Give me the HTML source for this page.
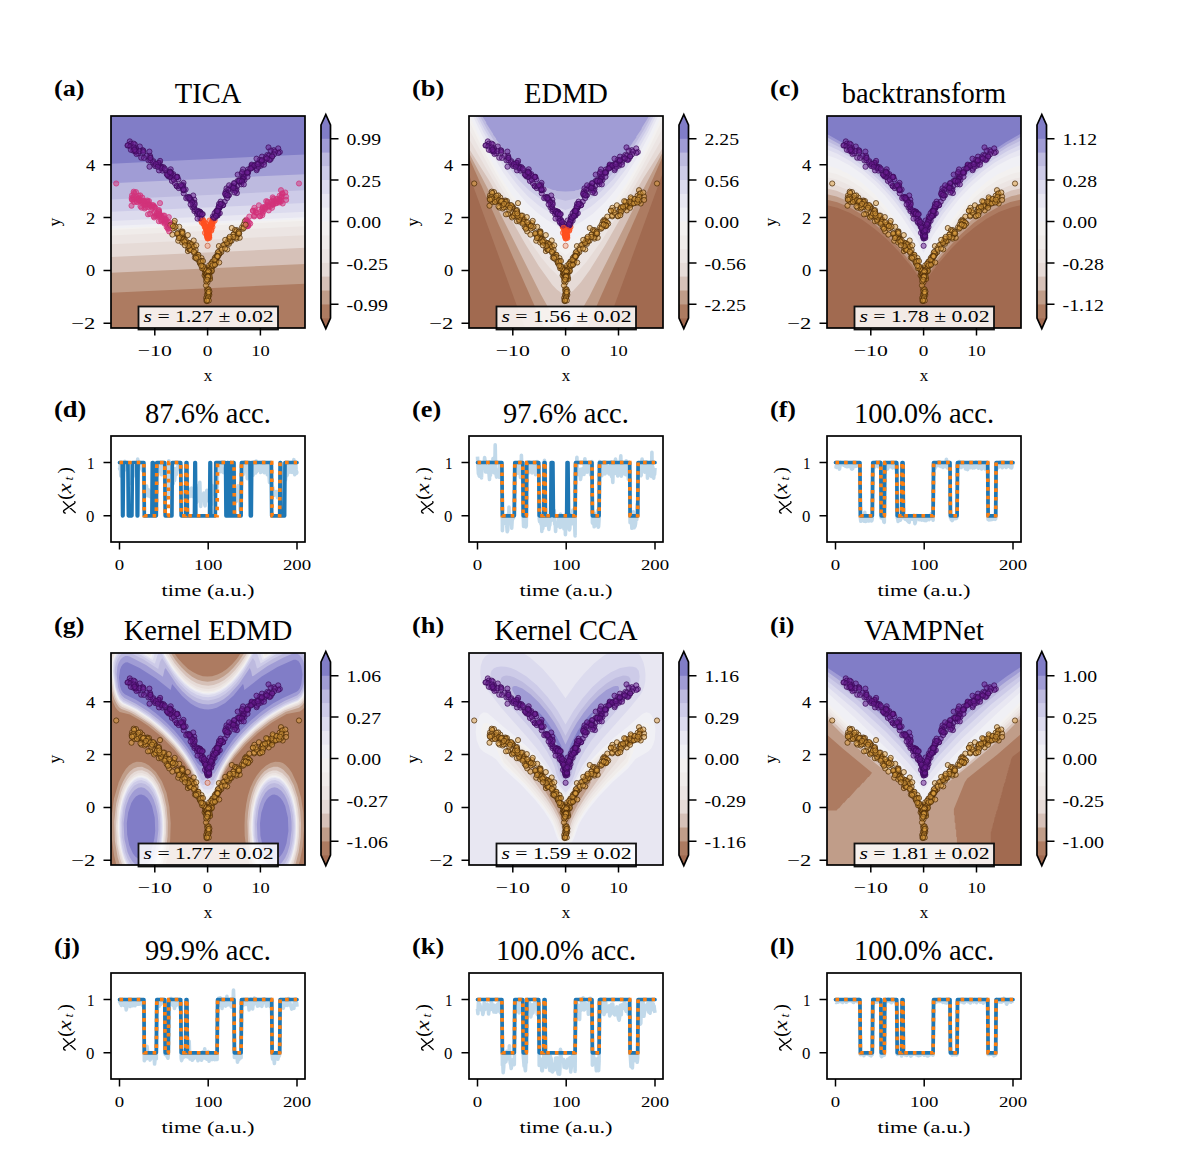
<!DOCTYPE html>
<html><head><meta charset="utf-8"><style>
html,body{margin:0;padding:0;background:#fff;width:1200px;height:1171px;overflow:hidden}
svg{display:block}
text{font-family:"Liberation Serif",serif;fill:#000}
</style></head><body>
<svg width="1200" height="1171" viewBox="0 0 1200 1171">
<defs><clipPath id="c00"><rect x="111.0" y="116.0" width="194.0" height="212.0"/></clipPath><clipPath id="c10"><rect x="469.0" y="116.0" width="194.0" height="212.0"/></clipPath><clipPath id="c20"><rect x="827.0" y="116.0" width="194.0" height="212.0"/></clipPath><clipPath id="c01"><rect x="111.0" y="653.0" width="194.0" height="212.0"/></clipPath><clipPath id="c11"><rect x="469.0" y="653.0" width="194.0" height="212.0"/></clipPath><clipPath id="c21"><rect x="827.0" y="653.0" width="194.0" height="212.0"/></clipPath><clipPath id="t00"><rect x="111.0" y="436.0" width="194.0" height="106.0"/></clipPath><clipPath id="t10"><rect x="469.0" y="436.0" width="194.0" height="106.0"/></clipPath><clipPath id="t20"><rect x="827.0" y="436.0" width="194.0" height="106.0"/></clipPath><clipPath id="t01"><rect x="111.0" y="973.0" width="194.0" height="106.0"/></clipPath><clipPath id="t11"><rect x="469.0" y="973.0" width="194.0" height="106.0"/></clipPath><clipPath id="t21"><rect x="827.0" y="973.0" width="194.0" height="106.0"/></clipPath></defs>
<rect width="1200" height="1171" fill="#fff"/>
<g clip-path="url(#c00)">
<rect x="111.0" y="116.0" width="194.0" height="212.0" fill="#a16a50"/>
<path fill="#ad7b61" d="M108.2 335.9L307.5 335.9 307.5 108 108.2 108 108.2 335.9Z"/>
<path fill="#c09d89" d="M108.2 293L307.5 283.6 307.5 108 108.2 108 108.2 293Z"/>
<path fill="#d6c1b8" d="M108.2 273L307.5 263.8 307.5 108 108.2 108 108.2 273Z"/>
<path fill="#e6dbd7" d="M108.2 256.8L108.2 257.1 307.5 247.7 307.5 108 108.2 108 108.2 256.8Z"/>
<path fill="#ece5e3" d="M108.2 244.4L307.5 235.1 307.5 108 108.2 108 108.2 244.4Z"/>
<path fill="#f0ecea" d="M108.2 234.8L108.2 235.6 307.5 226.1 307.5 108 108.2 108 108.2 234.8Z"/>
<path fill="#f3f1f0" d="M108.2 230.1L307.5 220.7 307.5 108 108.2 108 108.2 230.1Z"/>
<path fill="#f0f0f5" d="M108.2 228.2L110.5 228.4 307.5 219 307.5 108 108.2 108 108.2 228.2Z"/>
<path fill="#e8e7f2" d="M108.2 226.2L307.5 217.1 307.5 108 108.2 108 108.2 226.2Z"/>
<path fill="#dcdbee" d="M108.2 220.5L108.2 221.2 307.5 211.7 307.5 108 108.2 108 108.2 220.5Z"/>
<path fill="#cdcbe8" d="M108.2 211.9L307.5 202.8 307.5 108 108.2 108 108.2 211.9Z"/>
<path fill="#bdbadf" d="M108.2 199.6L307.5 190.2 307.5 108 108.2 108 108.2 199.6Z"/>
<path fill="#a09cd5" d="M108.2 183.3L307.5 174.1 307.5 108 108.2 108 108.2 183.3Z"/>
<path fill="#817dc7" d="M108.2 163.3L108.2 163.8 307.5 154.3 307.5 108 108.2 108 108.2 163.3Z"/>
<g fill="#d2327a" fill-opacity="0.5" stroke="#d2327a" stroke-opacity="0.8" stroke-width="0.9"><circle cx="137" cy="197.5" r="2.6"/><circle cx="278.6" cy="201.4" r="2.6"/></g>
<g fill="#dea040" fill-opacity="0.5" stroke="#4a2a05" stroke-opacity="0.8" stroke-width="0.9"><circle cx="229.7" cy="238.9" r="2.6"/><circle cx="172.4" cy="224.8" r="2.6"/><circle cx="233.9" cy="237.1" r="2.6"/><circle cx="187.8" cy="235.1" r="2.6"/><circle cx="206.6" cy="273.8" r="2.6"/></g>
<g fill="#d2327a" fill-opacity="0.5" stroke="#d2327a" stroke-opacity="0.8" stroke-width="0.9"><circle cx="253" cy="210.8" r="2.6"/></g>
<g fill="#dea040" fill-opacity="0.5" stroke="#4a2a05" stroke-opacity="0.8" stroke-width="0.9"><circle cx="205.7" cy="269.5" r="2.6"/><circle cx="184.1" cy="241.1" r="2.6"/><circle cx="187.3" cy="243.8" r="2.6"/></g>
<g fill="#d2327a" fill-opacity="0.5" stroke="#d2327a" stroke-opacity="0.8" stroke-width="0.9"><circle cx="147.8" cy="204.6" r="2.6"/></g>
<g fill="#dea040" fill-opacity="0.5" stroke="#4a2a05" stroke-opacity="0.8" stroke-width="0.9"><circle cx="174.4" cy="227.9" r="2.6"/><circle cx="182.8" cy="237" r="2.6"/></g>
<g fill="#d2327a" fill-opacity="0.5" stroke="#d2327a" stroke-opacity="0.8" stroke-width="0.9"><circle cx="165.5" cy="220.8" r="2.6"/><circle cx="141.5" cy="207.6" r="2.6"/></g>
<g fill="#dea040" fill-opacity="0.5" stroke="#4a2a05" stroke-opacity="0.8" stroke-width="0.9"><circle cx="205.8" cy="273.3" r="2.6"/></g>
<g fill="#d2327a" fill-opacity="0.5" stroke="#d2327a" stroke-opacity="0.8" stroke-width="0.9"><circle cx="169.2" cy="231.4" r="2.6"/></g>
<g fill="#dea040" fill-opacity="0.5" stroke="#4a2a05" stroke-opacity="0.8" stroke-width="0.9"><circle cx="233.6" cy="234.3" r="2.6"/></g>
<g fill="#d2327a" fill-opacity="0.5" stroke="#d2327a" stroke-opacity="0.8" stroke-width="0.9"><circle cx="269.9" cy="206.7" r="2.6"/></g>
<g fill="#dea040" fill-opacity="0.5" stroke="#4a2a05" stroke-opacity="0.8" stroke-width="0.9"><circle cx="181.6" cy="238.6" r="2.6"/><circle cx="212.5" cy="266.2" r="2.6"/><circle cx="207.5" cy="278.1" r="2.6"/></g>
<g fill="#d2327a" fill-opacity="0.5" stroke="#d2327a" stroke-opacity="0.8" stroke-width="0.9"><circle cx="144.6" cy="208.5" r="2.6"/><circle cx="153.9" cy="216.4" r="2.6"/><circle cx="262.7" cy="212.9" r="2.6"/></g>
<g fill="#dea040" fill-opacity="0.5" stroke="#4a2a05" stroke-opacity="0.8" stroke-width="0.9"><circle cx="204.6" cy="275.4" r="2.6"/></g>
<g fill="#d2327a" fill-opacity="0.5" stroke="#d2327a" stroke-opacity="0.8" stroke-width="0.9"><circle cx="247.4" cy="225.4" r="2.6"/><circle cx="147.3" cy="200.5" r="2.6"/></g>
<g fill="#dea040" fill-opacity="0.5" stroke="#4a2a05" stroke-opacity="0.8" stroke-width="0.9"><circle cx="215.9" cy="262.5" r="2.6"/></g>
<g fill="#d2327a" fill-opacity="0.5" stroke="#d2327a" stroke-opacity="0.8" stroke-width="0.9"><circle cx="256" cy="212.3" r="2.6"/><circle cx="259.8" cy="216.3" r="2.6"/><circle cx="132.1" cy="195.3" r="2.6"/></g>
<g fill="#dea040" fill-opacity="0.5" stroke="#4a2a05" stroke-opacity="0.8" stroke-width="0.9"><circle cx="208.7" cy="275.7" r="2.6"/><circle cx="196.4" cy="255.1" r="2.6"/><circle cx="236.8" cy="230.1" r="2.6"/></g>
<g fill="#d2327a" fill-opacity="0.5" stroke="#d2327a" stroke-opacity="0.8" stroke-width="0.9"><circle cx="149" cy="201.1" r="2.6"/></g>
<g fill="#dea040" fill-opacity="0.5" stroke="#4a2a05" stroke-opacity="0.8" stroke-width="0.9"><circle cx="182.1" cy="235.6" r="2.6"/></g>
<g fill="#d2327a" fill-opacity="0.5" stroke="#d2327a" stroke-opacity="0.8" stroke-width="0.9"><circle cx="246.9" cy="221.9" r="2.6"/></g>
<g fill="#dea040" fill-opacity="0.5" stroke="#4a2a05" stroke-opacity="0.8" stroke-width="0.9"><circle cx="205.3" cy="274.3" r="2.6"/><circle cx="205.7" cy="270.7" r="2.6"/></g>
<g fill="#d2327a" fill-opacity="0.5" stroke="#d2327a" stroke-opacity="0.8" stroke-width="0.9"><circle cx="279.1" cy="199.3" r="2.6"/></g>
<g fill="#dea040" fill-opacity="0.5" stroke="#4a2a05" stroke-opacity="0.8" stroke-width="0.9"><circle cx="191.4" cy="244.8" r="2.6"/></g>
<g fill="#d2327a" fill-opacity="0.5" stroke="#d2327a" stroke-opacity="0.8" stroke-width="0.9"><circle cx="139.6" cy="200.7" r="2.6"/></g>
<g fill="#dea040" fill-opacity="0.5" stroke="#4a2a05" stroke-opacity="0.8" stroke-width="0.9"><circle cx="201.5" cy="258.1" r="2.6"/></g>
<g fill="#d2327a" fill-opacity="0.5" stroke="#d2327a" stroke-opacity="0.8" stroke-width="0.9"><circle cx="158.9" cy="221.2" r="2.6"/><circle cx="147.7" cy="206.9" r="2.6"/></g>
<g fill="#dea040" fill-opacity="0.5" stroke="#4a2a05" stroke-opacity="0.8" stroke-width="0.9"><circle cx="210.9" cy="266.4" r="2.6"/></g>
<g fill="#d2327a" fill-opacity="0.5" stroke="#d2327a" stroke-opacity="0.8" stroke-width="0.9"><circle cx="275.9" cy="201.5" r="2.6"/></g>
<g fill="#dea040" fill-opacity="0.5" stroke="#4a2a05" stroke-opacity="0.8" stroke-width="0.9"><circle cx="213.9" cy="265.2" r="2.6"/><circle cx="221.3" cy="252.1" r="2.6"/><circle cx="188.2" cy="248.3" r="2.6"/><circle cx="212.1" cy="266.2" r="2.6"/><circle cx="231.8" cy="228" r="2.6"/><circle cx="212.6" cy="262" r="2.6"/></g>
<g fill="#d2327a" fill-opacity="0.5" stroke="#d2327a" stroke-opacity="0.8" stroke-width="0.9"><circle cx="247.4" cy="226" r="2.6"/></g>
<g fill="#dea040" fill-opacity="0.5" stroke="#4a2a05" stroke-opacity="0.8" stroke-width="0.9"><circle cx="211.3" cy="270.6" r="2.6"/><circle cx="169.8" cy="225.2" r="2.6"/><circle cx="212.2" cy="263.4" r="2.6"/><circle cx="206.6" cy="277.9" r="2.6"/></g>
<g fill="#d2327a" fill-opacity="0.5" stroke="#d2327a" stroke-opacity="0.8" stroke-width="0.9"><circle cx="163.4" cy="220.5" r="2.6"/></g>
<g fill="#dea040" fill-opacity="0.5" stroke="#4a2a05" stroke-opacity="0.8" stroke-width="0.9"><circle cx="216.2" cy="256.3" r="2.6"/></g>
<g fill="#d2327a" fill-opacity="0.5" stroke="#d2327a" stroke-opacity="0.8" stroke-width="0.9"><circle cx="246.3" cy="219.7" r="2.6"/><circle cx="158.2" cy="215" r="2.6"/></g>
<g fill="#dea040" fill-opacity="0.5" stroke="#4a2a05" stroke-opacity="0.8" stroke-width="0.9"><circle cx="211.1" cy="271.7" r="2.6"/><circle cx="236.6" cy="238.6" r="2.6"/><circle cx="199.6" cy="261.9" r="2.6"/><circle cx="178.2" cy="240.7" r="2.6"/><circle cx="197.9" cy="255" r="2.6"/><circle cx="210.3" cy="272.1" r="2.6"/><circle cx="225.5" cy="243.8" r="2.6"/><circle cx="209.1" cy="267.6" r="2.6"/></g>
<g fill="#d2327a" fill-opacity="0.5" stroke="#d2327a" stroke-opacity="0.8" stroke-width="0.9"><circle cx="155.2" cy="207.4" r="2.6"/><circle cx="250.2" cy="223.6" r="2.6"/><circle cx="267.7" cy="202.9" r="2.6"/><circle cx="154" cy="206.6" r="2.6"/></g>
<g fill="#dea040" fill-opacity="0.5" stroke="#4a2a05" stroke-opacity="0.8" stroke-width="0.9"><circle cx="177.8" cy="234.6" r="2.6"/></g>
<g fill="#d2327a" fill-opacity="0.5" stroke="#d2327a" stroke-opacity="0.8" stroke-width="0.9"><circle cx="164.4" cy="222.3" r="2.6"/><circle cx="254.2" cy="216.4" r="2.6"/><circle cx="268.7" cy="210.4" r="2.6"/><circle cx="142.3" cy="197.6" r="2.6"/></g>
<g fill="#dea040" fill-opacity="0.5" stroke="#4a2a05" stroke-opacity="0.8" stroke-width="0.9"><circle cx="187.9" cy="251.1" r="2.6"/></g>
<g fill="#d2327a" fill-opacity="0.5" stroke="#d2327a" stroke-opacity="0.8" stroke-width="0.9"><circle cx="167.5" cy="225.7" r="2.6"/></g>
<g fill="#dea040" fill-opacity="0.5" stroke="#4a2a05" stroke-opacity="0.8" stroke-width="0.9"><circle cx="206" cy="274" r="2.6"/></g>
<g fill="#d2327a" fill-opacity="0.5" stroke="#d2327a" stroke-opacity="0.8" stroke-width="0.9"><circle cx="268.9" cy="205.7" r="2.6"/><circle cx="146" cy="204.2" r="2.6"/><circle cx="166.1" cy="219.4" r="2.6"/></g>
<g fill="#dea040" fill-opacity="0.5" stroke="#4a2a05" stroke-opacity="0.8" stroke-width="0.9"><circle cx="207" cy="277.1" r="2.6"/><circle cx="207.4" cy="274.8" r="2.6"/><circle cx="239.7" cy="237.7" r="2.6"/><circle cx="203.9" cy="268" r="2.6"/></g>
<g fill="#d2327a" fill-opacity="0.5" stroke="#d2327a" stroke-opacity="0.8" stroke-width="0.9"><circle cx="158.8" cy="216.7" r="2.6"/></g>
<g fill="#dea040" fill-opacity="0.5" stroke="#4a2a05" stroke-opacity="0.8" stroke-width="0.9"><circle cx="194.8" cy="252" r="2.6"/></g>
<g fill="#d2327a" fill-opacity="0.5" stroke="#d2327a" stroke-opacity="0.8" stroke-width="0.9"><circle cx="281.5" cy="196.4" r="2.6"/></g>
<g fill="#dea040" fill-opacity="0.5" stroke="#4a2a05" stroke-opacity="0.8" stroke-width="0.9"><circle cx="238.1" cy="234.5" r="2.6"/></g>
<g fill="#d2327a" fill-opacity="0.5" stroke="#d2327a" stroke-opacity="0.8" stroke-width="0.9"><circle cx="154.1" cy="212.7" r="2.6"/></g>
<g fill="#dea040" fill-opacity="0.5" stroke="#4a2a05" stroke-opacity="0.8" stroke-width="0.9"><circle cx="244.9" cy="221.3" r="2.6"/><circle cx="189.3" cy="243.8" r="2.6"/><circle cx="242.8" cy="228.8" r="2.6"/></g>
<g fill="#d2327a" fill-opacity="0.5" stroke="#d2327a" stroke-opacity="0.8" stroke-width="0.9"><circle cx="136" cy="192.1" r="2.6"/><circle cx="254.4" cy="207.8" r="2.6"/><circle cx="161.4" cy="221.5" r="2.6"/></g>
<g fill="#dea040" fill-opacity="0.5" stroke="#4a2a05" stroke-opacity="0.8" stroke-width="0.9"><circle cx="205.6" cy="271.3" r="2.6"/><circle cx="218.9" cy="246.1" r="2.6"/><circle cx="207" cy="277.9" r="2.6"/></g>
<g fill="#d2327a" fill-opacity="0.5" stroke="#d2327a" stroke-opacity="0.8" stroke-width="0.9"><circle cx="165" cy="218.6" r="2.6"/><circle cx="159.2" cy="215.3" r="2.6"/></g>
<g fill="#dea040" fill-opacity="0.5" stroke="#4a2a05" stroke-opacity="0.8" stroke-width="0.9"><circle cx="183.8" cy="240.3" r="2.6"/></g>
<g fill="#d2327a" fill-opacity="0.5" stroke="#d2327a" stroke-opacity="0.8" stroke-width="0.9"><circle cx="141.6" cy="202.6" r="2.6"/></g>
<g fill="#dea040" fill-opacity="0.5" stroke="#4a2a05" stroke-opacity="0.8" stroke-width="0.9"><circle cx="172.7" cy="228.6" r="2.6"/></g>
<g fill="#d2327a" fill-opacity="0.5" stroke="#d2327a" stroke-opacity="0.8" stroke-width="0.9"><circle cx="159.1" cy="211.9" r="2.6"/></g>
<g fill="#dea040" fill-opacity="0.5" stroke="#4a2a05" stroke-opacity="0.8" stroke-width="0.9"><circle cx="205.6" cy="273.2" r="2.6"/><circle cx="194.3" cy="253.1" r="2.6"/><circle cx="215.2" cy="264" r="2.6"/><circle cx="184.2" cy="238.9" r="2.6"/></g>
<g fill="#d2327a" fill-opacity="0.5" stroke="#d2327a" stroke-opacity="0.8" stroke-width="0.9"><circle cx="136.7" cy="201.7" r="2.6"/></g>
<g fill="#dea040" fill-opacity="0.5" stroke="#4a2a05" stroke-opacity="0.8" stroke-width="0.9"><circle cx="191.3" cy="248.2" r="2.6"/><circle cx="235" cy="230.1" r="2.6"/><circle cx="181" cy="233.7" r="2.6"/><circle cx="201.2" cy="261.4" r="2.6"/><circle cx="236.3" cy="231.4" r="2.6"/><circle cx="200.9" cy="262.1" r="2.6"/></g>
<g fill="#d2327a" fill-opacity="0.5" stroke="#d2327a" stroke-opacity="0.8" stroke-width="0.9"><circle cx="261.7" cy="210.5" r="2.6"/><circle cx="268.3" cy="206.4" r="2.6"/></g>
<g fill="#dea040" fill-opacity="0.5" stroke="#4a2a05" stroke-opacity="0.8" stroke-width="0.9"><circle cx="190" cy="243.1" r="2.6"/><circle cx="236.1" cy="237.4" r="2.6"/><circle cx="182.5" cy="231.4" r="2.6"/></g>
<g fill="#d2327a" fill-opacity="0.5" stroke="#d2327a" stroke-opacity="0.8" stroke-width="0.9"><circle cx="159.7" cy="214.8" r="2.6"/></g>
<g fill="#dea040" fill-opacity="0.5" stroke="#4a2a05" stroke-opacity="0.8" stroke-width="0.9"><circle cx="203.1" cy="268.4" r="2.6"/><circle cx="216.1" cy="260.6" r="2.6"/></g>
<g fill="#d2327a" fill-opacity="0.5" stroke="#d2327a" stroke-opacity="0.8" stroke-width="0.9"><circle cx="272.6" cy="204.7" r="2.6"/><circle cx="161.2" cy="215.6" r="2.6"/></g>
<g fill="#dea040" fill-opacity="0.5" stroke="#4a2a05" stroke-opacity="0.8" stroke-width="0.9"><circle cx="231.5" cy="240.8" r="2.6"/><circle cx="207.7" cy="274.7" r="2.6"/></g>
<g fill="#d2327a" fill-opacity="0.5" stroke="#d2327a" stroke-opacity="0.8" stroke-width="0.9"><circle cx="156.8" cy="215.3" r="2.6"/><circle cx="282.7" cy="203.5" r="2.6"/></g>
<g fill="#dea040" fill-opacity="0.5" stroke="#4a2a05" stroke-opacity="0.8" stroke-width="0.9"><circle cx="229" cy="243.8" r="2.6"/></g>
<g fill="#d2327a" fill-opacity="0.5" stroke="#d2327a" stroke-opacity="0.8" stroke-width="0.9"><circle cx="154.2" cy="217.5" r="2.6"/><circle cx="265.3" cy="207.6" r="2.6"/><circle cx="154.2" cy="207" r="2.6"/><circle cx="151.4" cy="206.4" r="2.6"/></g>
<g fill="#dea040" fill-opacity="0.5" stroke="#4a2a05" stroke-opacity="0.8" stroke-width="0.9"><circle cx="189.5" cy="249.6" r="2.6"/></g>
<g fill="#d2327a" fill-opacity="0.5" stroke="#d2327a" stroke-opacity="0.8" stroke-width="0.9"><circle cx="273.2" cy="204.6" r="2.6"/><circle cx="140.2" cy="195.4" r="2.6"/><circle cx="267.4" cy="205" r="2.6"/></g>
<g fill="#dea040" fill-opacity="0.5" stroke="#4a2a05" stroke-opacity="0.8" stroke-width="0.9"><circle cx="216.5" cy="258.5" r="2.6"/></g>
<g fill="#d2327a" fill-opacity="0.5" stroke="#d2327a" stroke-opacity="0.8" stroke-width="0.9"><circle cx="146.6" cy="201.7" r="2.6"/></g>
<g fill="#dea040" fill-opacity="0.5" stroke="#4a2a05" stroke-opacity="0.8" stroke-width="0.9"><circle cx="209.2" cy="265.4" r="2.6"/><circle cx="206.9" cy="271.5" r="2.6"/><circle cx="211.4" cy="267.6" r="2.6"/><circle cx="233.4" cy="234.6" r="2.6"/><circle cx="224.2" cy="245.1" r="2.6"/></g>
<g fill="#d2327a" fill-opacity="0.5" stroke="#d2327a" stroke-opacity="0.8" stroke-width="0.9"><circle cx="286" cy="196.5" r="2.6"/><circle cx="161.1" cy="219.8" r="2.6"/><circle cx="247.1" cy="222" r="2.6"/></g>
<g fill="#dea040" fill-opacity="0.5" stroke="#4a2a05" stroke-opacity="0.8" stroke-width="0.9"><circle cx="200.2" cy="263.6" r="2.6"/><circle cx="242" cy="227.3" r="2.6"/></g>
<g fill="#d2327a" fill-opacity="0.5" stroke="#d2327a" stroke-opacity="0.8" stroke-width="0.9"><circle cx="262.3" cy="209.4" r="2.6"/><circle cx="281" cy="190.2" r="2.6"/></g>
<g fill="#dea040" fill-opacity="0.5" stroke="#4a2a05" stroke-opacity="0.8" stroke-width="0.9"><circle cx="180.2" cy="237.7" r="2.6"/><circle cx="205" cy="270.9" r="2.6"/></g>
<g fill="#d2327a" fill-opacity="0.5" stroke="#d2327a" stroke-opacity="0.8" stroke-width="0.9"><circle cx="273.3" cy="202.6" r="2.6"/><circle cx="273.1" cy="200.8" r="2.6"/></g>
<g fill="#dea040" fill-opacity="0.5" stroke="#4a2a05" stroke-opacity="0.8" stroke-width="0.9"><circle cx="198.4" cy="254.8" r="2.6"/></g>
<g fill="#d2327a" fill-opacity="0.5" stroke="#d2327a" stroke-opacity="0.8" stroke-width="0.9"><circle cx="273.3" cy="203.7" r="2.6"/></g>
<g fill="#dea040" fill-opacity="0.5" stroke="#4a2a05" stroke-opacity="0.8" stroke-width="0.9"><circle cx="199.7" cy="262.5" r="2.6"/><circle cx="194.9" cy="257.6" r="2.6"/><circle cx="239.1" cy="233.5" r="2.6"/><circle cx="206.9" cy="274.1" r="2.6"/><circle cx="204.8" cy="270" r="2.6"/><circle cx="197.2" cy="259.1" r="2.6"/><circle cx="203" cy="267.3" r="2.6"/></g>
<g fill="#d2327a" fill-opacity="0.5" stroke="#d2327a" stroke-opacity="0.8" stroke-width="0.9"><circle cx="159.8" cy="214.9" r="2.6"/><circle cx="144.5" cy="202.1" r="2.6"/></g>
<g fill="#dea040" fill-opacity="0.5" stroke="#4a2a05" stroke-opacity="0.8" stroke-width="0.9"><circle cx="238" cy="233.3" r="2.6"/><circle cx="211.8" cy="267.7" r="2.6"/><circle cx="227.2" cy="249.4" r="2.6"/></g>
<g fill="#d2327a" fill-opacity="0.5" stroke="#d2327a" stroke-opacity="0.8" stroke-width="0.9"><circle cx="247.4" cy="226.2" r="2.6"/></g>
<g fill="#dea040" fill-opacity="0.5" stroke="#4a2a05" stroke-opacity="0.8" stroke-width="0.9"><circle cx="179.2" cy="226.8" r="2.6"/><circle cx="172.4" cy="234.6" r="2.6"/><circle cx="183.1" cy="238.8" r="2.6"/><circle cx="188.1" cy="242.7" r="2.6"/><circle cx="238.7" cy="231.8" r="2.6"/><circle cx="196" cy="256.7" r="2.6"/><circle cx="190.4" cy="246.6" r="2.6"/><circle cx="219.5" cy="253.8" r="2.6"/></g>
<g fill="#d2327a" fill-opacity="0.5" stroke="#d2327a" stroke-opacity="0.8" stroke-width="0.9"><circle cx="168.3" cy="222.7" r="2.6"/><circle cx="150.1" cy="213.9" r="2.6"/></g>
<g fill="#dea040" fill-opacity="0.5" stroke="#4a2a05" stroke-opacity="0.8" stroke-width="0.9"><circle cx="228.2" cy="242.7" r="2.6"/><circle cx="239" cy="233.4" r="2.6"/><circle cx="185.6" cy="242.4" r="2.6"/><circle cx="219.1" cy="253.7" r="2.6"/></g>
<g fill="#d2327a" fill-opacity="0.5" stroke="#d2327a" stroke-opacity="0.8" stroke-width="0.9"><circle cx="138.9" cy="198.1" r="2.6"/></g>
<g fill="#dea040" fill-opacity="0.5" stroke="#4a2a05" stroke-opacity="0.8" stroke-width="0.9"><circle cx="201.7" cy="261.1" r="2.6"/><circle cx="213.4" cy="265.3" r="2.6"/><circle cx="181.7" cy="232.2" r="2.6"/><circle cx="195.6" cy="249.9" r="2.6"/><circle cx="214.8" cy="258" r="2.6"/><circle cx="212.4" cy="261.7" r="2.6"/></g>
<g fill="#d2327a" fill-opacity="0.5" stroke="#d2327a" stroke-opacity="0.8" stroke-width="0.9"><circle cx="162.2" cy="217.5" r="2.6"/></g>
<g fill="#dea040" fill-opacity="0.5" stroke="#4a2a05" stroke-opacity="0.8" stroke-width="0.9"><circle cx="229.6" cy="241" r="2.6"/></g>
<g fill="#d2327a" fill-opacity="0.5" stroke="#d2327a" stroke-opacity="0.8" stroke-width="0.9"><circle cx="149" cy="204.1" r="2.6"/><circle cx="280.9" cy="201.7" r="2.6"/></g>
<g fill="#dea040" fill-opacity="0.5" stroke="#4a2a05" stroke-opacity="0.8" stroke-width="0.9"><circle cx="171.7" cy="224.7" r="2.6"/><circle cx="178.9" cy="234.9" r="2.6"/><circle cx="170.2" cy="225.5" r="2.6"/></g>
<g fill="#d2327a" fill-opacity="0.5" stroke="#d2327a" stroke-opacity="0.8" stroke-width="0.9"><circle cx="286.1" cy="199.9" r="2.6"/></g>
<g fill="#dea040" fill-opacity="0.5" stroke="#4a2a05" stroke-opacity="0.8" stroke-width="0.9"><circle cx="183.5" cy="241.2" r="2.6"/><circle cx="215.8" cy="259.7" r="2.6"/></g>
<g fill="#d2327a" fill-opacity="0.5" stroke="#d2327a" stroke-opacity="0.8" stroke-width="0.9"><circle cx="282.5" cy="193.8" r="2.6"/><circle cx="273.3" cy="198.9" r="2.6"/><circle cx="139.7" cy="200.9" r="2.6"/></g>
<g fill="#dea040" fill-opacity="0.5" stroke="#4a2a05" stroke-opacity="0.8" stroke-width="0.9"><circle cx="208.5" cy="275.7" r="2.6"/><circle cx="216.4" cy="261.1" r="2.6"/><circle cx="228" cy="240.9" r="2.6"/><circle cx="191.8" cy="249.1" r="2.6"/><circle cx="192.1" cy="246.6" r="2.6"/></g>
<g fill="#d2327a" fill-opacity="0.5" stroke="#d2327a" stroke-opacity="0.8" stroke-width="0.9"><circle cx="133.7" cy="191.7" r="2.6"/><circle cx="138.2" cy="199.8" r="2.6"/></g>
<g fill="#dea040" fill-opacity="0.5" stroke="#4a2a05" stroke-opacity="0.8" stroke-width="0.9"><circle cx="211.9" cy="270.9" r="2.6"/></g>
<g fill="#d2327a" fill-opacity="0.5" stroke="#d2327a" stroke-opacity="0.8" stroke-width="0.9"><circle cx="145.6" cy="207.3" r="2.6"/><circle cx="168.6" cy="228" r="2.6"/></g>
<g fill="#dea040" fill-opacity="0.5" stroke="#4a2a05" stroke-opacity="0.8" stroke-width="0.9"><circle cx="189.9" cy="249.8" r="2.6"/></g>
<g fill="#d2327a" fill-opacity="0.5" stroke="#d2327a" stroke-opacity="0.8" stroke-width="0.9"><circle cx="147.7" cy="201.7" r="2.6"/><circle cx="137.6" cy="198.7" r="2.6"/><circle cx="272" cy="207.8" r="2.6"/></g>
<g fill="#dea040" fill-opacity="0.5" stroke="#4a2a05" stroke-opacity="0.8" stroke-width="0.9"><circle cx="204.3" cy="267.2" r="2.6"/><circle cx="174.1" cy="223.1" r="2.6"/><circle cx="230.3" cy="241" r="2.6"/></g>
<g fill="#d2327a" fill-opacity="0.5" stroke="#d2327a" stroke-opacity="0.8" stroke-width="0.9"><circle cx="131.7" cy="198" r="2.6"/></g>
<g fill="#dea040" fill-opacity="0.5" stroke="#4a2a05" stroke-opacity="0.8" stroke-width="0.9"><circle cx="177.9" cy="233.1" r="2.6"/></g>
<g fill="#d2327a" fill-opacity="0.5" stroke="#d2327a" stroke-opacity="0.8" stroke-width="0.9"><circle cx="276.6" cy="199.1" r="2.6"/><circle cx="262.6" cy="207.3" r="2.6"/></g>
<g fill="#dea040" fill-opacity="0.5" stroke="#4a2a05" stroke-opacity="0.8" stroke-width="0.9"><circle cx="217.7" cy="252.8" r="2.6"/></g>
<g fill="#d2327a" fill-opacity="0.5" stroke="#d2327a" stroke-opacity="0.8" stroke-width="0.9"><circle cx="152.4" cy="205.2" r="2.6"/></g>
<g fill="#dea040" fill-opacity="0.5" stroke="#4a2a05" stroke-opacity="0.8" stroke-width="0.9"><circle cx="191.7" cy="244" r="2.6"/></g>
<g fill="#d2327a" fill-opacity="0.5" stroke="#d2327a" stroke-opacity="0.8" stroke-width="0.9"><circle cx="138.5" cy="195.7" r="2.6"/></g>
<g fill="#dea040" fill-opacity="0.5" stroke="#4a2a05" stroke-opacity="0.8" stroke-width="0.9"><circle cx="175.5" cy="226.7" r="2.6"/></g>
<g fill="#d2327a" fill-opacity="0.5" stroke="#d2327a" stroke-opacity="0.8" stroke-width="0.9"><circle cx="134" cy="202" r="2.6"/><circle cx="156.9" cy="213.1" r="2.6"/></g>
<g fill="#dea040" fill-opacity="0.5" stroke="#4a2a05" stroke-opacity="0.8" stroke-width="0.9"><circle cx="218.7" cy="254.1" r="2.6"/></g>
<g fill="#d2327a" fill-opacity="0.5" stroke="#d2327a" stroke-opacity="0.8" stroke-width="0.9"><circle cx="151.3" cy="209.8" r="2.6"/><circle cx="164.4" cy="215.6" r="2.6"/><circle cx="265.2" cy="208.7" r="2.6"/></g>
<g fill="#dea040" fill-opacity="0.5" stroke="#4a2a05" stroke-opacity="0.8" stroke-width="0.9"><circle cx="190.7" cy="249.8" r="2.6"/><circle cx="194.1" cy="246.6" r="2.6"/></g>
<g fill="#d2327a" fill-opacity="0.5" stroke="#d2327a" stroke-opacity="0.8" stroke-width="0.9"><circle cx="150.1" cy="205.4" r="2.6"/></g>
<g fill="#dea040" fill-opacity="0.5" stroke="#4a2a05" stroke-opacity="0.8" stroke-width="0.9"><circle cx="243.7" cy="224.5" r="2.6"/><circle cx="223.3" cy="245.1" r="2.6"/><circle cx="209" cy="270.4" r="2.6"/><circle cx="216.8" cy="257" r="2.6"/></g>
<g fill="#d2327a" fill-opacity="0.5" stroke="#d2327a" stroke-opacity="0.8" stroke-width="0.9"><circle cx="148" cy="214.3" r="2.6"/></g>
<g fill="#dea040" fill-opacity="0.5" stroke="#4a2a05" stroke-opacity="0.8" stroke-width="0.9"><circle cx="179.7" cy="236.4" r="2.6"/><circle cx="214" cy="264.2" r="2.6"/></g>
<g fill="#d2327a" fill-opacity="0.5" stroke="#d2327a" stroke-opacity="0.8" stroke-width="0.9"><circle cx="276.6" cy="203.1" r="2.6"/><circle cx="247.6" cy="221" r="2.6"/></g>
<g fill="#dea040" fill-opacity="0.5" stroke="#4a2a05" stroke-opacity="0.8" stroke-width="0.9"><circle cx="218.3" cy="251.8" r="2.6"/><circle cx="208.7" cy="276.2" r="2.6"/></g>
<g fill="#d2327a" fill-opacity="0.5" stroke="#d2327a" stroke-opacity="0.8" stroke-width="0.9"><circle cx="132.3" cy="199.8" r="2.6"/><circle cx="258.9" cy="205.3" r="2.6"/><circle cx="144.3" cy="205.1" r="2.6"/><circle cx="155.6" cy="215.9" r="2.6"/></g>
<g fill="#dea040" fill-opacity="0.5" stroke="#4a2a05" stroke-opacity="0.8" stroke-width="0.9"><circle cx="226.9" cy="242.9" r="2.6"/></g>
<g fill="#d2327a" fill-opacity="0.5" stroke="#d2327a" stroke-opacity="0.8" stroke-width="0.9"><circle cx="246.3" cy="221.4" r="2.6"/></g>
<g fill="#dea040" fill-opacity="0.5" stroke="#4a2a05" stroke-opacity="0.8" stroke-width="0.9"><circle cx="243.8" cy="227.9" r="2.6"/><circle cx="205.9" cy="270.4" r="2.6"/></g>
<g fill="#d2327a" fill-opacity="0.5" stroke="#d2327a" stroke-opacity="0.8" stroke-width="0.9"><circle cx="165.8" cy="221.9" r="2.6"/><circle cx="137" cy="201.9" r="2.6"/><circle cx="254.1" cy="215.5" r="2.6"/><circle cx="279.7" cy="195.7" r="2.6"/></g>
<g fill="#dea040" fill-opacity="0.5" stroke="#4a2a05" stroke-opacity="0.8" stroke-width="0.9"><circle cx="177.1" cy="233.5" r="2.6"/></g>
<g fill="#d2327a" fill-opacity="0.5" stroke="#d2327a" stroke-opacity="0.8" stroke-width="0.9"><circle cx="256.7" cy="212.8" r="2.6"/></g>
<g fill="#dea040" fill-opacity="0.5" stroke="#4a2a05" stroke-opacity="0.8" stroke-width="0.9"><circle cx="200.3" cy="261.4" r="2.6"/><circle cx="193.7" cy="240.5" r="2.6"/><circle cx="208.4" cy="278.6" r="2.6"/></g>
<g fill="#d2327a" fill-opacity="0.5" stroke="#d2327a" stroke-opacity="0.8" stroke-width="0.9"><circle cx="134.1" cy="193" r="2.6"/></g>
<g fill="#dea040" fill-opacity="0.5" stroke="#4a2a05" stroke-opacity="0.8" stroke-width="0.9"><circle cx="204.2" cy="269" r="2.6"/><circle cx="170.5" cy="224.9" r="2.6"/><circle cx="228.9" cy="238.5" r="2.6"/><circle cx="206.8" cy="278.7" r="2.6"/></g>
<g fill="#d2327a" fill-opacity="0.5" stroke="#d2327a" stroke-opacity="0.8" stroke-width="0.9"><circle cx="255.7" cy="210.4" r="2.6"/><circle cx="262.9" cy="208.1" r="2.6"/></g>
<g fill="#dea040" fill-opacity="0.5" stroke="#4a2a05" stroke-opacity="0.8" stroke-width="0.9"><circle cx="188.5" cy="246.1" r="2.6"/><circle cx="183.1" cy="239.6" r="2.6"/></g>
<g fill="#d2327a" fill-opacity="0.5" stroke="#d2327a" stroke-opacity="0.8" stroke-width="0.9"><circle cx="271.6" cy="201.5" r="2.6"/></g>
<g fill="#dea040" fill-opacity="0.5" stroke="#4a2a05" stroke-opacity="0.8" stroke-width="0.9"><circle cx="207.1" cy="278.6" r="2.6"/></g>
<g fill="#d2327a" fill-opacity="0.5" stroke="#d2327a" stroke-opacity="0.8" stroke-width="0.9"><circle cx="153.4" cy="205.3" r="2.6"/><circle cx="141.2" cy="200.2" r="2.6"/><circle cx="282.3" cy="193.4" r="2.6"/></g>
<g fill="#dea040" fill-opacity="0.5" stroke="#4a2a05" stroke-opacity="0.8" stroke-width="0.9"><circle cx="211.2" cy="263.8" r="2.6"/></g>
<g fill="#d2327a" fill-opacity="0.5" stroke="#d2327a" stroke-opacity="0.8" stroke-width="0.9"><circle cx="142.6" cy="202" r="2.6"/></g>
<g fill="#dea040" fill-opacity="0.5" stroke="#4a2a05" stroke-opacity="0.8" stroke-width="0.9"><circle cx="209.3" cy="277.7" r="2.6"/><circle cx="208.8" cy="278.8" r="2.6"/><circle cx="202.1" cy="268.3" r="2.6"/></g>
<g fill="#d2327a" fill-opacity="0.5" stroke="#d2327a" stroke-opacity="0.8" stroke-width="0.9"><circle cx="272.7" cy="197.4" r="2.6"/><circle cx="275.6" cy="203.3" r="2.6"/><circle cx="158.9" cy="210" r="2.6"/><circle cx="163" cy="215.6" r="2.6"/></g>
<g fill="#dea040" fill-opacity="0.5" stroke="#4a2a05" stroke-opacity="0.8" stroke-width="0.9"><circle cx="203" cy="261.1" r="2.6"/></g>
<g fill="#d2327a" fill-opacity="0.5" stroke="#d2327a" stroke-opacity="0.8" stroke-width="0.9"><circle cx="249.3" cy="216.6" r="2.6"/></g>
<g fill="#dea040" fill-opacity="0.5" stroke="#4a2a05" stroke-opacity="0.8" stroke-width="0.9"><circle cx="218.1" cy="256.3" r="2.6"/><circle cx="233.3" cy="236.9" r="2.6"/><circle cx="212.6" cy="265.3" r="2.6"/><circle cx="172.9" cy="226.1" r="2.6"/></g>
<g fill="#d2327a" fill-opacity="0.5" stroke="#d2327a" stroke-opacity="0.8" stroke-width="0.9"><circle cx="249" cy="222.4" r="2.6"/><circle cx="133.5" cy="197.1" r="2.6"/></g>
<g fill="#dea040" fill-opacity="0.5" stroke="#4a2a05" stroke-opacity="0.8" stroke-width="0.9"><circle cx="225.2" cy="239.9" r="2.6"/></g>
<g fill="#d2327a" fill-opacity="0.5" stroke="#d2327a" stroke-opacity="0.8" stroke-width="0.9"><circle cx="166.7" cy="227.1" r="2.6"/></g>
<g fill="#dea040" fill-opacity="0.5" stroke="#4a2a05" stroke-opacity="0.8" stroke-width="0.9"><circle cx="206.6" cy="274.2" r="2.6"/></g>
<g fill="#d2327a" fill-opacity="0.5" stroke="#d2327a" stroke-opacity="0.8" stroke-width="0.9"><circle cx="281.4" cy="200" r="2.6"/></g>
<g fill="#dea040" fill-opacity="0.5" stroke="#4a2a05" stroke-opacity="0.8" stroke-width="0.9"><circle cx="209.3" cy="272.3" r="2.6"/></g>
<g fill="#d2327a" fill-opacity="0.5" stroke="#d2327a" stroke-opacity="0.8" stroke-width="0.9"><circle cx="144.2" cy="200.8" r="2.6"/></g>
<g fill="#dea040" fill-opacity="0.5" stroke="#4a2a05" stroke-opacity="0.8" stroke-width="0.9"><circle cx="203" cy="266.4" r="2.6"/><circle cx="221.4" cy="248.4" r="2.6"/></g>
<g fill="#d2327a" fill-opacity="0.5" stroke="#d2327a" stroke-opacity="0.8" stroke-width="0.9"><circle cx="140.5" cy="206.3" r="2.6"/></g>
<g fill="#dea040" fill-opacity="0.5" stroke="#4a2a05" stroke-opacity="0.8" stroke-width="0.9"><circle cx="182" cy="231.8" r="2.6"/></g>
<g fill="#d2327a" fill-opacity="0.5" stroke="#d2327a" stroke-opacity="0.8" stroke-width="0.9"><circle cx="133.7" cy="199" r="2.6"/></g>
<g fill="#dea040" fill-opacity="0.5" stroke="#4a2a05" stroke-opacity="0.8" stroke-width="0.9"><circle cx="208.9" cy="271.9" r="2.6"/><circle cx="198.3" cy="257.2" r="2.6"/><circle cx="210.1" cy="279" r="2.6"/><circle cx="185.1" cy="242.6" r="2.6"/><circle cx="221.8" cy="249.7" r="2.6"/></g>
<g fill="#d2327a" fill-opacity="0.5" stroke="#d2327a" stroke-opacity="0.8" stroke-width="0.9"><circle cx="168.8" cy="217.1" r="2.6"/><circle cx="265" cy="206.7" r="2.6"/><circle cx="276.5" cy="199.2" r="2.6"/></g>
<g fill="#dea040" fill-opacity="0.5" stroke="#4a2a05" stroke-opacity="0.8" stroke-width="0.9"><circle cx="206.1" cy="278.3" r="2.6"/><circle cx="207.4" cy="272.7" r="2.6"/></g>
<g fill="#d2327a" fill-opacity="0.5" stroke="#d2327a" stroke-opacity="0.8" stroke-width="0.9"><circle cx="252.9" cy="210.7" r="2.6"/></g>
<g fill="#dea040" fill-opacity="0.5" stroke="#4a2a05" stroke-opacity="0.8" stroke-width="0.9"><circle cx="185.7" cy="240.4" r="2.6"/></g>
<g fill="#d2327a" fill-opacity="0.5" stroke="#d2327a" stroke-opacity="0.8" stroke-width="0.9"><circle cx="245.8" cy="224.2" r="2.6"/></g>
<g fill="#dea040" fill-opacity="0.5" stroke="#4a2a05" stroke-opacity="0.8" stroke-width="0.9"><circle cx="182.2" cy="242.5" r="2.6"/><circle cx="229.7" cy="236.9" r="2.6"/><circle cx="196.3" cy="245.3" r="2.6"/><circle cx="214.5" cy="259.7" r="2.6"/></g>
<g fill="#d2327a" fill-opacity="0.5" stroke="#d2327a" stroke-opacity="0.8" stroke-width="0.9"><circle cx="267.6" cy="201.7" r="2.6"/><circle cx="143.2" cy="201.1" r="2.6"/><circle cx="247.9" cy="225" r="2.6"/></g>
<g fill="#dea040" fill-opacity="0.5" stroke="#4a2a05" stroke-opacity="0.8" stroke-width="0.9"><circle cx="208.3" cy="271.3" r="2.6"/><circle cx="196" cy="258" r="2.6"/><circle cx="193.8" cy="251.7" r="2.6"/></g>
<g fill="#d2327a" fill-opacity="0.5" stroke="#d2327a" stroke-opacity="0.8" stroke-width="0.9"><circle cx="146" cy="203.8" r="2.6"/></g>
<g fill="#dea040" fill-opacity="0.5" stroke="#4a2a05" stroke-opacity="0.8" stroke-width="0.9"><circle cx="182.5" cy="233.2" r="2.6"/><circle cx="217.3" cy="256" r="2.6"/></g>
<g fill="#d2327a" fill-opacity="0.5" stroke="#d2327a" stroke-opacity="0.8" stroke-width="0.9"><circle cx="152" cy="207.7" r="2.6"/></g>
<g fill="#dea040" fill-opacity="0.5" stroke="#4a2a05" stroke-opacity="0.8" stroke-width="0.9"><circle cx="225.1" cy="248.5" r="2.6"/></g>
<g fill="#d2327a" fill-opacity="0.5" stroke="#d2327a" stroke-opacity="0.8" stroke-width="0.9"><circle cx="279.1" cy="202.5" r="2.6"/><circle cx="281.4" cy="197" r="2.6"/><circle cx="263" cy="211.5" r="2.6"/><circle cx="248.4" cy="225.8" r="2.6"/><circle cx="164.6" cy="223.6" r="2.6"/><circle cx="279.8" cy="199.6" r="2.6"/><circle cx="167.9" cy="228.8" r="2.6"/><circle cx="260.1" cy="215.9" r="2.6"/><circle cx="262.3" cy="215.2" r="2.6"/></g>
<g fill="#dea040" fill-opacity="0.5" stroke="#4a2a05" stroke-opacity="0.8" stroke-width="0.9"><circle cx="217.5" cy="256.4" r="2.6"/><circle cx="208" cy="275.5" r="2.6"/><circle cx="174.7" cy="220.9" r="2.6"/><circle cx="209.7" cy="276.4" r="2.6"/><circle cx="184.5" cy="241.6" r="2.6"/></g>
<g fill="#d2327a" fill-opacity="0.5" stroke="#d2327a" stroke-opacity="0.8" stroke-width="0.9"><circle cx="158.5" cy="210.9" r="2.6"/><circle cx="157.1" cy="213.6" r="2.6"/></g>
<g fill="#dea040" fill-opacity="0.5" stroke="#4a2a05" stroke-opacity="0.8" stroke-width="0.9"><circle cx="245.6" cy="224.7" r="2.6"/></g>
<g fill="#d2327a" fill-opacity="0.5" stroke="#d2327a" stroke-opacity="0.8" stroke-width="0.9"><circle cx="266.2" cy="201.2" r="2.6"/><circle cx="159.5" cy="216" r="2.6"/><circle cx="131.9" cy="199.6" r="2.6"/></g>
<g fill="#dea040" fill-opacity="0.5" stroke="#4a2a05" stroke-opacity="0.8" stroke-width="0.9"><circle cx="178.9" cy="238.1" r="2.6"/></g>
<g fill="#d2327a" fill-opacity="0.5" stroke="#d2327a" stroke-opacity="0.8" stroke-width="0.9"><circle cx="159.3" cy="213.4" r="2.6"/><circle cx="169.4" cy="222.2" r="2.6"/></g>
<g fill="#dea040" fill-opacity="0.5" stroke="#4a2a05" stroke-opacity="0.8" stroke-width="0.9"><circle cx="215" cy="264.8" r="2.6"/><circle cx="201.3" cy="265.7" r="2.6"/><circle cx="207.9" cy="297.4" r="2.6"/><circle cx="208" cy="289.3" r="2.6"/><circle cx="207.2" cy="300.8" r="2.6"/><circle cx="208" cy="292.5" r="2.6"/><circle cx="208" cy="277.1" r="2.6"/><circle cx="206.5" cy="301" r="2.6"/><circle cx="207.4" cy="282.4" r="2.6"/><circle cx="207.9" cy="279.4" r="2.6"/><circle cx="207.2" cy="289.3" r="2.6"/><circle cx="206.2" cy="281.3" r="2.6"/><circle cx="207.4" cy="291.2" r="2.6"/><circle cx="208.1" cy="293.6" r="2.6"/><circle cx="208.6" cy="289.4" r="2.6"/><circle cx="206.2" cy="298" r="2.6"/><circle cx="209.3" cy="294.9" r="2.6"/><circle cx="206.9" cy="294.9" r="2.6"/><circle cx="208.2" cy="276" r="2.6"/><circle cx="208.4" cy="294.1" r="2.6"/><circle cx="208.2" cy="297.1" r="2.6"/><circle cx="207.7" cy="277.3" r="2.6"/><circle cx="206.9" cy="299.6" r="2.6"/><circle cx="208" cy="276.6" r="2.6"/><circle cx="207.1" cy="279.7" r="2.6"/><circle cx="206" cy="285.5" r="2.6"/><circle cx="209.4" cy="291.5" r="2.6"/><circle cx="208" cy="297.9" r="2.6"/><circle cx="208.8" cy="300.5" r="2.6"/><circle cx="207" cy="300.5" r="2.6"/><circle cx="208.5" cy="293.7" r="2.6"/><circle cx="208.6" cy="292.1" r="2.6"/></g>
<g fill="#d2327a" fill-opacity="0.5" stroke="#d2327a" stroke-opacity="0.8" stroke-width="0.9"><circle cx="116.2" cy="183.5" r="2.6"/><circle cx="299" cy="183.5" r="2.6"/><circle cx="131.5" cy="205.7" r="2.6"/><circle cx="285.3" cy="192.5" r="2.6"/><circle cx="160" cy="203.1" r="2.6"/></g>
<g fill="#dea040" fill-opacity="0.5" stroke="#4a2a05" stroke-opacity="0.8" stroke-width="0.9"><circle cx="219.2" cy="262.5" r="2.6"/><circle cx="184.9" cy="245.3" r="2.6"/></g>
<g fill="#6c1d92" fill-opacity="0.5" stroke="#3c0a5a" stroke-opacity="0.8" stroke-width="0.9"><circle cx="217.6" cy="215.5" r="2.6"/><circle cx="257.7" cy="164" r="2.6"/><circle cx="237.1" cy="186.2" r="2.6"/><circle cx="178.3" cy="179.4" r="2.6"/><circle cx="187.5" cy="197.4" r="2.6"/><circle cx="251.7" cy="166.2" r="2.6"/><circle cx="129.8" cy="141.4" r="2.6"/><circle cx="243.6" cy="177" r="2.6"/><circle cx="240.1" cy="181.9" r="2.6"/></g>
<g fill="#ff4f1f" fill-opacity="0.5" stroke="#ff4f1f" stroke-opacity="0.8" stroke-width="0.9"><circle cx="206.8" cy="232.8" r="2.6"/></g>
<g fill="#6c1d92" fill-opacity="0.5" stroke="#3c0a5a" stroke-opacity="0.8" stroke-width="0.9"><circle cx="189.3" cy="197" r="2.6"/><circle cx="183.7" cy="193.3" r="2.6"/><circle cx="182.7" cy="186.2" r="2.6"/></g>
<g fill="#ff4f1f" fill-opacity="0.5" stroke="#ff4f1f" stroke-opacity="0.8" stroke-width="0.9"><circle cx="207.4" cy="227.3" r="2.6"/><circle cx="207.9" cy="238.3" r="2.6"/><circle cx="209.8" cy="229.1" r="2.6"/></g>
<g fill="#6c1d92" fill-opacity="0.5" stroke="#3c0a5a" stroke-opacity="0.8" stroke-width="0.9"><circle cx="279.8" cy="152" r="2.6"/><circle cx="237.5" cy="181" r="2.6"/><circle cx="216.8" cy="215.8" r="2.6"/><circle cx="278.4" cy="152.9" r="2.6"/><circle cx="177.3" cy="176.7" r="2.6"/><circle cx="162.4" cy="170.6" r="2.6"/><circle cx="212.9" cy="216.4" r="2.6"/><circle cx="139.8" cy="146.5" r="2.6"/><circle cx="136.1" cy="148.3" r="2.6"/></g>
<g fill="#ff4f1f" fill-opacity="0.5" stroke="#ff4f1f" stroke-opacity="0.8" stroke-width="0.9"><circle cx="207.3" cy="236.4" r="2.6"/><circle cx="208.5" cy="232" r="2.6"/></g>
<g fill="#6c1d92" fill-opacity="0.5" stroke="#3c0a5a" stroke-opacity="0.8" stroke-width="0.9"><circle cx="261.7" cy="160.9" r="2.6"/><circle cx="216.7" cy="214" r="2.6"/></g>
<g fill="#ff4f1f" fill-opacity="0.5" stroke="#ff4f1f" stroke-opacity="0.8" stroke-width="0.9"><circle cx="209.1" cy="236.8" r="2.6"/><circle cx="207.6" cy="238.5" r="2.6"/></g>
<g fill="#6c1d92" fill-opacity="0.5" stroke="#3c0a5a" stroke-opacity="0.8" stroke-width="0.9"><circle cx="183.5" cy="182.9" r="2.6"/><circle cx="130.9" cy="143.6" r="2.6"/><circle cx="168.7" cy="176.5" r="2.6"/><circle cx="224.7" cy="201.8" r="2.6"/><circle cx="171.1" cy="177.2" r="2.6"/><circle cx="198.6" cy="211.2" r="2.6"/><circle cx="127.5" cy="145.5" r="2.6"/><circle cx="244.2" cy="174.4" r="2.6"/><circle cx="163.4" cy="167.1" r="2.6"/><circle cx="183.2" cy="190.1" r="2.6"/><circle cx="254.1" cy="166.4" r="2.6"/></g>
<g fill="#ff4f1f" fill-opacity="0.5" stroke="#ff4f1f" stroke-opacity="0.8" stroke-width="0.9"><circle cx="207.5" cy="237.4" r="2.6"/></g>
<g fill="#6c1d92" fill-opacity="0.5" stroke="#3c0a5a" stroke-opacity="0.8" stroke-width="0.9"><circle cx="247.9" cy="172" r="2.6"/><circle cx="216.3" cy="211.1" r="2.6"/><circle cx="226.5" cy="188.4" r="2.6"/><circle cx="150" cy="155.8" r="2.6"/></g>
<g fill="#ff4f1f" fill-opacity="0.5" stroke="#ff4f1f" stroke-opacity="0.8" stroke-width="0.9"><circle cx="208.9" cy="231.4" r="2.6"/><circle cx="209.3" cy="237.9" r="2.6"/></g>
<g fill="#6c1d92" fill-opacity="0.5" stroke="#3c0a5a" stroke-opacity="0.8" stroke-width="0.9"><circle cx="251.6" cy="167" r="2.6"/><circle cx="194.4" cy="211.1" r="2.6"/></g>
<g fill="#ff4f1f" fill-opacity="0.5" stroke="#ff4f1f" stroke-opacity="0.8" stroke-width="0.9"><circle cx="214.6" cy="220.7" r="2.6"/></g>
<g fill="#6c1d92" fill-opacity="0.5" stroke="#3c0a5a" stroke-opacity="0.8" stroke-width="0.9"><circle cx="142.7" cy="150.2" r="2.6"/><circle cx="201.1" cy="214.9" r="2.6"/><circle cx="192" cy="201.5" r="2.6"/><circle cx="159" cy="170.4" r="2.6"/><circle cx="242.9" cy="178" r="2.6"/><circle cx="198.4" cy="214" r="2.6"/><circle cx="273.8" cy="150.2" r="2.6"/></g>
<g fill="#ff4f1f" fill-opacity="0.5" stroke="#ff4f1f" stroke-opacity="0.8" stroke-width="0.9"><circle cx="209.6" cy="220.5" r="2.6"/></g>
<g fill="#6c1d92" fill-opacity="0.5" stroke="#3c0a5a" stroke-opacity="0.8" stroke-width="0.9"><circle cx="213.3" cy="218.4" r="2.6"/><circle cx="217.9" cy="212.4" r="2.6"/><circle cx="223.1" cy="205.2" r="2.6"/><circle cx="162" cy="167.2" r="2.6"/></g>
<g fill="#ff4f1f" fill-opacity="0.5" stroke="#ff4f1f" stroke-opacity="0.8" stroke-width="0.9"><circle cx="204.8" cy="227" r="2.6"/></g>
<g fill="#6c1d92" fill-opacity="0.5" stroke="#3c0a5a" stroke-opacity="0.8" stroke-width="0.9"><circle cx="176.8" cy="186" r="2.6"/><circle cx="201.8" cy="218.6" r="2.6"/><circle cx="148.5" cy="160.5" r="2.6"/><circle cx="270.6" cy="150.5" r="2.6"/><circle cx="176.8" cy="177.1" r="2.6"/><circle cx="219" cy="204" r="2.6"/><circle cx="188.1" cy="197.1" r="2.6"/><circle cx="251.9" cy="166.2" r="2.6"/><circle cx="219.7" cy="207" r="2.6"/><circle cx="157.4" cy="164.5" r="2.6"/><circle cx="248" cy="172.9" r="2.6"/><circle cx="269.2" cy="159.2" r="2.6"/><circle cx="261.1" cy="165.6" r="2.6"/></g>
<g fill="#ff4f1f" fill-opacity="0.5" stroke="#ff4f1f" stroke-opacity="0.8" stroke-width="0.9"><circle cx="209.8" cy="225.4" r="2.6"/></g>
<g fill="#6c1d92" fill-opacity="0.5" stroke="#3c0a5a" stroke-opacity="0.8" stroke-width="0.9"><circle cx="160.7" cy="166.5" r="2.6"/><circle cx="170.9" cy="174.3" r="2.6"/><circle cx="262" cy="156.6" r="2.6"/></g>
<g fill="#ff4f1f" fill-opacity="0.5" stroke="#ff4f1f" stroke-opacity="0.8" stroke-width="0.9"><circle cx="211.3" cy="229.8" r="2.6"/></g>
<g fill="#6c1d92" fill-opacity="0.5" stroke="#3c0a5a" stroke-opacity="0.8" stroke-width="0.9"><circle cx="166.7" cy="174" r="2.6"/><circle cx="254.4" cy="165.3" r="2.6"/><circle cx="216.7" cy="210.8" r="2.6"/></g>
<g fill="#ff4f1f" fill-opacity="0.5" stroke="#ff4f1f" stroke-opacity="0.8" stroke-width="0.9"><circle cx="211.1" cy="225.9" r="2.6"/></g>
<g fill="#6c1d92" fill-opacity="0.5" stroke="#3c0a5a" stroke-opacity="0.8" stroke-width="0.9"><circle cx="200.3" cy="212.2" r="2.6"/></g>
<g fill="#ff4f1f" fill-opacity="0.5" stroke="#ff4f1f" stroke-opacity="0.8" stroke-width="0.9"><circle cx="202.8" cy="220.4" r="2.6"/></g>
<g fill="#6c1d92" fill-opacity="0.5" stroke="#3c0a5a" stroke-opacity="0.8" stroke-width="0.9"><circle cx="176.6" cy="186" r="2.6"/><circle cx="135.2" cy="151.5" r="2.6"/><circle cx="251.8" cy="165.3" r="2.6"/></g>
<g fill="#ff4f1f" fill-opacity="0.5" stroke="#ff4f1f" stroke-opacity="0.8" stroke-width="0.9"><circle cx="207.1" cy="232.7" r="2.6"/><circle cx="211.2" cy="230.7" r="2.6"/></g>
<g fill="#6c1d92" fill-opacity="0.5" stroke="#3c0a5a" stroke-opacity="0.8" stroke-width="0.9"><circle cx="194.3" cy="199.7" r="2.6"/><circle cx="230.4" cy="188.4" r="2.6"/><circle cx="134.8" cy="144.4" r="2.6"/><circle cx="197.9" cy="212.3" r="2.6"/><circle cx="134.1" cy="149" r="2.6"/><circle cx="154.3" cy="164.6" r="2.6"/><circle cx="268.5" cy="147.4" r="2.6"/><circle cx="219.3" cy="207.9" r="2.6"/></g>
<g fill="#ff4f1f" fill-opacity="0.5" stroke="#ff4f1f" stroke-opacity="0.8" stroke-width="0.9"><circle cx="205.8" cy="223.6" r="2.6"/><circle cx="208.8" cy="234.9" r="2.6"/></g>
<g fill="#6c1d92" fill-opacity="0.5" stroke="#3c0a5a" stroke-opacity="0.8" stroke-width="0.9"><circle cx="252.2" cy="167.2" r="2.6"/><circle cx="192.5" cy="207.4" r="2.6"/></g>
<g fill="#ff4f1f" fill-opacity="0.5" stroke="#ff4f1f" stroke-opacity="0.8" stroke-width="0.9"><circle cx="212.7" cy="221.7" r="2.6"/></g>
<g fill="#6c1d92" fill-opacity="0.5" stroke="#3c0a5a" stroke-opacity="0.8" stroke-width="0.9"><circle cx="220.6" cy="201.6" r="2.6"/><circle cx="194.6" cy="209.4" r="2.6"/></g>
<g fill="#ff4f1f" fill-opacity="0.5" stroke="#ff4f1f" stroke-opacity="0.8" stroke-width="0.9"><circle cx="207" cy="235.5" r="2.6"/></g>
<g fill="#6c1d92" fill-opacity="0.5" stroke="#3c0a5a" stroke-opacity="0.8" stroke-width="0.9"><circle cx="233" cy="186.1" r="2.6"/><circle cx="261.4" cy="163.9" r="2.6"/><circle cx="161.3" cy="168.1" r="2.6"/><circle cx="265.5" cy="159" r="2.6"/><circle cx="128" cy="145.3" r="2.6"/><circle cx="232.9" cy="189.9" r="2.6"/><circle cx="242.8" cy="179.9" r="2.6"/><circle cx="158.6" cy="165.2" r="2.6"/></g>
<g fill="#ff4f1f" fill-opacity="0.5" stroke="#ff4f1f" stroke-opacity="0.8" stroke-width="0.9"><circle cx="202" cy="222.7" r="2.6"/></g>
<g fill="#6c1d92" fill-opacity="0.5" stroke="#3c0a5a" stroke-opacity="0.8" stroke-width="0.9"><circle cx="244.5" cy="179.9" r="2.6"/><circle cx="130.4" cy="146.3" r="2.6"/><circle cx="214.6" cy="213.2" r="2.6"/><circle cx="241.3" cy="184.3" r="2.6"/></g>
<g fill="#ff4f1f" fill-opacity="0.5" stroke="#ff4f1f" stroke-opacity="0.8" stroke-width="0.9"><circle cx="207.8" cy="236.8" r="2.6"/></g>
<g fill="#6c1d92" fill-opacity="0.5" stroke="#3c0a5a" stroke-opacity="0.8" stroke-width="0.9"><circle cx="229" cy="195.1" r="2.6"/><circle cx="174.8" cy="183.1" r="2.6"/><circle cx="173.3" cy="174.2" r="2.6"/><circle cx="196.7" cy="210.4" r="2.6"/><circle cx="170.7" cy="169.3" r="2.6"/><circle cx="194.1" cy="207" r="2.6"/><circle cx="267.3" cy="155" r="2.6"/></g>
<g fill="#ff4f1f" fill-opacity="0.5" stroke="#ff4f1f" stroke-opacity="0.8" stroke-width="0.9"><circle cx="211.2" cy="225.1" r="2.6"/></g>
<g fill="#6c1d92" fill-opacity="0.5" stroke="#3c0a5a" stroke-opacity="0.8" stroke-width="0.9"><circle cx="193.3" cy="205.7" r="2.6"/><circle cx="185.6" cy="189.5" r="2.6"/><circle cx="269" cy="155.6" r="2.6"/></g>
<g fill="#ff4f1f" fill-opacity="0.5" stroke="#ff4f1f" stroke-opacity="0.8" stroke-width="0.9"><circle cx="205.9" cy="227.6" r="2.6"/></g>
<g fill="#6c1d92" fill-opacity="0.5" stroke="#3c0a5a" stroke-opacity="0.8" stroke-width="0.9"><circle cx="275.1" cy="151.5" r="2.6"/></g>
<g fill="#ff4f1f" fill-opacity="0.5" stroke="#ff4f1f" stroke-opacity="0.8" stroke-width="0.9"><circle cx="208.9" cy="236.5" r="2.6"/><circle cx="208.2" cy="235.3" r="2.6"/></g>
<g fill="#6c1d92" fill-opacity="0.5" stroke="#3c0a5a" stroke-opacity="0.8" stroke-width="0.9"><circle cx="257.1" cy="163.5" r="2.6"/><circle cx="228.4" cy="189.5" r="2.6"/></g>
<g fill="#ff4f1f" fill-opacity="0.5" stroke="#ff4f1f" stroke-opacity="0.8" stroke-width="0.9"><circle cx="212.5" cy="223.9" r="2.6"/><circle cx="203.8" cy="224" r="2.6"/></g>
<g fill="#6c1d92" fill-opacity="0.5" stroke="#3c0a5a" stroke-opacity="0.8" stroke-width="0.9"><circle cx="256.6" cy="170.2" r="2.6"/></g>
<g fill="#ff4f1f" fill-opacity="0.5" stroke="#ff4f1f" stroke-opacity="0.8" stroke-width="0.9"><circle cx="203.3" cy="220.3" r="2.6"/></g>
<g fill="#6c1d92" fill-opacity="0.5" stroke="#3c0a5a" stroke-opacity="0.8" stroke-width="0.9"><circle cx="264.2" cy="161.9" r="2.6"/><circle cx="141.2" cy="157.7" r="2.6"/></g>
<g fill="#ff4f1f" fill-opacity="0.5" stroke="#ff4f1f" stroke-opacity="0.8" stroke-width="0.9"><circle cx="204.1" cy="224.7" r="2.6"/><circle cx="206.9" cy="235.4" r="2.6"/></g>
<g fill="#6c1d92" fill-opacity="0.5" stroke="#3c0a5a" stroke-opacity="0.8" stroke-width="0.9"><circle cx="270.8" cy="158.9" r="2.6"/><circle cx="178.8" cy="188.1" r="2.6"/><circle cx="241.9" cy="180.5" r="2.6"/><circle cx="223" cy="205.1" r="2.6"/><circle cx="225.9" cy="195.5" r="2.6"/><circle cx="217" cy="214.1" r="2.6"/><circle cx="274" cy="154.3" r="2.6"/><circle cx="194.5" cy="202.8" r="2.6"/><circle cx="200.3" cy="218.1" r="2.6"/><circle cx="173.3" cy="175.9" r="2.6"/><circle cx="138.2" cy="153.3" r="2.6"/><circle cx="171.9" cy="180.9" r="2.6"/><circle cx="264" cy="164.7" r="2.6"/><circle cx="243" cy="169.4" r="2.6"/><circle cx="153.3" cy="161.1" r="2.6"/><circle cx="213.1" cy="218.7" r="2.6"/></g>
<g fill="#ff4f1f" fill-opacity="0.5" stroke="#ff4f1f" stroke-opacity="0.8" stroke-width="0.9"><circle cx="207.1" cy="235.2" r="2.6"/><circle cx="212.4" cy="220.6" r="2.6"/></g>
<g fill="#6c1d92" fill-opacity="0.5" stroke="#3c0a5a" stroke-opacity="0.8" stroke-width="0.9"><circle cx="219.1" cy="207.4" r="2.6"/><circle cx="193.2" cy="195.5" r="2.6"/><circle cx="272.3" cy="156.4" r="2.6"/></g>
<g fill="#ff4f1f" fill-opacity="0.5" stroke="#ff4f1f" stroke-opacity="0.8" stroke-width="0.9"><circle cx="205" cy="232.8" r="2.6"/></g>
<g fill="#6c1d92" fill-opacity="0.5" stroke="#3c0a5a" stroke-opacity="0.8" stroke-width="0.9"><circle cx="217.1" cy="214.5" r="2.6"/><circle cx="218.4" cy="213.3" r="2.6"/><circle cx="170.2" cy="171.6" r="2.6"/><circle cx="143.3" cy="150.7" r="2.6"/></g>
<g fill="#ff4f1f" fill-opacity="0.5" stroke="#ff4f1f" stroke-opacity="0.8" stroke-width="0.9"><circle cx="201.4" cy="221.1" r="2.6"/></g>
<g fill="#6c1d92" fill-opacity="0.5" stroke="#3c0a5a" stroke-opacity="0.8" stroke-width="0.9"><circle cx="236.4" cy="189.3" r="2.6"/><circle cx="242.7" cy="178.1" r="2.6"/><circle cx="225.8" cy="191.5" r="2.6"/><circle cx="149.5" cy="166.7" r="2.6"/><circle cx="259.7" cy="159.9" r="2.6"/><circle cx="241.9" cy="181.8" r="2.6"/><circle cx="251.7" cy="164.6" r="2.6"/></g>
<g fill="#ff4f1f" fill-opacity="0.5" stroke="#ff4f1f" stroke-opacity="0.8" stroke-width="0.9"><circle cx="209.2" cy="235.1" r="2.6"/></g>
<g fill="#6c1d92" fill-opacity="0.5" stroke="#3c0a5a" stroke-opacity="0.8" stroke-width="0.9"><circle cx="261.5" cy="161.3" r="2.6"/><circle cx="136.5" cy="154" r="2.6"/><circle cx="133.2" cy="150.6" r="2.6"/><circle cx="133.6" cy="143.6" r="2.6"/><circle cx="183.1" cy="185.2" r="2.6"/><circle cx="179.8" cy="186.4" r="2.6"/><circle cx="167.9" cy="175.5" r="2.6"/></g>
<g fill="#ff4f1f" fill-opacity="0.5" stroke="#ff4f1f" stroke-opacity="0.8" stroke-width="0.9"><circle cx="212.5" cy="227" r="2.6"/></g>
<g fill="#6c1d92" fill-opacity="0.5" stroke="#3c0a5a" stroke-opacity="0.8" stroke-width="0.9"><circle cx="136.1" cy="150.3" r="2.6"/></g>
<g fill="#ff4f1f" fill-opacity="0.5" stroke="#ff4f1f" stroke-opacity="0.8" stroke-width="0.9"><circle cx="212.3" cy="221.5" r="2.6"/></g>
<g fill="#6c1d92" fill-opacity="0.5" stroke="#3c0a5a" stroke-opacity="0.8" stroke-width="0.9"><circle cx="165.1" cy="170" r="2.6"/><circle cx="221.6" cy="203.8" r="2.6"/><circle cx="130.8" cy="149.8" r="2.6"/><circle cx="190.3" cy="198.7" r="2.6"/><circle cx="265.9" cy="157.3" r="2.6"/></g>
<g fill="#ff4f1f" fill-opacity="0.5" stroke="#ff4f1f" stroke-opacity="0.8" stroke-width="0.9"><circle cx="207.5" cy="231.7" r="2.6"/></g>
<g fill="#6c1d92" fill-opacity="0.5" stroke="#3c0a5a" stroke-opacity="0.8" stroke-width="0.9"><circle cx="237.7" cy="174.6" r="2.6"/><circle cx="219.3" cy="207.9" r="2.6"/><circle cx="215" cy="217.8" r="2.6"/><circle cx="170.1" cy="174.6" r="2.6"/></g>
<g fill="#ff4f1f" fill-opacity="0.5" stroke="#ff4f1f" stroke-opacity="0.8" stroke-width="0.9"><circle cx="211.7" cy="225" r="2.6"/></g>
<g fill="#6c1d92" fill-opacity="0.5" stroke="#3c0a5a" stroke-opacity="0.8" stroke-width="0.9"><circle cx="135.8" cy="151.3" r="2.6"/><circle cx="239.8" cy="180" r="2.6"/><circle cx="272" cy="156.5" r="2.6"/><circle cx="247.9" cy="169.5" r="2.6"/><circle cx="139.4" cy="151.3" r="2.6"/><circle cx="194.7" cy="204.4" r="2.6"/><circle cx="191.2" cy="200.4" r="2.6"/><circle cx="152.8" cy="162.1" r="2.6"/><circle cx="216.9" cy="214.8" r="2.6"/><circle cx="239.4" cy="181.1" r="2.6"/><circle cx="190" cy="199.9" r="2.6"/><circle cx="250.2" cy="168.7" r="2.6"/><circle cx="238.9" cy="180.8" r="2.6"/><circle cx="155.2" cy="166.1" r="2.6"/><circle cx="233.9" cy="186.3" r="2.6"/><circle cx="256.8" cy="168.7" r="2.6"/><circle cx="170.2" cy="176.8" r="2.6"/></g>
<g fill="#ff4f1f" fill-opacity="0.5" stroke="#ff4f1f" stroke-opacity="0.8" stroke-width="0.9"><circle cx="211.3" cy="225" r="2.6"/></g>
<g fill="#6c1d92" fill-opacity="0.5" stroke="#3c0a5a" stroke-opacity="0.8" stroke-width="0.9"><circle cx="219.8" cy="213.2" r="2.6"/><circle cx="213.8" cy="217.6" r="2.6"/><circle cx="150.5" cy="157.5" r="2.6"/><circle cx="219.7" cy="207.2" r="2.6"/><circle cx="216.8" cy="213.3" r="2.6"/><circle cx="244.2" cy="176.6" r="2.6"/><circle cx="241.9" cy="181.4" r="2.6"/><circle cx="192.3" cy="202.5" r="2.6"/><circle cx="228.3" cy="195.7" r="2.6"/><circle cx="251.3" cy="168.2" r="2.6"/><circle cx="258.5" cy="166.8" r="2.6"/><circle cx="164.7" cy="168.5" r="2.6"/><circle cx="133.7" cy="147.4" r="2.6"/><circle cx="218.4" cy="209.3" r="2.6"/><circle cx="173.8" cy="179.8" r="2.6"/></g>
<g fill="#ff4f1f" fill-opacity="0.5" stroke="#ff4f1f" stroke-opacity="0.8" stroke-width="0.9"><circle cx="209.7" cy="226.7" r="2.6"/></g>
<g fill="#6c1d92" fill-opacity="0.5" stroke="#3c0a5a" stroke-opacity="0.8" stroke-width="0.9"><circle cx="269.7" cy="160.1" r="2.6"/><circle cx="199.9" cy="213.2" r="2.6"/><circle cx="181.9" cy="186.2" r="2.6"/></g>
<g fill="#ff4f1f" fill-opacity="0.5" stroke="#ff4f1f" stroke-opacity="0.8" stroke-width="0.9"><circle cx="206.3" cy="230.4" r="2.6"/></g>
<g fill="#6c1d92" fill-opacity="0.5" stroke="#3c0a5a" stroke-opacity="0.8" stroke-width="0.9"><circle cx="218.4" cy="207.6" r="2.6"/><circle cx="150.3" cy="160.1" r="2.6"/><circle cx="199.1" cy="214" r="2.6"/><circle cx="159.6" cy="162.7" r="2.6"/><circle cx="218.9" cy="206.5" r="2.6"/><circle cx="244.3" cy="174.3" r="2.6"/><circle cx="197" cy="214.1" r="2.6"/><circle cx="199.2" cy="211.5" r="2.6"/></g>
<g fill="#ff4f1f" fill-opacity="0.5" stroke="#ff4f1f" stroke-opacity="0.8" stroke-width="0.9"><circle cx="207.7" cy="231.5" r="2.6"/></g>
<g fill="#6c1d92" fill-opacity="0.5" stroke="#3c0a5a" stroke-opacity="0.8" stroke-width="0.9"><circle cx="176.7" cy="177.2" r="2.6"/><circle cx="180.9" cy="185.1" r="2.6"/><circle cx="190.6" cy="204.4" r="2.6"/></g>
<g fill="#ff4f1f" fill-opacity="0.5" stroke="#ff4f1f" stroke-opacity="0.8" stroke-width="0.9"><circle cx="207" cy="230.4" r="2.6"/></g>
<g fill="#6c1d92" fill-opacity="0.5" stroke="#3c0a5a" stroke-opacity="0.8" stroke-width="0.9"><circle cx="146.6" cy="155.9" r="2.6"/><circle cx="236.9" cy="193.1" r="2.6"/></g>
<g fill="#ff4f1f" fill-opacity="0.5" stroke="#ff4f1f" stroke-opacity="0.8" stroke-width="0.9"><circle cx="210.9" cy="223.7" r="2.6"/></g>
<g fill="#6c1d92" fill-opacity="0.5" stroke="#3c0a5a" stroke-opacity="0.8" stroke-width="0.9"><circle cx="186.2" cy="198.2" r="2.6"/><circle cx="144" cy="157.9" r="2.6"/><circle cx="234.7" cy="188.2" r="2.6"/><circle cx="160.1" cy="160.9" r="2.6"/><circle cx="157.8" cy="164.7" r="2.6"/><circle cx="158.3" cy="163" r="2.6"/><circle cx="149.4" cy="151.6" r="2.6"/><circle cx="256.5" cy="158.7" r="2.6"/><circle cx="183.9" cy="190.1" r="2.6"/><circle cx="189.4" cy="198" r="2.6"/><circle cx="247.5" cy="176.8" r="2.6"/><circle cx="215.9" cy="215.9" r="2.6"/><circle cx="170.2" cy="172.9" r="2.6"/></g>
<g fill="#ff4f1f" fill-opacity="0.5" stroke="#ff4f1f" stroke-opacity="0.8" stroke-width="0.9"><circle cx="205" cy="225.6" r="2.6"/></g>
<g fill="#6c1d92" fill-opacity="0.5" stroke="#3c0a5a" stroke-opacity="0.8" stroke-width="0.9"><circle cx="254.5" cy="165.5" r="2.6"/><circle cx="200.2" cy="212" r="2.6"/><circle cx="227.1" cy="198.1" r="2.6"/><circle cx="150.3" cy="158" r="2.6"/><circle cx="226.7" cy="193" r="2.6"/><circle cx="234.3" cy="183.6" r="2.6"/><circle cx="241.8" cy="173.5" r="2.6"/><circle cx="220.4" cy="204.1" r="2.6"/><circle cx="197.9" cy="211.9" r="2.6"/><circle cx="143.3" cy="152.1" r="2.6"/></g>
<g fill="#ff4f1f" fill-opacity="0.5" stroke="#ff4f1f" stroke-opacity="0.8" stroke-width="0.9"><circle cx="208.9" cy="235.9" r="2.6"/></g>
<g fill="#6c1d92" fill-opacity="0.5" stroke="#3c0a5a" stroke-opacity="0.8" stroke-width="0.9"><circle cx="235.8" cy="190.8" r="2.6"/><circle cx="171.2" cy="173.3" r="2.6"/><circle cx="183.5" cy="189.4" r="2.6"/></g>
<g fill="#ff4f1f" fill-opacity="0.5" stroke="#ff4f1f" stroke-opacity="0.8" stroke-width="0.9"><circle cx="208.4" cy="232.4" r="2.6"/></g>
<g fill="#6c1d92" fill-opacity="0.5" stroke="#3c0a5a" stroke-opacity="0.8" stroke-width="0.9"><circle cx="234.5" cy="192.5" r="2.6"/><circle cx="257.8" cy="164.4" r="2.6"/><circle cx="155.8" cy="164" r="2.6"/><circle cx="167.3" cy="174.8" r="2.6"/><circle cx="243.8" cy="184.4" r="2.6"/><circle cx="218" cy="210.7" r="2.6"/><circle cx="225.5" cy="194" r="2.6"/><circle cx="278.2" cy="148.4" r="2.6"/><circle cx="266.9" cy="158.5" r="2.6"/><circle cx="247" cy="172.6" r="2.6"/><circle cx="234.1" cy="183.1" r="2.6"/><circle cx="197.5" cy="218.6" r="2.6"/><circle cx="217.3" cy="211.2" r="2.6"/><circle cx="169.9" cy="172.1" r="2.6"/><circle cx="231.5" cy="186.6" r="2.6"/><circle cx="229.1" cy="185.3" r="2.6"/><circle cx="225.1" cy="193.7" r="2.6"/></g>
<g fill="#ff4f1f" fill-opacity="0.5" stroke="#ff4f1f" stroke-opacity="0.8" stroke-width="0.9"><circle cx="205.6" cy="227.8" r="2.6"/></g>
<g fill="#6c1d92" fill-opacity="0.5" stroke="#3c0a5a" stroke-opacity="0.8" stroke-width="0.9"><circle cx="199.6" cy="213.1" r="2.6"/></g>
<g fill="#ff4f1f" fill-opacity="0.5" stroke="#ff4f1f" stroke-opacity="0.8" stroke-width="0.9"><circle cx="204.2" cy="222.1" r="2.6"/></g>
<g fill="#6c1d92" fill-opacity="0.5" stroke="#3c0a5a" stroke-opacity="0.8" stroke-width="0.9"><circle cx="134.5" cy="149.9" r="2.6"/><circle cx="247.3" cy="172.4" r="2.6"/></g>
<g fill="#ff4f1f" fill-opacity="0.5" stroke="#ff4f1f" stroke-opacity="0.8" stroke-width="0.9"><circle cx="208.1" cy="231" r="2.6"/></g>
<g fill="#6c1d92" fill-opacity="0.5" stroke="#3c0a5a" stroke-opacity="0.8" stroke-width="0.9"><circle cx="202.7" cy="214.1" r="2.6"/></g>
<g fill="#ff4f1f" fill-opacity="0.5" stroke="#ff4f1f" stroke-opacity="0.8" stroke-width="0.9"><circle cx="209.4" cy="230.1" r="2.6"/></g>
<g fill="#6c1d92" fill-opacity="0.5" stroke="#3c0a5a" stroke-opacity="0.8" stroke-width="0.9"><circle cx="227.3" cy="195.1" r="2.6"/><circle cx="199.8" cy="213.9" r="2.6"/><circle cx="242.2" cy="172.1" r="2.6"/><circle cx="261.9" cy="160.1" r="2.6"/><circle cx="202.1" cy="214.4" r="2.6"/><circle cx="157.7" cy="166.8" r="2.6"/><circle cx="233.4" cy="187.9" r="2.6"/></g>
<g fill="#f5a080" fill-opacity="0.5" stroke="#c06040" stroke-opacity="0.8" stroke-width="0.9"><circle cx="207.6" cy="245.8" r="2.6"/></g>
</g>
<rect x="138.5" y="306.5" width="139.5" height="23" fill="#ffffff" fill-opacity="0.86" stroke="#111" stroke-width="1.8"/>
<text x="208.6" y="322.2" font-size="16" text-anchor="middle" textLength="130" lengthAdjust="spacingAndGlyphs"><tspan font-style="italic">s</tspan> = 1.27 ± 0.02</text>
<rect x="111.0" y="116.0" width="194.0" height="212.0" fill="none" stroke="#000" stroke-width="1.7"/>
<text x="95.2" y="329.2" font-size="16" text-anchor="end" textLength="24" lengthAdjust="spacingAndGlyphs">−2</text>
<text x="95.2" y="276.4" font-size="16" text-anchor="end" textLength="9.2" lengthAdjust="spacingAndGlyphs">0</text>
<text x="95.2" y="223.6" font-size="16" text-anchor="end" textLength="9.2" lengthAdjust="spacingAndGlyphs">2</text>
<text x="95.2" y="170.8" font-size="16" text-anchor="end" textLength="9.2" lengthAdjust="spacingAndGlyphs">4</text>
<text x="154.8" y="355.7" font-size="15.5" text-anchor="middle" textLength="34" lengthAdjust="spacingAndGlyphs">−10</text>
<text x="207.6" y="355.7" font-size="15.5" text-anchor="middle" textLength="9.6" lengthAdjust="spacingAndGlyphs">0</text>
<text x="260.4" y="355.7" font-size="15.5" text-anchor="middle" textLength="18.4" lengthAdjust="spacingAndGlyphs">10</text>
<path d="M103.5 323.2H111M103.5 270.4H111M103.5 217.6H111M103.5 164.8H111M154.8 328V335.5M207.6 328V335.5M260.4 328V335.5" stroke="#000" stroke-width="1.5" fill="none"/>
<text x="208" y="380.7" font-size="17" text-anchor="middle">x</text>
<text transform="translate(59.5 222) rotate(-90)" font-size="17.5" text-anchor="middle">y</text>
<text x="208" y="102.6" font-size="28.5" text-anchor="middle">TICA</text>
<text x="54" y="95.5" font-size="24" font-weight="bold" textLength="30.5" lengthAdjust="spacingAndGlyphs">(a)</text>
<path fill="#817dc7" d="M321 125.5L325.8 114.5L330.5 125.5Z"/>
<path fill="#a16a50" d="M321 317.5L325.8 328.7L330.5 317.5Z"/>
<rect x="321" y="125" width="9.5" height="14.2" fill="#817dc7"/>
<rect x="321" y="138.8" width="9.5" height="14.2" fill="#a09cd5"/>
<rect x="321" y="152.6" width="9.5" height="14.2" fill="#bdbadf"/>
<rect x="321" y="166.4" width="9.5" height="14.2" fill="#cdcbe8"/>
<rect x="321" y="180.1" width="9.5" height="14.2" fill="#dcdbee"/>
<rect x="321" y="193.9" width="9.5" height="14.2" fill="#e8e7f2"/>
<rect x="321" y="207.7" width="9.5" height="14.2" fill="#f0f0f5"/>
<rect x="321" y="221.5" width="9.5" height="14.2" fill="#f3f1f0"/>
<rect x="321" y="235.3" width="9.5" height="14.2" fill="#f0ecea"/>
<rect x="321" y="249.1" width="9.5" height="14.2" fill="#ece5e3"/>
<rect x="321" y="262.9" width="9.5" height="14.2" fill="#e6dbd7"/>
<rect x="321" y="276.6" width="9.5" height="14.2" fill="#d6c1b8"/>
<rect x="321" y="290.4" width="9.5" height="14.2" fill="#c09d89"/>
<rect x="321" y="304.2" width="9.5" height="14.2" fill="#ad7b61"/>
<path fill="none" stroke="#000" stroke-width="1.7" stroke-linejoin="miter" d="M321 125L325.8 114.5L330.5 125L330.5 318L325.8 328.7L321 318Z"/>
<text x="346.5" y="145.4" font-size="17" textLength="34.5" lengthAdjust="spacingAndGlyphs">0.99</text>
<text x="346.5" y="186.7" font-size="17" textLength="34.5" lengthAdjust="spacingAndGlyphs">0.25</text>
<text x="346.5" y="228.1" font-size="17" textLength="34.5" lengthAdjust="spacingAndGlyphs">0.00</text>
<text x="346.5" y="269.5" font-size="17" textLength="41.5" lengthAdjust="spacingAndGlyphs">-0.25</text>
<text x="346.5" y="310.8" font-size="17" textLength="41.5" lengthAdjust="spacingAndGlyphs">-0.99</text>
<path d="M330.5 138.8H338.5M330.5 180.1H338.5M330.5 221.5H338.5M330.5 262.9H338.5M330.5 304.2H338.5" stroke="#000" stroke-width="1.5" fill="none"/>
<g clip-path="url(#c10)">
<rect x="469.0" y="116.0" width="194.0" height="212.0" fill="#a16a50"/>
<path fill="#ad7b61" d="M527.5 334.9L527.9 335.9 603.3 335.9 665.5 165.4 665.5 108 466.2 108 466.2 166.9 527.5 334.9Z"/>
<path fill="#c09d89" d="M547.4 334.9L547.9 335.9 583.4 335.9 665.1 150.9 665.5 149.8 665.5 108 466.2 108 466.5 151.9 547.4 334.9Z"/>
<path fill="#d6c1b8" d="M565.2 334.9L565.5 335.2 567 333.6 573.9 323.4 589.3 296.4 644.3 187.2 665.5 146.7 665.5 108 466.2 108 466.2 147.7 487.4 188.1 540.9 294.5 554.7 319.3 565.2 334.9Z"/>
<path fill="#e6dbd7" d="M562.8 293.9L564.7 294.7 567 294.6 573.2 290.7 580.9 282.3 589.8 270.1 605.1 245.3 643.2 178.6 665.5 143.6 665.5 108 466.2 108 466.2 144.4 488.5 179.5 525 243.4 538.9 266.3 552.4 284.9 557 289.8 562.8 293.9Z"/>
<path fill="#ece5e3" d="M563.9 279.6L565.5 280.5 572.4 276.3 578.6 270.8 586.3 262.1 601.6 240.8 622 208.1 665.5 132.9 665.5 108 466.2 108 466.2 133.8 509.8 209.1 530.9 242.8 540.9 256.9 549.3 267.2 557.8 275.5 563.9 279.6Z"/>
<path fill="#f0ecea" d="M565.5 267.2L578.6 257.5 591.6 244 606.3 225.1 621.3 202.4 642 167.1 665.5 122.7 665.5 108 466.2 108 466.2 123.7 489.7 168.1 509.9 202.4 525.5 225.8 539.3 243.7 552.4 257.2 565.5 267.2Z"/>
<path fill="#f3f1f0" d="M565.1 254.8L565.5 255.4 579.3 244.9 590.1 235.4 603.2 221.1 616.6 203.4 631.2 180.5 647.5 150.9 665.5 113.4 665.5 108 466.2 108 466.2 114.6 480.3 144.3 496.7 174.8 512 199.6 524.7 217 536.2 230.5 548.6 242.2 565.1 254.8Z"/>
<path fill="#f0f0f5" d="M565.1 245.3L565.5 246 568.6 242.9 583.2 232.9 592.5 225.3 603.9 213.8 616.3 198.6 627.8 181.5 640.1 160.2 652.4 135.8 664.7 108 466.5 108 477 132 487.8 153.9 499.3 174.8 510.9 192.9 523.9 210 534.7 221.6 545.5 231 562.4 242.7 565.1 245.3Z"/>
<path fill="#e8e7f2" d="M565.3 231L582.4 221.2 593.2 213.4 605.5 201.8 615.5 190.1 626.6 174.8 638.3 155.7 650.4 132.8 662 108 469.2 108 481.2 133.8 491.3 152.8 502.8 171.9 514.9 189.1 527 203.2 537 212.6 547 220.1 563 229.1 565.3 231Z"/>
<path fill="#dcdbee" d="M564.9 219.6L565.5 220.1 578.6 214 590.9 206.7 602.4 197.1 613.2 185.7 625.3 170 635.8 153.8 648.1 131.9 659.8 108 471.4 108 483.6 132.8 494.2 151.9 505.9 170 517 184.5 527.8 196.2 539.3 206 549.3 212.3 564.9 219.6Z"/>
<path fill="#cdcbe8" d="M565.4 210L578.6 205.6 589.3 200 600.9 191.4 612.4 180 623.9 165.9 635.5 148.8 646.5 130 657.7 108 473.5 108 484.2 129 495.8 149 507 165.5 518.6 179.8 529.3 190.5 540.9 199.3 550.9 204.8 565.4 210Z"/>
<path fill="#bdbadf" d="M564.5 200.5L565.5 200.8 576.2 198.4 587.8 193.5 598.6 186.5 610.1 176.3 621.6 163.2 632.4 148.4 644.4 129 655.6 108 475.6 108 487 129.3 497.8 146.9 508.6 161.9 520.1 175.3 531.6 185.8 541.6 192.6 552.4 197.5 564.5 200.5Z"/>
<path fill="#a09cd5" d="M556.9 191L565.5 191.5 574.7 191 575.5 190.2 578.6 190 579.3 189.2 581.6 189.1 582.4 188.2 586.3 187.2 587 186.3 590.1 185.3 593.2 183.3 597.8 180.5 604 175.7 605.5 174 606.3 173.8 619.3 160.5 632.4 143.3 632.6 142.4 636.3 137.6 636.4 136.6 641.6 129 641.7 128.1 649.3 115.7 649.4 114.7 650.9 112.8 650.9 111.9 653.2 108 477.8 108 482.4 115.7 482.4 116.6 486.2 122.3 486.2 123.3 493 133.8 493.2 134.7 496.1 138.5 496.2 139.5 499.9 144.3 500.1 145.2 517 166.2 517.8 166.4 523.9 172.9 536.2 182.4 543.1 186.2 546.2 187.2 547 188.1 548.6 188.2 553 190 555.5 190.2 556.9 191Z"/>
<g fill="#dea040" fill-opacity="0.5" stroke="#4a2a05" stroke-opacity="0.8" stroke-width="0.9"><circle cx="495" cy="197.5" r="2.6"/><circle cx="636.6" cy="201.4" r="2.6"/><circle cx="587.7" cy="238.9" r="2.6"/><circle cx="530.4" cy="224.8" r="2.6"/><circle cx="591.9" cy="237.1" r="2.6"/><circle cx="545.8" cy="235.1" r="2.6"/><circle cx="564.6" cy="273.8" r="2.6"/><circle cx="611" cy="210.8" r="2.6"/><circle cx="563.7" cy="269.5" r="2.6"/><circle cx="542.1" cy="241.1" r="2.6"/><circle cx="545.3" cy="243.8" r="2.6"/><circle cx="505.8" cy="204.6" r="2.6"/><circle cx="532.4" cy="227.9" r="2.6"/><circle cx="540.8" cy="237" r="2.6"/><circle cx="523.5" cy="220.8" r="2.6"/><circle cx="499.5" cy="207.6" r="2.6"/><circle cx="563.8" cy="273.3" r="2.6"/><circle cx="527.2" cy="231.4" r="2.6"/><circle cx="591.6" cy="234.3" r="2.6"/><circle cx="627.9" cy="206.7" r="2.6"/><circle cx="539.6" cy="238.6" r="2.6"/><circle cx="570.5" cy="266.2" r="2.6"/><circle cx="565.5" cy="278.1" r="2.6"/><circle cx="502.6" cy="208.5" r="2.6"/><circle cx="511.9" cy="216.4" r="2.6"/><circle cx="620.7" cy="212.9" r="2.6"/><circle cx="562.6" cy="275.4" r="2.6"/><circle cx="605.4" cy="225.4" r="2.6"/><circle cx="505.3" cy="200.5" r="2.6"/><circle cx="573.9" cy="262.5" r="2.6"/><circle cx="614" cy="212.3" r="2.6"/><circle cx="617.8" cy="216.3" r="2.6"/><circle cx="490.1" cy="195.3" r="2.6"/><circle cx="566.7" cy="275.7" r="2.6"/><circle cx="554.4" cy="255.1" r="2.6"/><circle cx="594.8" cy="230.1" r="2.6"/><circle cx="507" cy="201.1" r="2.6"/><circle cx="540.1" cy="235.6" r="2.6"/><circle cx="604.9" cy="221.9" r="2.6"/><circle cx="563.3" cy="274.3" r="2.6"/><circle cx="563.7" cy="270.7" r="2.6"/><circle cx="637.1" cy="199.3" r="2.6"/><circle cx="549.4" cy="244.8" r="2.6"/><circle cx="497.6" cy="200.7" r="2.6"/><circle cx="559.5" cy="258.1" r="2.6"/><circle cx="516.9" cy="221.2" r="2.6"/><circle cx="505.7" cy="206.9" r="2.6"/><circle cx="568.9" cy="266.4" r="2.6"/><circle cx="633.9" cy="201.5" r="2.6"/><circle cx="571.9" cy="265.2" r="2.6"/><circle cx="579.3" cy="252.1" r="2.6"/><circle cx="546.2" cy="248.3" r="2.6"/><circle cx="570.1" cy="266.2" r="2.6"/><circle cx="589.8" cy="228" r="2.6"/><circle cx="570.6" cy="262" r="2.6"/><circle cx="605.4" cy="226" r="2.6"/><circle cx="569.3" cy="270.6" r="2.6"/><circle cx="527.8" cy="225.2" r="2.6"/><circle cx="570.2" cy="263.4" r="2.6"/><circle cx="564.6" cy="277.9" r="2.6"/><circle cx="521.4" cy="220.5" r="2.6"/><circle cx="574.2" cy="256.3" r="2.6"/><circle cx="604.3" cy="219.7" r="2.6"/><circle cx="516.2" cy="215" r="2.6"/><circle cx="569.1" cy="271.7" r="2.6"/><circle cx="594.6" cy="238.6" r="2.6"/><circle cx="557.6" cy="261.9" r="2.6"/><circle cx="536.2" cy="240.7" r="2.6"/><circle cx="555.9" cy="255" r="2.6"/><circle cx="568.3" cy="272.1" r="2.6"/><circle cx="583.5" cy="243.8" r="2.6"/><circle cx="567.1" cy="267.6" r="2.6"/><circle cx="513.2" cy="207.4" r="2.6"/><circle cx="608.2" cy="223.6" r="2.6"/><circle cx="625.7" cy="202.9" r="2.6"/><circle cx="512" cy="206.6" r="2.6"/><circle cx="535.8" cy="234.6" r="2.6"/><circle cx="522.4" cy="222.3" r="2.6"/><circle cx="612.2" cy="216.4" r="2.6"/><circle cx="626.7" cy="210.4" r="2.6"/><circle cx="500.3" cy="197.6" r="2.6"/><circle cx="545.9" cy="251.1" r="2.6"/><circle cx="525.5" cy="225.7" r="2.6"/><circle cx="564" cy="274" r="2.6"/><circle cx="626.9" cy="205.7" r="2.6"/><circle cx="504" cy="204.2" r="2.6"/><circle cx="524.1" cy="219.4" r="2.6"/><circle cx="565" cy="277.1" r="2.6"/><circle cx="565.4" cy="274.8" r="2.6"/><circle cx="597.7" cy="237.7" r="2.6"/><circle cx="561.9" cy="268" r="2.6"/><circle cx="516.8" cy="216.7" r="2.6"/><circle cx="552.8" cy="252" r="2.6"/><circle cx="639.5" cy="196.4" r="2.6"/><circle cx="596.1" cy="234.5" r="2.6"/><circle cx="512.1" cy="212.7" r="2.6"/><circle cx="602.9" cy="221.3" r="2.6"/><circle cx="547.3" cy="243.8" r="2.6"/><circle cx="600.8" cy="228.8" r="2.6"/><circle cx="494" cy="192.1" r="2.6"/><circle cx="612.4" cy="207.8" r="2.6"/><circle cx="519.4" cy="221.5" r="2.6"/><circle cx="563.6" cy="271.3" r="2.6"/><circle cx="576.9" cy="246.1" r="2.6"/><circle cx="565" cy="277.9" r="2.6"/><circle cx="523" cy="218.6" r="2.6"/><circle cx="517.2" cy="215.3" r="2.6"/><circle cx="541.8" cy="240.3" r="2.6"/><circle cx="499.6" cy="202.6" r="2.6"/><circle cx="530.7" cy="228.6" r="2.6"/><circle cx="517.1" cy="211.9" r="2.6"/><circle cx="563.6" cy="273.2" r="2.6"/><circle cx="552.3" cy="253.1" r="2.6"/><circle cx="573.2" cy="264" r="2.6"/><circle cx="542.2" cy="238.9" r="2.6"/><circle cx="494.7" cy="201.7" r="2.6"/><circle cx="549.3" cy="248.2" r="2.6"/><circle cx="593" cy="230.1" r="2.6"/><circle cx="539" cy="233.7" r="2.6"/><circle cx="559.2" cy="261.4" r="2.6"/><circle cx="594.3" cy="231.4" r="2.6"/><circle cx="558.9" cy="262.1" r="2.6"/><circle cx="619.7" cy="210.5" r="2.6"/><circle cx="626.3" cy="206.4" r="2.6"/><circle cx="548" cy="243.1" r="2.6"/><circle cx="594.1" cy="237.4" r="2.6"/><circle cx="540.5" cy="231.4" r="2.6"/><circle cx="517.7" cy="214.8" r="2.6"/><circle cx="561.1" cy="268.4" r="2.6"/><circle cx="574.1" cy="260.6" r="2.6"/><circle cx="630.6" cy="204.7" r="2.6"/><circle cx="519.2" cy="215.6" r="2.6"/><circle cx="589.5" cy="240.8" r="2.6"/><circle cx="565.7" cy="274.7" r="2.6"/><circle cx="514.8" cy="215.3" r="2.6"/><circle cx="640.7" cy="203.5" r="2.6"/><circle cx="587" cy="243.8" r="2.6"/><circle cx="512.2" cy="217.5" r="2.6"/><circle cx="623.3" cy="207.6" r="2.6"/><circle cx="512.2" cy="207" r="2.6"/><circle cx="509.4" cy="206.4" r="2.6"/><circle cx="547.5" cy="249.6" r="2.6"/><circle cx="631.2" cy="204.6" r="2.6"/><circle cx="498.2" cy="195.4" r="2.6"/><circle cx="625.4" cy="205" r="2.6"/><circle cx="574.5" cy="258.5" r="2.6"/><circle cx="504.6" cy="201.7" r="2.6"/><circle cx="567.2" cy="265.4" r="2.6"/><circle cx="564.9" cy="271.5" r="2.6"/><circle cx="569.4" cy="267.6" r="2.6"/><circle cx="591.4" cy="234.6" r="2.6"/><circle cx="582.2" cy="245.1" r="2.6"/><circle cx="644" cy="196.5" r="2.6"/><circle cx="519.1" cy="219.8" r="2.6"/><circle cx="605.1" cy="222" r="2.6"/><circle cx="558.2" cy="263.6" r="2.6"/><circle cx="600" cy="227.3" r="2.6"/><circle cx="620.3" cy="209.4" r="2.6"/><circle cx="639" cy="190.2" r="2.6"/><circle cx="538.2" cy="237.7" r="2.6"/><circle cx="563" cy="270.9" r="2.6"/><circle cx="631.3" cy="202.6" r="2.6"/><circle cx="631.1" cy="200.8" r="2.6"/><circle cx="556.4" cy="254.8" r="2.6"/><circle cx="631.3" cy="203.7" r="2.6"/><circle cx="557.7" cy="262.5" r="2.6"/><circle cx="552.9" cy="257.6" r="2.6"/><circle cx="597.1" cy="233.5" r="2.6"/><circle cx="564.9" cy="274.1" r="2.6"/><circle cx="562.8" cy="270" r="2.6"/><circle cx="555.2" cy="259.1" r="2.6"/><circle cx="561" cy="267.3" r="2.6"/><circle cx="517.8" cy="214.9" r="2.6"/><circle cx="502.5" cy="202.1" r="2.6"/><circle cx="596" cy="233.3" r="2.6"/><circle cx="569.8" cy="267.7" r="2.6"/><circle cx="585.2" cy="249.4" r="2.6"/><circle cx="605.4" cy="226.2" r="2.6"/><circle cx="537.2" cy="226.8" r="2.6"/><circle cx="530.4" cy="234.6" r="2.6"/><circle cx="541.1" cy="238.8" r="2.6"/><circle cx="546.1" cy="242.7" r="2.6"/><circle cx="596.7" cy="231.8" r="2.6"/><circle cx="554" cy="256.7" r="2.6"/><circle cx="548.4" cy="246.6" r="2.6"/><circle cx="577.5" cy="253.8" r="2.6"/><circle cx="526.3" cy="222.7" r="2.6"/><circle cx="508.1" cy="213.9" r="2.6"/><circle cx="586.2" cy="242.7" r="2.6"/><circle cx="597" cy="233.4" r="2.6"/><circle cx="543.6" cy="242.4" r="2.6"/><circle cx="577.1" cy="253.7" r="2.6"/><circle cx="496.9" cy="198.1" r="2.6"/><circle cx="559.7" cy="261.1" r="2.6"/><circle cx="571.4" cy="265.3" r="2.6"/><circle cx="539.7" cy="232.2" r="2.6"/><circle cx="553.6" cy="249.9" r="2.6"/><circle cx="572.8" cy="258" r="2.6"/><circle cx="570.4" cy="261.7" r="2.6"/><circle cx="520.2" cy="217.5" r="2.6"/><circle cx="587.6" cy="241" r="2.6"/><circle cx="507" cy="204.1" r="2.6"/><circle cx="638.9" cy="201.7" r="2.6"/><circle cx="529.7" cy="224.7" r="2.6"/><circle cx="536.9" cy="234.9" r="2.6"/><circle cx="528.2" cy="225.5" r="2.6"/><circle cx="644.1" cy="199.9" r="2.6"/><circle cx="541.5" cy="241.2" r="2.6"/><circle cx="573.8" cy="259.7" r="2.6"/><circle cx="640.5" cy="193.8" r="2.6"/><circle cx="631.3" cy="198.9" r="2.6"/><circle cx="497.7" cy="200.9" r="2.6"/><circle cx="566.5" cy="275.7" r="2.6"/><circle cx="574.4" cy="261.1" r="2.6"/><circle cx="586" cy="240.9" r="2.6"/><circle cx="549.8" cy="249.1" r="2.6"/><circle cx="550.1" cy="246.6" r="2.6"/><circle cx="491.7" cy="191.7" r="2.6"/><circle cx="496.2" cy="199.8" r="2.6"/><circle cx="569.9" cy="270.9" r="2.6"/><circle cx="503.6" cy="207.3" r="2.6"/><circle cx="526.6" cy="228" r="2.6"/><circle cx="547.9" cy="249.8" r="2.6"/><circle cx="505.7" cy="201.7" r="2.6"/><circle cx="495.6" cy="198.7" r="2.6"/><circle cx="630" cy="207.8" r="2.6"/><circle cx="562.3" cy="267.2" r="2.6"/><circle cx="532.1" cy="223.1" r="2.6"/><circle cx="588.3" cy="241" r="2.6"/><circle cx="489.7" cy="198" r="2.6"/><circle cx="535.9" cy="233.1" r="2.6"/><circle cx="634.6" cy="199.1" r="2.6"/><circle cx="620.6" cy="207.3" r="2.6"/><circle cx="575.7" cy="252.8" r="2.6"/><circle cx="510.4" cy="205.2" r="2.6"/><circle cx="549.7" cy="244" r="2.6"/><circle cx="496.5" cy="195.7" r="2.6"/><circle cx="533.5" cy="226.7" r="2.6"/><circle cx="492" cy="202" r="2.6"/><circle cx="514.9" cy="213.1" r="2.6"/><circle cx="576.7" cy="254.1" r="2.6"/><circle cx="509.3" cy="209.8" r="2.6"/><circle cx="522.4" cy="215.6" r="2.6"/><circle cx="623.2" cy="208.7" r="2.6"/><circle cx="548.7" cy="249.8" r="2.6"/><circle cx="552.1" cy="246.6" r="2.6"/><circle cx="508.1" cy="205.4" r="2.6"/><circle cx="601.7" cy="224.5" r="2.6"/><circle cx="581.3" cy="245.1" r="2.6"/><circle cx="567" cy="270.4" r="2.6"/><circle cx="574.8" cy="257" r="2.6"/><circle cx="506" cy="214.3" r="2.6"/><circle cx="537.7" cy="236.4" r="2.6"/><circle cx="572" cy="264.2" r="2.6"/><circle cx="634.6" cy="203.1" r="2.6"/><circle cx="605.6" cy="221" r="2.6"/><circle cx="576.3" cy="251.8" r="2.6"/><circle cx="566.7" cy="276.2" r="2.6"/><circle cx="490.3" cy="199.8" r="2.6"/><circle cx="616.9" cy="205.3" r="2.6"/><circle cx="502.3" cy="205.1" r="2.6"/><circle cx="513.6" cy="215.9" r="2.6"/><circle cx="584.9" cy="242.9" r="2.6"/><circle cx="604.3" cy="221.4" r="2.6"/><circle cx="601.8" cy="227.9" r="2.6"/><circle cx="563.9" cy="270.4" r="2.6"/><circle cx="523.8" cy="221.9" r="2.6"/><circle cx="495" cy="201.9" r="2.6"/><circle cx="612.1" cy="215.5" r="2.6"/><circle cx="637.7" cy="195.7" r="2.6"/><circle cx="535.1" cy="233.5" r="2.6"/><circle cx="614.7" cy="212.8" r="2.6"/><circle cx="558.3" cy="261.4" r="2.6"/><circle cx="551.7" cy="240.5" r="2.6"/><circle cx="566.4" cy="278.6" r="2.6"/><circle cx="492.1" cy="193" r="2.6"/><circle cx="562.2" cy="269" r="2.6"/><circle cx="528.5" cy="224.9" r="2.6"/><circle cx="586.9" cy="238.5" r="2.6"/><circle cx="564.8" cy="278.7" r="2.6"/><circle cx="613.7" cy="210.4" r="2.6"/><circle cx="620.9" cy="208.1" r="2.6"/><circle cx="546.5" cy="246.1" r="2.6"/><circle cx="541.1" cy="239.6" r="2.6"/><circle cx="629.6" cy="201.5" r="2.6"/><circle cx="565.1" cy="278.6" r="2.6"/><circle cx="511.4" cy="205.3" r="2.6"/><circle cx="499.2" cy="200.2" r="2.6"/><circle cx="640.3" cy="193.4" r="2.6"/><circle cx="569.2" cy="263.8" r="2.6"/><circle cx="500.6" cy="202" r="2.6"/><circle cx="567.3" cy="277.7" r="2.6"/><circle cx="566.8" cy="278.8" r="2.6"/><circle cx="560.1" cy="268.3" r="2.6"/><circle cx="630.7" cy="197.4" r="2.6"/><circle cx="633.6" cy="203.3" r="2.6"/><circle cx="516.9" cy="210" r="2.6"/><circle cx="521" cy="215.6" r="2.6"/><circle cx="561" cy="261.1" r="2.6"/><circle cx="607.3" cy="216.6" r="2.6"/><circle cx="576.1" cy="256.3" r="2.6"/><circle cx="591.3" cy="236.9" r="2.6"/><circle cx="570.6" cy="265.3" r="2.6"/><circle cx="530.9" cy="226.1" r="2.6"/><circle cx="607" cy="222.4" r="2.6"/><circle cx="491.5" cy="197.1" r="2.6"/><circle cx="583.2" cy="239.9" r="2.6"/><circle cx="524.7" cy="227.1" r="2.6"/><circle cx="564.6" cy="274.2" r="2.6"/><circle cx="639.4" cy="200" r="2.6"/><circle cx="567.3" cy="272.3" r="2.6"/><circle cx="502.2" cy="200.8" r="2.6"/><circle cx="561" cy="266.4" r="2.6"/><circle cx="579.4" cy="248.4" r="2.6"/><circle cx="498.5" cy="206.3" r="2.6"/><circle cx="540" cy="231.8" r="2.6"/><circle cx="491.7" cy="199" r="2.6"/><circle cx="566.9" cy="271.9" r="2.6"/><circle cx="556.3" cy="257.2" r="2.6"/><circle cx="568.1" cy="279" r="2.6"/><circle cx="543.1" cy="242.6" r="2.6"/><circle cx="579.8" cy="249.7" r="2.6"/><circle cx="526.8" cy="217.1" r="2.6"/><circle cx="623" cy="206.7" r="2.6"/><circle cx="634.5" cy="199.2" r="2.6"/><circle cx="564.1" cy="278.3" r="2.6"/><circle cx="565.4" cy="272.7" r="2.6"/><circle cx="610.9" cy="210.7" r="2.6"/><circle cx="543.7" cy="240.4" r="2.6"/><circle cx="603.8" cy="224.2" r="2.6"/><circle cx="540.2" cy="242.5" r="2.6"/><circle cx="587.7" cy="236.9" r="2.6"/><circle cx="554.3" cy="245.3" r="2.6"/><circle cx="572.5" cy="259.7" r="2.6"/><circle cx="625.6" cy="201.7" r="2.6"/><circle cx="501.2" cy="201.1" r="2.6"/><circle cx="605.9" cy="225" r="2.6"/><circle cx="566.3" cy="271.3" r="2.6"/><circle cx="554" cy="258" r="2.6"/><circle cx="551.8" cy="251.7" r="2.6"/><circle cx="504" cy="203.8" r="2.6"/><circle cx="540.5" cy="233.2" r="2.6"/><circle cx="575.3" cy="256" r="2.6"/><circle cx="510" cy="207.7" r="2.6"/><circle cx="583.1" cy="248.5" r="2.6"/><circle cx="637.1" cy="202.5" r="2.6"/><circle cx="639.4" cy="197" r="2.6"/><circle cx="621" cy="211.5" r="2.6"/><circle cx="606.4" cy="225.8" r="2.6"/><circle cx="522.6" cy="223.6" r="2.6"/><circle cx="637.8" cy="199.6" r="2.6"/><circle cx="525.9" cy="228.8" r="2.6"/><circle cx="618.1" cy="215.9" r="2.6"/><circle cx="620.3" cy="215.2" r="2.6"/><circle cx="575.5" cy="256.4" r="2.6"/><circle cx="566" cy="275.5" r="2.6"/><circle cx="532.7" cy="220.9" r="2.6"/><circle cx="567.7" cy="276.4" r="2.6"/><circle cx="542.5" cy="241.6" r="2.6"/><circle cx="516.5" cy="210.9" r="2.6"/><circle cx="515.1" cy="213.6" r="2.6"/><circle cx="603.6" cy="224.7" r="2.6"/><circle cx="624.2" cy="201.2" r="2.6"/><circle cx="517.5" cy="216" r="2.6"/><circle cx="489.9" cy="199.6" r="2.6"/><circle cx="536.9" cy="238.1" r="2.6"/><circle cx="517.3" cy="213.4" r="2.6"/><circle cx="527.4" cy="222.2" r="2.6"/><circle cx="573" cy="264.8" r="2.6"/><circle cx="559.3" cy="265.7" r="2.6"/><circle cx="565.9" cy="297.4" r="2.6"/><circle cx="566" cy="289.3" r="2.6"/><circle cx="565.2" cy="300.8" r="2.6"/><circle cx="566" cy="292.5" r="2.6"/><circle cx="566" cy="277.1" r="2.6"/><circle cx="564.5" cy="301" r="2.6"/><circle cx="565.4" cy="282.4" r="2.6"/><circle cx="565.9" cy="279.4" r="2.6"/><circle cx="565.2" cy="289.3" r="2.6"/><circle cx="564.2" cy="281.3" r="2.6"/><circle cx="565.4" cy="291.2" r="2.6"/><circle cx="566.1" cy="293.6" r="2.6"/><circle cx="566.6" cy="289.4" r="2.6"/><circle cx="564.2" cy="298" r="2.6"/><circle cx="567.3" cy="294.9" r="2.6"/><circle cx="564.9" cy="294.9" r="2.6"/><circle cx="566.2" cy="276" r="2.6"/><circle cx="566.4" cy="294.1" r="2.6"/><circle cx="566.2" cy="297.1" r="2.6"/><circle cx="565.7" cy="277.3" r="2.6"/><circle cx="564.9" cy="299.6" r="2.6"/><circle cx="566" cy="276.6" r="2.6"/><circle cx="565.1" cy="279.7" r="2.6"/><circle cx="564" cy="285.5" r="2.6"/><circle cx="567.4" cy="291.5" r="2.6"/><circle cx="566" cy="297.9" r="2.6"/><circle cx="566.8" cy="300.5" r="2.6"/><circle cx="565" cy="300.5" r="2.6"/><circle cx="566.5" cy="293.7" r="2.6"/><circle cx="566.6" cy="292.1" r="2.6"/><circle cx="474.2" cy="183.5" r="2.6"/><circle cx="657" cy="183.5" r="2.6"/><circle cx="489.5" cy="205.7" r="2.6"/><circle cx="643.3" cy="192.5" r="2.6"/><circle cx="518" cy="203.1" r="2.6"/><circle cx="577.2" cy="262.5" r="2.6"/><circle cx="542.9" cy="245.3" r="2.6"/></g>
<g fill="#6c1d92" fill-opacity="0.5" stroke="#3c0a5a" stroke-opacity="0.8" stroke-width="0.9"><circle cx="575.6" cy="215.5" r="2.6"/><circle cx="615.7" cy="164" r="2.6"/><circle cx="595.1" cy="186.2" r="2.6"/><circle cx="536.3" cy="179.4" r="2.6"/><circle cx="545.5" cy="197.4" r="2.6"/><circle cx="609.7" cy="166.2" r="2.6"/><circle cx="487.8" cy="141.4" r="2.6"/><circle cx="601.6" cy="177" r="2.6"/><circle cx="598.1" cy="181.9" r="2.6"/></g>
<g fill="#ff4f1f" fill-opacity="0.5" stroke="#ff4f1f" stroke-opacity="0.8" stroke-width="0.9"><circle cx="564.8" cy="232.8" r="2.6"/></g>
<g fill="#6c1d92" fill-opacity="0.5" stroke="#3c0a5a" stroke-opacity="0.8" stroke-width="0.9"><circle cx="547.3" cy="197" r="2.6"/><circle cx="541.7" cy="193.3" r="2.6"/><circle cx="540.7" cy="186.2" r="2.6"/></g>
<g fill="#ff4f1f" fill-opacity="0.5" stroke="#ff4f1f" stroke-opacity="0.8" stroke-width="0.9"><circle cx="565.4" cy="227.3" r="2.6"/><circle cx="565.9" cy="238.3" r="2.6"/><circle cx="567.8" cy="229.1" r="2.6"/></g>
<g fill="#6c1d92" fill-opacity="0.5" stroke="#3c0a5a" stroke-opacity="0.8" stroke-width="0.9"><circle cx="637.8" cy="152" r="2.6"/><circle cx="595.5" cy="181" r="2.6"/><circle cx="574.8" cy="215.8" r="2.6"/><circle cx="636.4" cy="152.9" r="2.6"/><circle cx="535.3" cy="176.7" r="2.6"/><circle cx="520.4" cy="170.6" r="2.6"/><circle cx="570.9" cy="216.4" r="2.6"/><circle cx="497.8" cy="146.5" r="2.6"/><circle cx="494.1" cy="148.3" r="2.6"/></g>
<g fill="#ff4f1f" fill-opacity="0.5" stroke="#ff4f1f" stroke-opacity="0.8" stroke-width="0.9"><circle cx="565.3" cy="236.4" r="2.6"/><circle cx="566.5" cy="232" r="2.6"/></g>
<g fill="#6c1d92" fill-opacity="0.5" stroke="#3c0a5a" stroke-opacity="0.8" stroke-width="0.9"><circle cx="619.7" cy="160.9" r="2.6"/><circle cx="574.7" cy="214" r="2.6"/></g>
<g fill="#ff4f1f" fill-opacity="0.5" stroke="#ff4f1f" stroke-opacity="0.8" stroke-width="0.9"><circle cx="567.1" cy="236.8" r="2.6"/><circle cx="565.6" cy="238.5" r="2.6"/></g>
<g fill="#6c1d92" fill-opacity="0.5" stroke="#3c0a5a" stroke-opacity="0.8" stroke-width="0.9"><circle cx="541.5" cy="182.9" r="2.6"/><circle cx="488.9" cy="143.6" r="2.6"/><circle cx="526.7" cy="176.5" r="2.6"/><circle cx="582.7" cy="201.8" r="2.6"/><circle cx="529.1" cy="177.2" r="2.6"/><circle cx="556.6" cy="211.2" r="2.6"/><circle cx="485.5" cy="145.5" r="2.6"/><circle cx="602.2" cy="174.4" r="2.6"/><circle cx="521.4" cy="167.1" r="2.6"/><circle cx="541.2" cy="190.1" r="2.6"/><circle cx="612.1" cy="166.4" r="2.6"/></g>
<g fill="#ff4f1f" fill-opacity="0.5" stroke="#ff4f1f" stroke-opacity="0.8" stroke-width="0.9"><circle cx="565.5" cy="237.4" r="2.6"/></g>
<g fill="#6c1d92" fill-opacity="0.5" stroke="#3c0a5a" stroke-opacity="0.8" stroke-width="0.9"><circle cx="605.9" cy="172" r="2.6"/><circle cx="574.3" cy="211.1" r="2.6"/><circle cx="584.5" cy="188.4" r="2.6"/><circle cx="508" cy="155.8" r="2.6"/></g>
<g fill="#ff4f1f" fill-opacity="0.5" stroke="#ff4f1f" stroke-opacity="0.8" stroke-width="0.9"><circle cx="566.9" cy="231.4" r="2.6"/><circle cx="567.3" cy="237.9" r="2.6"/></g>
<g fill="#6c1d92" fill-opacity="0.5" stroke="#3c0a5a" stroke-opacity="0.8" stroke-width="0.9"><circle cx="609.6" cy="167" r="2.6"/><circle cx="552.4" cy="211.1" r="2.6"/><circle cx="572.6" cy="220.7" r="2.6"/><circle cx="500.7" cy="150.2" r="2.6"/><circle cx="559.1" cy="214.9" r="2.6"/><circle cx="550" cy="201.5" r="2.6"/><circle cx="517" cy="170.4" r="2.6"/><circle cx="600.9" cy="178" r="2.6"/><circle cx="556.4" cy="214" r="2.6"/><circle cx="631.8" cy="150.2" r="2.6"/><circle cx="567.6" cy="220.5" r="2.6"/><circle cx="571.3" cy="218.4" r="2.6"/><circle cx="575.9" cy="212.4" r="2.6"/><circle cx="581.1" cy="205.2" r="2.6"/><circle cx="520" cy="167.2" r="2.6"/></g>
<g fill="#ff4f1f" fill-opacity="0.5" stroke="#ff4f1f" stroke-opacity="0.8" stroke-width="0.9"><circle cx="562.8" cy="227" r="2.6"/></g>
<g fill="#6c1d92" fill-opacity="0.5" stroke="#3c0a5a" stroke-opacity="0.8" stroke-width="0.9"><circle cx="534.8" cy="186" r="2.6"/><circle cx="559.8" cy="218.6" r="2.6"/><circle cx="506.5" cy="160.5" r="2.6"/><circle cx="628.6" cy="150.5" r="2.6"/><circle cx="534.8" cy="177.1" r="2.6"/><circle cx="577" cy="204" r="2.6"/><circle cx="546.1" cy="197.1" r="2.6"/><circle cx="609.9" cy="166.2" r="2.6"/><circle cx="577.7" cy="207" r="2.6"/><circle cx="515.4" cy="164.5" r="2.6"/><circle cx="606" cy="172.9" r="2.6"/><circle cx="627.2" cy="159.2" r="2.6"/><circle cx="619.1" cy="165.6" r="2.6"/><circle cx="567.8" cy="225.4" r="2.6"/><circle cx="518.7" cy="166.5" r="2.6"/><circle cx="528.9" cy="174.3" r="2.6"/><circle cx="620" cy="156.6" r="2.6"/></g>
<g fill="#ff4f1f" fill-opacity="0.5" stroke="#ff4f1f" stroke-opacity="0.8" stroke-width="0.9"><circle cx="569.3" cy="229.8" r="2.6"/></g>
<g fill="#6c1d92" fill-opacity="0.5" stroke="#3c0a5a" stroke-opacity="0.8" stroke-width="0.9"><circle cx="524.7" cy="174" r="2.6"/><circle cx="612.4" cy="165.3" r="2.6"/><circle cx="574.7" cy="210.8" r="2.6"/><circle cx="569.1" cy="225.9" r="2.6"/><circle cx="558.3" cy="212.2" r="2.6"/><circle cx="560.8" cy="220.4" r="2.6"/><circle cx="534.6" cy="186" r="2.6"/><circle cx="493.2" cy="151.5" r="2.6"/><circle cx="609.8" cy="165.3" r="2.6"/></g>
<g fill="#ff4f1f" fill-opacity="0.5" stroke="#ff4f1f" stroke-opacity="0.8" stroke-width="0.9"><circle cx="565.1" cy="232.7" r="2.6"/><circle cx="569.2" cy="230.7" r="2.6"/></g>
<g fill="#6c1d92" fill-opacity="0.5" stroke="#3c0a5a" stroke-opacity="0.8" stroke-width="0.9"><circle cx="552.3" cy="199.7" r="2.6"/><circle cx="588.4" cy="188.4" r="2.6"/><circle cx="492.8" cy="144.4" r="2.6"/><circle cx="555.9" cy="212.3" r="2.6"/><circle cx="492.1" cy="149" r="2.6"/><circle cx="512.3" cy="164.6" r="2.6"/><circle cx="626.5" cy="147.4" r="2.6"/><circle cx="577.3" cy="207.9" r="2.6"/><circle cx="563.8" cy="223.6" r="2.6"/></g>
<g fill="#ff4f1f" fill-opacity="0.5" stroke="#ff4f1f" stroke-opacity="0.8" stroke-width="0.9"><circle cx="566.8" cy="234.9" r="2.6"/></g>
<g fill="#6c1d92" fill-opacity="0.5" stroke="#3c0a5a" stroke-opacity="0.8" stroke-width="0.9"><circle cx="610.2" cy="167.2" r="2.6"/><circle cx="550.5" cy="207.4" r="2.6"/><circle cx="570.7" cy="221.7" r="2.6"/><circle cx="578.6" cy="201.6" r="2.6"/><circle cx="552.6" cy="209.4" r="2.6"/></g>
<g fill="#ff4f1f" fill-opacity="0.5" stroke="#ff4f1f" stroke-opacity="0.8" stroke-width="0.9"><circle cx="565" cy="235.5" r="2.6"/></g>
<g fill="#6c1d92" fill-opacity="0.5" stroke="#3c0a5a" stroke-opacity="0.8" stroke-width="0.9"><circle cx="591" cy="186.1" r="2.6"/><circle cx="619.4" cy="163.9" r="2.6"/><circle cx="519.3" cy="168.1" r="2.6"/><circle cx="623.5" cy="159" r="2.6"/><circle cx="486" cy="145.3" r="2.6"/><circle cx="590.9" cy="189.9" r="2.6"/><circle cx="600.8" cy="179.9" r="2.6"/><circle cx="516.6" cy="165.2" r="2.6"/><circle cx="560" cy="222.7" r="2.6"/><circle cx="602.5" cy="179.9" r="2.6"/><circle cx="488.4" cy="146.3" r="2.6"/><circle cx="572.6" cy="213.2" r="2.6"/><circle cx="599.3" cy="184.3" r="2.6"/></g>
<g fill="#ff4f1f" fill-opacity="0.5" stroke="#ff4f1f" stroke-opacity="0.8" stroke-width="0.9"><circle cx="565.8" cy="236.8" r="2.6"/></g>
<g fill="#6c1d92" fill-opacity="0.5" stroke="#3c0a5a" stroke-opacity="0.8" stroke-width="0.9"><circle cx="587" cy="195.1" r="2.6"/><circle cx="532.8" cy="183.1" r="2.6"/><circle cx="531.3" cy="174.2" r="2.6"/><circle cx="554.7" cy="210.4" r="2.6"/><circle cx="528.7" cy="169.3" r="2.6"/><circle cx="552.1" cy="207" r="2.6"/><circle cx="625.3" cy="155" r="2.6"/><circle cx="569.2" cy="225.1" r="2.6"/><circle cx="551.3" cy="205.7" r="2.6"/><circle cx="543.6" cy="189.5" r="2.6"/><circle cx="627" cy="155.6" r="2.6"/></g>
<g fill="#ff4f1f" fill-opacity="0.5" stroke="#ff4f1f" stroke-opacity="0.8" stroke-width="0.9"><circle cx="563.9" cy="227.6" r="2.6"/></g>
<g fill="#6c1d92" fill-opacity="0.5" stroke="#3c0a5a" stroke-opacity="0.8" stroke-width="0.9"><circle cx="633.1" cy="151.5" r="2.6"/></g>
<g fill="#ff4f1f" fill-opacity="0.5" stroke="#ff4f1f" stroke-opacity="0.8" stroke-width="0.9"><circle cx="566.9" cy="236.5" r="2.6"/><circle cx="566.2" cy="235.3" r="2.6"/></g>
<g fill="#6c1d92" fill-opacity="0.5" stroke="#3c0a5a" stroke-opacity="0.8" stroke-width="0.9"><circle cx="615.1" cy="163.5" r="2.6"/><circle cx="586.4" cy="189.5" r="2.6"/><circle cx="570.5" cy="223.9" r="2.6"/><circle cx="561.8" cy="224" r="2.6"/><circle cx="614.6" cy="170.2" r="2.6"/><circle cx="561.3" cy="220.3" r="2.6"/><circle cx="622.2" cy="161.9" r="2.6"/><circle cx="499.2" cy="157.7" r="2.6"/><circle cx="562.1" cy="224.7" r="2.6"/></g>
<g fill="#ff4f1f" fill-opacity="0.5" stroke="#ff4f1f" stroke-opacity="0.8" stroke-width="0.9"><circle cx="564.9" cy="235.4" r="2.6"/></g>
<g fill="#6c1d92" fill-opacity="0.5" stroke="#3c0a5a" stroke-opacity="0.8" stroke-width="0.9"><circle cx="628.8" cy="158.9" r="2.6"/><circle cx="536.8" cy="188.1" r="2.6"/><circle cx="599.9" cy="180.5" r="2.6"/><circle cx="581" cy="205.1" r="2.6"/><circle cx="583.9" cy="195.5" r="2.6"/><circle cx="575" cy="214.1" r="2.6"/><circle cx="632" cy="154.3" r="2.6"/><circle cx="552.5" cy="202.8" r="2.6"/><circle cx="558.3" cy="218.1" r="2.6"/><circle cx="531.3" cy="175.9" r="2.6"/><circle cx="496.2" cy="153.3" r="2.6"/><circle cx="529.9" cy="180.9" r="2.6"/><circle cx="622" cy="164.7" r="2.6"/><circle cx="601" cy="169.4" r="2.6"/><circle cx="511.3" cy="161.1" r="2.6"/><circle cx="571.1" cy="218.7" r="2.6"/></g>
<g fill="#ff4f1f" fill-opacity="0.5" stroke="#ff4f1f" stroke-opacity="0.8" stroke-width="0.9"><circle cx="565.1" cy="235.2" r="2.6"/></g>
<g fill="#6c1d92" fill-opacity="0.5" stroke="#3c0a5a" stroke-opacity="0.8" stroke-width="0.9"><circle cx="570.4" cy="220.6" r="2.6"/><circle cx="577.1" cy="207.4" r="2.6"/><circle cx="551.2" cy="195.5" r="2.6"/><circle cx="630.3" cy="156.4" r="2.6"/></g>
<g fill="#ff4f1f" fill-opacity="0.5" stroke="#ff4f1f" stroke-opacity="0.8" stroke-width="0.9"><circle cx="563" cy="232.8" r="2.6"/></g>
<g fill="#6c1d92" fill-opacity="0.5" stroke="#3c0a5a" stroke-opacity="0.8" stroke-width="0.9"><circle cx="575.1" cy="214.5" r="2.6"/><circle cx="576.4" cy="213.3" r="2.6"/><circle cx="528.2" cy="171.6" r="2.6"/><circle cx="501.3" cy="150.7" r="2.6"/><circle cx="559.4" cy="221.1" r="2.6"/><circle cx="594.4" cy="189.3" r="2.6"/><circle cx="600.7" cy="178.1" r="2.6"/><circle cx="583.8" cy="191.5" r="2.6"/><circle cx="507.5" cy="166.7" r="2.6"/><circle cx="617.7" cy="159.9" r="2.6"/><circle cx="599.9" cy="181.8" r="2.6"/><circle cx="609.7" cy="164.6" r="2.6"/></g>
<g fill="#ff4f1f" fill-opacity="0.5" stroke="#ff4f1f" stroke-opacity="0.8" stroke-width="0.9"><circle cx="567.2" cy="235.1" r="2.6"/></g>
<g fill="#6c1d92" fill-opacity="0.5" stroke="#3c0a5a" stroke-opacity="0.8" stroke-width="0.9"><circle cx="619.5" cy="161.3" r="2.6"/><circle cx="494.5" cy="154" r="2.6"/><circle cx="491.2" cy="150.6" r="2.6"/><circle cx="491.6" cy="143.6" r="2.6"/><circle cx="541.1" cy="185.2" r="2.6"/><circle cx="537.8" cy="186.4" r="2.6"/><circle cx="525.9" cy="175.5" r="2.6"/></g>
<g fill="#ff4f1f" fill-opacity="0.5" stroke="#ff4f1f" stroke-opacity="0.8" stroke-width="0.9"><circle cx="570.5" cy="227" r="2.6"/></g>
<g fill="#6c1d92" fill-opacity="0.5" stroke="#3c0a5a" stroke-opacity="0.8" stroke-width="0.9"><circle cx="494.1" cy="150.3" r="2.6"/><circle cx="570.3" cy="221.5" r="2.6"/><circle cx="523.1" cy="170" r="2.6"/><circle cx="579.6" cy="203.8" r="2.6"/><circle cx="488.8" cy="149.8" r="2.6"/><circle cx="548.3" cy="198.7" r="2.6"/><circle cx="623.9" cy="157.3" r="2.6"/></g>
<g fill="#ff4f1f" fill-opacity="0.5" stroke="#ff4f1f" stroke-opacity="0.8" stroke-width="0.9"><circle cx="565.5" cy="231.7" r="2.6"/></g>
<g fill="#6c1d92" fill-opacity="0.5" stroke="#3c0a5a" stroke-opacity="0.8" stroke-width="0.9"><circle cx="595.7" cy="174.6" r="2.6"/><circle cx="577.3" cy="207.9" r="2.6"/><circle cx="573" cy="217.8" r="2.6"/><circle cx="528.1" cy="174.6" r="2.6"/><circle cx="569.7" cy="225" r="2.6"/><circle cx="493.8" cy="151.3" r="2.6"/><circle cx="597.8" cy="180" r="2.6"/><circle cx="630" cy="156.5" r="2.6"/><circle cx="605.9" cy="169.5" r="2.6"/><circle cx="497.4" cy="151.3" r="2.6"/><circle cx="552.7" cy="204.4" r="2.6"/><circle cx="549.2" cy="200.4" r="2.6"/><circle cx="510.8" cy="162.1" r="2.6"/><circle cx="574.9" cy="214.8" r="2.6"/><circle cx="597.4" cy="181.1" r="2.6"/><circle cx="548" cy="199.9" r="2.6"/><circle cx="608.2" cy="168.7" r="2.6"/><circle cx="596.9" cy="180.8" r="2.6"/><circle cx="513.2" cy="166.1" r="2.6"/><circle cx="591.9" cy="186.3" r="2.6"/><circle cx="614.8" cy="168.7" r="2.6"/><circle cx="528.2" cy="176.8" r="2.6"/><circle cx="569.3" cy="225" r="2.6"/><circle cx="577.8" cy="213.2" r="2.6"/><circle cx="571.8" cy="217.6" r="2.6"/><circle cx="508.5" cy="157.5" r="2.6"/><circle cx="577.7" cy="207.2" r="2.6"/><circle cx="574.8" cy="213.3" r="2.6"/><circle cx="602.2" cy="176.6" r="2.6"/><circle cx="599.9" cy="181.4" r="2.6"/><circle cx="550.3" cy="202.5" r="2.6"/><circle cx="586.3" cy="195.7" r="2.6"/><circle cx="609.3" cy="168.2" r="2.6"/><circle cx="616.5" cy="166.8" r="2.6"/><circle cx="522.7" cy="168.5" r="2.6"/><circle cx="491.7" cy="147.4" r="2.6"/><circle cx="576.4" cy="209.3" r="2.6"/><circle cx="531.8" cy="179.8" r="2.6"/><circle cx="567.7" cy="226.7" r="2.6"/><circle cx="627.7" cy="160.1" r="2.6"/><circle cx="557.9" cy="213.2" r="2.6"/><circle cx="539.9" cy="186.2" r="2.6"/></g>
<g fill="#ff4f1f" fill-opacity="0.5" stroke="#ff4f1f" stroke-opacity="0.8" stroke-width="0.9"><circle cx="564.3" cy="230.4" r="2.6"/></g>
<g fill="#6c1d92" fill-opacity="0.5" stroke="#3c0a5a" stroke-opacity="0.8" stroke-width="0.9"><circle cx="576.4" cy="207.6" r="2.6"/><circle cx="508.3" cy="160.1" r="2.6"/><circle cx="557.1" cy="214" r="2.6"/><circle cx="517.6" cy="162.7" r="2.6"/><circle cx="576.9" cy="206.5" r="2.6"/><circle cx="602.3" cy="174.3" r="2.6"/><circle cx="555" cy="214.1" r="2.6"/><circle cx="557.2" cy="211.5" r="2.6"/></g>
<g fill="#ff4f1f" fill-opacity="0.5" stroke="#ff4f1f" stroke-opacity="0.8" stroke-width="0.9"><circle cx="565.7" cy="231.5" r="2.6"/></g>
<g fill="#6c1d92" fill-opacity="0.5" stroke="#3c0a5a" stroke-opacity="0.8" stroke-width="0.9"><circle cx="534.7" cy="177.2" r="2.6"/><circle cx="538.9" cy="185.1" r="2.6"/><circle cx="548.6" cy="204.4" r="2.6"/></g>
<g fill="#ff4f1f" fill-opacity="0.5" stroke="#ff4f1f" stroke-opacity="0.8" stroke-width="0.9"><circle cx="565" cy="230.4" r="2.6"/></g>
<g fill="#6c1d92" fill-opacity="0.5" stroke="#3c0a5a" stroke-opacity="0.8" stroke-width="0.9"><circle cx="504.6" cy="155.9" r="2.6"/><circle cx="594.9" cy="193.1" r="2.6"/><circle cx="568.9" cy="223.7" r="2.6"/><circle cx="544.2" cy="198.2" r="2.6"/><circle cx="502" cy="157.9" r="2.6"/><circle cx="592.7" cy="188.2" r="2.6"/><circle cx="518.1" cy="160.9" r="2.6"/><circle cx="515.8" cy="164.7" r="2.6"/><circle cx="516.3" cy="163" r="2.6"/><circle cx="507.4" cy="151.6" r="2.6"/><circle cx="614.5" cy="158.7" r="2.6"/><circle cx="541.9" cy="190.1" r="2.6"/><circle cx="547.4" cy="198" r="2.6"/><circle cx="605.5" cy="176.8" r="2.6"/><circle cx="573.9" cy="215.9" r="2.6"/><circle cx="528.2" cy="172.9" r="2.6"/><circle cx="563" cy="225.6" r="2.6"/><circle cx="612.5" cy="165.5" r="2.6"/><circle cx="558.2" cy="212" r="2.6"/><circle cx="585.1" cy="198.1" r="2.6"/><circle cx="508.3" cy="158" r="2.6"/><circle cx="584.7" cy="193" r="2.6"/><circle cx="592.3" cy="183.6" r="2.6"/><circle cx="599.8" cy="173.5" r="2.6"/><circle cx="578.4" cy="204.1" r="2.6"/><circle cx="555.9" cy="211.9" r="2.6"/><circle cx="501.3" cy="152.1" r="2.6"/></g>
<g fill="#ff4f1f" fill-opacity="0.5" stroke="#ff4f1f" stroke-opacity="0.8" stroke-width="0.9"><circle cx="566.9" cy="235.9" r="2.6"/></g>
<g fill="#6c1d92" fill-opacity="0.5" stroke="#3c0a5a" stroke-opacity="0.8" stroke-width="0.9"><circle cx="593.8" cy="190.8" r="2.6"/><circle cx="529.2" cy="173.3" r="2.6"/><circle cx="541.5" cy="189.4" r="2.6"/></g>
<g fill="#ff4f1f" fill-opacity="0.5" stroke="#ff4f1f" stroke-opacity="0.8" stroke-width="0.9"><circle cx="566.4" cy="232.4" r="2.6"/></g>
<g fill="#6c1d92" fill-opacity="0.5" stroke="#3c0a5a" stroke-opacity="0.8" stroke-width="0.9"><circle cx="592.5" cy="192.5" r="2.6"/><circle cx="615.8" cy="164.4" r="2.6"/><circle cx="513.8" cy="164" r="2.6"/><circle cx="525.3" cy="174.8" r="2.6"/><circle cx="601.8" cy="184.4" r="2.6"/><circle cx="576" cy="210.7" r="2.6"/><circle cx="583.5" cy="194" r="2.6"/><circle cx="636.2" cy="148.4" r="2.6"/><circle cx="624.9" cy="158.5" r="2.6"/><circle cx="605" cy="172.6" r="2.6"/><circle cx="592.1" cy="183.1" r="2.6"/><circle cx="555.5" cy="218.6" r="2.6"/><circle cx="575.3" cy="211.2" r="2.6"/><circle cx="527.9" cy="172.1" r="2.6"/><circle cx="589.5" cy="186.6" r="2.6"/><circle cx="587.1" cy="185.3" r="2.6"/><circle cx="583.1" cy="193.7" r="2.6"/></g>
<g fill="#ff4f1f" fill-opacity="0.5" stroke="#ff4f1f" stroke-opacity="0.8" stroke-width="0.9"><circle cx="563.6" cy="227.8" r="2.6"/></g>
<g fill="#6c1d92" fill-opacity="0.5" stroke="#3c0a5a" stroke-opacity="0.8" stroke-width="0.9"><circle cx="557.6" cy="213.1" r="2.6"/><circle cx="562.2" cy="222.1" r="2.6"/><circle cx="492.5" cy="149.9" r="2.6"/><circle cx="605.3" cy="172.4" r="2.6"/></g>
<g fill="#ff4f1f" fill-opacity="0.5" stroke="#ff4f1f" stroke-opacity="0.8" stroke-width="0.9"><circle cx="566.1" cy="231" r="2.6"/></g>
<g fill="#6c1d92" fill-opacity="0.5" stroke="#3c0a5a" stroke-opacity="0.8" stroke-width="0.9"><circle cx="560.7" cy="214.1" r="2.6"/></g>
<g fill="#ff4f1f" fill-opacity="0.5" stroke="#ff4f1f" stroke-opacity="0.8" stroke-width="0.9"><circle cx="567.4" cy="230.1" r="2.6"/></g>
<g fill="#6c1d92" fill-opacity="0.5" stroke="#3c0a5a" stroke-opacity="0.8" stroke-width="0.9"><circle cx="585.3" cy="195.1" r="2.6"/><circle cx="557.8" cy="213.9" r="2.6"/><circle cx="600.2" cy="172.1" r="2.6"/><circle cx="619.9" cy="160.1" r="2.6"/><circle cx="560.1" cy="214.4" r="2.6"/><circle cx="515.7" cy="166.8" r="2.6"/><circle cx="591.4" cy="187.9" r="2.6"/></g>
<g fill="#f5a080" fill-opacity="0.5" stroke="#c06040" stroke-opacity="0.8" stroke-width="0.9"><circle cx="565.6" cy="245.8" r="2.6"/></g>
</g>
<rect x="496.5" y="306.5" width="139.5" height="23" fill="#ffffff" fill-opacity="0.86" stroke="#111" stroke-width="1.8"/>
<text x="566.5" y="322.2" font-size="16" text-anchor="middle" textLength="130" lengthAdjust="spacingAndGlyphs"><tspan font-style="italic">s</tspan> = 1.56 ± 0.02</text>
<rect x="469.0" y="116.0" width="194.0" height="212.0" fill="none" stroke="#000" stroke-width="1.7"/>
<text x="453.2" y="329.2" font-size="16" text-anchor="end" textLength="24" lengthAdjust="spacingAndGlyphs">−2</text>
<text x="453.2" y="276.4" font-size="16" text-anchor="end" textLength="9.2" lengthAdjust="spacingAndGlyphs">0</text>
<text x="453.2" y="223.6" font-size="16" text-anchor="end" textLength="9.2" lengthAdjust="spacingAndGlyphs">2</text>
<text x="453.2" y="170.8" font-size="16" text-anchor="end" textLength="9.2" lengthAdjust="spacingAndGlyphs">4</text>
<text x="512.8" y="355.7" font-size="15.5" text-anchor="middle" textLength="34" lengthAdjust="spacingAndGlyphs">−10</text>
<text x="565.6" y="355.7" font-size="15.5" text-anchor="middle" textLength="9.6" lengthAdjust="spacingAndGlyphs">0</text>
<text x="618.5" y="355.7" font-size="15.5" text-anchor="middle" textLength="18.4" lengthAdjust="spacingAndGlyphs">10</text>
<path d="M461.5 323.2H469M461.5 270.4H469M461.5 217.6H469M461.5 164.8H469M512.8 328V335.5M565.6 328V335.5M618.5 328V335.5" stroke="#000" stroke-width="1.5" fill="none"/>
<text x="566" y="380.7" font-size="17" text-anchor="middle">x</text>
<text transform="translate(417.5 222) rotate(-90)" font-size="17.5" text-anchor="middle">y</text>
<text x="566" y="102.6" font-size="28.5" text-anchor="middle">EDMD</text>
<text x="412" y="95.5" font-size="24" font-weight="bold" textLength="32.2" lengthAdjust="spacingAndGlyphs">(b)</text>
<path fill="#817dc7" d="M679 125.5L683.8 114.5L688.5 125.5Z"/>
<path fill="#a16a50" d="M679 317.5L683.8 328.7L688.5 317.5Z"/>
<rect x="679" y="125" width="9.5" height="14.2" fill="#817dc7"/>
<rect x="679" y="138.8" width="9.5" height="14.2" fill="#a09cd5"/>
<rect x="679" y="152.6" width="9.5" height="14.2" fill="#bdbadf"/>
<rect x="679" y="166.4" width="9.5" height="14.2" fill="#cdcbe8"/>
<rect x="679" y="180.1" width="9.5" height="14.2" fill="#dcdbee"/>
<rect x="679" y="193.9" width="9.5" height="14.2" fill="#e8e7f2"/>
<rect x="679" y="207.7" width="9.5" height="14.2" fill="#f0f0f5"/>
<rect x="679" y="221.5" width="9.5" height="14.2" fill="#f3f1f0"/>
<rect x="679" y="235.3" width="9.5" height="14.2" fill="#f0ecea"/>
<rect x="679" y="249.1" width="9.5" height="14.2" fill="#ece5e3"/>
<rect x="679" y="262.9" width="9.5" height="14.2" fill="#e6dbd7"/>
<rect x="679" y="276.6" width="9.5" height="14.2" fill="#d6c1b8"/>
<rect x="679" y="290.4" width="9.5" height="14.2" fill="#c09d89"/>
<rect x="679" y="304.2" width="9.5" height="14.2" fill="#ad7b61"/>
<path fill="none" stroke="#000" stroke-width="1.7" stroke-linejoin="miter" d="M679 125L683.8 114.5L688.5 125L688.5 318L683.8 328.7L679 318Z"/>
<text x="704.5" y="145.4" font-size="17" textLength="34.5" lengthAdjust="spacingAndGlyphs">2.25</text>
<text x="704.5" y="186.7" font-size="17" textLength="34.5" lengthAdjust="spacingAndGlyphs">0.56</text>
<text x="704.5" y="228.1" font-size="17" textLength="34.5" lengthAdjust="spacingAndGlyphs">0.00</text>
<text x="704.5" y="269.5" font-size="17" textLength="41.5" lengthAdjust="spacingAndGlyphs">-0.56</text>
<text x="704.5" y="310.8" font-size="17" textLength="41.5" lengthAdjust="spacingAndGlyphs">-2.25</text>
<path d="M688.5 138.8H696.5M688.5 180.1H696.5M688.5 221.5H696.5M688.5 262.9H696.5M688.5 304.2H696.5" stroke="#000" stroke-width="1.5" fill="none"/>
<g clip-path="url(#c20)">
<rect x="827.0" y="116.0" width="194.0" height="212.0" fill="#a16a50"/>
<path fill="#ad7b61" d="M922.9 282.5L923.5 283.4 924.2 282.6 937.3 264.9 951.2 248.7 962.7 237.2 974.3 227.4 986.6 218.8 998.9 212.1 1011.2 207.4 1023.5 204.6 1023.5 108 824.2 108 824.2 204.7 837.3 207.8 849.6 212.7 861.9 219.6 874.2 228.4 886.6 239.1 898.9 251.8 911.2 266.5 922.9 282.5Z"/>
<path fill="#c09d89" d="M923.4 280.6L924.2 280 938.1 260.5 948.9 247.3 961.2 234.1 973.5 223.1 985.8 214 998.1 207 1010.4 202.1 1023.5 199 1023.5 108 824.2 108 824.2 199.1 837.3 202.2 849.6 207.3 861.9 214.4 874.2 223.5 886.6 234.7 898.9 247.9 911.2 263.2 923.4 280.6Z"/>
<path fill="#d6c1b8" d="M923.2 277.7L923.5 278.1 924.2 277.3 937.3 258.2 950.4 241.5 961.9 228.9 974.3 217.5 986.6 208.3 998.9 201.2 1011.2 196.2 1023.5 193.4 1023.5 108 824.2 108 824.2 193.5 836.6 196.4 848.9 201.4 861.2 208.6 873.5 217.9 885.8 229.4 898.1 243.1 910.4 258.9 923.2 277.7Z"/>
<path fill="#e6dbd7" d="M923.1 274.9L923.5 275.5 924.2 274.6 937.3 254.8 951.2 236.6 962.7 223.6 974.3 212.6 986.6 203 998.9 195.7 1011.2 190.6 1023.5 187.8 1023.5 108 824.2 108 824.2 187.9 836.6 190.8 848.9 196 861.2 203.4 873.5 213 885.8 224.9 898.1 239.1 910.4 255.6 923.1 274.9Z"/>
<path fill="#ece5e3" d="M923 272L923.5 272.8 924.2 272 938.1 250.3 951.9 231.6 963.5 218.2 975 206.9 987.3 197.2 999.6 189.8 1011.9 184.8 1023.5 182.3 1023.5 108 824.2 108 824.2 182.3 836.6 185.2 848.9 190.5 861.2 198.1 873.5 208.1 885.8 220.5 898.1 235.2 910.4 252.2 923 272Z"/>
<path fill="#f0ecea" d="M923.4 270.1L938.1 246.9 949.6 230.5 961.9 215.4 974.3 202.7 986.6 192.5 998.9 184.7 1011.2 179.5 1023.5 176.7 1023.5 108 824.2 108 824.2 176.7 836.6 179.6 848.9 185 861.2 192.9 873.5 203.2 885.8 216 898.1 231.2 910.4 248.9 923.4 270.1Z"/>
<path fill="#f3f1f0" d="M923.3 267.2L923.5 267.6 924.2 266.6 939.6 241.1 950.4 225.5 962.7 210 974.3 197.8 986.6 187.2 998.9 179.2 1011.2 173.9 1023.5 171.1 1023.5 108 824.2 108 824.2 171.1 836.6 174 848.9 179.5 861.2 187.6 873.5 198.3 885.8 211.5 898.1 227.3 910.4 245.6 923.3 267.2Z"/>
<path fill="#f0f0f5" d="M923.4 264.4L925 262.5 937.6 240.5 947.5 225.3 960.4 208.2 972.7 194.2 986.6 181.8 998.1 174.1 1010.4 168.4 1016.6 166.6 1023.5 165.4 1023.5 108 824.2 108 824.2 165.4 830.4 166.5 837.3 168.6 849.6 174.4 861.9 182.8 873.5 193.2 885.8 206.9 897 221.5 910.2 241.5 923.4 264.4Z"/>
<path fill="#e8e7f2" d="M923 252L923.5 252.9 924.1 252 932.7 235.8 948.1 212.9 959.6 198.6 971.3 186.2 986.6 172.9 997.8 165.2 1010.6 158.6 1023.5 154.2 1023.5 108 824.2 108 824.2 154.4 836.6 158.6 849.4 165.2 861.8 173.8 875 185.3 885.1 195.7 901.2 215.8 915 236.7 920.4 246.2 923 252Z"/>
<path fill="#dcdbee" d="M923.3 246.3L923.5 246.8 927.3 238.4 931.9 230.2 943.5 212.9 956.4 196.7 968.1 184.2 981.8 171.9 994.8 162.4 1009.6 153.9 1023.5 148.2 1023.5 108 824.2 108 824.2 148.4 837.4 153.8 851 161.4 864.2 171 878.2 183.3 892.4 198.6 905.8 215.7 917.3 233.7 923.3 246.3Z"/>
<path fill="#cdcbe8" d="M923.4 241.5L930.4 227.2 939.7 212.9 952.4 196.7 965.8 182.3 979.4 170 993.5 159.4 1007.4 150.9 1023.5 143.5 1023.5 108 824.2 108 824.2 143.7 838.1 150 852.4 158.6 866.6 169 880.5 181.4 895.6 197.6 908.1 213.7 917.3 228.2 921.2 235.6 923.4 241.5Z"/>
<path fill="#bdbadf" d="M923.3 236.7L923.5 237.4 926.6 229.7 930.4 222.3 939.6 208.3 951.2 193.8 964.8 179.5 978.8 167.1 992.7 156.6 1007.9 147.1 1023.5 139.3 1023.5 108 824.2 108 824.2 139.5 841 148.1 855.8 157.5 869.6 168.1 884.2 181.4 897.6 195.7 908.9 210.1 918.1 224.7 921.2 230.8 923.3 236.7Z"/>
<path fill="#a09cd5" d="M923.3 232.9L923.5 233.4 925.8 227.1 928.9 220.7 937.3 207.2 948.7 192.9 961.3 179.5 975 167.1 991.1 154.8 1007.3 144.2 1023.5 135.5 1023.5 108 824.2 108 824.2 135.8 841.5 145.2 857.3 155.6 872.2 167.1 885.9 179.5 899.3 193.8 911.2 209.1 918.9 221.7 921.9 228.4 923.3 232.9Z"/>
<path fill="#817dc7" d="M923.3 229.1L923.5 229.8 925.8 223.1 928.9 216.6 936.6 204.4 947.2 191 959.6 178 973.8 165.2 989.6 153 1005.8 142.2 1023.5 132.1 1023.5 108 824.2 108 824.2 132.4 841.9 142.6 858.1 153.4 873.5 165.3 888.2 178.6 900.8 191.9 911.3 205.3 918.9 217.6 921.9 224.5 923.3 229.1Z"/>
<g fill="#dea040" fill-opacity="0.5" stroke="#4a2a05" stroke-opacity="0.8" stroke-width="0.9"><circle cx="853" cy="197.5" r="2.6"/><circle cx="994.6" cy="201.4" r="2.6"/><circle cx="945.7" cy="238.9" r="2.6"/><circle cx="888.4" cy="224.8" r="2.6"/><circle cx="949.9" cy="237.1" r="2.6"/><circle cx="903.8" cy="235.1" r="2.6"/><circle cx="922.6" cy="273.8" r="2.6"/><circle cx="969" cy="210.8" r="2.6"/><circle cx="921.7" cy="269.5" r="2.6"/><circle cx="900.1" cy="241.1" r="2.6"/><circle cx="903.3" cy="243.8" r="2.6"/><circle cx="863.8" cy="204.6" r="2.6"/><circle cx="890.4" cy="227.9" r="2.6"/><circle cx="898.8" cy="237" r="2.6"/><circle cx="881.5" cy="220.8" r="2.6"/><circle cx="857.5" cy="207.6" r="2.6"/><circle cx="921.8" cy="273.3" r="2.6"/><circle cx="885.2" cy="231.4" r="2.6"/><circle cx="949.6" cy="234.3" r="2.6"/><circle cx="985.9" cy="206.7" r="2.6"/><circle cx="897.6" cy="238.6" r="2.6"/><circle cx="928.5" cy="266.2" r="2.6"/><circle cx="923.5" cy="278.1" r="2.6"/><circle cx="860.6" cy="208.5" r="2.6"/><circle cx="869.9" cy="216.4" r="2.6"/><circle cx="978.7" cy="212.9" r="2.6"/><circle cx="920.6" cy="275.4" r="2.6"/><circle cx="963.4" cy="225.4" r="2.6"/><circle cx="863.3" cy="200.5" r="2.6"/><circle cx="931.9" cy="262.5" r="2.6"/><circle cx="972" cy="212.3" r="2.6"/><circle cx="975.8" cy="216.3" r="2.6"/><circle cx="848.1" cy="195.3" r="2.6"/><circle cx="924.7" cy="275.7" r="2.6"/><circle cx="912.4" cy="255.1" r="2.6"/><circle cx="952.8" cy="230.1" r="2.6"/><circle cx="865" cy="201.1" r="2.6"/><circle cx="898.1" cy="235.6" r="2.6"/><circle cx="962.9" cy="221.9" r="2.6"/><circle cx="921.3" cy="274.3" r="2.6"/><circle cx="921.7" cy="270.7" r="2.6"/><circle cx="995.1" cy="199.3" r="2.6"/><circle cx="907.4" cy="244.8" r="2.6"/><circle cx="855.6" cy="200.7" r="2.6"/><circle cx="917.5" cy="258.1" r="2.6"/><circle cx="874.9" cy="221.2" r="2.6"/><circle cx="863.7" cy="206.9" r="2.6"/><circle cx="926.9" cy="266.4" r="2.6"/><circle cx="991.9" cy="201.5" r="2.6"/><circle cx="929.9" cy="265.2" r="2.6"/><circle cx="937.3" cy="252.1" r="2.6"/><circle cx="904.2" cy="248.3" r="2.6"/><circle cx="928.1" cy="266.2" r="2.6"/><circle cx="947.8" cy="228" r="2.6"/><circle cx="928.6" cy="262" r="2.6"/><circle cx="963.4" cy="226" r="2.6"/><circle cx="927.3" cy="270.6" r="2.6"/><circle cx="885.8" cy="225.2" r="2.6"/><circle cx="928.2" cy="263.4" r="2.6"/><circle cx="922.6" cy="277.9" r="2.6"/><circle cx="879.4" cy="220.5" r="2.6"/><circle cx="932.2" cy="256.3" r="2.6"/><circle cx="962.3" cy="219.7" r="2.6"/><circle cx="874.2" cy="215" r="2.6"/><circle cx="927.1" cy="271.7" r="2.6"/><circle cx="952.6" cy="238.6" r="2.6"/><circle cx="915.6" cy="261.9" r="2.6"/><circle cx="894.2" cy="240.7" r="2.6"/><circle cx="913.9" cy="255" r="2.6"/><circle cx="926.3" cy="272.1" r="2.6"/><circle cx="941.5" cy="243.8" r="2.6"/><circle cx="925.1" cy="267.6" r="2.6"/><circle cx="871.2" cy="207.4" r="2.6"/><circle cx="966.2" cy="223.6" r="2.6"/><circle cx="983.7" cy="202.9" r="2.6"/><circle cx="870" cy="206.6" r="2.6"/><circle cx="893.8" cy="234.6" r="2.6"/><circle cx="880.4" cy="222.3" r="2.6"/><circle cx="970.2" cy="216.4" r="2.6"/><circle cx="984.7" cy="210.4" r="2.6"/><circle cx="858.3" cy="197.6" r="2.6"/><circle cx="903.9" cy="251.1" r="2.6"/><circle cx="883.5" cy="225.7" r="2.6"/><circle cx="922" cy="274" r="2.6"/><circle cx="984.9" cy="205.7" r="2.6"/><circle cx="862" cy="204.2" r="2.6"/><circle cx="882.1" cy="219.4" r="2.6"/><circle cx="923" cy="277.1" r="2.6"/><circle cx="923.4" cy="274.8" r="2.6"/><circle cx="955.7" cy="237.7" r="2.6"/><circle cx="919.9" cy="268" r="2.6"/><circle cx="874.8" cy="216.7" r="2.6"/><circle cx="910.8" cy="252" r="2.6"/><circle cx="997.5" cy="196.4" r="2.6"/><circle cx="954.1" cy="234.5" r="2.6"/><circle cx="870.1" cy="212.7" r="2.6"/><circle cx="960.9" cy="221.3" r="2.6"/><circle cx="905.3" cy="243.8" r="2.6"/><circle cx="958.8" cy="228.8" r="2.6"/><circle cx="852" cy="192.1" r="2.6"/><circle cx="970.4" cy="207.8" r="2.6"/><circle cx="877.4" cy="221.5" r="2.6"/><circle cx="921.6" cy="271.3" r="2.6"/><circle cx="934.9" cy="246.1" r="2.6"/><circle cx="923" cy="277.9" r="2.6"/><circle cx="881" cy="218.6" r="2.6"/><circle cx="875.2" cy="215.3" r="2.6"/><circle cx="899.8" cy="240.3" r="2.6"/><circle cx="857.6" cy="202.6" r="2.6"/><circle cx="888.7" cy="228.6" r="2.6"/><circle cx="875.1" cy="211.9" r="2.6"/><circle cx="921.6" cy="273.2" r="2.6"/><circle cx="910.3" cy="253.1" r="2.6"/><circle cx="931.2" cy="264" r="2.6"/><circle cx="900.2" cy="238.9" r="2.6"/><circle cx="852.7" cy="201.7" r="2.6"/><circle cx="907.3" cy="248.2" r="2.6"/><circle cx="951" cy="230.1" r="2.6"/><circle cx="897" cy="233.7" r="2.6"/><circle cx="917.2" cy="261.4" r="2.6"/><circle cx="952.3" cy="231.4" r="2.6"/><circle cx="916.9" cy="262.1" r="2.6"/><circle cx="977.7" cy="210.5" r="2.6"/><circle cx="984.3" cy="206.4" r="2.6"/><circle cx="906" cy="243.1" r="2.6"/><circle cx="952.1" cy="237.4" r="2.6"/><circle cx="898.5" cy="231.4" r="2.6"/><circle cx="875.7" cy="214.8" r="2.6"/><circle cx="919.1" cy="268.4" r="2.6"/><circle cx="932.1" cy="260.6" r="2.6"/><circle cx="988.6" cy="204.7" r="2.6"/><circle cx="877.2" cy="215.6" r="2.6"/><circle cx="947.5" cy="240.8" r="2.6"/><circle cx="923.7" cy="274.7" r="2.6"/><circle cx="872.8" cy="215.3" r="2.6"/><circle cx="998.7" cy="203.5" r="2.6"/><circle cx="945" cy="243.8" r="2.6"/><circle cx="870.2" cy="217.5" r="2.6"/><circle cx="981.3" cy="207.6" r="2.6"/><circle cx="870.2" cy="207" r="2.6"/><circle cx="867.4" cy="206.4" r="2.6"/><circle cx="905.5" cy="249.6" r="2.6"/><circle cx="989.2" cy="204.6" r="2.6"/><circle cx="856.2" cy="195.4" r="2.6"/><circle cx="983.4" cy="205" r="2.6"/><circle cx="932.5" cy="258.5" r="2.6"/><circle cx="862.6" cy="201.7" r="2.6"/><circle cx="925.2" cy="265.4" r="2.6"/><circle cx="922.9" cy="271.5" r="2.6"/><circle cx="927.4" cy="267.6" r="2.6"/><circle cx="949.4" cy="234.6" r="2.6"/><circle cx="940.2" cy="245.1" r="2.6"/><circle cx="1002" cy="196.5" r="2.6"/><circle cx="877.1" cy="219.8" r="2.6"/><circle cx="963.1" cy="222" r="2.6"/><circle cx="916.2" cy="263.6" r="2.6"/><circle cx="958" cy="227.3" r="2.6"/><circle cx="978.3" cy="209.4" r="2.6"/><circle cx="997" cy="190.2" r="2.6"/><circle cx="896.2" cy="237.7" r="2.6"/><circle cx="921" cy="270.9" r="2.6"/><circle cx="989.3" cy="202.6" r="2.6"/><circle cx="989.1" cy="200.8" r="2.6"/><circle cx="914.4" cy="254.8" r="2.6"/><circle cx="989.3" cy="203.7" r="2.6"/><circle cx="915.7" cy="262.5" r="2.6"/><circle cx="910.9" cy="257.6" r="2.6"/><circle cx="955.1" cy="233.5" r="2.6"/><circle cx="922.9" cy="274.1" r="2.6"/><circle cx="920.8" cy="270" r="2.6"/><circle cx="913.2" cy="259.1" r="2.6"/><circle cx="919" cy="267.3" r="2.6"/><circle cx="875.8" cy="214.9" r="2.6"/><circle cx="860.5" cy="202.1" r="2.6"/><circle cx="954" cy="233.3" r="2.6"/><circle cx="927.8" cy="267.7" r="2.6"/><circle cx="943.2" cy="249.4" r="2.6"/><circle cx="963.4" cy="226.2" r="2.6"/><circle cx="895.2" cy="226.8" r="2.6"/><circle cx="888.4" cy="234.6" r="2.6"/><circle cx="899.1" cy="238.8" r="2.6"/><circle cx="904.1" cy="242.7" r="2.6"/><circle cx="954.7" cy="231.8" r="2.6"/><circle cx="912" cy="256.7" r="2.6"/><circle cx="906.4" cy="246.6" r="2.6"/><circle cx="935.5" cy="253.8" r="2.6"/><circle cx="884.3" cy="222.7" r="2.6"/><circle cx="866.1" cy="213.9" r="2.6"/><circle cx="944.2" cy="242.7" r="2.6"/><circle cx="955" cy="233.4" r="2.6"/><circle cx="901.6" cy="242.4" r="2.6"/><circle cx="935.1" cy="253.7" r="2.6"/><circle cx="854.9" cy="198.1" r="2.6"/><circle cx="917.7" cy="261.1" r="2.6"/><circle cx="929.4" cy="265.3" r="2.6"/><circle cx="897.7" cy="232.2" r="2.6"/><circle cx="911.6" cy="249.9" r="2.6"/><circle cx="930.8" cy="258" r="2.6"/><circle cx="928.4" cy="261.7" r="2.6"/><circle cx="878.2" cy="217.5" r="2.6"/><circle cx="945.6" cy="241" r="2.6"/><circle cx="865" cy="204.1" r="2.6"/><circle cx="996.9" cy="201.7" r="2.6"/><circle cx="887.7" cy="224.7" r="2.6"/><circle cx="894.9" cy="234.9" r="2.6"/><circle cx="886.2" cy="225.5" r="2.6"/><circle cx="1002.1" cy="199.9" r="2.6"/><circle cx="899.5" cy="241.2" r="2.6"/><circle cx="931.8" cy="259.7" r="2.6"/><circle cx="998.5" cy="193.8" r="2.6"/><circle cx="989.3" cy="198.9" r="2.6"/><circle cx="855.7" cy="200.9" r="2.6"/><circle cx="924.5" cy="275.7" r="2.6"/><circle cx="932.4" cy="261.1" r="2.6"/><circle cx="944" cy="240.9" r="2.6"/><circle cx="907.8" cy="249.1" r="2.6"/><circle cx="908.1" cy="246.6" r="2.6"/><circle cx="849.7" cy="191.7" r="2.6"/><circle cx="854.2" cy="199.8" r="2.6"/><circle cx="927.9" cy="270.9" r="2.6"/><circle cx="861.6" cy="207.3" r="2.6"/><circle cx="884.6" cy="228" r="2.6"/><circle cx="905.9" cy="249.8" r="2.6"/><circle cx="863.7" cy="201.7" r="2.6"/><circle cx="853.6" cy="198.7" r="2.6"/><circle cx="988" cy="207.8" r="2.6"/><circle cx="920.3" cy="267.2" r="2.6"/><circle cx="890.1" cy="223.1" r="2.6"/><circle cx="946.3" cy="241" r="2.6"/><circle cx="847.7" cy="198" r="2.6"/><circle cx="893.9" cy="233.1" r="2.6"/><circle cx="992.6" cy="199.1" r="2.6"/><circle cx="978.6" cy="207.3" r="2.6"/><circle cx="933.7" cy="252.8" r="2.6"/><circle cx="868.4" cy="205.2" r="2.6"/><circle cx="907.7" cy="244" r="2.6"/><circle cx="854.5" cy="195.7" r="2.6"/><circle cx="891.5" cy="226.7" r="2.6"/><circle cx="850" cy="202" r="2.6"/><circle cx="872.9" cy="213.1" r="2.6"/><circle cx="934.7" cy="254.1" r="2.6"/><circle cx="867.3" cy="209.8" r="2.6"/><circle cx="880.4" cy="215.6" r="2.6"/><circle cx="981.2" cy="208.7" r="2.6"/><circle cx="906.7" cy="249.8" r="2.6"/><circle cx="910.1" cy="246.6" r="2.6"/><circle cx="866.1" cy="205.4" r="2.6"/><circle cx="959.7" cy="224.5" r="2.6"/><circle cx="939.3" cy="245.1" r="2.6"/><circle cx="925" cy="270.4" r="2.6"/><circle cx="932.8" cy="257" r="2.6"/><circle cx="864" cy="214.3" r="2.6"/><circle cx="895.7" cy="236.4" r="2.6"/><circle cx="930" cy="264.2" r="2.6"/><circle cx="992.6" cy="203.1" r="2.6"/><circle cx="963.6" cy="221" r="2.6"/><circle cx="934.3" cy="251.8" r="2.6"/><circle cx="924.7" cy="276.2" r="2.6"/><circle cx="848.3" cy="199.8" r="2.6"/><circle cx="974.9" cy="205.3" r="2.6"/><circle cx="860.3" cy="205.1" r="2.6"/><circle cx="871.6" cy="215.9" r="2.6"/><circle cx="942.9" cy="242.9" r="2.6"/><circle cx="962.3" cy="221.4" r="2.6"/><circle cx="959.8" cy="227.9" r="2.6"/><circle cx="921.9" cy="270.4" r="2.6"/><circle cx="881.8" cy="221.9" r="2.6"/><circle cx="853" cy="201.9" r="2.6"/><circle cx="970.1" cy="215.5" r="2.6"/><circle cx="995.7" cy="195.7" r="2.6"/><circle cx="893.1" cy="233.5" r="2.6"/><circle cx="972.7" cy="212.8" r="2.6"/><circle cx="916.3" cy="261.4" r="2.6"/><circle cx="909.7" cy="240.5" r="2.6"/><circle cx="924.4" cy="278.6" r="2.6"/><circle cx="850.1" cy="193" r="2.6"/><circle cx="920.2" cy="269" r="2.6"/><circle cx="886.5" cy="224.9" r="2.6"/><circle cx="944.9" cy="238.5" r="2.6"/><circle cx="922.8" cy="278.7" r="2.6"/><circle cx="971.7" cy="210.4" r="2.6"/><circle cx="978.9" cy="208.1" r="2.6"/><circle cx="904.5" cy="246.1" r="2.6"/><circle cx="899.1" cy="239.6" r="2.6"/><circle cx="987.6" cy="201.5" r="2.6"/><circle cx="923.1" cy="278.6" r="2.6"/><circle cx="869.4" cy="205.3" r="2.6"/><circle cx="857.2" cy="200.2" r="2.6"/><circle cx="998.3" cy="193.4" r="2.6"/><circle cx="927.2" cy="263.8" r="2.6"/><circle cx="858.6" cy="202" r="2.6"/><circle cx="925.3" cy="277.7" r="2.6"/><circle cx="924.8" cy="278.8" r="2.6"/><circle cx="918.1" cy="268.3" r="2.6"/><circle cx="988.7" cy="197.4" r="2.6"/><circle cx="991.6" cy="203.3" r="2.6"/><circle cx="874.9" cy="210" r="2.6"/><circle cx="879" cy="215.6" r="2.6"/><circle cx="919" cy="261.1" r="2.6"/><circle cx="965.3" cy="216.6" r="2.6"/><circle cx="934.1" cy="256.3" r="2.6"/><circle cx="949.3" cy="236.9" r="2.6"/><circle cx="928.6" cy="265.3" r="2.6"/><circle cx="888.9" cy="226.1" r="2.6"/><circle cx="965" cy="222.4" r="2.6"/><circle cx="849.5" cy="197.1" r="2.6"/><circle cx="941.2" cy="239.9" r="2.6"/><circle cx="882.7" cy="227.1" r="2.6"/><circle cx="922.6" cy="274.2" r="2.6"/><circle cx="997.4" cy="200" r="2.6"/><circle cx="925.3" cy="272.3" r="2.6"/><circle cx="860.2" cy="200.8" r="2.6"/><circle cx="919" cy="266.4" r="2.6"/><circle cx="937.4" cy="248.4" r="2.6"/><circle cx="856.5" cy="206.3" r="2.6"/><circle cx="898" cy="231.8" r="2.6"/><circle cx="849.7" cy="199" r="2.6"/><circle cx="924.9" cy="271.9" r="2.6"/><circle cx="914.3" cy="257.2" r="2.6"/><circle cx="926.1" cy="279" r="2.6"/><circle cx="901.1" cy="242.6" r="2.6"/><circle cx="937.8" cy="249.7" r="2.6"/><circle cx="884.8" cy="217.1" r="2.6"/><circle cx="981" cy="206.7" r="2.6"/><circle cx="992.5" cy="199.2" r="2.6"/><circle cx="922.1" cy="278.3" r="2.6"/><circle cx="923.4" cy="272.7" r="2.6"/><circle cx="968.9" cy="210.7" r="2.6"/><circle cx="901.7" cy="240.4" r="2.6"/><circle cx="961.8" cy="224.2" r="2.6"/><circle cx="898.2" cy="242.5" r="2.6"/><circle cx="945.7" cy="236.9" r="2.6"/><circle cx="912.3" cy="245.3" r="2.6"/><circle cx="930.5" cy="259.7" r="2.6"/><circle cx="983.6" cy="201.7" r="2.6"/><circle cx="859.2" cy="201.1" r="2.6"/><circle cx="963.9" cy="225" r="2.6"/><circle cx="924.3" cy="271.3" r="2.6"/><circle cx="912" cy="258" r="2.6"/><circle cx="909.8" cy="251.7" r="2.6"/><circle cx="862" cy="203.8" r="2.6"/><circle cx="898.5" cy="233.2" r="2.6"/><circle cx="933.3" cy="256" r="2.6"/><circle cx="868" cy="207.7" r="2.6"/><circle cx="941.1" cy="248.5" r="2.6"/><circle cx="995.1" cy="202.5" r="2.6"/><circle cx="997.4" cy="197" r="2.6"/><circle cx="979" cy="211.5" r="2.6"/><circle cx="964.4" cy="225.8" r="2.6"/><circle cx="880.6" cy="223.6" r="2.6"/><circle cx="995.8" cy="199.6" r="2.6"/><circle cx="883.9" cy="228.8" r="2.6"/><circle cx="976.1" cy="215.9" r="2.6"/><circle cx="978.3" cy="215.2" r="2.6"/><circle cx="933.5" cy="256.4" r="2.6"/><circle cx="924" cy="275.5" r="2.6"/><circle cx="890.7" cy="220.9" r="2.6"/><circle cx="925.7" cy="276.4" r="2.6"/><circle cx="900.5" cy="241.6" r="2.6"/><circle cx="874.5" cy="210.9" r="2.6"/><circle cx="873.1" cy="213.6" r="2.6"/><circle cx="961.6" cy="224.7" r="2.6"/><circle cx="982.2" cy="201.2" r="2.6"/><circle cx="875.5" cy="216" r="2.6"/><circle cx="847.9" cy="199.6" r="2.6"/><circle cx="894.9" cy="238.1" r="2.6"/><circle cx="875.3" cy="213.4" r="2.6"/><circle cx="885.4" cy="222.2" r="2.6"/><circle cx="931" cy="264.8" r="2.6"/><circle cx="917.3" cy="265.7" r="2.6"/><circle cx="923.9" cy="297.4" r="2.6"/><circle cx="924" cy="289.3" r="2.6"/><circle cx="923.2" cy="300.8" r="2.6"/><circle cx="924" cy="292.5" r="2.6"/><circle cx="924" cy="277.1" r="2.6"/><circle cx="922.5" cy="301" r="2.6"/><circle cx="923.4" cy="282.4" r="2.6"/><circle cx="923.9" cy="279.4" r="2.6"/><circle cx="923.2" cy="289.3" r="2.6"/><circle cx="922.2" cy="281.3" r="2.6"/><circle cx="923.4" cy="291.2" r="2.6"/><circle cx="924.1" cy="293.6" r="2.6"/><circle cx="924.6" cy="289.4" r="2.6"/><circle cx="922.2" cy="298" r="2.6"/><circle cx="925.3" cy="294.9" r="2.6"/><circle cx="922.9" cy="294.9" r="2.6"/><circle cx="924.2" cy="276" r="2.6"/><circle cx="924.4" cy="294.1" r="2.6"/><circle cx="924.2" cy="297.1" r="2.6"/><circle cx="923.7" cy="277.3" r="2.6"/><circle cx="922.9" cy="299.6" r="2.6"/><circle cx="924" cy="276.6" r="2.6"/><circle cx="923.1" cy="279.7" r="2.6"/><circle cx="922" cy="285.5" r="2.6"/><circle cx="925.4" cy="291.5" r="2.6"/><circle cx="924" cy="297.9" r="2.6"/><circle cx="924.8" cy="300.5" r="2.6"/><circle cx="923" cy="300.5" r="2.6"/><circle cx="924.5" cy="293.7" r="2.6"/><circle cx="924.6" cy="292.1" r="2.6"/><circle cx="832.2" cy="183.5" r="2.6"/><circle cx="1015" cy="183.5" r="2.6"/><circle cx="847.5" cy="205.7" r="2.6"/><circle cx="1001.3" cy="192.5" r="2.6"/><circle cx="876" cy="203.1" r="2.6"/><circle cx="935.2" cy="262.5" r="2.6"/><circle cx="900.9" cy="245.3" r="2.6"/></g>
<g fill="#6c1d92" fill-opacity="0.5" stroke="#3c0a5a" stroke-opacity="0.8" stroke-width="0.9"><circle cx="933.6" cy="215.5" r="2.6"/><circle cx="973.7" cy="164" r="2.6"/><circle cx="953.1" cy="186.2" r="2.6"/><circle cx="894.3" cy="179.4" r="2.6"/><circle cx="903.5" cy="197.4" r="2.6"/><circle cx="967.7" cy="166.2" r="2.6"/><circle cx="845.8" cy="141.4" r="2.6"/><circle cx="959.6" cy="177" r="2.6"/><circle cx="956.1" cy="181.9" r="2.6"/><circle cx="922.8" cy="232.8" r="2.6"/><circle cx="905.3" cy="197" r="2.6"/><circle cx="899.7" cy="193.3" r="2.6"/><circle cx="898.7" cy="186.2" r="2.6"/><circle cx="923.4" cy="227.3" r="2.6"/><circle cx="923.9" cy="238.3" r="2.6"/><circle cx="925.8" cy="229.1" r="2.6"/><circle cx="995.8" cy="152" r="2.6"/><circle cx="953.5" cy="181" r="2.6"/><circle cx="932.8" cy="215.8" r="2.6"/><circle cx="994.4" cy="152.9" r="2.6"/><circle cx="893.3" cy="176.7" r="2.6"/><circle cx="878.4" cy="170.6" r="2.6"/><circle cx="928.9" cy="216.4" r="2.6"/><circle cx="855.8" cy="146.5" r="2.6"/><circle cx="852.1" cy="148.3" r="2.6"/><circle cx="923.3" cy="236.4" r="2.6"/><circle cx="924.5" cy="232" r="2.6"/><circle cx="977.7" cy="160.9" r="2.6"/><circle cx="932.7" cy="214" r="2.6"/><circle cx="925.1" cy="236.8" r="2.6"/><circle cx="923.6" cy="238.5" r="2.6"/><circle cx="899.5" cy="182.9" r="2.6"/><circle cx="846.9" cy="143.6" r="2.6"/><circle cx="884.7" cy="176.5" r="2.6"/><circle cx="940.7" cy="201.8" r="2.6"/><circle cx="887.1" cy="177.2" r="2.6"/><circle cx="914.6" cy="211.2" r="2.6"/><circle cx="843.5" cy="145.5" r="2.6"/><circle cx="960.2" cy="174.4" r="2.6"/><circle cx="879.4" cy="167.1" r="2.6"/><circle cx="899.2" cy="190.1" r="2.6"/><circle cx="970.1" cy="166.4" r="2.6"/><circle cx="923.5" cy="237.4" r="2.6"/><circle cx="963.9" cy="172" r="2.6"/><circle cx="932.3" cy="211.1" r="2.6"/><circle cx="942.5" cy="188.4" r="2.6"/><circle cx="866" cy="155.8" r="2.6"/><circle cx="924.9" cy="231.4" r="2.6"/><circle cx="925.3" cy="237.9" r="2.6"/><circle cx="967.6" cy="167" r="2.6"/><circle cx="910.4" cy="211.1" r="2.6"/><circle cx="930.6" cy="220.7" r="2.6"/><circle cx="858.7" cy="150.2" r="2.6"/><circle cx="917.1" cy="214.9" r="2.6"/><circle cx="908" cy="201.5" r="2.6"/><circle cx="875" cy="170.4" r="2.6"/><circle cx="958.9" cy="178" r="2.6"/><circle cx="914.4" cy="214" r="2.6"/><circle cx="989.8" cy="150.2" r="2.6"/><circle cx="925.6" cy="220.5" r="2.6"/><circle cx="929.3" cy="218.4" r="2.6"/><circle cx="933.9" cy="212.4" r="2.6"/><circle cx="939.1" cy="205.2" r="2.6"/><circle cx="878" cy="167.2" r="2.6"/><circle cx="920.8" cy="227" r="2.6"/><circle cx="892.8" cy="186" r="2.6"/><circle cx="917.8" cy="218.6" r="2.6"/><circle cx="864.5" cy="160.5" r="2.6"/><circle cx="986.6" cy="150.5" r="2.6"/><circle cx="892.8" cy="177.1" r="2.6"/><circle cx="935" cy="204" r="2.6"/><circle cx="904.1" cy="197.1" r="2.6"/><circle cx="967.9" cy="166.2" r="2.6"/><circle cx="935.7" cy="207" r="2.6"/><circle cx="873.4" cy="164.5" r="2.6"/><circle cx="964" cy="172.9" r="2.6"/><circle cx="985.2" cy="159.2" r="2.6"/><circle cx="977.1" cy="165.6" r="2.6"/><circle cx="925.8" cy="225.4" r="2.6"/><circle cx="876.7" cy="166.5" r="2.6"/><circle cx="886.9" cy="174.3" r="2.6"/><circle cx="978" cy="156.6" r="2.6"/><circle cx="927.3" cy="229.8" r="2.6"/><circle cx="882.7" cy="174" r="2.6"/><circle cx="970.4" cy="165.3" r="2.6"/><circle cx="932.7" cy="210.8" r="2.6"/><circle cx="927.1" cy="225.9" r="2.6"/><circle cx="916.3" cy="212.2" r="2.6"/><circle cx="918.8" cy="220.4" r="2.6"/><circle cx="892.6" cy="186" r="2.6"/><circle cx="851.2" cy="151.5" r="2.6"/><circle cx="967.8" cy="165.3" r="2.6"/><circle cx="923.1" cy="232.7" r="2.6"/><circle cx="927.2" cy="230.7" r="2.6"/><circle cx="910.3" cy="199.7" r="2.6"/><circle cx="946.4" cy="188.4" r="2.6"/><circle cx="850.8" cy="144.4" r="2.6"/><circle cx="913.9" cy="212.3" r="2.6"/><circle cx="850.1" cy="149" r="2.6"/><circle cx="870.3" cy="164.6" r="2.6"/><circle cx="984.5" cy="147.4" r="2.6"/><circle cx="935.3" cy="207.9" r="2.6"/><circle cx="921.8" cy="223.6" r="2.6"/><circle cx="924.8" cy="234.9" r="2.6"/><circle cx="968.2" cy="167.2" r="2.6"/><circle cx="908.5" cy="207.4" r="2.6"/><circle cx="928.7" cy="221.7" r="2.6"/><circle cx="936.6" cy="201.6" r="2.6"/><circle cx="910.6" cy="209.4" r="2.6"/><circle cx="923" cy="235.5" r="2.6"/><circle cx="949" cy="186.1" r="2.6"/><circle cx="977.4" cy="163.9" r="2.6"/><circle cx="877.3" cy="168.1" r="2.6"/><circle cx="981.5" cy="159" r="2.6"/><circle cx="844" cy="145.3" r="2.6"/><circle cx="948.9" cy="189.9" r="2.6"/><circle cx="958.8" cy="179.9" r="2.6"/><circle cx="874.6" cy="165.2" r="2.6"/><circle cx="918" cy="222.7" r="2.6"/><circle cx="960.5" cy="179.9" r="2.6"/><circle cx="846.4" cy="146.3" r="2.6"/><circle cx="930.6" cy="213.2" r="2.6"/><circle cx="957.3" cy="184.3" r="2.6"/><circle cx="923.8" cy="236.8" r="2.6"/><circle cx="945" cy="195.1" r="2.6"/><circle cx="890.8" cy="183.1" r="2.6"/><circle cx="889.3" cy="174.2" r="2.6"/><circle cx="912.7" cy="210.4" r="2.6"/><circle cx="886.7" cy="169.3" r="2.6"/><circle cx="910.1" cy="207" r="2.6"/><circle cx="983.3" cy="155" r="2.6"/><circle cx="927.2" cy="225.1" r="2.6"/><circle cx="909.3" cy="205.7" r="2.6"/><circle cx="901.6" cy="189.5" r="2.6"/><circle cx="985" cy="155.6" r="2.6"/><circle cx="921.9" cy="227.6" r="2.6"/><circle cx="991.1" cy="151.5" r="2.6"/><circle cx="924.9" cy="236.5" r="2.6"/><circle cx="924.2" cy="235.3" r="2.6"/><circle cx="973.1" cy="163.5" r="2.6"/><circle cx="944.4" cy="189.5" r="2.6"/><circle cx="928.5" cy="223.9" r="2.6"/><circle cx="919.8" cy="224" r="2.6"/><circle cx="972.6" cy="170.2" r="2.6"/><circle cx="919.3" cy="220.3" r="2.6"/><circle cx="980.2" cy="161.9" r="2.6"/><circle cx="857.2" cy="157.7" r="2.6"/><circle cx="920.1" cy="224.7" r="2.6"/><circle cx="922.9" cy="235.4" r="2.6"/><circle cx="986.8" cy="158.9" r="2.6"/><circle cx="894.8" cy="188.1" r="2.6"/><circle cx="957.9" cy="180.5" r="2.6"/><circle cx="939" cy="205.1" r="2.6"/><circle cx="941.9" cy="195.5" r="2.6"/><circle cx="933" cy="214.1" r="2.6"/><circle cx="990" cy="154.3" r="2.6"/><circle cx="910.5" cy="202.8" r="2.6"/><circle cx="916.3" cy="218.1" r="2.6"/><circle cx="889.3" cy="175.9" r="2.6"/><circle cx="854.2" cy="153.3" r="2.6"/><circle cx="887.9" cy="180.9" r="2.6"/><circle cx="980" cy="164.7" r="2.6"/><circle cx="959" cy="169.4" r="2.6"/><circle cx="869.3" cy="161.1" r="2.6"/><circle cx="929.1" cy="218.7" r="2.6"/><circle cx="923.1" cy="235.2" r="2.6"/><circle cx="928.4" cy="220.6" r="2.6"/><circle cx="935.1" cy="207.4" r="2.6"/><circle cx="909.2" cy="195.5" r="2.6"/><circle cx="988.3" cy="156.4" r="2.6"/><circle cx="921" cy="232.8" r="2.6"/><circle cx="933.1" cy="214.5" r="2.6"/><circle cx="934.4" cy="213.3" r="2.6"/><circle cx="886.2" cy="171.6" r="2.6"/><circle cx="859.3" cy="150.7" r="2.6"/><circle cx="917.4" cy="221.1" r="2.6"/><circle cx="952.4" cy="189.3" r="2.6"/><circle cx="958.7" cy="178.1" r="2.6"/><circle cx="941.8" cy="191.5" r="2.6"/><circle cx="865.5" cy="166.7" r="2.6"/><circle cx="975.7" cy="159.9" r="2.6"/><circle cx="957.9" cy="181.8" r="2.6"/><circle cx="967.7" cy="164.6" r="2.6"/><circle cx="925.2" cy="235.1" r="2.6"/><circle cx="977.5" cy="161.3" r="2.6"/><circle cx="852.5" cy="154" r="2.6"/><circle cx="849.2" cy="150.6" r="2.6"/><circle cx="849.6" cy="143.6" r="2.6"/><circle cx="899.1" cy="185.2" r="2.6"/><circle cx="895.8" cy="186.4" r="2.6"/><circle cx="883.9" cy="175.5" r="2.6"/><circle cx="928.5" cy="227" r="2.6"/><circle cx="852.1" cy="150.3" r="2.6"/><circle cx="928.3" cy="221.5" r="2.6"/><circle cx="881.1" cy="170" r="2.6"/><circle cx="937.6" cy="203.8" r="2.6"/><circle cx="846.8" cy="149.8" r="2.6"/><circle cx="906.3" cy="198.7" r="2.6"/><circle cx="981.9" cy="157.3" r="2.6"/><circle cx="923.5" cy="231.7" r="2.6"/><circle cx="953.7" cy="174.6" r="2.6"/><circle cx="935.3" cy="207.9" r="2.6"/><circle cx="931" cy="217.8" r="2.6"/><circle cx="886.1" cy="174.6" r="2.6"/><circle cx="927.7" cy="225" r="2.6"/><circle cx="851.8" cy="151.3" r="2.6"/><circle cx="955.8" cy="180" r="2.6"/><circle cx="988" cy="156.5" r="2.6"/><circle cx="963.9" cy="169.5" r="2.6"/><circle cx="855.4" cy="151.3" r="2.6"/><circle cx="910.7" cy="204.4" r="2.6"/><circle cx="907.2" cy="200.4" r="2.6"/><circle cx="868.8" cy="162.1" r="2.6"/><circle cx="932.9" cy="214.8" r="2.6"/><circle cx="955.4" cy="181.1" r="2.6"/><circle cx="906" cy="199.9" r="2.6"/><circle cx="966.2" cy="168.7" r="2.6"/><circle cx="954.9" cy="180.8" r="2.6"/><circle cx="871.2" cy="166.1" r="2.6"/><circle cx="949.9" cy="186.3" r="2.6"/><circle cx="972.8" cy="168.7" r="2.6"/><circle cx="886.2" cy="176.8" r="2.6"/><circle cx="927.3" cy="225" r="2.6"/><circle cx="935.8" cy="213.2" r="2.6"/><circle cx="929.8" cy="217.6" r="2.6"/><circle cx="866.5" cy="157.5" r="2.6"/><circle cx="935.7" cy="207.2" r="2.6"/><circle cx="932.8" cy="213.3" r="2.6"/><circle cx="960.2" cy="176.6" r="2.6"/><circle cx="957.9" cy="181.4" r="2.6"/><circle cx="908.3" cy="202.5" r="2.6"/><circle cx="944.3" cy="195.7" r="2.6"/><circle cx="967.3" cy="168.2" r="2.6"/><circle cx="974.5" cy="166.8" r="2.6"/><circle cx="880.7" cy="168.5" r="2.6"/><circle cx="849.7" cy="147.4" r="2.6"/><circle cx="934.4" cy="209.3" r="2.6"/><circle cx="889.8" cy="179.8" r="2.6"/><circle cx="925.7" cy="226.7" r="2.6"/><circle cx="985.7" cy="160.1" r="2.6"/><circle cx="915.9" cy="213.2" r="2.6"/><circle cx="897.9" cy="186.2" r="2.6"/><circle cx="922.3" cy="230.4" r="2.6"/><circle cx="934.4" cy="207.6" r="2.6"/><circle cx="866.3" cy="160.1" r="2.6"/><circle cx="915.1" cy="214" r="2.6"/><circle cx="875.6" cy="162.7" r="2.6"/><circle cx="934.9" cy="206.5" r="2.6"/><circle cx="960.3" cy="174.3" r="2.6"/><circle cx="913" cy="214.1" r="2.6"/><circle cx="915.2" cy="211.5" r="2.6"/><circle cx="923.7" cy="231.5" r="2.6"/><circle cx="892.7" cy="177.2" r="2.6"/><circle cx="896.9" cy="185.1" r="2.6"/><circle cx="906.6" cy="204.4" r="2.6"/><circle cx="923" cy="230.4" r="2.6"/><circle cx="862.6" cy="155.9" r="2.6"/><circle cx="952.9" cy="193.1" r="2.6"/><circle cx="926.9" cy="223.7" r="2.6"/><circle cx="902.2" cy="198.2" r="2.6"/><circle cx="860" cy="157.9" r="2.6"/><circle cx="950.7" cy="188.2" r="2.6"/><circle cx="876.1" cy="160.9" r="2.6"/><circle cx="873.8" cy="164.7" r="2.6"/><circle cx="874.3" cy="163" r="2.6"/><circle cx="865.4" cy="151.6" r="2.6"/><circle cx="972.5" cy="158.7" r="2.6"/><circle cx="899.9" cy="190.1" r="2.6"/><circle cx="905.4" cy="198" r="2.6"/><circle cx="963.5" cy="176.8" r="2.6"/><circle cx="931.9" cy="215.9" r="2.6"/><circle cx="886.2" cy="172.9" r="2.6"/><circle cx="921" cy="225.6" r="2.6"/><circle cx="970.5" cy="165.5" r="2.6"/><circle cx="916.2" cy="212" r="2.6"/><circle cx="943.1" cy="198.1" r="2.6"/><circle cx="866.3" cy="158" r="2.6"/><circle cx="942.7" cy="193" r="2.6"/><circle cx="950.3" cy="183.6" r="2.6"/><circle cx="957.8" cy="173.5" r="2.6"/><circle cx="936.4" cy="204.1" r="2.6"/><circle cx="913.9" cy="211.9" r="2.6"/><circle cx="859.3" cy="152.1" r="2.6"/><circle cx="924.9" cy="235.9" r="2.6"/><circle cx="951.8" cy="190.8" r="2.6"/><circle cx="887.2" cy="173.3" r="2.6"/><circle cx="899.5" cy="189.4" r="2.6"/><circle cx="924.4" cy="232.4" r="2.6"/><circle cx="950.5" cy="192.5" r="2.6"/><circle cx="973.8" cy="164.4" r="2.6"/><circle cx="871.8" cy="164" r="2.6"/><circle cx="883.3" cy="174.8" r="2.6"/><circle cx="959.8" cy="184.4" r="2.6"/><circle cx="934" cy="210.7" r="2.6"/><circle cx="941.5" cy="194" r="2.6"/><circle cx="994.2" cy="148.4" r="2.6"/><circle cx="982.9" cy="158.5" r="2.6"/><circle cx="963" cy="172.6" r="2.6"/><circle cx="950.1" cy="183.1" r="2.6"/><circle cx="913.5" cy="218.6" r="2.6"/><circle cx="933.3" cy="211.2" r="2.6"/><circle cx="885.9" cy="172.1" r="2.6"/><circle cx="947.5" cy="186.6" r="2.6"/><circle cx="945.1" cy="185.3" r="2.6"/><circle cx="941.1" cy="193.7" r="2.6"/><circle cx="921.6" cy="227.8" r="2.6"/><circle cx="915.6" cy="213.1" r="2.6"/><circle cx="920.2" cy="222.1" r="2.6"/><circle cx="850.5" cy="149.9" r="2.6"/><circle cx="963.3" cy="172.4" r="2.6"/><circle cx="924.1" cy="231" r="2.6"/><circle cx="918.7" cy="214.1" r="2.6"/><circle cx="925.4" cy="230.1" r="2.6"/><circle cx="943.3" cy="195.1" r="2.6"/><circle cx="915.8" cy="213.9" r="2.6"/><circle cx="958.2" cy="172.1" r="2.6"/><circle cx="977.9" cy="160.1" r="2.6"/><circle cx="918.1" cy="214.4" r="2.6"/><circle cx="873.7" cy="166.8" r="2.6"/><circle cx="949.4" cy="187.9" r="2.6"/></g>
<g fill="#6c1d92" fill-opacity="0.5" stroke="#3c0a5a" stroke-opacity="0.8" stroke-width="0.9"><circle cx="923.6" cy="245.8" r="2.6"/></g>
</g>
<rect x="854.5" y="306.5" width="139.5" height="23" fill="#ffffff" fill-opacity="0.86" stroke="#111" stroke-width="1.8"/>
<text x="924.5" y="322.2" font-size="16" text-anchor="middle" textLength="130" lengthAdjust="spacingAndGlyphs"><tspan font-style="italic">s</tspan> = 1.78 ± 0.02</text>
<rect x="827.0" y="116.0" width="194.0" height="212.0" fill="none" stroke="#000" stroke-width="1.7"/>
<text x="811.2" y="329.2" font-size="16" text-anchor="end" textLength="24" lengthAdjust="spacingAndGlyphs">−2</text>
<text x="811.2" y="276.4" font-size="16" text-anchor="end" textLength="9.2" lengthAdjust="spacingAndGlyphs">0</text>
<text x="811.2" y="223.6" font-size="16" text-anchor="end" textLength="9.2" lengthAdjust="spacingAndGlyphs">2</text>
<text x="811.2" y="170.8" font-size="16" text-anchor="end" textLength="9.2" lengthAdjust="spacingAndGlyphs">4</text>
<text x="870.8" y="355.7" font-size="15.5" text-anchor="middle" textLength="34" lengthAdjust="spacingAndGlyphs">−10</text>
<text x="923.6" y="355.7" font-size="15.5" text-anchor="middle" textLength="9.6" lengthAdjust="spacingAndGlyphs">0</text>
<text x="976.5" y="355.7" font-size="15.5" text-anchor="middle" textLength="18.4" lengthAdjust="spacingAndGlyphs">10</text>
<path d="M819.5 323.2H827M819.5 270.4H827M819.5 217.6H827M819.5 164.8H827M870.8 328V335.5M923.6 328V335.5M976.5 328V335.5" stroke="#000" stroke-width="1.5" fill="none"/>
<text x="924" y="380.7" font-size="17" text-anchor="middle">x</text>
<text transform="translate(775.5 222) rotate(-90)" font-size="17.5" text-anchor="middle">y</text>
<text x="924" y="102.6" font-size="28.5" text-anchor="middle">backtransform</text>
<text x="770" y="95.5" font-size="24" font-weight="bold" textLength="29.2" lengthAdjust="spacingAndGlyphs">(c)</text>
<path fill="#817dc7" d="M1037 125.5L1041.8 114.5L1046.5 125.5Z"/>
<path fill="#a16a50" d="M1037 317.5L1041.8 328.7L1046.5 317.5Z"/>
<rect x="1037" y="125" width="9.5" height="14.2" fill="#817dc7"/>
<rect x="1037" y="138.8" width="9.5" height="14.2" fill="#a09cd5"/>
<rect x="1037" y="152.6" width="9.5" height="14.2" fill="#bdbadf"/>
<rect x="1037" y="166.4" width="9.5" height="14.2" fill="#cdcbe8"/>
<rect x="1037" y="180.1" width="9.5" height="14.2" fill="#dcdbee"/>
<rect x="1037" y="193.9" width="9.5" height="14.2" fill="#e8e7f2"/>
<rect x="1037" y="207.7" width="9.5" height="14.2" fill="#f0f0f5"/>
<rect x="1037" y="221.5" width="9.5" height="14.2" fill="#f3f1f0"/>
<rect x="1037" y="235.3" width="9.5" height="14.2" fill="#f0ecea"/>
<rect x="1037" y="249.1" width="9.5" height="14.2" fill="#ece5e3"/>
<rect x="1037" y="262.9" width="9.5" height="14.2" fill="#e6dbd7"/>
<rect x="1037" y="276.6" width="9.5" height="14.2" fill="#d6c1b8"/>
<rect x="1037" y="290.4" width="9.5" height="14.2" fill="#c09d89"/>
<rect x="1037" y="304.2" width="9.5" height="14.2" fill="#ad7b61"/>
<path fill="none" stroke="#000" stroke-width="1.7" stroke-linejoin="miter" d="M1037 125L1041.8 114.5L1046.5 125L1046.5 318L1041.8 328.7L1037 318Z"/>
<text x="1062.5" y="145.4" font-size="17" textLength="34.5" lengthAdjust="spacingAndGlyphs">1.12</text>
<text x="1062.5" y="186.7" font-size="17" textLength="34.5" lengthAdjust="spacingAndGlyphs">0.28</text>
<text x="1062.5" y="228.1" font-size="17" textLength="34.5" lengthAdjust="spacingAndGlyphs">0.00</text>
<text x="1062.5" y="269.5" font-size="17" textLength="41.5" lengthAdjust="spacingAndGlyphs">-0.28</text>
<text x="1062.5" y="310.8" font-size="17" textLength="41.5" lengthAdjust="spacingAndGlyphs">-1.12</text>
<path d="M1046.5 138.8H1054.5M1046.5 180.1H1054.5M1046.5 221.5H1054.5M1046.5 262.9H1054.5M1046.5 304.2H1054.5" stroke="#000" stroke-width="1.5" fill="none"/>
<g clip-path="url(#c01)">
<rect x="111.0" y="653.0" width="194.0" height="212.0" fill="#a16a50"/>
<path fill="#ad7b61" d="M108.2 872.9L307.5 872.9 307.5 645 108.2 645 108.2 872.9Z"/>
<path fill="#c09d89" d="M118.8 871.9L119.2 872.9 162.8 872.9 165.5 865.2 167.9 855.7 170.2 839.5 170.7 823.3 169.4 807.1 166.5 792.8 162 781.4 155.9 772 149 765.5 145.2 763.3 141.3 762 136.7 761.8 132.9 762.9 129 765.5 125.8 769 122.2 774.7 118.7 782.3 114 798.5 111.6 816.6 111.6 836.6 114.1 855.7 116.2 864.3 118.8 871.9ZM252 871.9L252.4 872.9 296 872.9 300 860.5 302.7 846.2 303.9 829 303.3 812.8 301 797.6 297.2 784.2 291.9 772.8 289 768.5 285.9 765.2 282.9 763.1 279.8 762 275.2 761.8 270.6 763.1 265.9 765.7 261.1 769.9 256.7 775.4 253.2 781.4 250.3 788 247.9 795.7 246.2 804.2 244.9 814.7 244.5 825.2 244.7 835.7 247.1 854.8 249.4 864.3 252 871.9ZM205.5 810L207.5 810.7 209 810.3 211.3 808.6 212.9 806.5 216.5 798.5 221.1 780.4 224.4 772.8 233.6 758.5 245.9 744.2 258.2 732.7 272.3 722.3 286.7 714.1 299.8 711.6 302.9 709.3 305.9 705.2 307.5 702.4 307.5 645 246.6 645 236.7 659 232.1 664.2 226.9 668.9 222.1 672.3 217.5 674.6 212.1 676.2 207.5 676.6 202.9 676.2 197.7 674.6 192.9 672.1 188.2 668.9 183 664.1 178.2 658.7 168.6 645 108.2 645 108.2 683.8 111.5 698.4 115.2 707 117.5 710.1 119.8 712 129.8 714.6 139.9 720.3 148.4 726.1 161.4 736.6 174.4 749.7 184.4 762.4 191.3 773.8 194.1 780.4 196.4 790.9 199.4 800.4 202.7 807.1 205.5 810Z"/>
<path fill="#d6c1b8" d="M122.8 871.9L123.3 872.9 158.7 872.9 162.6 863.3 165.7 850.9 167.6 836.6 167.8 822.3 166.5 807.1 163.8 794.7 160 784.2 154.8 775.6 151.3 771.8 148.2 769.4 142.1 766.8 137.5 766.9 133.6 768.4 129.8 771.5 126.7 775.2 123.1 781.4 120.3 788 116.2 803.3 114.2 821.4 114.8 840.5 117.7 857.6 120.1 865.2 122.8 871.9ZM256.5 872.9L291.9 872.9 295.8 863.3 298.7 851.9 300.7 837.6 301.1 824.3 300.2 810.9 297.8 797.6 293.8 785.2 289 776 283.6 769.9 280.6 767.9 277.5 766.8 273.6 766.7 269 768.2 264.4 771.3 260.6 775.4 257.2 780.4 254 787.1 251.7 793.8 249.6 802.3 248.1 811.9 247.4 821.4 248 840.5 250.9 857.6 253.2 865.2 256.5 872.9ZM207 807.1L208.2 807.1 210.6 805.4 213.6 800.6 217 791.8 220.6 778.2 225.9 767.3 234.4 754.9 244.3 743.2 256.2 731.8 269.8 721.3 285.9 711.8 299 707.8 302.1 705.3 304.4 702.2 307.5 695.8 307.5 645 249.6 645 239 661.1 233.6 667.6 228.4 672.7 223.4 676.5 218.1 679.4 212.9 681.1 207.5 681.7 202.1 681 197.1 679.4 192.1 676.7 186.7 672.6 181.3 667.3 175.9 660.8 165.6 645 112.7 645 110.3 649.8 108.2 656.1 108.2 672 112.6 693.7 114.4 699.4 116.7 704.1 119 707.2 121.3 709.1 129 711.7 132.9 713.7 142.5 719.4 150.7 725.1 163.2 735.6 174.4 747.1 183.6 758.7 191.3 770.9 195.1 779.5 197.6 789.9 200.6 798.5 203.6 804.2 207 807.1Z"/>
<path fill="#e6dbd7" d="M125.6 871.9L126.1 872.9 155.9 872.9 161 861.4 164.7 846.2 166 832.8 165.9 819.5 164.6 807.1 161.7 794.7 158 785.2 153.2 777.5 147.5 772.4 142.1 770.3 138.2 770.5 134.4 772 130.6 775.1 127.1 779.5 123.9 785.2 120.9 792.8 117.3 808 115.9 826.2 116.9 843.3 120.1 858.6 122.4 865.2 125.6 871.9ZM258.8 871.9L259.3 872.9 289.1 872.9 293.9 862.4 297.3 849 298.9 836.6 299.3 823.3 298 809 295.7 797.6 291.7 786.1 287.5 778.6 282.1 772.9 276.7 770.4 272.9 770.4 269 771.7 265.2 774.3 261.3 778.5 258.2 783.3 255.5 789 253.2 795.7 251 805.2 249.1 823.3 249.2 832.8 250 842.4 253.3 858.6 255.6 865.2 258.8 871.9ZM207.4 804.2L209 803.6 210.6 802.1 213.6 796.8 217 788 219.8 777.4 225.2 766.4 233.6 753.8 243.3 742.3 255 730.8 268.3 720.3 284.4 710.6 299 705.1 301.3 703.2 303.6 700.2 307.5 691.2 307.2 645 274.4 645 271.3 646.5 270.7 645 251.9 645 245.9 655.2 240.6 663.2 235.2 670 229.8 675.5 224.4 679.9 219 683.1 213.6 685 208.2 685.8 202.1 685.1 196.7 683.3 191.3 680.3 185.9 676 179.9 669.8 174.4 662.9 163.3 645 144.5 645 143.6 646.5 140.8 645 116.3 645 114.3 647.9 111.8 652.7 110.2 657.4 109.4 662.2 109.4 667.9 113.3 690.8 115.3 697.5 117.6 702.2 119.8 705.2 122.1 707 129.3 709.9 134.8 712.7 150.9 723.2 162.3 732.7 173.6 744.2 182.9 755.6 190.6 767.3 195.2 776.8 198.5 789 201.3 796.3 204.4 801.8 207.4 804.2Z"/>
<path fill="#ece5e3" d="M127.7 871.9L128.4 872.9 153.6 872.9 156.5 868.1 159.4 861.4 161.7 853.8 163.5 845.2 164.7 832.8 164.8 821.4 163.4 808 161.1 797.6 157.1 787.1 152.9 780.2 147.5 775.1 142.1 773 138.2 773.2 134.4 774.9 130.6 778.3 127.5 782.3 124.9 787.1 121.8 794.7 118.5 809 117.1 827.1 118.4 844.3 120.1 852.9 122.3 860.5 124.6 866.2 127.7 871.9ZM260.9 871.9L261.6 872.9 286.8 872.9 290.2 867.2 293.3 859.5 295.6 850.9 296.9 843.3 298 831.9 297.8 819.5 296.4 807.1 294 796.6 290.3 787.1 285.9 779.8 281.3 775.3 275.9 773 272.1 773.2 268.3 774.8 264.4 777.8 260.8 782.3 257.7 788 255.4 793.8 251.7 809 250.3 827.1 251.6 844.3 253.2 852.9 255.5 860.5 257.8 866.2 260.9 871.9ZM207.2 801.4L208.2 801.2 210.2 799.5 213.6 793.7 216.3 787.1 219.8 775.3 225.2 764.8 233.6 752.2 243.6 740.4 255.4 728.9 267.4 719.4 276.1 713.7 284.7 708.9 298.3 703.7 300.6 702 303.3 698.4 305.6 693.7 307.5 687.5 307.5 649.4 304.6 645 280.1 645 268.3 651.2 266.3 645 253.6 645 242.9 663.1 236.7 671.3 231.1 677.5 225.6 682.2 219.5 686 214.4 688 208.2 689 202.1 688.3 196.7 686.5 190.9 683.2 185.1 678.4 179.6 672.7 173.6 665 167.5 655.5 161.7 645 148.9 645 147.4 650.8 146.7 651.2 135.1 645 119.5 645 115.2 650.1 112.9 654.6 111.4 659.3 110.7 664.1 110.7 669.8 114 689.8 115.7 695.6 118.2 701 122.1 705.3 135.8 711.8 151.6 722.3 163 731.8 174.2 743.2 183.6 755 191.3 767 195.9 776.6 198.6 786.1 201.3 793.2 204.4 798.8 207.2 801.4Z"/>
<path fill="#f0ecea" d="M129.4 871.9L130.1 872.9 151.9 872.9 155.7 867.2 159.3 858.6 161.9 849 163.2 840.5 164 828.1 163.5 815.7 161.9 805.2 159.4 795.7 156.3 788 152.1 781.4 147.5 777 142.1 774.9 138.2 775.2 134.4 777 131.3 779.6 127.8 784.2 124.8 789.9 122.3 796.6 119.1 810.9 118 827.1 119.3 844.3 120.8 851.9 123 859.5 126.3 867.2 129.4 871.9ZM262.5 871.9L263.3 872.9 285.1 872.9 288.8 867.2 291.8 860.5 294.2 852.9 296.3 841.4 297.2 830 297 819.5 295.7 808 293.2 797.6 289.5 788 285.9 782.1 281.3 777.4 279 775.9 275.9 775 272.1 775.1 268.3 776.7 264.4 779.9 261.1 784.2 258 789.9 255.5 796.6 252.3 810.9 251.2 827.1 252.5 844.3 254 851.9 256.2 859.5 259.5 867.2 262.5 871.9ZM207 798.5L208.2 798.5 209.8 797.2 213.6 791.2 215.9 786.1 219.8 773.8 225.9 762.3 235.2 749.1 245.2 737.5 257.4 726.1 270 716.5 284.4 708 298.3 702.5 302.4 698.4 305.6 691.8 307.5 684.7 307.5 652.2 305.2 648.1 302.6 645 284.4 645 265.9 654.7 264.4 648.9 262.7 645 254.7 645 243.6 664.2 237.5 672.7 231.5 679.4 226.1 684.1 220.2 687.9 213.6 690.5 208.2 691.2 202.9 690.8 196.7 688.8 190.4 685.1 183.7 679.4 178.2 673.3 172.1 665 166.7 656.5 160.5 645 152.5 645 149 654.7 139.8 649.4 130.8 645 122.1 645.3 119 647.6 115.7 651.7 113.8 655.5 112.3 660.3 111.5 665.1 111.6 670.8 114.6 689.8 116.8 696.5 118.8 700.3 122.9 704.6 136 710.8 150.6 720.3 162.1 729.9 174.3 742.3 182.9 752.8 190.6 764.5 195.9 775 200.9 789.9 204.4 796 207 798.5Z"/>
<path fill="#f3f1f0" d="M130.4 871.9L131.3 872.9 150.8 872.9 155 867.2 158.1 860.5 161 850.9 162.6 842.4 163.4 833.8 163.3 817.6 161.9 807.1 159.6 797.6 155.7 788 152.1 782.5 148.2 778.7 145.2 776.8 142.1 775.9 139 776 135.9 777.2 133.6 778.6 129.2 783.3 125.4 789.9 123.1 795.7 120.9 803.3 119.3 811.9 118.5 820.4 118.5 831.9 120 846.2 123.9 860.5 127.1 867.2 130.4 871.9ZM263.6 871.9L264.4 872.9 284 872.9 288.1 867.2 291.2 860.5 294.2 850.9 295.7 843.3 296.5 834.7 296.5 817.6 294.9 806.1 293.3 799.5 290.3 790.9 286.6 784.2 282.9 779.7 280.6 777.8 275.9 775.9 272.9 775.9 269.8 776.8 266.7 778.8 263.4 782.3 260 787.1 255.4 798.5 252.4 812.8 251.6 821.4 251.6 830.9 253.2 846.2 255.4 855.7 257.2 860.5 260.8 868.1 263.6 871.9ZM206.3 795.7L207.5 796.5 209 795.6 211.3 793.2 214.2 789 219.8 772.9 224.4 764.2 229.8 755.7 240.4 742.3 247.5 734.6 256.7 726 269 716.5 285.2 707 298.3 701.9 302.6 697.5 305.7 690.8 307.5 683 307.5 653.9 304.8 648.9 301.2 645 285.9 645.3 275.9 650.1 265.2 656.5 264.4 656 262.4 648.9 260 645 255.3 645 245.2 663.2 241.3 668.9 232.9 679.4 226.6 685.1 221 688.9 214.1 691.8 208.2 692.6 201.1 691.8 196 689.8 189.8 686 185.2 682.2 178.2 674.7 170.6 664.1 159.8 645 155.2 645.1 152.4 649.8 150.6 656.5 137.5 649.1 128.2 645.2 125.2 645.2 122.1 646.4 118.2 649.7 115.3 653.6 112.3 662.2 112.4 675.5 114.7 688.9 116.3 694.6 118.5 699.4 121.3 702.9 122.9 704 133.6 708.8 148.9 718.4 159.7 727 170.6 737.5 179.8 748.1 189.1 761.3 194.4 770.9 196.7 776.1 200.1 787.1 202.9 791.8 206.3 795.7Z"/>
<path fill="#f0f0f5" d="M130.9 871.9L131.7 872.9 150.3 872.9 154.6 867.2 157.8 860.5 160.7 850.9 162.3 842.4 163.2 833.8 163.1 818.5 161.6 807.1 159.3 797.6 155.3 788 151.5 782.3 146.7 778.1 142.1 776.3 139.8 776.3 136.7 777.2 133.6 779.1 130.4 782.3 127.2 787.1 124.1 793.8 121.9 800.4 119.5 812.8 118.8 820.4 118.7 830.9 120.3 846.2 124.2 860.5 128 868.1 130.9 871.9ZM264 871.9L264.8 872.9 283.4 872.9 287.8 867.2 292.3 856.7 294.5 848.1 296.1 837.6 296.1 816.6 294.6 806.1 291.5 794.7 288.5 788 283.6 781 280.6 778.4 275.2 776.3 272.9 776.4 269.8 777.3 266.7 779.3 260.4 787.1 258 791.8 255.7 798.5 252.7 812.8 251.9 822.3 251.9 830.9 253.5 846.2 255.8 855.7 257.9 861.4 261.1 868.1 264 871.9ZM206.4 794.7L207.5 795.3 209.8 794 213.8 789 219.6 772.8 224.1 764.2 229.5 755.6 240.1 742.3 248.3 733.4 257.5 725 269 716.2 282.9 707.7 289 704.9 298.3 701.6 302.3 697.5 305.4 690.8 307.5 682.2 307.5 654.8 304.4 649 300.7 645 287.9 645 275.9 650.5 264.4 657.2 262.4 650.8 259.8 646 258.8 645 255.6 645 250.8 654.6 243.8 666 231.3 681.5 225.9 686.2 219.8 690.1 215.2 692 209.8 693.1 203.6 692.9 197.5 691.1 192.1 688.2 185.9 683.5 180.6 677.9 172.7 667.9 165 655.5 159.5 645 156.3 645 154.7 646.9 152.7 650.8 151.6 655.5 150.6 657.1 137.5 649.6 128.2 645.7 125.2 645.7 121.3 647.4 119 649.3 115.7 653.6 112.6 662.2 112.5 674.6 114.9 688.9 116.6 694.6 118.8 699.4 121.3 702.5 122.9 703.6 130.6 706.9 137.5 710.6 149 718.2 159.8 726.7 169.8 736.3 180.8 748.9 190 762.3 196.8 775.6 200.4 787.1 202.9 791.3 206.4 794.7Z"/>
<path fill="#e8e7f2" d="M131.3 871.9L132.1 872.9 149.8 872.9 153.6 868.1 157.5 860.4 160.6 850.3 162.1 842 162.9 832.8 162.9 819.4 161.3 807.2 159 797.9 155.9 790 151.3 782.8 146.6 778.5 141.3 776.9 137.2 777.5 133.9 779.5 130.6 782.9 127.5 787.3 122.8 798.5 119.8 813 119 822 119 830.9 120.6 845.9 122.9 855.5 125.2 861.8 128.2 867.8 131.3 871.9ZM264.4 871.9L265.3 872.9 283 872.9 287.5 867 290.6 860.5 293.6 850.8 295.2 842.4 296 833.8 295.9 818.1 294.4 806.7 292.1 797.6 288.3 788.3 284.4 782.5 279.9 778.5 275.2 776.9 270.6 777.5 268.6 778.5 265.2 781.3 261.3 786.2 258.3 792.3 255.9 798.6 252.9 813.8 252.1 830 252.9 840.1 254.4 849.2 256.7 857.6 259 863.3 264.4 871.9ZM207 793.8L207.5 794 209.8 792.8 212.9 789.8 216 783.3 217 778.5 219.3 772.8 225.5 761.3 235.1 748 244.4 736.9 257.5 724.6 267.5 716.9 282.9 707.4 289 704.5 298 701.3 302.1 697.2 305.2 690.7 307.5 681.4 307.5 655.4 304.4 649.6 299.9 645 289 645 276.6 650.8 264.4 657.9 263.6 657.7 262.1 651.7 260.2 647.9 257.6 645 255.9 645 251.1 654.6 244.2 666 237.5 675.1 231.3 682 225.9 686.8 219.8 690.6 215.2 692.5 209.8 693.6 203.6 693.4 195.2 690.6 190.6 687.7 182.9 681 172.3 667.9 164.6 655.5 159.1 645 157.5 645.1 154.4 648.8 151.3 657.9 136.8 649.8 130.7 646.9 127.5 646.1 125.2 646.3 121.3 647.9 116.7 652.7 114.3 657.4 112.9 662.8 112.8 674.6 115.9 691.8 119.8 700.3 122.9 703.3 130.6 706.5 137.5 710.2 149 717.8 159.8 726.4 169.8 735.9 179 746.4 187.2 757.5 194.9 770.9 197.1 775.6 199.8 784.9 201.3 788 203.6 791.3 207 793.8Z"/>
<path fill="#dcdbee" d="M132.5 871.9L133.5 872.9 148.5 872.9 150.6 870.9 154.4 865.3 158.2 856.4 160.6 847.7 162.1 837.4 162.5 827.1 162.1 816.5 160.6 806.2 158.2 797.5 155.2 790 151.3 784 146.7 779.8 142.1 778.1 137.8 778.5 134.3 780.4 130.6 784.1 127.5 788.8 122.9 800.4 121.3 806.9 119.8 817.6 119.8 835.7 122.1 850.5 124.4 858.2 126.7 863.6 129.8 868.8 132.5 871.9ZM265.7 871.9L266.7 872.9 281.7 872.9 283.7 871 288.3 864.1 291.3 856.7 293.6 848.2 295.2 838.3 295.7 827.1 295.2 815.5 293.6 805.7 291.3 797.2 288.3 789.8 284.4 783.8 279.8 779.6 275.2 778.1 271.2 778.5 267.5 780.5 263.7 784.2 260.6 789 255.9 800.8 254.4 807.4 253 817.6 252.9 834.4 255.2 850.1 257.5 857.9 259.8 863.4 262.9 868.6 265.7 871.9ZM203.5 789L204.4 789.4 210.6 789.4 212.9 788 215.2 783.9 217.1 777.5 220 770.9 227.7 757.5 238.3 743.4 250.6 730.3 260.6 721.6 272.1 713.3 285.9 705.4 298.4 700.3 302.1 696.4 305.2 689.4 307.5 679.4 307.5 657.4 304.4 650.8 299.8 646.1 297.6 645 291.9 645 277 651.7 262.9 659.9 262.2 659.3 259.8 651.3 258.2 648.9 255.9 646.9 244.3 667 238.3 675.4 232.1 682.5 226.7 687.3 220.6 691.5 214.4 694 208.2 694.9 202.1 694.3 195.9 692.1 189.8 688.3 184.4 683.8 178.2 677 172.2 668.9 166.2 659.3 159.8 647.4 159 647 157 648.9 155.2 651.8 152.9 659.8 152.1 659.8 138.2 651.7 128.2 647.3 125.9 647.3 122.9 648.1 120.3 649.8 117.5 653 115.2 657.2 113.6 662 112.9 670.8 115.2 687.3 117.5 695 119.8 699.4 123.6 703.1 136.7 709.3 149.8 717.9 161.3 727.2 171.3 737 180.7 748 188.8 759.4 196.6 773.7 200.6 785.2 203.5 789Z"/>
<path fill="#cdcbe8" d="M135.1 871.9L136.7 872.9 145.3 872.9 149 870.2 152.1 866.6 155.2 861.2 158.2 852.9 160.5 842.4 161.4 834.7 161.6 824.3 161 814.7 159 803.8 156.7 796.4 153.6 789.8 149.8 784.5 145.9 781.4 141.3 780 137.5 780.7 133.6 783.1 130.6 786.4 127.5 791.4 125.2 796.7 122.9 804.4 120.6 820 120.8 836.6 122.1 845.9 123.6 852.4 125.9 859.1 129 865.2 132.1 869.3 135.1 871.9ZM268.2 871.9L269.9 872.9 278.5 872.9 282.1 870.3 285.2 866.7 288.3 861.4 291.3 853.2 293.6 843.3 294.5 835.7 294.9 826.2 294.4 816.6 292.9 806.8 290.6 798.2 287.5 791 283.6 785.2 279.2 781.4 275.2 780.1 271.3 780.5 267.8 782.3 264.4 785.6 261.3 790.2 259 795 256.7 801.8 255.1 809 253.8 819.5 253.9 835.7 255.2 845.4 256.7 852.1 259 858.9 262.1 865 265.2 869.2 268.2 871.9ZM202.9 785.2L208.2 783.9 212.1 785.2 213.6 784 220.7 768 229.4 753.7 241.3 738.6 253.6 726.3 263.6 718.1 273.6 711.2 285.2 704.7 297.9 699.4 301.3 696 304.4 689.6 306.7 680 307.5 674.7 307.5 661.9 306 656.5 304.4 653.3 302.1 650.2 299.8 648.2 297.5 647 295.2 646.5 292.9 646.7 289.6 647.9 275.3 654.6 260.6 663.5 257.5 654.6 255.4 651.7 254.4 651.6 243.3 670.8 237.5 678.6 231.3 685.5 225.9 690.2 219.8 694.1 214.4 696.2 208.2 697.2 202.9 696.7 196.7 694.7 190.6 691.2 185.2 686.7 179 680.2 173.3 672.7 167.1 663.2 160.6 651.4 159 652.6 157.5 655 155 663.2 154.4 663.4 141.7 655.5 129 649.4 125.9 649.2 123.5 649.8 120.6 651.7 118.2 654.3 115.9 658.4 114.7 662.2 113.8 671.7 115.9 687.8 117.5 693.1 119.8 697.9 122.9 701.4 136.7 708.2 149.8 716.8 160.6 725.4 170.6 735 179.8 745.6 187.7 756.6 195.4 769.9 200.6 782.5 202.9 785.2Z"/>
<path fill="#bdbadf" d="M137.1 870L141.3 870.9 145.2 869.9 148.8 867.2 152.1 863 155.2 856.9 157.5 850.1 159.3 841.4 160.2 831.9 160.3 823.3 159.6 814.7 158.2 806.9 155.8 798.5 152.9 792.2 149.2 787.1 145.2 784 141.3 783 138.2 783.4 134.4 785.6 131.3 788.9 128.2 793.9 125.9 799.5 123.6 807.5 121.8 822.3 122.2 837.6 125.2 852.2 127.5 858.4 130.6 863.9 133.6 867.6 137.1 870ZM270.3 870L274.4 870.9 278.3 869.9 282.1 867.1 285.6 862.4 288.3 857.2 290.9 849 292.6 840.5 293.4 831.9 293.5 823.3 292.8 814.7 291.3 806.5 289 798.5 285.9 792 282.4 787.1 278.3 783.9 274.4 783 270.6 783.8 267.5 785.7 264.4 789 261.3 794.1 259 799.6 256.7 808 254.9 822.3 255.4 837.6 258.3 851.9 260.6 858.2 263.6 863.8 266.7 867.5 270.3 870ZM202.8 780.4L206.7 778.7 209 778.8 212.1 780.4 213.6 779.7 223.3 761.3 231.5 748.9 242.1 736 254.4 723.9 262.9 716.9 273.6 709.5 284.4 703.4 297.5 697.8 300.6 695 302.9 690.9 304.9 684.1 306.2 676.5 306.7 668.9 306.2 663.2 304.9 658.4 302.9 654.5 299.8 651.1 297.5 649.8 295.2 649.3 292.9 649.5 289.5 650.8 273.6 658.4 257.5 668.6 256.8 667.9 255 661.2 252.9 658 241.3 676.7 235.9 683.7 230.6 689.4 225.2 694 219 697.7 213.6 699.6 208.2 700.4 202.9 699.9 196.7 697.9 191.3 694.9 185.9 690.6 180.6 685.2 175.1 678.4 162.1 658 159.8 662.3 158.2 668.9 143.3 659.3 129 652.2 126.7 651.9 123.6 652.6 121.3 654.1 119.2 656.5 117.5 659.3 115.9 663.4 115.1 667.9 115 673.6 116.7 687 118.2 692.3 120.6 697 123.6 700.1 136.7 706.6 149.8 715 160.6 723.7 169 731.7 178.2 741.9 186.4 752.8 194 765.2 201.3 779.5 202.8 780.4Z"/>
<path fill="#a09cd5" d="M138.7 866.2L142.1 866.5 145.9 864.9 149 862.1 152.1 857.5 154.6 851.9 156.7 844.3 158.4 830 158.3 821.4 157.5 813.8 155.9 806.4 153.6 799.6 151.3 795 148.2 790.9 144.4 788.1 141.3 787.3 138.2 787.8 134.8 789.9 132.1 792.9 129.3 797.6 126.7 804.2 125.2 810 123.6 823.4 124.4 839.1 127.5 851.9 129.8 857.3 132.4 861.4 135.2 864.3 138.7 866.2ZM271.9 866.2L275.2 866.5 279 865 282.1 862.3 285.2 857.7 287.5 852.6 289.8 844.7 291.6 830 291.5 821.4 290.6 813.2 289 806.1 286.8 799.5 284.4 794.8 281.3 790.8 277.5 788 274.4 787.3 271.3 787.9 268 789.9 265.2 793 262.1 798.4 259.8 804.6 258.3 810.8 256.8 824.3 257.5 838.4 260.6 851.7 262.9 857.1 265.6 861.4 268.4 864.3 271.9 866.2ZM201.5 773.7L202.9 774.1 207.5 772.5 212.1 774.1 214.4 773.2 225.7 754.7 231.6 746.1 240.6 735.1 250.6 724.8 260.6 716.2 271.3 708.5 284.4 701 297 695.6 299.8 693.1 302.1 688.9 303.6 683.9 304.7 677.5 305 670.8 304.5 665.1 303.4 661.2 301.3 657.3 299 654.8 296.7 653.6 293.6 653.3 283.5 657.4 267.6 666 252.9 676.3 252.1 676 251.3 671.7 249.8 667.9 239 684 229 695 223.6 699.2 219 701.8 213.6 703.8 208.2 704.5 202.9 704 198.2 702.7 192.9 700 187.5 696.1 182.1 691 176.7 684.7 165.9 668.4 165.2 668.3 164.5 669.8 162.9 676.7 146 665.1 129.6 656.5 127.5 655.9 125.2 656.1 122.9 657.2 120.7 659.3 118.9 662.2 117.5 666 116.6 674.6 118.1 687 119.6 691.8 121.3 695.1 124.4 698 135.9 703.7 148.2 711.5 158.2 719.2 167.5 727.6 176.7 737.5 184.3 747 190.7 756.6 199 770.8 201.5 773.7Z"/>
<path fill="#817dc7" d="M137.9 858.6L140.6 859.4 143.6 858.8 146.7 856.7 149 853.8 151.3 849.4 153.1 844.3 154.4 838.3 155.2 830.9 154.7 817.6 152 806.1 149.8 801.3 147.5 798 144.4 795.4 141.3 794.5 139 794.8 135.9 796.6 133.6 799.2 131.3 803.1 128.2 812.4 126.8 823.3 127.2 834.7 129.2 845.2 132.9 853.6 135.2 856.5 137.9 858.6ZM271 858.6L273.6 859.4 276.7 858.9 279.8 856.8 282.2 853.8 284.4 849.6 286.5 843.3 288.4 830.9 287.9 817.6 285.2 806.1 282.9 801.2 280.6 797.9 277.5 795.4 274.4 794.5 272.1 794.8 269 796.7 266.7 799.3 264.4 803.3 261.3 812.8 260 823.3 260.4 835.7 262.7 846.2 264.4 850.6 266.7 854.6 271 858.6ZM200.5 766.1L202.1 766.3 207.5 763.7 209.8 764.4 212.9 766.3 215.2 765.8 217.5 763.2 226.5 748.9 233.6 739.1 242.1 729.2 251.3 720 262.1 711.1 272.9 703.6 282.9 697.9 296.7 691.8 298.3 690.5 299.8 688.2 301.3 684.3 302.5 674.6 301.3 666.2 299.9 663.2 298.3 661.1 295.9 659.8 293.6 659.7 277.4 667 261.7 676.5 244.4 690 243.5 685.1 242.9 683.9 233.6 695.4 225.2 703.1 216.7 707.8 212.1 709.1 208.2 709.5 204.4 709.3 199.8 708.3 195.2 706.3 190.6 703.5 182.1 696 172.1 683.9 170.6 690.1 156.1 678.4 139.6 667.9 127.5 662.2 125.2 662.5 122.9 664.2 121.3 666.4 120 669.8 119 677.5 120 686 121.3 689.9 122.9 692.6 125.2 694.6 135.9 699.8 146.7 706.5 155.9 713.3 165.9 722 174.4 730.6 181.8 739.4 188.7 748.9 197.5 762.9 200.5 766.1Z"/>
<g fill="#dea040" fill-opacity="0.5" stroke="#4a2a05" stroke-opacity="0.8" stroke-width="0.9"><circle cx="137" cy="734.5" r="2.6"/><circle cx="278.6" cy="738.4" r="2.6"/><circle cx="229.7" cy="775.9" r="2.6"/><circle cx="172.4" cy="761.8" r="2.6"/><circle cx="233.9" cy="774.1" r="2.6"/><circle cx="187.8" cy="772.1" r="2.6"/><circle cx="206.6" cy="810.8" r="2.6"/><circle cx="253" cy="747.8" r="2.6"/><circle cx="205.7" cy="806.5" r="2.6"/><circle cx="184.1" cy="778.1" r="2.6"/><circle cx="187.3" cy="780.8" r="2.6"/><circle cx="147.8" cy="741.6" r="2.6"/><circle cx="174.4" cy="764.9" r="2.6"/><circle cx="182.8" cy="774" r="2.6"/><circle cx="165.5" cy="757.8" r="2.6"/><circle cx="141.5" cy="744.6" r="2.6"/><circle cx="205.8" cy="810.3" r="2.6"/><circle cx="169.2" cy="768.4" r="2.6"/><circle cx="233.6" cy="771.3" r="2.6"/><circle cx="269.9" cy="743.7" r="2.6"/><circle cx="181.6" cy="775.6" r="2.6"/><circle cx="212.5" cy="803.2" r="2.6"/><circle cx="207.5" cy="815.1" r="2.6"/><circle cx="144.6" cy="745.5" r="2.6"/><circle cx="153.9" cy="753.4" r="2.6"/><circle cx="262.7" cy="749.9" r="2.6"/><circle cx="204.6" cy="812.4" r="2.6"/><circle cx="247.4" cy="762.4" r="2.6"/><circle cx="147.3" cy="737.5" r="2.6"/><circle cx="215.9" cy="799.5" r="2.6"/><circle cx="256" cy="749.3" r="2.6"/><circle cx="259.8" cy="753.3" r="2.6"/><circle cx="132.1" cy="732.3" r="2.6"/><circle cx="208.7" cy="812.7" r="2.6"/><circle cx="196.4" cy="792.1" r="2.6"/><circle cx="236.8" cy="767.1" r="2.6"/><circle cx="149" cy="738.1" r="2.6"/><circle cx="182.1" cy="772.6" r="2.6"/><circle cx="246.9" cy="758.9" r="2.6"/><circle cx="205.3" cy="811.3" r="2.6"/><circle cx="205.7" cy="807.7" r="2.6"/><circle cx="279.1" cy="736.3" r="2.6"/><circle cx="191.4" cy="781.8" r="2.6"/><circle cx="139.6" cy="737.7" r="2.6"/><circle cx="201.5" cy="795.1" r="2.6"/><circle cx="158.9" cy="758.2" r="2.6"/><circle cx="147.7" cy="743.9" r="2.6"/><circle cx="210.9" cy="803.4" r="2.6"/><circle cx="275.9" cy="738.5" r="2.6"/><circle cx="213.9" cy="802.2" r="2.6"/><circle cx="221.3" cy="789.1" r="2.6"/><circle cx="188.2" cy="785.3" r="2.6"/><circle cx="212.1" cy="803.2" r="2.6"/><circle cx="231.8" cy="765" r="2.6"/><circle cx="212.6" cy="799" r="2.6"/><circle cx="247.4" cy="763" r="2.6"/><circle cx="211.3" cy="807.6" r="2.6"/><circle cx="169.8" cy="762.2" r="2.6"/><circle cx="212.2" cy="800.4" r="2.6"/><circle cx="206.6" cy="814.9" r="2.6"/><circle cx="163.4" cy="757.5" r="2.6"/><circle cx="216.2" cy="793.3" r="2.6"/><circle cx="246.3" cy="756.7" r="2.6"/><circle cx="158.2" cy="752" r="2.6"/><circle cx="211.1" cy="808.7" r="2.6"/><circle cx="236.6" cy="775.6" r="2.6"/><circle cx="199.6" cy="798.9" r="2.6"/><circle cx="178.2" cy="777.7" r="2.6"/><circle cx="197.9" cy="792" r="2.6"/><circle cx="210.3" cy="809.1" r="2.6"/><circle cx="225.5" cy="780.8" r="2.6"/><circle cx="209.1" cy="804.6" r="2.6"/><circle cx="155.2" cy="744.4" r="2.6"/><circle cx="250.2" cy="760.6" r="2.6"/><circle cx="267.7" cy="739.9" r="2.6"/><circle cx="154" cy="743.6" r="2.6"/><circle cx="177.8" cy="771.6" r="2.6"/><circle cx="164.4" cy="759.3" r="2.6"/><circle cx="254.2" cy="753.4" r="2.6"/><circle cx="268.7" cy="747.4" r="2.6"/><circle cx="142.3" cy="734.6" r="2.6"/><circle cx="187.9" cy="788.1" r="2.6"/><circle cx="167.5" cy="762.7" r="2.6"/><circle cx="206" cy="811" r="2.6"/><circle cx="268.9" cy="742.7" r="2.6"/><circle cx="146" cy="741.2" r="2.6"/><circle cx="166.1" cy="756.4" r="2.6"/><circle cx="207" cy="814.1" r="2.6"/><circle cx="207.4" cy="811.8" r="2.6"/><circle cx="239.7" cy="774.7" r="2.6"/><circle cx="203.9" cy="805" r="2.6"/><circle cx="158.8" cy="753.7" r="2.6"/><circle cx="194.8" cy="789" r="2.6"/><circle cx="281.5" cy="733.4" r="2.6"/><circle cx="238.1" cy="771.5" r="2.6"/><circle cx="154.1" cy="749.7" r="2.6"/><circle cx="244.9" cy="758.3" r="2.6"/><circle cx="189.3" cy="780.8" r="2.6"/><circle cx="242.8" cy="765.8" r="2.6"/><circle cx="136" cy="729.1" r="2.6"/><circle cx="254.4" cy="744.8" r="2.6"/><circle cx="161.4" cy="758.5" r="2.6"/><circle cx="205.6" cy="808.3" r="2.6"/><circle cx="218.9" cy="783.1" r="2.6"/><circle cx="207" cy="814.9" r="2.6"/><circle cx="165" cy="755.6" r="2.6"/><circle cx="159.2" cy="752.3" r="2.6"/><circle cx="183.8" cy="777.3" r="2.6"/><circle cx="141.6" cy="739.6" r="2.6"/><circle cx="172.7" cy="765.6" r="2.6"/><circle cx="159.1" cy="748.9" r="2.6"/><circle cx="205.6" cy="810.2" r="2.6"/><circle cx="194.3" cy="790.1" r="2.6"/><circle cx="215.2" cy="801" r="2.6"/><circle cx="184.2" cy="775.9" r="2.6"/><circle cx="136.7" cy="738.7" r="2.6"/><circle cx="191.3" cy="785.2" r="2.6"/><circle cx="235" cy="767.1" r="2.6"/><circle cx="181" cy="770.7" r="2.6"/><circle cx="201.2" cy="798.4" r="2.6"/><circle cx="236.3" cy="768.4" r="2.6"/><circle cx="200.9" cy="799.1" r="2.6"/><circle cx="261.7" cy="747.5" r="2.6"/><circle cx="268.3" cy="743.4" r="2.6"/><circle cx="190" cy="780.1" r="2.6"/><circle cx="236.1" cy="774.4" r="2.6"/><circle cx="182.5" cy="768.4" r="2.6"/><circle cx="159.7" cy="751.8" r="2.6"/><circle cx="203.1" cy="805.4" r="2.6"/><circle cx="216.1" cy="797.6" r="2.6"/><circle cx="272.6" cy="741.7" r="2.6"/><circle cx="161.2" cy="752.6" r="2.6"/><circle cx="231.5" cy="777.8" r="2.6"/><circle cx="207.7" cy="811.7" r="2.6"/><circle cx="156.8" cy="752.3" r="2.6"/><circle cx="282.7" cy="740.5" r="2.6"/><circle cx="229" cy="780.8" r="2.6"/><circle cx="154.2" cy="754.5" r="2.6"/><circle cx="265.3" cy="744.6" r="2.6"/><circle cx="154.2" cy="744" r="2.6"/><circle cx="151.4" cy="743.4" r="2.6"/><circle cx="189.5" cy="786.6" r="2.6"/><circle cx="273.2" cy="741.6" r="2.6"/><circle cx="140.2" cy="732.4" r="2.6"/><circle cx="267.4" cy="742" r="2.6"/><circle cx="216.5" cy="795.5" r="2.6"/><circle cx="146.6" cy="738.7" r="2.6"/><circle cx="209.2" cy="802.4" r="2.6"/><circle cx="206.9" cy="808.5" r="2.6"/><circle cx="211.4" cy="804.6" r="2.6"/><circle cx="233.4" cy="771.6" r="2.6"/><circle cx="224.2" cy="782.1" r="2.6"/><circle cx="286" cy="733.5" r="2.6"/><circle cx="161.1" cy="756.8" r="2.6"/><circle cx="247.1" cy="759" r="2.6"/><circle cx="200.2" cy="800.6" r="2.6"/><circle cx="242" cy="764.3" r="2.6"/><circle cx="262.3" cy="746.4" r="2.6"/><circle cx="281" cy="727.2" r="2.6"/><circle cx="180.2" cy="774.7" r="2.6"/><circle cx="205" cy="807.9" r="2.6"/><circle cx="273.3" cy="739.6" r="2.6"/><circle cx="273.1" cy="737.8" r="2.6"/><circle cx="198.4" cy="791.8" r="2.6"/><circle cx="273.3" cy="740.7" r="2.6"/><circle cx="199.7" cy="799.5" r="2.6"/><circle cx="194.9" cy="794.6" r="2.6"/><circle cx="239.1" cy="770.5" r="2.6"/><circle cx="206.9" cy="811.1" r="2.6"/><circle cx="204.8" cy="807" r="2.6"/><circle cx="197.2" cy="796.1" r="2.6"/><circle cx="203" cy="804.3" r="2.6"/><circle cx="159.8" cy="751.9" r="2.6"/><circle cx="144.5" cy="739.1" r="2.6"/><circle cx="238" cy="770.3" r="2.6"/><circle cx="211.8" cy="804.7" r="2.6"/><circle cx="227.2" cy="786.4" r="2.6"/><circle cx="247.4" cy="763.2" r="2.6"/><circle cx="179.2" cy="763.8" r="2.6"/><circle cx="172.4" cy="771.6" r="2.6"/><circle cx="183.1" cy="775.8" r="2.6"/><circle cx="188.1" cy="779.7" r="2.6"/><circle cx="238.7" cy="768.8" r="2.6"/><circle cx="196" cy="793.7" r="2.6"/><circle cx="190.4" cy="783.6" r="2.6"/><circle cx="219.5" cy="790.8" r="2.6"/><circle cx="168.3" cy="759.7" r="2.6"/><circle cx="150.1" cy="750.9" r="2.6"/><circle cx="228.2" cy="779.7" r="2.6"/><circle cx="239" cy="770.4" r="2.6"/><circle cx="185.6" cy="779.4" r="2.6"/><circle cx="219.1" cy="790.7" r="2.6"/><circle cx="138.9" cy="735.1" r="2.6"/><circle cx="201.7" cy="798.1" r="2.6"/><circle cx="213.4" cy="802.3" r="2.6"/><circle cx="181.7" cy="769.2" r="2.6"/><circle cx="195.6" cy="786.9" r="2.6"/><circle cx="214.8" cy="795" r="2.6"/><circle cx="212.4" cy="798.7" r="2.6"/><circle cx="162.2" cy="754.5" r="2.6"/><circle cx="229.6" cy="778" r="2.6"/><circle cx="149" cy="741.1" r="2.6"/><circle cx="280.9" cy="738.7" r="2.6"/><circle cx="171.7" cy="761.7" r="2.6"/><circle cx="178.9" cy="771.9" r="2.6"/><circle cx="170.2" cy="762.5" r="2.6"/><circle cx="286.1" cy="736.9" r="2.6"/><circle cx="183.5" cy="778.2" r="2.6"/><circle cx="215.8" cy="796.7" r="2.6"/><circle cx="282.5" cy="730.8" r="2.6"/><circle cx="273.3" cy="735.9" r="2.6"/><circle cx="139.7" cy="737.9" r="2.6"/><circle cx="208.5" cy="812.7" r="2.6"/><circle cx="216.4" cy="798.1" r="2.6"/><circle cx="228" cy="777.9" r="2.6"/><circle cx="191.8" cy="786.1" r="2.6"/><circle cx="192.1" cy="783.6" r="2.6"/><circle cx="133.7" cy="728.7" r="2.6"/><circle cx="138.2" cy="736.8" r="2.6"/><circle cx="211.9" cy="807.9" r="2.6"/><circle cx="145.6" cy="744.3" r="2.6"/><circle cx="168.6" cy="765" r="2.6"/><circle cx="189.9" cy="786.8" r="2.6"/><circle cx="147.7" cy="738.7" r="2.6"/><circle cx="137.6" cy="735.7" r="2.6"/><circle cx="272" cy="744.8" r="2.6"/><circle cx="204.3" cy="804.2" r="2.6"/><circle cx="174.1" cy="760.1" r="2.6"/><circle cx="230.3" cy="778" r="2.6"/><circle cx="131.7" cy="735" r="2.6"/><circle cx="177.9" cy="770.1" r="2.6"/><circle cx="276.6" cy="736.1" r="2.6"/><circle cx="262.6" cy="744.3" r="2.6"/><circle cx="217.7" cy="789.8" r="2.6"/><circle cx="152.4" cy="742.2" r="2.6"/><circle cx="191.7" cy="781" r="2.6"/><circle cx="138.5" cy="732.7" r="2.6"/><circle cx="175.5" cy="763.7" r="2.6"/><circle cx="134" cy="739" r="2.6"/><circle cx="156.9" cy="750.1" r="2.6"/><circle cx="218.7" cy="791.1" r="2.6"/><circle cx="151.3" cy="746.8" r="2.6"/><circle cx="164.4" cy="752.6" r="2.6"/><circle cx="265.2" cy="745.7" r="2.6"/><circle cx="190.7" cy="786.8" r="2.6"/><circle cx="194.1" cy="783.6" r="2.6"/><circle cx="150.1" cy="742.4" r="2.6"/><circle cx="243.7" cy="761.5" r="2.6"/><circle cx="223.3" cy="782.1" r="2.6"/><circle cx="209" cy="807.4" r="2.6"/><circle cx="216.8" cy="794" r="2.6"/><circle cx="148" cy="751.3" r="2.6"/><circle cx="179.7" cy="773.4" r="2.6"/><circle cx="214" cy="801.2" r="2.6"/><circle cx="276.6" cy="740.1" r="2.6"/><circle cx="247.6" cy="758" r="2.6"/><circle cx="218.3" cy="788.8" r="2.6"/><circle cx="208.7" cy="813.2" r="2.6"/><circle cx="132.3" cy="736.8" r="2.6"/><circle cx="258.9" cy="742.3" r="2.6"/><circle cx="144.3" cy="742.1" r="2.6"/><circle cx="155.6" cy="752.9" r="2.6"/><circle cx="226.9" cy="779.9" r="2.6"/><circle cx="246.3" cy="758.4" r="2.6"/><circle cx="243.8" cy="764.9" r="2.6"/><circle cx="205.9" cy="807.4" r="2.6"/><circle cx="165.8" cy="758.9" r="2.6"/><circle cx="137" cy="738.9" r="2.6"/><circle cx="254.1" cy="752.5" r="2.6"/><circle cx="279.7" cy="732.7" r="2.6"/><circle cx="177.1" cy="770.5" r="2.6"/><circle cx="256.7" cy="749.8" r="2.6"/><circle cx="200.3" cy="798.4" r="2.6"/><circle cx="193.7" cy="777.5" r="2.6"/><circle cx="208.4" cy="815.6" r="2.6"/><circle cx="134.1" cy="730" r="2.6"/><circle cx="204.2" cy="806" r="2.6"/><circle cx="170.5" cy="761.9" r="2.6"/><circle cx="228.9" cy="775.5" r="2.6"/><circle cx="206.8" cy="815.7" r="2.6"/><circle cx="255.7" cy="747.4" r="2.6"/><circle cx="262.9" cy="745.1" r="2.6"/><circle cx="188.5" cy="783.1" r="2.6"/><circle cx="183.1" cy="776.6" r="2.6"/><circle cx="271.6" cy="738.5" r="2.6"/><circle cx="207.1" cy="815.6" r="2.6"/><circle cx="153.4" cy="742.3" r="2.6"/><circle cx="141.2" cy="737.2" r="2.6"/><circle cx="282.3" cy="730.4" r="2.6"/><circle cx="211.2" cy="800.8" r="2.6"/><circle cx="142.6" cy="739" r="2.6"/><circle cx="209.3" cy="814.7" r="2.6"/><circle cx="208.8" cy="815.8" r="2.6"/><circle cx="202.1" cy="805.3" r="2.6"/><circle cx="272.7" cy="734.4" r="2.6"/><circle cx="275.6" cy="740.3" r="2.6"/><circle cx="158.9" cy="747" r="2.6"/><circle cx="163" cy="752.6" r="2.6"/><circle cx="203" cy="798.1" r="2.6"/><circle cx="249.3" cy="753.6" r="2.6"/><circle cx="218.1" cy="793.3" r="2.6"/><circle cx="233.3" cy="773.9" r="2.6"/><circle cx="212.6" cy="802.3" r="2.6"/><circle cx="172.9" cy="763.1" r="2.6"/><circle cx="249" cy="759.4" r="2.6"/><circle cx="133.5" cy="734.1" r="2.6"/><circle cx="225.2" cy="776.9" r="2.6"/><circle cx="166.7" cy="764.1" r="2.6"/><circle cx="206.6" cy="811.2" r="2.6"/><circle cx="281.4" cy="737" r="2.6"/><circle cx="209.3" cy="809.3" r="2.6"/><circle cx="144.2" cy="737.8" r="2.6"/><circle cx="203" cy="803.4" r="2.6"/><circle cx="221.4" cy="785.4" r="2.6"/><circle cx="140.5" cy="743.3" r="2.6"/><circle cx="182" cy="768.8" r="2.6"/><circle cx="133.7" cy="736" r="2.6"/><circle cx="208.9" cy="808.9" r="2.6"/><circle cx="198.3" cy="794.2" r="2.6"/><circle cx="210.1" cy="816" r="2.6"/><circle cx="185.1" cy="779.6" r="2.6"/><circle cx="221.8" cy="786.7" r="2.6"/><circle cx="168.8" cy="754.1" r="2.6"/><circle cx="265" cy="743.7" r="2.6"/><circle cx="276.5" cy="736.2" r="2.6"/><circle cx="206.1" cy="815.3" r="2.6"/><circle cx="207.4" cy="809.7" r="2.6"/><circle cx="252.9" cy="747.7" r="2.6"/><circle cx="185.7" cy="777.4" r="2.6"/><circle cx="245.8" cy="761.2" r="2.6"/><circle cx="182.2" cy="779.5" r="2.6"/><circle cx="229.7" cy="773.9" r="2.6"/><circle cx="196.3" cy="782.3" r="2.6"/><circle cx="214.5" cy="796.7" r="2.6"/><circle cx="267.6" cy="738.7" r="2.6"/><circle cx="143.2" cy="738.1" r="2.6"/><circle cx="247.9" cy="762" r="2.6"/><circle cx="208.3" cy="808.3" r="2.6"/><circle cx="196" cy="795" r="2.6"/><circle cx="193.8" cy="788.7" r="2.6"/><circle cx="146" cy="740.8" r="2.6"/><circle cx="182.5" cy="770.2" r="2.6"/><circle cx="217.3" cy="793" r="2.6"/><circle cx="152" cy="744.7" r="2.6"/><circle cx="225.1" cy="785.5" r="2.6"/><circle cx="279.1" cy="739.5" r="2.6"/><circle cx="281.4" cy="734" r="2.6"/><circle cx="263" cy="748.5" r="2.6"/><circle cx="248.4" cy="762.8" r="2.6"/><circle cx="164.6" cy="760.6" r="2.6"/><circle cx="279.8" cy="736.6" r="2.6"/><circle cx="167.9" cy="765.8" r="2.6"/><circle cx="260.1" cy="752.9" r="2.6"/><circle cx="262.3" cy="752.2" r="2.6"/><circle cx="217.5" cy="793.4" r="2.6"/><circle cx="208" cy="812.5" r="2.6"/><circle cx="174.7" cy="757.9" r="2.6"/><circle cx="209.7" cy="813.4" r="2.6"/><circle cx="184.5" cy="778.6" r="2.6"/><circle cx="158.5" cy="747.9" r="2.6"/><circle cx="157.1" cy="750.6" r="2.6"/><circle cx="245.6" cy="761.7" r="2.6"/><circle cx="266.2" cy="738.2" r="2.6"/><circle cx="159.5" cy="753" r="2.6"/><circle cx="131.9" cy="736.6" r="2.6"/><circle cx="178.9" cy="775.1" r="2.6"/><circle cx="159.3" cy="750.4" r="2.6"/><circle cx="169.4" cy="759.2" r="2.6"/><circle cx="215" cy="801.8" r="2.6"/><circle cx="201.3" cy="802.7" r="2.6"/><circle cx="207.9" cy="834.4" r="2.6"/><circle cx="208" cy="826.3" r="2.6"/><circle cx="207.2" cy="837.8" r="2.6"/><circle cx="208" cy="829.5" r="2.6"/><circle cx="208" cy="814.1" r="2.6"/><circle cx="206.5" cy="838" r="2.6"/><circle cx="207.4" cy="819.4" r="2.6"/><circle cx="207.9" cy="816.4" r="2.6"/><circle cx="207.2" cy="826.3" r="2.6"/><circle cx="206.2" cy="818.3" r="2.6"/><circle cx="207.4" cy="828.2" r="2.6"/><circle cx="208.1" cy="830.6" r="2.6"/><circle cx="208.6" cy="826.4" r="2.6"/><circle cx="206.2" cy="835" r="2.6"/><circle cx="209.3" cy="831.9" r="2.6"/><circle cx="206.9" cy="831.9" r="2.6"/><circle cx="208.2" cy="813" r="2.6"/><circle cx="208.4" cy="831.1" r="2.6"/><circle cx="208.2" cy="834.1" r="2.6"/><circle cx="207.7" cy="814.3" r="2.6"/><circle cx="206.9" cy="836.6" r="2.6"/><circle cx="208" cy="813.6" r="2.6"/><circle cx="207.1" cy="816.7" r="2.6"/><circle cx="206" cy="822.5" r="2.6"/><circle cx="209.4" cy="828.5" r="2.6"/><circle cx="208" cy="834.9" r="2.6"/><circle cx="208.8" cy="837.5" r="2.6"/><circle cx="207" cy="837.5" r="2.6"/><circle cx="208.5" cy="830.7" r="2.6"/><circle cx="208.6" cy="829.1" r="2.6"/><circle cx="116.2" cy="720.5" r="2.6"/><circle cx="299" cy="720.5" r="2.6"/><circle cx="131.5" cy="742.7" r="2.6"/><circle cx="285.3" cy="729.5" r="2.6"/><circle cx="160" cy="740.1" r="2.6"/><circle cx="219.2" cy="799.5" r="2.6"/><circle cx="184.9" cy="782.3" r="2.6"/></g>
<g fill="#6c1d92" fill-opacity="0.5" stroke="#3c0a5a" stroke-opacity="0.8" stroke-width="0.9"><circle cx="217.6" cy="752.5" r="2.6"/><circle cx="257.7" cy="701" r="2.6"/><circle cx="237.1" cy="723.2" r="2.6"/><circle cx="178.3" cy="716.4" r="2.6"/><circle cx="187.5" cy="734.4" r="2.6"/><circle cx="251.7" cy="703.2" r="2.6"/><circle cx="129.8" cy="678.4" r="2.6"/><circle cx="243.6" cy="714" r="2.6"/><circle cx="240.1" cy="718.9" r="2.6"/><circle cx="206.8" cy="769.8" r="2.6"/><circle cx="189.3" cy="734" r="2.6"/><circle cx="183.7" cy="730.3" r="2.6"/><circle cx="182.7" cy="723.2" r="2.6"/><circle cx="207.4" cy="764.3" r="2.6"/><circle cx="207.9" cy="775.3" r="2.6"/><circle cx="209.8" cy="766.1" r="2.6"/><circle cx="279.8" cy="689" r="2.6"/><circle cx="237.5" cy="718" r="2.6"/><circle cx="216.8" cy="752.8" r="2.6"/><circle cx="278.4" cy="689.9" r="2.6"/><circle cx="177.3" cy="713.7" r="2.6"/><circle cx="162.4" cy="707.6" r="2.6"/><circle cx="212.9" cy="753.4" r="2.6"/><circle cx="139.8" cy="683.5" r="2.6"/><circle cx="136.1" cy="685.3" r="2.6"/><circle cx="207.3" cy="773.4" r="2.6"/><circle cx="208.5" cy="769" r="2.6"/><circle cx="261.7" cy="697.9" r="2.6"/><circle cx="216.7" cy="751" r="2.6"/><circle cx="209.1" cy="773.8" r="2.6"/><circle cx="207.6" cy="775.5" r="2.6"/><circle cx="183.5" cy="719.9" r="2.6"/><circle cx="130.9" cy="680.6" r="2.6"/><circle cx="168.7" cy="713.5" r="2.6"/><circle cx="224.7" cy="738.8" r="2.6"/><circle cx="171.1" cy="714.2" r="2.6"/><circle cx="198.6" cy="748.2" r="2.6"/><circle cx="127.5" cy="682.5" r="2.6"/><circle cx="244.2" cy="711.4" r="2.6"/><circle cx="163.4" cy="704.1" r="2.6"/><circle cx="183.2" cy="727.1" r="2.6"/><circle cx="254.1" cy="703.4" r="2.6"/><circle cx="207.5" cy="774.4" r="2.6"/><circle cx="247.9" cy="709" r="2.6"/><circle cx="216.3" cy="748.1" r="2.6"/><circle cx="226.5" cy="725.4" r="2.6"/><circle cx="150" cy="692.8" r="2.6"/><circle cx="208.9" cy="768.4" r="2.6"/><circle cx="209.3" cy="774.9" r="2.6"/><circle cx="251.6" cy="704" r="2.6"/><circle cx="194.4" cy="748.1" r="2.6"/><circle cx="214.6" cy="757.7" r="2.6"/><circle cx="142.7" cy="687.2" r="2.6"/><circle cx="201.1" cy="751.9" r="2.6"/><circle cx="192" cy="738.5" r="2.6"/><circle cx="159" cy="707.4" r="2.6"/><circle cx="242.9" cy="715" r="2.6"/><circle cx="198.4" cy="751" r="2.6"/><circle cx="273.8" cy="687.2" r="2.6"/><circle cx="209.6" cy="757.5" r="2.6"/><circle cx="213.3" cy="755.4" r="2.6"/><circle cx="217.9" cy="749.4" r="2.6"/><circle cx="223.1" cy="742.2" r="2.6"/><circle cx="162" cy="704.2" r="2.6"/><circle cx="204.8" cy="764" r="2.6"/><circle cx="176.8" cy="723" r="2.6"/><circle cx="201.8" cy="755.6" r="2.6"/><circle cx="148.5" cy="697.5" r="2.6"/><circle cx="270.6" cy="687.5" r="2.6"/><circle cx="176.8" cy="714.1" r="2.6"/><circle cx="219" cy="741" r="2.6"/><circle cx="188.1" cy="734.1" r="2.6"/><circle cx="251.9" cy="703.2" r="2.6"/><circle cx="219.7" cy="744" r="2.6"/><circle cx="157.4" cy="701.5" r="2.6"/><circle cx="248" cy="709.9" r="2.6"/><circle cx="269.2" cy="696.2" r="2.6"/><circle cx="261.1" cy="702.6" r="2.6"/><circle cx="209.8" cy="762.4" r="2.6"/><circle cx="160.7" cy="703.5" r="2.6"/><circle cx="170.9" cy="711.3" r="2.6"/><circle cx="262" cy="693.6" r="2.6"/><circle cx="211.3" cy="766.8" r="2.6"/><circle cx="166.7" cy="711" r="2.6"/><circle cx="254.4" cy="702.3" r="2.6"/><circle cx="216.7" cy="747.8" r="2.6"/><circle cx="211.1" cy="762.9" r="2.6"/><circle cx="200.3" cy="749.2" r="2.6"/><circle cx="202.8" cy="757.4" r="2.6"/><circle cx="176.6" cy="723" r="2.6"/><circle cx="135.2" cy="688.5" r="2.6"/><circle cx="251.8" cy="702.3" r="2.6"/><circle cx="207.1" cy="769.7" r="2.6"/><circle cx="211.2" cy="767.7" r="2.6"/><circle cx="194.3" cy="736.7" r="2.6"/><circle cx="230.4" cy="725.4" r="2.6"/><circle cx="134.8" cy="681.4" r="2.6"/><circle cx="197.9" cy="749.3" r="2.6"/><circle cx="134.1" cy="686" r="2.6"/><circle cx="154.3" cy="701.6" r="2.6"/><circle cx="268.5" cy="684.4" r="2.6"/><circle cx="219.3" cy="744.9" r="2.6"/><circle cx="205.8" cy="760.6" r="2.6"/><circle cx="208.8" cy="771.9" r="2.6"/><circle cx="252.2" cy="704.2" r="2.6"/><circle cx="192.5" cy="744.4" r="2.6"/><circle cx="212.7" cy="758.7" r="2.6"/><circle cx="220.6" cy="738.6" r="2.6"/><circle cx="194.6" cy="746.4" r="2.6"/><circle cx="207" cy="772.5" r="2.6"/><circle cx="233" cy="723.1" r="2.6"/><circle cx="261.4" cy="700.9" r="2.6"/><circle cx="161.3" cy="705.1" r="2.6"/><circle cx="265.5" cy="696" r="2.6"/><circle cx="128" cy="682.3" r="2.6"/><circle cx="232.9" cy="726.9" r="2.6"/><circle cx="242.8" cy="716.9" r="2.6"/><circle cx="158.6" cy="702.2" r="2.6"/><circle cx="202" cy="759.7" r="2.6"/><circle cx="244.5" cy="716.9" r="2.6"/><circle cx="130.4" cy="683.3" r="2.6"/><circle cx="214.6" cy="750.2" r="2.6"/><circle cx="241.3" cy="721.3" r="2.6"/><circle cx="207.8" cy="773.8" r="2.6"/><circle cx="229" cy="732.1" r="2.6"/><circle cx="174.8" cy="720.1" r="2.6"/><circle cx="173.3" cy="711.2" r="2.6"/><circle cx="196.7" cy="747.4" r="2.6"/><circle cx="170.7" cy="706.3" r="2.6"/><circle cx="194.1" cy="744" r="2.6"/><circle cx="267.3" cy="692" r="2.6"/><circle cx="211.2" cy="762.1" r="2.6"/><circle cx="193.3" cy="742.7" r="2.6"/><circle cx="185.6" cy="726.5" r="2.6"/><circle cx="269" cy="692.6" r="2.6"/><circle cx="205.9" cy="764.6" r="2.6"/><circle cx="275.1" cy="688.5" r="2.6"/><circle cx="208.9" cy="773.5" r="2.6"/><circle cx="208.2" cy="772.3" r="2.6"/><circle cx="257.1" cy="700.5" r="2.6"/><circle cx="228.4" cy="726.5" r="2.6"/><circle cx="212.5" cy="760.9" r="2.6"/><circle cx="203.8" cy="761" r="2.6"/><circle cx="256.6" cy="707.2" r="2.6"/><circle cx="203.3" cy="757.3" r="2.6"/><circle cx="264.2" cy="698.9" r="2.6"/><circle cx="141.2" cy="694.7" r="2.6"/><circle cx="204.1" cy="761.7" r="2.6"/><circle cx="206.9" cy="772.4" r="2.6"/><circle cx="270.8" cy="695.9" r="2.6"/><circle cx="178.8" cy="725.1" r="2.6"/><circle cx="241.9" cy="717.5" r="2.6"/><circle cx="223" cy="742.1" r="2.6"/><circle cx="225.9" cy="732.5" r="2.6"/><circle cx="217" cy="751.1" r="2.6"/><circle cx="274" cy="691.3" r="2.6"/><circle cx="194.5" cy="739.8" r="2.6"/><circle cx="200.3" cy="755.1" r="2.6"/><circle cx="173.3" cy="712.9" r="2.6"/><circle cx="138.2" cy="690.3" r="2.6"/><circle cx="171.9" cy="717.9" r="2.6"/><circle cx="264" cy="701.7" r="2.6"/><circle cx="243" cy="706.4" r="2.6"/><circle cx="153.3" cy="698.1" r="2.6"/><circle cx="213.1" cy="755.7" r="2.6"/><circle cx="207.1" cy="772.2" r="2.6"/><circle cx="212.4" cy="757.6" r="2.6"/><circle cx="219.1" cy="744.4" r="2.6"/><circle cx="193.2" cy="732.5" r="2.6"/><circle cx="272.3" cy="693.4" r="2.6"/><circle cx="205" cy="769.8" r="2.6"/><circle cx="217.1" cy="751.5" r="2.6"/><circle cx="218.4" cy="750.3" r="2.6"/><circle cx="170.2" cy="708.6" r="2.6"/><circle cx="143.3" cy="687.7" r="2.6"/><circle cx="201.4" cy="758.1" r="2.6"/><circle cx="236.4" cy="726.3" r="2.6"/><circle cx="242.7" cy="715.1" r="2.6"/><circle cx="225.8" cy="728.5" r="2.6"/><circle cx="149.5" cy="703.7" r="2.6"/><circle cx="259.7" cy="696.9" r="2.6"/><circle cx="241.9" cy="718.8" r="2.6"/><circle cx="251.7" cy="701.6" r="2.6"/><circle cx="209.2" cy="772.1" r="2.6"/><circle cx="261.5" cy="698.3" r="2.6"/><circle cx="136.5" cy="691" r="2.6"/><circle cx="133.2" cy="687.6" r="2.6"/><circle cx="133.6" cy="680.6" r="2.6"/><circle cx="183.1" cy="722.2" r="2.6"/><circle cx="179.8" cy="723.4" r="2.6"/><circle cx="167.9" cy="712.5" r="2.6"/><circle cx="212.5" cy="764" r="2.6"/><circle cx="136.1" cy="687.3" r="2.6"/><circle cx="212.3" cy="758.5" r="2.6"/><circle cx="165.1" cy="707" r="2.6"/><circle cx="221.6" cy="740.8" r="2.6"/><circle cx="130.8" cy="686.8" r="2.6"/><circle cx="190.3" cy="735.7" r="2.6"/><circle cx="265.9" cy="694.3" r="2.6"/><circle cx="207.5" cy="768.7" r="2.6"/><circle cx="237.7" cy="711.6" r="2.6"/><circle cx="219.3" cy="744.9" r="2.6"/><circle cx="215" cy="754.8" r="2.6"/><circle cx="170.1" cy="711.6" r="2.6"/><circle cx="211.7" cy="762" r="2.6"/><circle cx="135.8" cy="688.3" r="2.6"/><circle cx="239.8" cy="717" r="2.6"/><circle cx="272" cy="693.5" r="2.6"/><circle cx="247.9" cy="706.5" r="2.6"/><circle cx="139.4" cy="688.3" r="2.6"/><circle cx="194.7" cy="741.4" r="2.6"/><circle cx="191.2" cy="737.4" r="2.6"/><circle cx="152.8" cy="699.1" r="2.6"/><circle cx="216.9" cy="751.8" r="2.6"/><circle cx="239.4" cy="718.1" r="2.6"/><circle cx="190" cy="736.9" r="2.6"/><circle cx="250.2" cy="705.7" r="2.6"/><circle cx="238.9" cy="717.8" r="2.6"/><circle cx="155.2" cy="703.1" r="2.6"/><circle cx="233.9" cy="723.3" r="2.6"/><circle cx="256.8" cy="705.7" r="2.6"/><circle cx="170.2" cy="713.8" r="2.6"/><circle cx="211.3" cy="762" r="2.6"/><circle cx="219.8" cy="750.2" r="2.6"/><circle cx="213.8" cy="754.6" r="2.6"/><circle cx="150.5" cy="694.5" r="2.6"/><circle cx="219.7" cy="744.2" r="2.6"/><circle cx="216.8" cy="750.3" r="2.6"/><circle cx="244.2" cy="713.6" r="2.6"/><circle cx="241.9" cy="718.4" r="2.6"/><circle cx="192.3" cy="739.5" r="2.6"/><circle cx="228.3" cy="732.7" r="2.6"/><circle cx="251.3" cy="705.2" r="2.6"/><circle cx="258.5" cy="703.8" r="2.6"/><circle cx="164.7" cy="705.5" r="2.6"/><circle cx="133.7" cy="684.4" r="2.6"/><circle cx="218.4" cy="746.3" r="2.6"/><circle cx="173.8" cy="716.8" r="2.6"/><circle cx="209.7" cy="763.7" r="2.6"/><circle cx="269.7" cy="697.1" r="2.6"/><circle cx="199.9" cy="750.2" r="2.6"/><circle cx="181.9" cy="723.2" r="2.6"/><circle cx="206.3" cy="767.4" r="2.6"/><circle cx="218.4" cy="744.6" r="2.6"/><circle cx="150.3" cy="697.1" r="2.6"/><circle cx="199.1" cy="751" r="2.6"/><circle cx="159.6" cy="699.7" r="2.6"/><circle cx="218.9" cy="743.5" r="2.6"/><circle cx="244.3" cy="711.3" r="2.6"/><circle cx="197" cy="751.1" r="2.6"/><circle cx="199.2" cy="748.5" r="2.6"/><circle cx="207.7" cy="768.5" r="2.6"/><circle cx="176.7" cy="714.2" r="2.6"/><circle cx="180.9" cy="722.1" r="2.6"/><circle cx="190.6" cy="741.4" r="2.6"/><circle cx="207" cy="767.4" r="2.6"/><circle cx="146.6" cy="692.9" r="2.6"/><circle cx="236.9" cy="730.1" r="2.6"/><circle cx="210.9" cy="760.7" r="2.6"/><circle cx="186.2" cy="735.2" r="2.6"/><circle cx="144" cy="694.9" r="2.6"/><circle cx="234.7" cy="725.2" r="2.6"/><circle cx="160.1" cy="697.9" r="2.6"/><circle cx="157.8" cy="701.7" r="2.6"/><circle cx="158.3" cy="700" r="2.6"/><circle cx="149.4" cy="688.6" r="2.6"/><circle cx="256.5" cy="695.7" r="2.6"/><circle cx="183.9" cy="727.1" r="2.6"/><circle cx="189.4" cy="735" r="2.6"/><circle cx="247.5" cy="713.8" r="2.6"/><circle cx="215.9" cy="752.9" r="2.6"/><circle cx="170.2" cy="709.9" r="2.6"/><circle cx="205" cy="762.6" r="2.6"/><circle cx="254.5" cy="702.5" r="2.6"/><circle cx="200.2" cy="749" r="2.6"/><circle cx="227.1" cy="735.1" r="2.6"/><circle cx="150.3" cy="695" r="2.6"/><circle cx="226.7" cy="730" r="2.6"/><circle cx="234.3" cy="720.6" r="2.6"/><circle cx="241.8" cy="710.5" r="2.6"/><circle cx="220.4" cy="741.1" r="2.6"/><circle cx="197.9" cy="748.9" r="2.6"/><circle cx="143.3" cy="689.1" r="2.6"/><circle cx="208.9" cy="772.9" r="2.6"/><circle cx="235.8" cy="727.8" r="2.6"/><circle cx="171.2" cy="710.3" r="2.6"/><circle cx="183.5" cy="726.4" r="2.6"/><circle cx="208.4" cy="769.4" r="2.6"/><circle cx="234.5" cy="729.5" r="2.6"/><circle cx="257.8" cy="701.4" r="2.6"/><circle cx="155.8" cy="701" r="2.6"/><circle cx="167.3" cy="711.8" r="2.6"/><circle cx="243.8" cy="721.4" r="2.6"/><circle cx="218" cy="747.7" r="2.6"/><circle cx="225.5" cy="731" r="2.6"/><circle cx="278.2" cy="685.4" r="2.6"/><circle cx="266.9" cy="695.5" r="2.6"/><circle cx="247" cy="709.6" r="2.6"/><circle cx="234.1" cy="720.1" r="2.6"/><circle cx="197.5" cy="755.6" r="2.6"/><circle cx="217.3" cy="748.2" r="2.6"/><circle cx="169.9" cy="709.1" r="2.6"/><circle cx="231.5" cy="723.6" r="2.6"/><circle cx="229.1" cy="722.3" r="2.6"/><circle cx="225.1" cy="730.7" r="2.6"/><circle cx="205.6" cy="764.8" r="2.6"/><circle cx="199.6" cy="750.1" r="2.6"/><circle cx="204.2" cy="759.1" r="2.6"/><circle cx="134.5" cy="686.9" r="2.6"/><circle cx="247.3" cy="709.4" r="2.6"/><circle cx="208.1" cy="768" r="2.6"/><circle cx="202.7" cy="751.1" r="2.6"/><circle cx="209.4" cy="767.1" r="2.6"/><circle cx="227.3" cy="732.1" r="2.6"/><circle cx="199.8" cy="750.9" r="2.6"/><circle cx="242.2" cy="709.1" r="2.6"/><circle cx="261.9" cy="697.1" r="2.6"/><circle cx="202.1" cy="751.4" r="2.6"/><circle cx="157.7" cy="703.8" r="2.6"/><circle cx="233.4" cy="724.9" r="2.6"/></g>
<g fill="#f5a080" fill-opacity="0.5" stroke="#c06040" stroke-opacity="0.8" stroke-width="0.9"><circle cx="207.6" cy="782.8" r="2.6"/></g>
</g>
<rect x="138.5" y="843.5" width="139.5" height="23" fill="#ffffff" fill-opacity="0.86" stroke="#111" stroke-width="1.8"/>
<text x="208.6" y="859.2" font-size="16" text-anchor="middle" textLength="130" lengthAdjust="spacingAndGlyphs"><tspan font-style="italic">s</tspan> = 1.77 ± 0.02</text>
<rect x="111.0" y="653.0" width="194.0" height="212.0" fill="none" stroke="#000" stroke-width="1.7"/>
<text x="95.2" y="866.2" font-size="16" text-anchor="end" textLength="24" lengthAdjust="spacingAndGlyphs">−2</text>
<text x="95.2" y="813.4" font-size="16" text-anchor="end" textLength="9.2" lengthAdjust="spacingAndGlyphs">0</text>
<text x="95.2" y="760.6" font-size="16" text-anchor="end" textLength="9.2" lengthAdjust="spacingAndGlyphs">2</text>
<text x="95.2" y="707.8" font-size="16" text-anchor="end" textLength="9.2" lengthAdjust="spacingAndGlyphs">4</text>
<text x="154.8" y="892.7" font-size="15.5" text-anchor="middle" textLength="34" lengthAdjust="spacingAndGlyphs">−10</text>
<text x="207.6" y="892.7" font-size="15.5" text-anchor="middle" textLength="9.6" lengthAdjust="spacingAndGlyphs">0</text>
<text x="260.4" y="892.7" font-size="15.5" text-anchor="middle" textLength="18.4" lengthAdjust="spacingAndGlyphs">10</text>
<path d="M103.5 860.2H111M103.5 807.4H111M103.5 754.6H111M103.5 701.8H111M154.8 865V872.5M207.6 865V872.5M260.4 865V872.5" stroke="#000" stroke-width="1.5" fill="none"/>
<text x="208" y="917.7" font-size="17" text-anchor="middle">x</text>
<text transform="translate(59.5 759) rotate(-90)" font-size="17.5" text-anchor="middle">y</text>
<text x="208" y="639.6" font-size="28.5" text-anchor="middle">Kernel EDMD</text>
<text x="54" y="632.5" font-size="24" font-weight="bold" textLength="30.5" lengthAdjust="spacingAndGlyphs">(g)</text>
<path fill="#817dc7" d="M321 662.5L325.8 651.5L330.5 662.5Z"/>
<path fill="#a16a50" d="M321 854.5L325.8 865.7L330.5 854.5Z"/>
<rect x="321" y="662" width="9.5" height="14.2" fill="#817dc7"/>
<rect x="321" y="675.8" width="9.5" height="14.2" fill="#a09cd5"/>
<rect x="321" y="689.6" width="9.5" height="14.2" fill="#bdbadf"/>
<rect x="321" y="703.4" width="9.5" height="14.2" fill="#cdcbe8"/>
<rect x="321" y="717.1" width="9.5" height="14.2" fill="#dcdbee"/>
<rect x="321" y="730.9" width="9.5" height="14.2" fill="#e8e7f2"/>
<rect x="321" y="744.7" width="9.5" height="14.2" fill="#f0f0f5"/>
<rect x="321" y="758.5" width="9.5" height="14.2" fill="#f3f1f0"/>
<rect x="321" y="772.3" width="9.5" height="14.2" fill="#f0ecea"/>
<rect x="321" y="786.1" width="9.5" height="14.2" fill="#ece5e3"/>
<rect x="321" y="799.9" width="9.5" height="14.2" fill="#e6dbd7"/>
<rect x="321" y="813.6" width="9.5" height="14.2" fill="#d6c1b8"/>
<rect x="321" y="827.4" width="9.5" height="14.2" fill="#c09d89"/>
<rect x="321" y="841.2" width="9.5" height="14.2" fill="#ad7b61"/>
<path fill="none" stroke="#000" stroke-width="1.7" stroke-linejoin="miter" d="M321 662L325.8 651.5L330.5 662L330.5 855L325.8 865.7L321 855Z"/>
<text x="346.5" y="682.4" font-size="17" textLength="34.5" lengthAdjust="spacingAndGlyphs">1.06</text>
<text x="346.5" y="723.7" font-size="17" textLength="34.5" lengthAdjust="spacingAndGlyphs">0.27</text>
<text x="346.5" y="765.1" font-size="17" textLength="34.5" lengthAdjust="spacingAndGlyphs">0.00</text>
<text x="346.5" y="806.5" font-size="17" textLength="41.5" lengthAdjust="spacingAndGlyphs">-0.27</text>
<text x="346.5" y="847.8" font-size="17" textLength="41.5" lengthAdjust="spacingAndGlyphs">-1.06</text>
<path d="M330.5 675.8H338.5M330.5 717.1H338.5M330.5 758.5H338.5M330.5 799.9H338.5M330.5 841.2H338.5" stroke="#000" stroke-width="1.5" fill="none"/>
<g clip-path="url(#c11)">
<rect x="469.0" y="653.0" width="194.0" height="212.0" fill="#a16a50"/>
<path fill="#ad7b61" d="M466.2 872.9L665.5 872.9 665.5 645 466.2 645 466.2 872.9Z"/>
<path fill="#c09d89" d="M466.2 872.9L665.5 872.9 665.5 645 466.2 645 466.2 872.9Z"/>
<path fill="#d6c1b8" d="M466.2 872.9L665.5 872.9 665.5 645 466.2 645 466.2 872.9ZM564.7 829.4L563.2 827.2 560.5 818.5 556.5 810 541.7 785.2 540.1 781.4 540.9 780.6 543.9 782.5 551.6 790.7 560.1 802.4 565.5 812.4 571.6 801.6 579.3 791 586.3 783.3 589.3 781 590.9 780.8 590.9 782.3 589.5 785.2 578.9 802.3 573.7 811.9 569.9 820.4 567.8 827.8 566.2 829.5 564.7 829.4Z"/>
<path fill="#e6dbd7" d="M466.2 872.9L665.5 872.9 665.5 645 466.2 645 466.2 872.9ZM564.7 832.9L562.4 830.6 558.7 819.5 552.7 808 545.5 796.9 527.9 772.8 525.2 768 524.7 764.8 525.5 764.2 527 764.3 532.4 767 537.8 771 543.9 776.8 556.2 792.4 565.5 807.4 575.5 791.6 587 777 592.4 771.9 598.6 767.1 603.2 764.7 604.7 764.2 606.3 764.5 606.4 767.1 603.9 771.8 585.5 797.3 577.4 810 572.1 820.4 568.6 831 567 832.6 564.7 832.9Z"/>
<path fill="#ece5e3" d="M466.2 872.9L665.5 872.9 665.5 645 466.2 645 466.2 872.9ZM564.7 835.9L563.2 835 561.4 832.8 557 820.3 549.3 806.6 539.3 792.6 514.8 762.3 511.3 756.6 510.7 754.7 511.2 752.8 512.4 752.2 514.7 752.3 521.6 755 530.1 760.4 537.8 766.8 543.9 773 549.3 779.5 560.1 794.7 565.5 803.6 582.4 778.8 593.2 767.1 602.4 759.5 610.1 754.7 616.3 752.3 618.6 752.1 620 752.8 620.4 754.7 619.9 756.6 616.4 762.3 591.6 792.9 580.9 808.1 574.1 820.4 569.3 833.6 567 835.7 564.7 835.9Z"/>
<path fill="#f0ecea" d="M466.2 872.9L665.5 872.9 665.5 645 466.2 645 466.2 872.9ZM563.9 838.6L561.6 836.7 560.3 834.7 557.5 826.2 554.6 819.5 550.1 811.6 543.9 802.5 529.3 784.4 505.5 758.3 504.1 754.7 503.8 750.9 504.3 747 505.5 744.5 507 743.1 508.6 742.9 515.5 746.3 525.5 752.8 535.5 761.1 542.4 768 548.1 774.7 565.5 800.3 583.2 774.6 593.9 762.8 603.2 754.7 612.4 748.2 622.4 743 624.7 743.4 626.5 746.1 627.4 749.9 627.1 754.7 625.6 758.5 603.9 782 590.1 798.7 583.2 808.3 577.6 817.6 574.4 824.3 571.7 832.8 570.1 836.1 567 838.7 563.9 838.6Z"/>
<path fill="#f3f1f0" d="M466.2 872.9L665.5 872.9 665.5 645 466.2 645 466.2 872.9ZM563.9 841.4L561.6 839.9 559.3 836.8 553.5 821.4 549.2 813.8 542.4 803.9 526.2 784.8 503.9 762.2 501.8 757.5 500.5 750.9 500.6 745.1 502.2 740.4 503.8 738.5 505.5 737.4 507 737.1 509.3 737.6 519.3 744.3 530.9 753.7 539.7 762.3 547 770.8 565.5 797.9 575.3 784.2 583.2 772.1 588.9 765.2 596.2 757.5 607 748 617.5 740.4 622.4 737.4 624.7 737.2 626.3 737.7 628.4 739.4 629.5 741.3 630.7 747 630.1 754.7 627.8 761.3 626.3 763.5 607 782.5 591.6 800.3 584.5 810 578.7 819.5 575.2 827.1 572.4 835.7 570.9 838.4 567.8 841.2 566.2 841.7 563.9 841.4Z"/>
<path fill="#f0f0f5" d="M466.2 872.9L665.5 872.9 665.5 645 466.2 645 466.2 872.9ZM563.2 842.7L561.6 841.7 559 838.6 553.4 823.3 548.7 814.7 542.7 806.1 525.5 785.8 503.9 764.9 501.5 761.3 496.2 747.9 492.4 744.8 484.7 740.8 483.2 739.1 481.4 734.6 481.3 731.8 481.5 728 483 724.2 484.7 722.7 487 722.7 500.9 733.1 507.8 734.2 510.1 735.3 521.6 744 529.3 750.6 536.2 757.2 547.3 769.9 557.6 786.1 565.5 797 574.2 785.2 580.6 774.7 584.7 769.2 593.2 759.1 600.9 751.5 610.9 742.9 620.9 735.4 623.2 734.2 630.1 733.1 632.4 731.9 643.9 722.8 647 722.8 648.8 725.1 649.8 729.9 649.6 735.6 648 739.4 647 740.5 638.6 745 635.5 747.4 633.7 749.9 630.5 759.4 627.8 764.5 617 774.4 603.9 787.7 592.4 801.1 583.7 812.8 576.9 825.2 573.5 835.7 571.4 839.5 567.8 842.8 563.2 842.7Z"/>
<path fill="#e8e7f2" d="M466.2 872.9L665.5 872.9 665.5 645 466.2 645 466.2 872.9ZM563.9 845.3L560.9 843.5 558.4 840.5 556.5 836.6 553.2 826.6 550.1 820.4 543.9 810.8 534.9 799.5 520.7 784.2 503.2 768.3 496.2 759.6 492.1 756.6 483.2 751.6 479.8 748 476.7 740.4 475.7 731.8 476.5 723.2 479.3 715.9 480.9 714 483.2 712.6 485.5 712.4 487.8 713.3 503.7 727 513.9 735 527 746.5 536.2 755.7 545.5 766.4 550.7 773.7 557 784.2 565.5 795.9 572.4 787 584.7 767.7 590.9 760.2 599.3 751.2 613.9 737.8 627.5 727 642.4 714 646.3 712.2 649.3 713 651.6 715.3 653.7 719.4 655.5 728.9 654.7 739.4 653.3 744.2 651.5 748 648.6 751.2 635.5 759.1 627.8 768.6 612.4 782.3 598.8 796.6 588.6 809 581.6 819.4 578.6 825.3 574.3 837.6 572.2 841.4 568.6 844.8 566.2 845.5 563.9 845.3Z"/>
<path fill="#dcdbee" d="M564.8 791.8L565.5 792.5 566.2 792 572.4 784.6 582.4 765.8 593.2 750.3 603.2 738.1 629.8 708 640.1 695.2 642.3 691.8 644.1 687 645.3 681.3 645.5 674.6 644.8 667.9 643.4 662.2 640.9 656.7 637.8 652.6 634.7 650.2 627.8 648 620.1 648.1 611.6 651 603.2 656.1 593.9 663.6 583.9 673.7 575.4 684.1 565.5 698.3 554.7 682.7 542.4 668.5 530.1 657.6 523.9 653.4 518.6 650.5 513.9 648.8 509.3 647.9 504.7 647.8 500.9 648.5 495.5 650.6 487 655 484.7 656.9 482.5 660.3 480.7 666 480.2 672.7 481 679.4 483.2 684.6 500.6 707 528.6 738.7 538.6 751 549.3 766.7 558.6 784.2 564.8 791.8Z"/>
<path fill="#cdcbe8" d="M564.7 786.1L566.2 786.2 568.6 784.8 572.1 780.4 574.3 775.6 577 766 580.1 759.1 585.5 749.5 591.6 740.3 603.2 725.8 629 696.5 636.7 686 639.1 681.3 639.7 676.5 638.7 670.8 636.3 667.7 633.2 666.7 629.3 666.4 620.1 668.1 610.9 672.3 601.6 678.7 592.4 687.1 582.4 698.5 573.6 710.8 565.5 724.6 557.6 710.8 547.8 697.3 537 685.3 526.2 676.2 516.2 670.2 510.9 668 505.5 666.7 500.9 666.4 497 666.9 493.9 668.3 491.5 670.8 490.5 673.6 490.7 677.5 492.4 682.2 495.1 687 503.8 698.4 530.7 728.9 540.9 742.1 547 751.6 551.6 760.1 554.6 767.1 556.6 774.7 558.7 779.5 561.6 783.8 564.7 786.1Z"/>
<path fill="#bdbadf" d="M564.3 780.4L566.2 780.7 567.8 779.9 570.6 776.6 572.1 772.8 573.9 764.5 577 756.6 582.4 746.3 588.6 736.7 599.7 722.3 621.3 697.5 627.6 688.9 629.6 685.1 630.7 681.3 630.3 678.4 628.7 676.5 626.3 675.7 623.2 675.6 615.5 678 607 682.9 597.8 690.5 588.6 700.2 580.1 710.9 572.7 722.3 565.5 735.8 559 723.2 551 710.8 541.6 699 532.4 689.6 522.4 681.7 513.9 677.2 510.1 676 506.2 675.5 503.2 676.2 501.5 677.5 500.5 680.3 500.9 683.2 502.5 687 505.5 691.8 511.5 699.4 534.7 726.1 541.6 735.3 547.8 744.6 555.5 759.6 560.2 775.6 562.4 779 564.3 780.4Z"/>
<path fill="#a09cd5" d="M565.4 775.6L567.8 774.5 569.3 772 571.3 763.2 573.2 757.5 580.7 742.3 591.6 726 616.1 695.6 618.2 691.8 619.1 688.9 618.8 687 617.8 686.1 615.5 685.9 613.2 686.5 606.3 690.1 598.6 696.2 590.9 704 583.9 712.5 577 722.4 571.1 732.7 565.5 744.5 560.1 732.7 554.1 722.3 546.7 711.8 538.7 702.2 530.1 694 522.4 688.5 516.2 686 513.9 685.9 512.4 687 512.1 688.9 512.6 690.8 515.8 696.5 538.9 725.1 550 741.3 554.6 749.9 558 757.5 559.9 763.2 561.9 771.8 563.2 774.2 565.4 775.6Z"/>
<path fill="#817dc7" d="M564.9 767.1L565.5 767.9 566.2 767.4 569 756.6 575.2 742.3 581.2 731.8 592.6 714.6 593.5 712.7 593.2 711.9 590.9 713.6 586.3 718.7 577.8 730.8 570.9 743.9 565.5 758.6 560.9 745.1 553.9 731.7 544.7 718.4 540.1 713.4 537.8 711.8 537.7 712.7 538.6 714.6 550.6 732.7 557.5 745.1 561.9 755.6 564.9 767.1Z"/>
<g fill="#dea040" fill-opacity="0.5" stroke="#4a2a05" stroke-opacity="0.8" stroke-width="0.9"><circle cx="495" cy="734.5" r="2.6"/><circle cx="636.6" cy="738.4" r="2.6"/><circle cx="587.7" cy="775.9" r="2.6"/><circle cx="530.4" cy="761.8" r="2.6"/><circle cx="591.9" cy="774.1" r="2.6"/><circle cx="545.8" cy="772.1" r="2.6"/><circle cx="564.6" cy="810.8" r="2.6"/><circle cx="611" cy="747.8" r="2.6"/><circle cx="563.7" cy="806.5" r="2.6"/><circle cx="542.1" cy="778.1" r="2.6"/><circle cx="545.3" cy="780.8" r="2.6"/><circle cx="505.8" cy="741.6" r="2.6"/><circle cx="532.4" cy="764.9" r="2.6"/><circle cx="540.8" cy="774" r="2.6"/><circle cx="523.5" cy="757.8" r="2.6"/><circle cx="499.5" cy="744.6" r="2.6"/><circle cx="563.8" cy="810.3" r="2.6"/><circle cx="527.2" cy="768.4" r="2.6"/><circle cx="591.6" cy="771.3" r="2.6"/><circle cx="627.9" cy="743.7" r="2.6"/><circle cx="539.6" cy="775.6" r="2.6"/><circle cx="570.5" cy="803.2" r="2.6"/><circle cx="565.5" cy="815.1" r="2.6"/><circle cx="502.6" cy="745.5" r="2.6"/><circle cx="511.9" cy="753.4" r="2.6"/><circle cx="620.7" cy="749.9" r="2.6"/><circle cx="562.6" cy="812.4" r="2.6"/><circle cx="605.4" cy="762.4" r="2.6"/><circle cx="505.3" cy="737.5" r="2.6"/><circle cx="573.9" cy="799.5" r="2.6"/><circle cx="614" cy="749.3" r="2.6"/><circle cx="617.8" cy="753.3" r="2.6"/><circle cx="490.1" cy="732.3" r="2.6"/><circle cx="566.7" cy="812.7" r="2.6"/><circle cx="554.4" cy="792.1" r="2.6"/><circle cx="594.8" cy="767.1" r="2.6"/><circle cx="507" cy="738.1" r="2.6"/><circle cx="540.1" cy="772.6" r="2.6"/><circle cx="604.9" cy="758.9" r="2.6"/><circle cx="563.3" cy="811.3" r="2.6"/><circle cx="563.7" cy="807.7" r="2.6"/><circle cx="637.1" cy="736.3" r="2.6"/><circle cx="549.4" cy="781.8" r="2.6"/><circle cx="497.6" cy="737.7" r="2.6"/><circle cx="559.5" cy="795.1" r="2.6"/><circle cx="516.9" cy="758.2" r="2.6"/><circle cx="505.7" cy="743.9" r="2.6"/><circle cx="568.9" cy="803.4" r="2.6"/><circle cx="633.9" cy="738.5" r="2.6"/><circle cx="571.9" cy="802.2" r="2.6"/><circle cx="579.3" cy="789.1" r="2.6"/><circle cx="546.2" cy="785.3" r="2.6"/><circle cx="570.1" cy="803.2" r="2.6"/><circle cx="589.8" cy="765" r="2.6"/><circle cx="570.6" cy="799" r="2.6"/><circle cx="605.4" cy="763" r="2.6"/><circle cx="569.3" cy="807.6" r="2.6"/><circle cx="527.8" cy="762.2" r="2.6"/><circle cx="570.2" cy="800.4" r="2.6"/><circle cx="564.6" cy="814.9" r="2.6"/><circle cx="521.4" cy="757.5" r="2.6"/><circle cx="574.2" cy="793.3" r="2.6"/><circle cx="604.3" cy="756.7" r="2.6"/><circle cx="516.2" cy="752" r="2.6"/><circle cx="569.1" cy="808.7" r="2.6"/><circle cx="594.6" cy="775.6" r="2.6"/><circle cx="557.6" cy="798.9" r="2.6"/><circle cx="536.2" cy="777.7" r="2.6"/><circle cx="555.9" cy="792" r="2.6"/><circle cx="568.3" cy="809.1" r="2.6"/><circle cx="583.5" cy="780.8" r="2.6"/><circle cx="567.1" cy="804.6" r="2.6"/><circle cx="513.2" cy="744.4" r="2.6"/><circle cx="608.2" cy="760.6" r="2.6"/><circle cx="625.7" cy="739.9" r="2.6"/><circle cx="512" cy="743.6" r="2.6"/><circle cx="535.8" cy="771.6" r="2.6"/><circle cx="522.4" cy="759.3" r="2.6"/><circle cx="612.2" cy="753.4" r="2.6"/><circle cx="626.7" cy="747.4" r="2.6"/><circle cx="500.3" cy="734.6" r="2.6"/><circle cx="545.9" cy="788.1" r="2.6"/><circle cx="525.5" cy="762.7" r="2.6"/><circle cx="564" cy="811" r="2.6"/><circle cx="626.9" cy="742.7" r="2.6"/><circle cx="504" cy="741.2" r="2.6"/><circle cx="524.1" cy="756.4" r="2.6"/><circle cx="565" cy="814.1" r="2.6"/><circle cx="565.4" cy="811.8" r="2.6"/><circle cx="597.7" cy="774.7" r="2.6"/><circle cx="561.9" cy="805" r="2.6"/><circle cx="516.8" cy="753.7" r="2.6"/><circle cx="552.8" cy="789" r="2.6"/><circle cx="639.5" cy="733.4" r="2.6"/><circle cx="596.1" cy="771.5" r="2.6"/><circle cx="512.1" cy="749.7" r="2.6"/><circle cx="602.9" cy="758.3" r="2.6"/><circle cx="547.3" cy="780.8" r="2.6"/><circle cx="600.8" cy="765.8" r="2.6"/><circle cx="494" cy="729.1" r="2.6"/><circle cx="612.4" cy="744.8" r="2.6"/><circle cx="519.4" cy="758.5" r="2.6"/><circle cx="563.6" cy="808.3" r="2.6"/><circle cx="576.9" cy="783.1" r="2.6"/><circle cx="565" cy="814.9" r="2.6"/><circle cx="523" cy="755.6" r="2.6"/><circle cx="517.2" cy="752.3" r="2.6"/><circle cx="541.8" cy="777.3" r="2.6"/><circle cx="499.6" cy="739.6" r="2.6"/><circle cx="530.7" cy="765.6" r="2.6"/><circle cx="517.1" cy="748.9" r="2.6"/><circle cx="563.6" cy="810.2" r="2.6"/><circle cx="552.3" cy="790.1" r="2.6"/><circle cx="573.2" cy="801" r="2.6"/><circle cx="542.2" cy="775.9" r="2.6"/><circle cx="494.7" cy="738.7" r="2.6"/><circle cx="549.3" cy="785.2" r="2.6"/><circle cx="593" cy="767.1" r="2.6"/><circle cx="539" cy="770.7" r="2.6"/><circle cx="559.2" cy="798.4" r="2.6"/><circle cx="594.3" cy="768.4" r="2.6"/><circle cx="558.9" cy="799.1" r="2.6"/><circle cx="619.7" cy="747.5" r="2.6"/><circle cx="626.3" cy="743.4" r="2.6"/><circle cx="548" cy="780.1" r="2.6"/><circle cx="594.1" cy="774.4" r="2.6"/><circle cx="540.5" cy="768.4" r="2.6"/><circle cx="517.7" cy="751.8" r="2.6"/><circle cx="561.1" cy="805.4" r="2.6"/><circle cx="574.1" cy="797.6" r="2.6"/><circle cx="630.6" cy="741.7" r="2.6"/><circle cx="519.2" cy="752.6" r="2.6"/><circle cx="589.5" cy="777.8" r="2.6"/><circle cx="565.7" cy="811.7" r="2.6"/><circle cx="514.8" cy="752.3" r="2.6"/><circle cx="640.7" cy="740.5" r="2.6"/><circle cx="587" cy="780.8" r="2.6"/><circle cx="512.2" cy="754.5" r="2.6"/><circle cx="623.3" cy="744.6" r="2.6"/><circle cx="512.2" cy="744" r="2.6"/><circle cx="509.4" cy="743.4" r="2.6"/><circle cx="547.5" cy="786.6" r="2.6"/><circle cx="631.2" cy="741.6" r="2.6"/><circle cx="498.2" cy="732.4" r="2.6"/><circle cx="625.4" cy="742" r="2.6"/><circle cx="574.5" cy="795.5" r="2.6"/><circle cx="504.6" cy="738.7" r="2.6"/><circle cx="567.2" cy="802.4" r="2.6"/><circle cx="564.9" cy="808.5" r="2.6"/><circle cx="569.4" cy="804.6" r="2.6"/><circle cx="591.4" cy="771.6" r="2.6"/><circle cx="582.2" cy="782.1" r="2.6"/><circle cx="644" cy="733.5" r="2.6"/><circle cx="519.1" cy="756.8" r="2.6"/><circle cx="605.1" cy="759" r="2.6"/><circle cx="558.2" cy="800.6" r="2.6"/><circle cx="600" cy="764.3" r="2.6"/><circle cx="620.3" cy="746.4" r="2.6"/><circle cx="639" cy="727.2" r="2.6"/><circle cx="538.2" cy="774.7" r="2.6"/><circle cx="563" cy="807.9" r="2.6"/><circle cx="631.3" cy="739.6" r="2.6"/><circle cx="631.1" cy="737.8" r="2.6"/><circle cx="556.4" cy="791.8" r="2.6"/><circle cx="631.3" cy="740.7" r="2.6"/><circle cx="557.7" cy="799.5" r="2.6"/><circle cx="552.9" cy="794.6" r="2.6"/><circle cx="597.1" cy="770.5" r="2.6"/><circle cx="564.9" cy="811.1" r="2.6"/><circle cx="562.8" cy="807" r="2.6"/><circle cx="555.2" cy="796.1" r="2.6"/><circle cx="561" cy="804.3" r="2.6"/><circle cx="517.8" cy="751.9" r="2.6"/><circle cx="502.5" cy="739.1" r="2.6"/><circle cx="596" cy="770.3" r="2.6"/><circle cx="569.8" cy="804.7" r="2.6"/><circle cx="585.2" cy="786.4" r="2.6"/><circle cx="605.4" cy="763.2" r="2.6"/><circle cx="537.2" cy="763.8" r="2.6"/><circle cx="530.4" cy="771.6" r="2.6"/><circle cx="541.1" cy="775.8" r="2.6"/><circle cx="546.1" cy="779.7" r="2.6"/><circle cx="596.7" cy="768.8" r="2.6"/><circle cx="554" cy="793.7" r="2.6"/><circle cx="548.4" cy="783.6" r="2.6"/><circle cx="577.5" cy="790.8" r="2.6"/><circle cx="526.3" cy="759.7" r="2.6"/><circle cx="508.1" cy="750.9" r="2.6"/><circle cx="586.2" cy="779.7" r="2.6"/><circle cx="597" cy="770.4" r="2.6"/><circle cx="543.6" cy="779.4" r="2.6"/><circle cx="577.1" cy="790.7" r="2.6"/><circle cx="496.9" cy="735.1" r="2.6"/><circle cx="559.7" cy="798.1" r="2.6"/><circle cx="571.4" cy="802.3" r="2.6"/><circle cx="539.7" cy="769.2" r="2.6"/><circle cx="553.6" cy="786.9" r="2.6"/><circle cx="572.8" cy="795" r="2.6"/><circle cx="570.4" cy="798.7" r="2.6"/><circle cx="520.2" cy="754.5" r="2.6"/><circle cx="587.6" cy="778" r="2.6"/><circle cx="507" cy="741.1" r="2.6"/><circle cx="638.9" cy="738.7" r="2.6"/><circle cx="529.7" cy="761.7" r="2.6"/><circle cx="536.9" cy="771.9" r="2.6"/><circle cx="528.2" cy="762.5" r="2.6"/><circle cx="644.1" cy="736.9" r="2.6"/><circle cx="541.5" cy="778.2" r="2.6"/><circle cx="573.8" cy="796.7" r="2.6"/><circle cx="640.5" cy="730.8" r="2.6"/><circle cx="631.3" cy="735.9" r="2.6"/><circle cx="497.7" cy="737.9" r="2.6"/><circle cx="566.5" cy="812.7" r="2.6"/><circle cx="574.4" cy="798.1" r="2.6"/><circle cx="586" cy="777.9" r="2.6"/><circle cx="549.8" cy="786.1" r="2.6"/><circle cx="550.1" cy="783.6" r="2.6"/><circle cx="491.7" cy="728.7" r="2.6"/><circle cx="496.2" cy="736.8" r="2.6"/><circle cx="569.9" cy="807.9" r="2.6"/><circle cx="503.6" cy="744.3" r="2.6"/><circle cx="526.6" cy="765" r="2.6"/><circle cx="547.9" cy="786.8" r="2.6"/><circle cx="505.7" cy="738.7" r="2.6"/><circle cx="495.6" cy="735.7" r="2.6"/><circle cx="630" cy="744.8" r="2.6"/><circle cx="562.3" cy="804.2" r="2.6"/><circle cx="532.1" cy="760.1" r="2.6"/><circle cx="588.3" cy="778" r="2.6"/><circle cx="489.7" cy="735" r="2.6"/><circle cx="535.9" cy="770.1" r="2.6"/><circle cx="634.6" cy="736.1" r="2.6"/><circle cx="620.6" cy="744.3" r="2.6"/><circle cx="575.7" cy="789.8" r="2.6"/><circle cx="510.4" cy="742.2" r="2.6"/><circle cx="549.7" cy="781" r="2.6"/><circle cx="496.5" cy="732.7" r="2.6"/><circle cx="533.5" cy="763.7" r="2.6"/><circle cx="492" cy="739" r="2.6"/><circle cx="514.9" cy="750.1" r="2.6"/><circle cx="576.7" cy="791.1" r="2.6"/><circle cx="509.3" cy="746.8" r="2.6"/><circle cx="522.4" cy="752.6" r="2.6"/><circle cx="623.2" cy="745.7" r="2.6"/><circle cx="548.7" cy="786.8" r="2.6"/><circle cx="552.1" cy="783.6" r="2.6"/><circle cx="508.1" cy="742.4" r="2.6"/><circle cx="601.7" cy="761.5" r="2.6"/><circle cx="581.3" cy="782.1" r="2.6"/><circle cx="567" cy="807.4" r="2.6"/><circle cx="574.8" cy="794" r="2.6"/><circle cx="506" cy="751.3" r="2.6"/><circle cx="537.7" cy="773.4" r="2.6"/><circle cx="572" cy="801.2" r="2.6"/><circle cx="634.6" cy="740.1" r="2.6"/><circle cx="605.6" cy="758" r="2.6"/><circle cx="576.3" cy="788.8" r="2.6"/><circle cx="566.7" cy="813.2" r="2.6"/><circle cx="490.3" cy="736.8" r="2.6"/><circle cx="616.9" cy="742.3" r="2.6"/><circle cx="502.3" cy="742.1" r="2.6"/><circle cx="513.6" cy="752.9" r="2.6"/><circle cx="584.9" cy="779.9" r="2.6"/><circle cx="604.3" cy="758.4" r="2.6"/><circle cx="601.8" cy="764.9" r="2.6"/><circle cx="563.9" cy="807.4" r="2.6"/><circle cx="523.8" cy="758.9" r="2.6"/><circle cx="495" cy="738.9" r="2.6"/><circle cx="612.1" cy="752.5" r="2.6"/><circle cx="637.7" cy="732.7" r="2.6"/><circle cx="535.1" cy="770.5" r="2.6"/><circle cx="614.7" cy="749.8" r="2.6"/><circle cx="558.3" cy="798.4" r="2.6"/><circle cx="551.7" cy="777.5" r="2.6"/><circle cx="566.4" cy="815.6" r="2.6"/><circle cx="492.1" cy="730" r="2.6"/><circle cx="562.2" cy="806" r="2.6"/><circle cx="528.5" cy="761.9" r="2.6"/><circle cx="586.9" cy="775.5" r="2.6"/><circle cx="564.8" cy="815.7" r="2.6"/><circle cx="613.7" cy="747.4" r="2.6"/><circle cx="620.9" cy="745.1" r="2.6"/><circle cx="546.5" cy="783.1" r="2.6"/><circle cx="541.1" cy="776.6" r="2.6"/><circle cx="629.6" cy="738.5" r="2.6"/><circle cx="565.1" cy="815.6" r="2.6"/><circle cx="511.4" cy="742.3" r="2.6"/><circle cx="499.2" cy="737.2" r="2.6"/><circle cx="640.3" cy="730.4" r="2.6"/><circle cx="569.2" cy="800.8" r="2.6"/><circle cx="500.6" cy="739" r="2.6"/><circle cx="567.3" cy="814.7" r="2.6"/><circle cx="566.8" cy="815.8" r="2.6"/><circle cx="560.1" cy="805.3" r="2.6"/><circle cx="630.7" cy="734.4" r="2.6"/><circle cx="633.6" cy="740.3" r="2.6"/><circle cx="516.9" cy="747" r="2.6"/><circle cx="521" cy="752.6" r="2.6"/><circle cx="561" cy="798.1" r="2.6"/><circle cx="607.3" cy="753.6" r="2.6"/><circle cx="576.1" cy="793.3" r="2.6"/><circle cx="591.3" cy="773.9" r="2.6"/><circle cx="570.6" cy="802.3" r="2.6"/><circle cx="530.9" cy="763.1" r="2.6"/><circle cx="607" cy="759.4" r="2.6"/><circle cx="491.5" cy="734.1" r="2.6"/><circle cx="583.2" cy="776.9" r="2.6"/><circle cx="524.7" cy="764.1" r="2.6"/><circle cx="564.6" cy="811.2" r="2.6"/><circle cx="639.4" cy="737" r="2.6"/><circle cx="567.3" cy="809.3" r="2.6"/><circle cx="502.2" cy="737.8" r="2.6"/><circle cx="561" cy="803.4" r="2.6"/><circle cx="579.4" cy="785.4" r="2.6"/><circle cx="498.5" cy="743.3" r="2.6"/><circle cx="540" cy="768.8" r="2.6"/><circle cx="491.7" cy="736" r="2.6"/><circle cx="566.9" cy="808.9" r="2.6"/><circle cx="556.3" cy="794.2" r="2.6"/><circle cx="568.1" cy="816" r="2.6"/><circle cx="543.1" cy="779.6" r="2.6"/><circle cx="579.8" cy="786.7" r="2.6"/><circle cx="526.8" cy="754.1" r="2.6"/><circle cx="623" cy="743.7" r="2.6"/><circle cx="634.5" cy="736.2" r="2.6"/><circle cx="564.1" cy="815.3" r="2.6"/><circle cx="565.4" cy="809.7" r="2.6"/><circle cx="610.9" cy="747.7" r="2.6"/><circle cx="543.7" cy="777.4" r="2.6"/><circle cx="603.8" cy="761.2" r="2.6"/><circle cx="540.2" cy="779.5" r="2.6"/><circle cx="587.7" cy="773.9" r="2.6"/><circle cx="554.3" cy="782.3" r="2.6"/><circle cx="572.5" cy="796.7" r="2.6"/><circle cx="625.6" cy="738.7" r="2.6"/><circle cx="501.2" cy="738.1" r="2.6"/><circle cx="605.9" cy="762" r="2.6"/><circle cx="566.3" cy="808.3" r="2.6"/><circle cx="554" cy="795" r="2.6"/><circle cx="551.8" cy="788.7" r="2.6"/><circle cx="504" cy="740.8" r="2.6"/><circle cx="540.5" cy="770.2" r="2.6"/><circle cx="575.3" cy="793" r="2.6"/><circle cx="510" cy="744.7" r="2.6"/><circle cx="583.1" cy="785.5" r="2.6"/><circle cx="637.1" cy="739.5" r="2.6"/><circle cx="639.4" cy="734" r="2.6"/><circle cx="621" cy="748.5" r="2.6"/><circle cx="606.4" cy="762.8" r="2.6"/><circle cx="522.6" cy="760.6" r="2.6"/><circle cx="637.8" cy="736.6" r="2.6"/><circle cx="525.9" cy="765.8" r="2.6"/><circle cx="618.1" cy="752.9" r="2.6"/><circle cx="620.3" cy="752.2" r="2.6"/><circle cx="575.5" cy="793.4" r="2.6"/><circle cx="566" cy="812.5" r="2.6"/><circle cx="532.7" cy="757.9" r="2.6"/><circle cx="567.7" cy="813.4" r="2.6"/><circle cx="542.5" cy="778.6" r="2.6"/><circle cx="516.5" cy="747.9" r="2.6"/><circle cx="515.1" cy="750.6" r="2.6"/><circle cx="603.6" cy="761.7" r="2.6"/><circle cx="624.2" cy="738.2" r="2.6"/><circle cx="517.5" cy="753" r="2.6"/><circle cx="489.9" cy="736.6" r="2.6"/><circle cx="536.9" cy="775.1" r="2.6"/><circle cx="517.3" cy="750.4" r="2.6"/><circle cx="527.4" cy="759.2" r="2.6"/><circle cx="573" cy="801.8" r="2.6"/><circle cx="559.3" cy="802.7" r="2.6"/><circle cx="565.9" cy="834.4" r="2.6"/><circle cx="566" cy="826.3" r="2.6"/><circle cx="565.2" cy="837.8" r="2.6"/><circle cx="566" cy="829.5" r="2.6"/><circle cx="566" cy="814.1" r="2.6"/><circle cx="564.5" cy="838" r="2.6"/><circle cx="565.4" cy="819.4" r="2.6"/><circle cx="565.9" cy="816.4" r="2.6"/><circle cx="565.2" cy="826.3" r="2.6"/><circle cx="564.2" cy="818.3" r="2.6"/><circle cx="565.4" cy="828.2" r="2.6"/><circle cx="566.1" cy="830.6" r="2.6"/><circle cx="566.6" cy="826.4" r="2.6"/><circle cx="564.2" cy="835" r="2.6"/><circle cx="567.3" cy="831.9" r="2.6"/><circle cx="564.9" cy="831.9" r="2.6"/><circle cx="566.2" cy="813" r="2.6"/><circle cx="566.4" cy="831.1" r="2.6"/><circle cx="566.2" cy="834.1" r="2.6"/><circle cx="565.7" cy="814.3" r="2.6"/><circle cx="564.9" cy="836.6" r="2.6"/><circle cx="566" cy="813.6" r="2.6"/><circle cx="565.1" cy="816.7" r="2.6"/><circle cx="564" cy="822.5" r="2.6"/><circle cx="567.4" cy="828.5" r="2.6"/><circle cx="566" cy="834.9" r="2.6"/><circle cx="566.8" cy="837.5" r="2.6"/><circle cx="565" cy="837.5" r="2.6"/><circle cx="566.5" cy="830.7" r="2.6"/><circle cx="566.6" cy="829.1" r="2.6"/><circle cx="474.2" cy="720.5" r="2.6"/><circle cx="657" cy="720.5" r="2.6"/><circle cx="489.5" cy="742.7" r="2.6"/><circle cx="643.3" cy="729.5" r="2.6"/><circle cx="518" cy="740.1" r="2.6"/><circle cx="577.2" cy="799.5" r="2.6"/><circle cx="542.9" cy="782.3" r="2.6"/></g>
<g fill="#6c1d92" fill-opacity="0.5" stroke="#3c0a5a" stroke-opacity="0.8" stroke-width="0.9"><circle cx="575.6" cy="752.5" r="2.6"/><circle cx="615.7" cy="701" r="2.6"/><circle cx="595.1" cy="723.2" r="2.6"/><circle cx="536.3" cy="716.4" r="2.6"/><circle cx="545.5" cy="734.4" r="2.6"/><circle cx="609.7" cy="703.2" r="2.6"/><circle cx="487.8" cy="678.4" r="2.6"/><circle cx="601.6" cy="714" r="2.6"/><circle cx="598.1" cy="718.9" r="2.6"/><circle cx="564.8" cy="769.8" r="2.6"/><circle cx="547.3" cy="734" r="2.6"/><circle cx="541.7" cy="730.3" r="2.6"/><circle cx="540.7" cy="723.2" r="2.6"/><circle cx="565.4" cy="764.3" r="2.6"/><circle cx="565.9" cy="775.3" r="2.6"/><circle cx="567.8" cy="766.1" r="2.6"/><circle cx="637.8" cy="689" r="2.6"/><circle cx="595.5" cy="718" r="2.6"/><circle cx="574.8" cy="752.8" r="2.6"/><circle cx="636.4" cy="689.9" r="2.6"/><circle cx="535.3" cy="713.7" r="2.6"/><circle cx="520.4" cy="707.6" r="2.6"/><circle cx="570.9" cy="753.4" r="2.6"/><circle cx="497.8" cy="683.5" r="2.6"/><circle cx="494.1" cy="685.3" r="2.6"/><circle cx="565.3" cy="773.4" r="2.6"/><circle cx="566.5" cy="769" r="2.6"/><circle cx="619.7" cy="697.9" r="2.6"/><circle cx="574.7" cy="751" r="2.6"/><circle cx="567.1" cy="773.8" r="2.6"/><circle cx="565.6" cy="775.5" r="2.6"/><circle cx="541.5" cy="719.9" r="2.6"/><circle cx="488.9" cy="680.6" r="2.6"/><circle cx="526.7" cy="713.5" r="2.6"/><circle cx="582.7" cy="738.8" r="2.6"/><circle cx="529.1" cy="714.2" r="2.6"/><circle cx="556.6" cy="748.2" r="2.6"/><circle cx="485.5" cy="682.5" r="2.6"/><circle cx="602.2" cy="711.4" r="2.6"/><circle cx="521.4" cy="704.1" r="2.6"/><circle cx="541.2" cy="727.1" r="2.6"/><circle cx="612.1" cy="703.4" r="2.6"/><circle cx="565.5" cy="774.4" r="2.6"/><circle cx="605.9" cy="709" r="2.6"/><circle cx="574.3" cy="748.1" r="2.6"/><circle cx="584.5" cy="725.4" r="2.6"/><circle cx="508" cy="692.8" r="2.6"/><circle cx="566.9" cy="768.4" r="2.6"/><circle cx="567.3" cy="774.9" r="2.6"/><circle cx="609.6" cy="704" r="2.6"/><circle cx="552.4" cy="748.1" r="2.6"/><circle cx="572.6" cy="757.7" r="2.6"/><circle cx="500.7" cy="687.2" r="2.6"/><circle cx="559.1" cy="751.9" r="2.6"/><circle cx="550" cy="738.5" r="2.6"/><circle cx="517" cy="707.4" r="2.6"/><circle cx="600.9" cy="715" r="2.6"/><circle cx="556.4" cy="751" r="2.6"/><circle cx="631.8" cy="687.2" r="2.6"/><circle cx="567.6" cy="757.5" r="2.6"/><circle cx="571.3" cy="755.4" r="2.6"/><circle cx="575.9" cy="749.4" r="2.6"/><circle cx="581.1" cy="742.2" r="2.6"/><circle cx="520" cy="704.2" r="2.6"/><circle cx="562.8" cy="764" r="2.6"/><circle cx="534.8" cy="723" r="2.6"/><circle cx="559.8" cy="755.6" r="2.6"/><circle cx="506.5" cy="697.5" r="2.6"/><circle cx="628.6" cy="687.5" r="2.6"/><circle cx="534.8" cy="714.1" r="2.6"/><circle cx="577" cy="741" r="2.6"/><circle cx="546.1" cy="734.1" r="2.6"/><circle cx="609.9" cy="703.2" r="2.6"/><circle cx="577.7" cy="744" r="2.6"/><circle cx="515.4" cy="701.5" r="2.6"/><circle cx="606" cy="709.9" r="2.6"/><circle cx="627.2" cy="696.2" r="2.6"/><circle cx="619.1" cy="702.6" r="2.6"/><circle cx="567.8" cy="762.4" r="2.6"/><circle cx="518.7" cy="703.5" r="2.6"/><circle cx="528.9" cy="711.3" r="2.6"/><circle cx="620" cy="693.6" r="2.6"/><circle cx="569.3" cy="766.8" r="2.6"/><circle cx="524.7" cy="711" r="2.6"/><circle cx="612.4" cy="702.3" r="2.6"/><circle cx="574.7" cy="747.8" r="2.6"/><circle cx="569.1" cy="762.9" r="2.6"/><circle cx="558.3" cy="749.2" r="2.6"/><circle cx="560.8" cy="757.4" r="2.6"/><circle cx="534.6" cy="723" r="2.6"/><circle cx="493.2" cy="688.5" r="2.6"/><circle cx="609.8" cy="702.3" r="2.6"/><circle cx="565.1" cy="769.7" r="2.6"/><circle cx="569.2" cy="767.7" r="2.6"/><circle cx="552.3" cy="736.7" r="2.6"/><circle cx="588.4" cy="725.4" r="2.6"/><circle cx="492.8" cy="681.4" r="2.6"/><circle cx="555.9" cy="749.3" r="2.6"/><circle cx="492.1" cy="686" r="2.6"/><circle cx="512.3" cy="701.6" r="2.6"/><circle cx="626.5" cy="684.4" r="2.6"/><circle cx="577.3" cy="744.9" r="2.6"/><circle cx="563.8" cy="760.6" r="2.6"/><circle cx="566.8" cy="771.9" r="2.6"/><circle cx="610.2" cy="704.2" r="2.6"/><circle cx="550.5" cy="744.4" r="2.6"/><circle cx="570.7" cy="758.7" r="2.6"/><circle cx="578.6" cy="738.6" r="2.6"/><circle cx="552.6" cy="746.4" r="2.6"/><circle cx="565" cy="772.5" r="2.6"/><circle cx="591" cy="723.1" r="2.6"/><circle cx="619.4" cy="700.9" r="2.6"/><circle cx="519.3" cy="705.1" r="2.6"/><circle cx="623.5" cy="696" r="2.6"/><circle cx="486" cy="682.3" r="2.6"/><circle cx="590.9" cy="726.9" r="2.6"/><circle cx="600.8" cy="716.9" r="2.6"/><circle cx="516.6" cy="702.2" r="2.6"/><circle cx="560" cy="759.7" r="2.6"/><circle cx="602.5" cy="716.9" r="2.6"/><circle cx="488.4" cy="683.3" r="2.6"/><circle cx="572.6" cy="750.2" r="2.6"/><circle cx="599.3" cy="721.3" r="2.6"/><circle cx="565.8" cy="773.8" r="2.6"/><circle cx="587" cy="732.1" r="2.6"/><circle cx="532.8" cy="720.1" r="2.6"/><circle cx="531.3" cy="711.2" r="2.6"/><circle cx="554.7" cy="747.4" r="2.6"/><circle cx="528.7" cy="706.3" r="2.6"/><circle cx="552.1" cy="744" r="2.6"/><circle cx="625.3" cy="692" r="2.6"/><circle cx="569.2" cy="762.1" r="2.6"/><circle cx="551.3" cy="742.7" r="2.6"/><circle cx="543.6" cy="726.5" r="2.6"/><circle cx="627" cy="692.6" r="2.6"/><circle cx="563.9" cy="764.6" r="2.6"/><circle cx="633.1" cy="688.5" r="2.6"/><circle cx="566.9" cy="773.5" r="2.6"/><circle cx="566.2" cy="772.3" r="2.6"/><circle cx="615.1" cy="700.5" r="2.6"/><circle cx="586.4" cy="726.5" r="2.6"/><circle cx="570.5" cy="760.9" r="2.6"/><circle cx="561.8" cy="761" r="2.6"/><circle cx="614.6" cy="707.2" r="2.6"/><circle cx="561.3" cy="757.3" r="2.6"/><circle cx="622.2" cy="698.9" r="2.6"/><circle cx="499.2" cy="694.7" r="2.6"/><circle cx="562.1" cy="761.7" r="2.6"/><circle cx="564.9" cy="772.4" r="2.6"/><circle cx="628.8" cy="695.9" r="2.6"/><circle cx="536.8" cy="725.1" r="2.6"/><circle cx="599.9" cy="717.5" r="2.6"/><circle cx="581" cy="742.1" r="2.6"/><circle cx="583.9" cy="732.5" r="2.6"/><circle cx="575" cy="751.1" r="2.6"/><circle cx="632" cy="691.3" r="2.6"/><circle cx="552.5" cy="739.8" r="2.6"/><circle cx="558.3" cy="755.1" r="2.6"/><circle cx="531.3" cy="712.9" r="2.6"/><circle cx="496.2" cy="690.3" r="2.6"/><circle cx="529.9" cy="717.9" r="2.6"/><circle cx="622" cy="701.7" r="2.6"/><circle cx="601" cy="706.4" r="2.6"/><circle cx="511.3" cy="698.1" r="2.6"/><circle cx="571.1" cy="755.7" r="2.6"/><circle cx="565.1" cy="772.2" r="2.6"/><circle cx="570.4" cy="757.6" r="2.6"/><circle cx="577.1" cy="744.4" r="2.6"/><circle cx="551.2" cy="732.5" r="2.6"/><circle cx="630.3" cy="693.4" r="2.6"/><circle cx="563" cy="769.8" r="2.6"/><circle cx="575.1" cy="751.5" r="2.6"/><circle cx="576.4" cy="750.3" r="2.6"/><circle cx="528.2" cy="708.6" r="2.6"/><circle cx="501.3" cy="687.7" r="2.6"/><circle cx="559.4" cy="758.1" r="2.6"/><circle cx="594.4" cy="726.3" r="2.6"/><circle cx="600.7" cy="715.1" r="2.6"/><circle cx="583.8" cy="728.5" r="2.6"/><circle cx="507.5" cy="703.7" r="2.6"/><circle cx="617.7" cy="696.9" r="2.6"/><circle cx="599.9" cy="718.8" r="2.6"/><circle cx="609.7" cy="701.6" r="2.6"/><circle cx="567.2" cy="772.1" r="2.6"/><circle cx="619.5" cy="698.3" r="2.6"/><circle cx="494.5" cy="691" r="2.6"/><circle cx="491.2" cy="687.6" r="2.6"/><circle cx="491.6" cy="680.6" r="2.6"/><circle cx="541.1" cy="722.2" r="2.6"/><circle cx="537.8" cy="723.4" r="2.6"/><circle cx="525.9" cy="712.5" r="2.6"/><circle cx="570.5" cy="764" r="2.6"/><circle cx="494.1" cy="687.3" r="2.6"/><circle cx="570.3" cy="758.5" r="2.6"/><circle cx="523.1" cy="707" r="2.6"/><circle cx="579.6" cy="740.8" r="2.6"/><circle cx="488.8" cy="686.8" r="2.6"/><circle cx="548.3" cy="735.7" r="2.6"/><circle cx="623.9" cy="694.3" r="2.6"/><circle cx="565.5" cy="768.7" r="2.6"/><circle cx="595.7" cy="711.6" r="2.6"/><circle cx="577.3" cy="744.9" r="2.6"/><circle cx="573" cy="754.8" r="2.6"/><circle cx="528.1" cy="711.6" r="2.6"/><circle cx="569.7" cy="762" r="2.6"/><circle cx="493.8" cy="688.3" r="2.6"/><circle cx="597.8" cy="717" r="2.6"/><circle cx="630" cy="693.5" r="2.6"/><circle cx="605.9" cy="706.5" r="2.6"/><circle cx="497.4" cy="688.3" r="2.6"/><circle cx="552.7" cy="741.4" r="2.6"/><circle cx="549.2" cy="737.4" r="2.6"/><circle cx="510.8" cy="699.1" r="2.6"/><circle cx="574.9" cy="751.8" r="2.6"/><circle cx="597.4" cy="718.1" r="2.6"/><circle cx="548" cy="736.9" r="2.6"/><circle cx="608.2" cy="705.7" r="2.6"/><circle cx="596.9" cy="717.8" r="2.6"/><circle cx="513.2" cy="703.1" r="2.6"/><circle cx="591.9" cy="723.3" r="2.6"/><circle cx="614.8" cy="705.7" r="2.6"/><circle cx="528.2" cy="713.8" r="2.6"/><circle cx="569.3" cy="762" r="2.6"/><circle cx="577.8" cy="750.2" r="2.6"/><circle cx="571.8" cy="754.6" r="2.6"/><circle cx="508.5" cy="694.5" r="2.6"/><circle cx="577.7" cy="744.2" r="2.6"/><circle cx="574.8" cy="750.3" r="2.6"/><circle cx="602.2" cy="713.6" r="2.6"/><circle cx="599.9" cy="718.4" r="2.6"/><circle cx="550.3" cy="739.5" r="2.6"/><circle cx="586.3" cy="732.7" r="2.6"/><circle cx="609.3" cy="705.2" r="2.6"/><circle cx="616.5" cy="703.8" r="2.6"/><circle cx="522.7" cy="705.5" r="2.6"/><circle cx="491.7" cy="684.4" r="2.6"/><circle cx="576.4" cy="746.3" r="2.6"/><circle cx="531.8" cy="716.8" r="2.6"/><circle cx="567.7" cy="763.7" r="2.6"/><circle cx="627.7" cy="697.1" r="2.6"/><circle cx="557.9" cy="750.2" r="2.6"/><circle cx="539.9" cy="723.2" r="2.6"/><circle cx="564.3" cy="767.4" r="2.6"/><circle cx="576.4" cy="744.6" r="2.6"/><circle cx="508.3" cy="697.1" r="2.6"/><circle cx="557.1" cy="751" r="2.6"/><circle cx="517.6" cy="699.7" r="2.6"/><circle cx="576.9" cy="743.5" r="2.6"/><circle cx="602.3" cy="711.3" r="2.6"/><circle cx="555" cy="751.1" r="2.6"/><circle cx="557.2" cy="748.5" r="2.6"/><circle cx="565.7" cy="768.5" r="2.6"/><circle cx="534.7" cy="714.2" r="2.6"/><circle cx="538.9" cy="722.1" r="2.6"/><circle cx="548.6" cy="741.4" r="2.6"/><circle cx="565" cy="767.4" r="2.6"/><circle cx="504.6" cy="692.9" r="2.6"/><circle cx="594.9" cy="730.1" r="2.6"/><circle cx="568.9" cy="760.7" r="2.6"/><circle cx="544.2" cy="735.2" r="2.6"/><circle cx="502" cy="694.9" r="2.6"/><circle cx="592.7" cy="725.2" r="2.6"/><circle cx="518.1" cy="697.9" r="2.6"/><circle cx="515.8" cy="701.7" r="2.6"/><circle cx="516.3" cy="700" r="2.6"/><circle cx="507.4" cy="688.6" r="2.6"/><circle cx="614.5" cy="695.7" r="2.6"/><circle cx="541.9" cy="727.1" r="2.6"/><circle cx="547.4" cy="735" r="2.6"/><circle cx="605.5" cy="713.8" r="2.6"/><circle cx="573.9" cy="752.9" r="2.6"/><circle cx="528.2" cy="709.9" r="2.6"/><circle cx="563" cy="762.6" r="2.6"/><circle cx="612.5" cy="702.5" r="2.6"/><circle cx="558.2" cy="749" r="2.6"/><circle cx="585.1" cy="735.1" r="2.6"/><circle cx="508.3" cy="695" r="2.6"/><circle cx="584.7" cy="730" r="2.6"/><circle cx="592.3" cy="720.6" r="2.6"/><circle cx="599.8" cy="710.5" r="2.6"/><circle cx="578.4" cy="741.1" r="2.6"/><circle cx="555.9" cy="748.9" r="2.6"/><circle cx="501.3" cy="689.1" r="2.6"/><circle cx="566.9" cy="772.9" r="2.6"/><circle cx="593.8" cy="727.8" r="2.6"/><circle cx="529.2" cy="710.3" r="2.6"/><circle cx="541.5" cy="726.4" r="2.6"/><circle cx="566.4" cy="769.4" r="2.6"/><circle cx="592.5" cy="729.5" r="2.6"/><circle cx="615.8" cy="701.4" r="2.6"/><circle cx="513.8" cy="701" r="2.6"/><circle cx="525.3" cy="711.8" r="2.6"/><circle cx="601.8" cy="721.4" r="2.6"/><circle cx="576" cy="747.7" r="2.6"/><circle cx="583.5" cy="731" r="2.6"/><circle cx="636.2" cy="685.4" r="2.6"/><circle cx="624.9" cy="695.5" r="2.6"/><circle cx="605" cy="709.6" r="2.6"/><circle cx="592.1" cy="720.1" r="2.6"/><circle cx="555.5" cy="755.6" r="2.6"/><circle cx="575.3" cy="748.2" r="2.6"/><circle cx="527.9" cy="709.1" r="2.6"/><circle cx="589.5" cy="723.6" r="2.6"/><circle cx="587.1" cy="722.3" r="2.6"/><circle cx="583.1" cy="730.7" r="2.6"/><circle cx="563.6" cy="764.8" r="2.6"/><circle cx="557.6" cy="750.1" r="2.6"/><circle cx="562.2" cy="759.1" r="2.6"/><circle cx="492.5" cy="686.9" r="2.6"/><circle cx="605.3" cy="709.4" r="2.6"/><circle cx="566.1" cy="768" r="2.6"/><circle cx="560.7" cy="751.1" r="2.6"/><circle cx="567.4" cy="767.1" r="2.6"/><circle cx="585.3" cy="732.1" r="2.6"/><circle cx="557.8" cy="750.9" r="2.6"/><circle cx="600.2" cy="709.1" r="2.6"/><circle cx="619.9" cy="697.1" r="2.6"/><circle cx="560.1" cy="751.4" r="2.6"/><circle cx="515.7" cy="703.8" r="2.6"/><circle cx="591.4" cy="724.9" r="2.6"/></g>
<g fill="#6c1d92" fill-opacity="0.5" stroke="#3c0a5a" stroke-opacity="0.8" stroke-width="0.9"><circle cx="565.6" cy="782.8" r="2.6"/></g>
</g>
<rect x="496.5" y="843.5" width="139.5" height="23" fill="#ffffff" fill-opacity="0.86" stroke="#111" stroke-width="1.8"/>
<text x="566.5" y="859.2" font-size="16" text-anchor="middle" textLength="130" lengthAdjust="spacingAndGlyphs"><tspan font-style="italic">s</tspan> = 1.59 ± 0.02</text>
<rect x="469.0" y="653.0" width="194.0" height="212.0" fill="none" stroke="#000" stroke-width="1.7"/>
<text x="453.2" y="866.2" font-size="16" text-anchor="end" textLength="24" lengthAdjust="spacingAndGlyphs">−2</text>
<text x="453.2" y="813.4" font-size="16" text-anchor="end" textLength="9.2" lengthAdjust="spacingAndGlyphs">0</text>
<text x="453.2" y="760.6" font-size="16" text-anchor="end" textLength="9.2" lengthAdjust="spacingAndGlyphs">2</text>
<text x="453.2" y="707.8" font-size="16" text-anchor="end" textLength="9.2" lengthAdjust="spacingAndGlyphs">4</text>
<text x="512.8" y="892.7" font-size="15.5" text-anchor="middle" textLength="34" lengthAdjust="spacingAndGlyphs">−10</text>
<text x="565.6" y="892.7" font-size="15.5" text-anchor="middle" textLength="9.6" lengthAdjust="spacingAndGlyphs">0</text>
<text x="618.5" y="892.7" font-size="15.5" text-anchor="middle" textLength="18.4" lengthAdjust="spacingAndGlyphs">10</text>
<path d="M461.5 860.2H469M461.5 807.4H469M461.5 754.6H469M461.5 701.8H469M512.8 865V872.5M565.6 865V872.5M618.5 865V872.5" stroke="#000" stroke-width="1.5" fill="none"/>
<text x="566" y="917.7" font-size="17" text-anchor="middle">x</text>
<text transform="translate(417.5 759) rotate(-90)" font-size="17.5" text-anchor="middle">y</text>
<text x="566" y="639.6" font-size="28.5" text-anchor="middle">Kernel CCA</text>
<text x="412" y="632.5" font-size="24" font-weight="bold" textLength="32.2" lengthAdjust="spacingAndGlyphs">(h)</text>
<path fill="#817dc7" d="M679 662.5L683.8 651.5L688.5 662.5Z"/>
<path fill="#a16a50" d="M679 854.5L683.8 865.7L688.5 854.5Z"/>
<rect x="679" y="662" width="9.5" height="14.2" fill="#817dc7"/>
<rect x="679" y="675.8" width="9.5" height="14.2" fill="#a09cd5"/>
<rect x="679" y="689.6" width="9.5" height="14.2" fill="#bdbadf"/>
<rect x="679" y="703.4" width="9.5" height="14.2" fill="#cdcbe8"/>
<rect x="679" y="717.1" width="9.5" height="14.2" fill="#dcdbee"/>
<rect x="679" y="730.9" width="9.5" height="14.2" fill="#e8e7f2"/>
<rect x="679" y="744.7" width="9.5" height="14.2" fill="#f0f0f5"/>
<rect x="679" y="758.5" width="9.5" height="14.2" fill="#f3f1f0"/>
<rect x="679" y="772.3" width="9.5" height="14.2" fill="#f0ecea"/>
<rect x="679" y="786.1" width="9.5" height="14.2" fill="#ece5e3"/>
<rect x="679" y="799.9" width="9.5" height="14.2" fill="#e6dbd7"/>
<rect x="679" y="813.6" width="9.5" height="14.2" fill="#d6c1b8"/>
<rect x="679" y="827.4" width="9.5" height="14.2" fill="#c09d89"/>
<rect x="679" y="841.2" width="9.5" height="14.2" fill="#ad7b61"/>
<path fill="none" stroke="#000" stroke-width="1.7" stroke-linejoin="miter" d="M679 662L683.8 651.5L688.5 662L688.5 855L683.8 865.7L679 855Z"/>
<text x="704.5" y="682.4" font-size="17" textLength="34.5" lengthAdjust="spacingAndGlyphs">1.16</text>
<text x="704.5" y="723.7" font-size="17" textLength="34.5" lengthAdjust="spacingAndGlyphs">0.29</text>
<text x="704.5" y="765.1" font-size="17" textLength="34.5" lengthAdjust="spacingAndGlyphs">0.00</text>
<text x="704.5" y="806.5" font-size="17" textLength="41.5" lengthAdjust="spacingAndGlyphs">-0.29</text>
<text x="704.5" y="847.8" font-size="17" textLength="41.5" lengthAdjust="spacingAndGlyphs">-1.16</text>
<path d="M688.5 675.8H696.5M688.5 717.1H696.5M688.5 758.5H696.5M688.5 799.9H696.5M688.5 841.2H696.5" stroke="#000" stroke-width="1.5" fill="none"/>
<g clip-path="url(#c21)">
<rect x="827.0" y="653.0" width="194.0" height="212.0" fill="#a16a50"/>
<path fill="#ad7b61" d="M824.2 872.9L990.8 872.9 990.8 831.9 991.6 830.9 991.6 829 992.3 828.1 993.1 823.3 993.9 822.3 994.6 817.6 995.4 816.6 995.4 814.7 996.2 813.8 996.2 811.9 997.7 809 997.7 807.1 998.5 806.1 998.5 804.2 999.3 803.3 1000 798.5 1000.8 797.6 1000.8 795.7 1001.6 794.7 1001.6 792.8 1002.3 791.8 1003.1 787.1 1003.9 786.1 1003.9 784.2 1005.4 781.4 1005.4 779.5 1006.2 778.5 1006.2 776.6 1006.9 775.6 1006.9 773.7 1007.7 772.8 1007.7 770.9 1008.5 769.9 1008.5 768 1009.3 767.1 1009.3 765.2 1010.1 764.2 1011 759.4 1012.7 756.5 1023.5 748.4 1023.5 645 824.2 645 824.2 872.9Z"/>
<path fill="#c09d89" d="M824.2 872.9L960 872.9 960 867.2 959.3 866.2 959.3 859.5 958.5 858.6 958.5 851.9 957.7 850.9 957.7 845.2 956.9 844.3 956.9 837.6 956.2 836.6 956.2 830 955.4 829 955.4 823.3 954.6 822.3 954.6 815.7 953.9 814.7 953.9 809 964.8 782.3 967.3 778.5 997.1 754.7 1023.5 731.8 1023.5 645 824.2 645 824.2 732.3 843.3 748.9 872 772.8 868.9 777.1 868.1 777.1 863.5 782.8 862.7 782.8 858.9 787.6 858.1 787.6 848.9 798 848.1 798 844.2 802.8 843.5 802.8 838.9 808.5 838.1 808.5 836.6 810.4 824.2 810.4 824.2 872.9Z"/>
<path fill="#d6c1b8" d="M922.9 808L923.5 809 925 805.2 928.1 800.4 937.3 790.9 971.2 763.8 988.1 749.5 1005.8 733.3 1023.5 715.5 1023.5 645 824.2 645 824.2 716.1 840.4 732.4 858.1 748.6 875 763 897.3 780.4 911.9 792.8 920.4 802.3 922.9 808Z"/>
<path fill="#e6dbd7" d="M923.4 807.1L928.1 799.5 935.8 791.3 989.3 745.1 1006.6 728.9 1023.5 712 1023.5 645 824.2 645 824.2 712.5 840.6 728.9 857.9 745.1 911.9 791.8 919.8 800.4 922.3 804.2 923.4 807.1Z"/>
<path fill="#ece5e3" d="M923.3 805.2L923.5 805.6 928.9 797.7 936.6 789.7 990.1 741.3 1023.5 708.7 1023.5 645 824.2 645 824.2 709.2 857.1 741.3 911.2 790.2 919.8 799.5 923.3 805.2Z"/>
<path fill="#f0ecea" d="M923.2 803.3L923.5 804 928.9 796.8 938.9 786.5 990.9 737.5 1023.5 705.4 1023.5 645 824.2 645 824.2 706 855.3 736.6 909.6 787.8 919 797.6 923.2 803.3Z"/>
<path fill="#f3f1f0" d="M922.9 801.4L923.5 802.3 930 794.7 941.9 782.4 1023.5 702.2 1023.5 645 824.2 645 824.2 702.7 904.2 781.4 916.6 794 922.9 801.4Z"/>
<path fill="#f0f0f5" d="M923.4 800.4L968.1 754 1023.5 698.7 1023.5 645 824.2 645 824.2 699.4 881.9 756.8 914.2 790.2 923.4 800.4Z"/>
<path fill="#e8e7f2" d="M922.9 789L923.5 789.9 931.7 779.5 942.7 767.1 969.6 739.4 996.6 713.7 1023.5 689.4 1023.5 645 824.2 645 824.2 689.8 855.7 718.4 888.1 749.9 908.9 771.8 918.1 782.5 922.9 789Z"/>
<path fill="#dcdbee" d="M923.1 782.3L923.5 783.1 930.4 773.1 941.9 759.4 962 738.5 990.3 711.8 1023.5 683.3 1023.5 645 824.2 645 824.2 683.8 855.8 710.8 884.3 737.5 897.3 750.9 910.3 765.2 918.1 774.8 923.1 782.3Z"/>
<path fill="#cdcbe8" d="M923.2 776.6L923.5 777.3 928.9 768.5 938.2 756.6 960.4 732.7 990.4 705.1 1023.5 678.2 1023.5 645 824.2 645 824.2 678.6 855.7 704.1 885.8 731.8 898.9 745.2 909.6 757.3 918.1 768.2 923.2 776.6Z"/>
<path fill="#bdbadf" d="M923.4 771.8L929.6 761.5 937.3 751.3 947.6 739.4 960.5 726.1 975.8 711.8 991.2 698.5 1008 685.1 1023.5 673.6 1023.5 645 824.2 645 824.2 673.9 840.5 686 858.2 700.3 873.5 713.6 886.7 726.1 899.6 739.5 910.4 751.9 918.9 763.4 923.4 771.8Z"/>
<path fill="#a09cd5" d="M923.4 767.1L928.9 757.1 937.3 745.4 948.1 732.8 961.1 719.4 975.6 706 990.3 693.7 1006.5 681.3 1023.5 669.3 1023.5 645 824.2 645 824.2 669.6 842 682.2 858 694.6 872.7 707 888 721.3 900.8 734.6 911.2 747 918.9 758 923.4 767.1Z"/>
<path fill="#817dc7" d="M923.3 762.3L929.6 750.7 937.3 739.8 948.1 727.1 960.4 714.4 974.3 701.7 989.8 688.9 1006.5 676.5 1023.5 665.2 1023.5 645 824.2 645 824.2 665.6 842 677.5 858.1 689.4 873.5 702.1 887.3 714.9 900.4 728.5 911.2 741.5 918.9 752.8 923.3 762.3Z"/>
<g fill="#dea040" fill-opacity="0.5" stroke="#4a2a05" stroke-opacity="0.8" stroke-width="0.9"><circle cx="853" cy="734.5" r="2.6"/><circle cx="994.6" cy="738.4" r="2.6"/><circle cx="945.7" cy="775.9" r="2.6"/><circle cx="888.4" cy="761.8" r="2.6"/><circle cx="949.9" cy="774.1" r="2.6"/><circle cx="903.8" cy="772.1" r="2.6"/><circle cx="922.6" cy="810.8" r="2.6"/><circle cx="969" cy="747.8" r="2.6"/><circle cx="921.7" cy="806.5" r="2.6"/><circle cx="900.1" cy="778.1" r="2.6"/><circle cx="903.3" cy="780.8" r="2.6"/><circle cx="863.8" cy="741.6" r="2.6"/><circle cx="890.4" cy="764.9" r="2.6"/><circle cx="898.8" cy="774" r="2.6"/><circle cx="881.5" cy="757.8" r="2.6"/><circle cx="857.5" cy="744.6" r="2.6"/><circle cx="921.8" cy="810.3" r="2.6"/><circle cx="885.2" cy="768.4" r="2.6"/><circle cx="949.6" cy="771.3" r="2.6"/><circle cx="985.9" cy="743.7" r="2.6"/><circle cx="897.6" cy="775.6" r="2.6"/><circle cx="928.5" cy="803.2" r="2.6"/><circle cx="923.5" cy="815.1" r="2.6"/><circle cx="860.6" cy="745.5" r="2.6"/><circle cx="869.9" cy="753.4" r="2.6"/><circle cx="978.7" cy="749.9" r="2.6"/><circle cx="920.6" cy="812.4" r="2.6"/><circle cx="963.4" cy="762.4" r="2.6"/><circle cx="863.3" cy="737.5" r="2.6"/><circle cx="931.9" cy="799.5" r="2.6"/><circle cx="972" cy="749.3" r="2.6"/><circle cx="975.8" cy="753.3" r="2.6"/><circle cx="848.1" cy="732.3" r="2.6"/><circle cx="924.7" cy="812.7" r="2.6"/><circle cx="912.4" cy="792.1" r="2.6"/><circle cx="952.8" cy="767.1" r="2.6"/><circle cx="865" cy="738.1" r="2.6"/><circle cx="898.1" cy="772.6" r="2.6"/><circle cx="962.9" cy="758.9" r="2.6"/><circle cx="921.3" cy="811.3" r="2.6"/><circle cx="921.7" cy="807.7" r="2.6"/><circle cx="995.1" cy="736.3" r="2.6"/><circle cx="907.4" cy="781.8" r="2.6"/><circle cx="855.6" cy="737.7" r="2.6"/><circle cx="917.5" cy="795.1" r="2.6"/><circle cx="874.9" cy="758.2" r="2.6"/><circle cx="863.7" cy="743.9" r="2.6"/><circle cx="926.9" cy="803.4" r="2.6"/><circle cx="991.9" cy="738.5" r="2.6"/><circle cx="929.9" cy="802.2" r="2.6"/><circle cx="937.3" cy="789.1" r="2.6"/><circle cx="904.2" cy="785.3" r="2.6"/><circle cx="928.1" cy="803.2" r="2.6"/><circle cx="947.8" cy="765" r="2.6"/><circle cx="928.6" cy="799" r="2.6"/><circle cx="963.4" cy="763" r="2.6"/><circle cx="927.3" cy="807.6" r="2.6"/><circle cx="885.8" cy="762.2" r="2.6"/><circle cx="928.2" cy="800.4" r="2.6"/><circle cx="922.6" cy="814.9" r="2.6"/><circle cx="879.4" cy="757.5" r="2.6"/><circle cx="932.2" cy="793.3" r="2.6"/><circle cx="962.3" cy="756.7" r="2.6"/><circle cx="874.2" cy="752" r="2.6"/><circle cx="927.1" cy="808.7" r="2.6"/><circle cx="952.6" cy="775.6" r="2.6"/><circle cx="915.6" cy="798.9" r="2.6"/><circle cx="894.2" cy="777.7" r="2.6"/><circle cx="913.9" cy="792" r="2.6"/><circle cx="926.3" cy="809.1" r="2.6"/><circle cx="941.5" cy="780.8" r="2.6"/><circle cx="925.1" cy="804.6" r="2.6"/><circle cx="871.2" cy="744.4" r="2.6"/><circle cx="966.2" cy="760.6" r="2.6"/><circle cx="983.7" cy="739.9" r="2.6"/><circle cx="870" cy="743.6" r="2.6"/><circle cx="893.8" cy="771.6" r="2.6"/><circle cx="880.4" cy="759.3" r="2.6"/><circle cx="970.2" cy="753.4" r="2.6"/><circle cx="984.7" cy="747.4" r="2.6"/><circle cx="858.3" cy="734.6" r="2.6"/><circle cx="903.9" cy="788.1" r="2.6"/><circle cx="883.5" cy="762.7" r="2.6"/><circle cx="922" cy="811" r="2.6"/><circle cx="984.9" cy="742.7" r="2.6"/><circle cx="862" cy="741.2" r="2.6"/><circle cx="882.1" cy="756.4" r="2.6"/><circle cx="923" cy="814.1" r="2.6"/><circle cx="923.4" cy="811.8" r="2.6"/><circle cx="955.7" cy="774.7" r="2.6"/><circle cx="919.9" cy="805" r="2.6"/><circle cx="874.8" cy="753.7" r="2.6"/><circle cx="910.8" cy="789" r="2.6"/><circle cx="997.5" cy="733.4" r="2.6"/><circle cx="954.1" cy="771.5" r="2.6"/><circle cx="870.1" cy="749.7" r="2.6"/><circle cx="960.9" cy="758.3" r="2.6"/><circle cx="905.3" cy="780.8" r="2.6"/><circle cx="958.8" cy="765.8" r="2.6"/><circle cx="852" cy="729.1" r="2.6"/><circle cx="970.4" cy="744.8" r="2.6"/><circle cx="877.4" cy="758.5" r="2.6"/><circle cx="921.6" cy="808.3" r="2.6"/><circle cx="934.9" cy="783.1" r="2.6"/><circle cx="923" cy="814.9" r="2.6"/><circle cx="881" cy="755.6" r="2.6"/><circle cx="875.2" cy="752.3" r="2.6"/><circle cx="899.8" cy="777.3" r="2.6"/><circle cx="857.6" cy="739.6" r="2.6"/><circle cx="888.7" cy="765.6" r="2.6"/><circle cx="875.1" cy="748.9" r="2.6"/><circle cx="921.6" cy="810.2" r="2.6"/><circle cx="910.3" cy="790.1" r="2.6"/><circle cx="931.2" cy="801" r="2.6"/><circle cx="900.2" cy="775.9" r="2.6"/><circle cx="852.7" cy="738.7" r="2.6"/><circle cx="907.3" cy="785.2" r="2.6"/><circle cx="951" cy="767.1" r="2.6"/><circle cx="897" cy="770.7" r="2.6"/><circle cx="917.2" cy="798.4" r="2.6"/><circle cx="952.3" cy="768.4" r="2.6"/><circle cx="916.9" cy="799.1" r="2.6"/><circle cx="977.7" cy="747.5" r="2.6"/><circle cx="984.3" cy="743.4" r="2.6"/><circle cx="906" cy="780.1" r="2.6"/><circle cx="952.1" cy="774.4" r="2.6"/><circle cx="898.5" cy="768.4" r="2.6"/><circle cx="875.7" cy="751.8" r="2.6"/><circle cx="919.1" cy="805.4" r="2.6"/><circle cx="932.1" cy="797.6" r="2.6"/><circle cx="988.6" cy="741.7" r="2.6"/><circle cx="877.2" cy="752.6" r="2.6"/><circle cx="947.5" cy="777.8" r="2.6"/><circle cx="923.7" cy="811.7" r="2.6"/><circle cx="872.8" cy="752.3" r="2.6"/><circle cx="998.7" cy="740.5" r="2.6"/><circle cx="945" cy="780.8" r="2.6"/><circle cx="870.2" cy="754.5" r="2.6"/><circle cx="981.3" cy="744.6" r="2.6"/><circle cx="870.2" cy="744" r="2.6"/><circle cx="867.4" cy="743.4" r="2.6"/><circle cx="905.5" cy="786.6" r="2.6"/><circle cx="989.2" cy="741.6" r="2.6"/><circle cx="856.2" cy="732.4" r="2.6"/><circle cx="983.4" cy="742" r="2.6"/><circle cx="932.5" cy="795.5" r="2.6"/><circle cx="862.6" cy="738.7" r="2.6"/><circle cx="925.2" cy="802.4" r="2.6"/><circle cx="922.9" cy="808.5" r="2.6"/><circle cx="927.4" cy="804.6" r="2.6"/><circle cx="949.4" cy="771.6" r="2.6"/><circle cx="940.2" cy="782.1" r="2.6"/><circle cx="1002" cy="733.5" r="2.6"/><circle cx="877.1" cy="756.8" r="2.6"/><circle cx="963.1" cy="759" r="2.6"/><circle cx="916.2" cy="800.6" r="2.6"/><circle cx="958" cy="764.3" r="2.6"/><circle cx="978.3" cy="746.4" r="2.6"/><circle cx="997" cy="727.2" r="2.6"/><circle cx="896.2" cy="774.7" r="2.6"/><circle cx="921" cy="807.9" r="2.6"/><circle cx="989.3" cy="739.6" r="2.6"/><circle cx="989.1" cy="737.8" r="2.6"/><circle cx="914.4" cy="791.8" r="2.6"/><circle cx="989.3" cy="740.7" r="2.6"/><circle cx="915.7" cy="799.5" r="2.6"/><circle cx="910.9" cy="794.6" r="2.6"/><circle cx="955.1" cy="770.5" r="2.6"/><circle cx="922.9" cy="811.1" r="2.6"/><circle cx="920.8" cy="807" r="2.6"/><circle cx="913.2" cy="796.1" r="2.6"/><circle cx="919" cy="804.3" r="2.6"/><circle cx="875.8" cy="751.9" r="2.6"/><circle cx="860.5" cy="739.1" r="2.6"/><circle cx="954" cy="770.3" r="2.6"/><circle cx="927.8" cy="804.7" r="2.6"/><circle cx="943.2" cy="786.4" r="2.6"/><circle cx="963.4" cy="763.2" r="2.6"/><circle cx="895.2" cy="763.8" r="2.6"/><circle cx="888.4" cy="771.6" r="2.6"/><circle cx="899.1" cy="775.8" r="2.6"/><circle cx="904.1" cy="779.7" r="2.6"/><circle cx="954.7" cy="768.8" r="2.6"/><circle cx="912" cy="793.7" r="2.6"/><circle cx="906.4" cy="783.6" r="2.6"/><circle cx="935.5" cy="790.8" r="2.6"/><circle cx="884.3" cy="759.7" r="2.6"/><circle cx="866.1" cy="750.9" r="2.6"/><circle cx="944.2" cy="779.7" r="2.6"/><circle cx="955" cy="770.4" r="2.6"/><circle cx="901.6" cy="779.4" r="2.6"/><circle cx="935.1" cy="790.7" r="2.6"/><circle cx="854.9" cy="735.1" r="2.6"/><circle cx="917.7" cy="798.1" r="2.6"/><circle cx="929.4" cy="802.3" r="2.6"/><circle cx="897.7" cy="769.2" r="2.6"/><circle cx="911.6" cy="786.9" r="2.6"/><circle cx="930.8" cy="795" r="2.6"/><circle cx="928.4" cy="798.7" r="2.6"/><circle cx="878.2" cy="754.5" r="2.6"/><circle cx="945.6" cy="778" r="2.6"/><circle cx="865" cy="741.1" r="2.6"/><circle cx="996.9" cy="738.7" r="2.6"/><circle cx="887.7" cy="761.7" r="2.6"/><circle cx="894.9" cy="771.9" r="2.6"/><circle cx="886.2" cy="762.5" r="2.6"/><circle cx="1002.1" cy="736.9" r="2.6"/><circle cx="899.5" cy="778.2" r="2.6"/><circle cx="931.8" cy="796.7" r="2.6"/><circle cx="998.5" cy="730.8" r="2.6"/><circle cx="989.3" cy="735.9" r="2.6"/><circle cx="855.7" cy="737.9" r="2.6"/><circle cx="924.5" cy="812.7" r="2.6"/><circle cx="932.4" cy="798.1" r="2.6"/><circle cx="944" cy="777.9" r="2.6"/><circle cx="907.8" cy="786.1" r="2.6"/><circle cx="908.1" cy="783.6" r="2.6"/><circle cx="849.7" cy="728.7" r="2.6"/><circle cx="854.2" cy="736.8" r="2.6"/><circle cx="927.9" cy="807.9" r="2.6"/><circle cx="861.6" cy="744.3" r="2.6"/><circle cx="884.6" cy="765" r="2.6"/><circle cx="905.9" cy="786.8" r="2.6"/><circle cx="863.7" cy="738.7" r="2.6"/><circle cx="853.6" cy="735.7" r="2.6"/><circle cx="988" cy="744.8" r="2.6"/><circle cx="920.3" cy="804.2" r="2.6"/><circle cx="890.1" cy="760.1" r="2.6"/><circle cx="946.3" cy="778" r="2.6"/><circle cx="847.7" cy="735" r="2.6"/><circle cx="893.9" cy="770.1" r="2.6"/><circle cx="992.6" cy="736.1" r="2.6"/><circle cx="978.6" cy="744.3" r="2.6"/><circle cx="933.7" cy="789.8" r="2.6"/><circle cx="868.4" cy="742.2" r="2.6"/><circle cx="907.7" cy="781" r="2.6"/><circle cx="854.5" cy="732.7" r="2.6"/><circle cx="891.5" cy="763.7" r="2.6"/><circle cx="850" cy="739" r="2.6"/><circle cx="872.9" cy="750.1" r="2.6"/><circle cx="934.7" cy="791.1" r="2.6"/><circle cx="867.3" cy="746.8" r="2.6"/><circle cx="880.4" cy="752.6" r="2.6"/><circle cx="981.2" cy="745.7" r="2.6"/><circle cx="906.7" cy="786.8" r="2.6"/><circle cx="910.1" cy="783.6" r="2.6"/><circle cx="866.1" cy="742.4" r="2.6"/><circle cx="959.7" cy="761.5" r="2.6"/><circle cx="939.3" cy="782.1" r="2.6"/><circle cx="925" cy="807.4" r="2.6"/><circle cx="932.8" cy="794" r="2.6"/><circle cx="864" cy="751.3" r="2.6"/><circle cx="895.7" cy="773.4" r="2.6"/><circle cx="930" cy="801.2" r="2.6"/><circle cx="992.6" cy="740.1" r="2.6"/><circle cx="963.6" cy="758" r="2.6"/><circle cx="934.3" cy="788.8" r="2.6"/><circle cx="924.7" cy="813.2" r="2.6"/><circle cx="848.3" cy="736.8" r="2.6"/><circle cx="974.9" cy="742.3" r="2.6"/><circle cx="860.3" cy="742.1" r="2.6"/><circle cx="871.6" cy="752.9" r="2.6"/><circle cx="942.9" cy="779.9" r="2.6"/><circle cx="962.3" cy="758.4" r="2.6"/><circle cx="959.8" cy="764.9" r="2.6"/><circle cx="921.9" cy="807.4" r="2.6"/><circle cx="881.8" cy="758.9" r="2.6"/><circle cx="853" cy="738.9" r="2.6"/><circle cx="970.1" cy="752.5" r="2.6"/><circle cx="995.7" cy="732.7" r="2.6"/><circle cx="893.1" cy="770.5" r="2.6"/><circle cx="972.7" cy="749.8" r="2.6"/><circle cx="916.3" cy="798.4" r="2.6"/><circle cx="909.7" cy="777.5" r="2.6"/><circle cx="924.4" cy="815.6" r="2.6"/><circle cx="850.1" cy="730" r="2.6"/><circle cx="920.2" cy="806" r="2.6"/><circle cx="886.5" cy="761.9" r="2.6"/><circle cx="944.9" cy="775.5" r="2.6"/><circle cx="922.8" cy="815.7" r="2.6"/><circle cx="971.7" cy="747.4" r="2.6"/><circle cx="978.9" cy="745.1" r="2.6"/><circle cx="904.5" cy="783.1" r="2.6"/><circle cx="899.1" cy="776.6" r="2.6"/><circle cx="987.6" cy="738.5" r="2.6"/><circle cx="923.1" cy="815.6" r="2.6"/><circle cx="869.4" cy="742.3" r="2.6"/><circle cx="857.2" cy="737.2" r="2.6"/><circle cx="998.3" cy="730.4" r="2.6"/><circle cx="927.2" cy="800.8" r="2.6"/><circle cx="858.6" cy="739" r="2.6"/><circle cx="925.3" cy="814.7" r="2.6"/><circle cx="924.8" cy="815.8" r="2.6"/><circle cx="918.1" cy="805.3" r="2.6"/><circle cx="988.7" cy="734.4" r="2.6"/><circle cx="991.6" cy="740.3" r="2.6"/><circle cx="874.9" cy="747" r="2.6"/><circle cx="879" cy="752.6" r="2.6"/><circle cx="919" cy="798.1" r="2.6"/><circle cx="965.3" cy="753.6" r="2.6"/><circle cx="934.1" cy="793.3" r="2.6"/><circle cx="949.3" cy="773.9" r="2.6"/><circle cx="928.6" cy="802.3" r="2.6"/><circle cx="888.9" cy="763.1" r="2.6"/><circle cx="965" cy="759.4" r="2.6"/><circle cx="849.5" cy="734.1" r="2.6"/><circle cx="941.2" cy="776.9" r="2.6"/><circle cx="882.7" cy="764.1" r="2.6"/><circle cx="922.6" cy="811.2" r="2.6"/><circle cx="997.4" cy="737" r="2.6"/><circle cx="925.3" cy="809.3" r="2.6"/><circle cx="860.2" cy="737.8" r="2.6"/><circle cx="919" cy="803.4" r="2.6"/><circle cx="937.4" cy="785.4" r="2.6"/><circle cx="856.5" cy="743.3" r="2.6"/><circle cx="898" cy="768.8" r="2.6"/><circle cx="849.7" cy="736" r="2.6"/><circle cx="924.9" cy="808.9" r="2.6"/><circle cx="914.3" cy="794.2" r="2.6"/><circle cx="926.1" cy="816" r="2.6"/><circle cx="901.1" cy="779.6" r="2.6"/><circle cx="937.8" cy="786.7" r="2.6"/><circle cx="884.8" cy="754.1" r="2.6"/><circle cx="981" cy="743.7" r="2.6"/><circle cx="992.5" cy="736.2" r="2.6"/><circle cx="922.1" cy="815.3" r="2.6"/><circle cx="923.4" cy="809.7" r="2.6"/><circle cx="968.9" cy="747.7" r="2.6"/><circle cx="901.7" cy="777.4" r="2.6"/><circle cx="961.8" cy="761.2" r="2.6"/><circle cx="898.2" cy="779.5" r="2.6"/><circle cx="945.7" cy="773.9" r="2.6"/><circle cx="912.3" cy="782.3" r="2.6"/><circle cx="930.5" cy="796.7" r="2.6"/><circle cx="983.6" cy="738.7" r="2.6"/><circle cx="859.2" cy="738.1" r="2.6"/><circle cx="963.9" cy="762" r="2.6"/><circle cx="924.3" cy="808.3" r="2.6"/><circle cx="912" cy="795" r="2.6"/><circle cx="909.8" cy="788.7" r="2.6"/><circle cx="862" cy="740.8" r="2.6"/><circle cx="898.5" cy="770.2" r="2.6"/><circle cx="933.3" cy="793" r="2.6"/><circle cx="868" cy="744.7" r="2.6"/><circle cx="941.1" cy="785.5" r="2.6"/><circle cx="995.1" cy="739.5" r="2.6"/><circle cx="997.4" cy="734" r="2.6"/><circle cx="979" cy="748.5" r="2.6"/><circle cx="964.4" cy="762.8" r="2.6"/><circle cx="880.6" cy="760.6" r="2.6"/><circle cx="995.8" cy="736.6" r="2.6"/><circle cx="883.9" cy="765.8" r="2.6"/><circle cx="976.1" cy="752.9" r="2.6"/><circle cx="978.3" cy="752.2" r="2.6"/><circle cx="933.5" cy="793.4" r="2.6"/><circle cx="924" cy="812.5" r="2.6"/><circle cx="890.7" cy="757.9" r="2.6"/><circle cx="925.7" cy="813.4" r="2.6"/><circle cx="900.5" cy="778.6" r="2.6"/><circle cx="874.5" cy="747.9" r="2.6"/><circle cx="873.1" cy="750.6" r="2.6"/><circle cx="961.6" cy="761.7" r="2.6"/><circle cx="982.2" cy="738.2" r="2.6"/><circle cx="875.5" cy="753" r="2.6"/><circle cx="847.9" cy="736.6" r="2.6"/><circle cx="894.9" cy="775.1" r="2.6"/><circle cx="875.3" cy="750.4" r="2.6"/><circle cx="885.4" cy="759.2" r="2.6"/><circle cx="931" cy="801.8" r="2.6"/><circle cx="917.3" cy="802.7" r="2.6"/><circle cx="923.9" cy="834.4" r="2.6"/><circle cx="924" cy="826.3" r="2.6"/><circle cx="923.2" cy="837.8" r="2.6"/><circle cx="924" cy="829.5" r="2.6"/><circle cx="924" cy="814.1" r="2.6"/><circle cx="922.5" cy="838" r="2.6"/><circle cx="923.4" cy="819.4" r="2.6"/><circle cx="923.9" cy="816.4" r="2.6"/><circle cx="923.2" cy="826.3" r="2.6"/><circle cx="922.2" cy="818.3" r="2.6"/><circle cx="923.4" cy="828.2" r="2.6"/><circle cx="924.1" cy="830.6" r="2.6"/><circle cx="924.6" cy="826.4" r="2.6"/><circle cx="922.2" cy="835" r="2.6"/><circle cx="925.3" cy="831.9" r="2.6"/><circle cx="922.9" cy="831.9" r="2.6"/><circle cx="924.2" cy="813" r="2.6"/><circle cx="924.4" cy="831.1" r="2.6"/><circle cx="924.2" cy="834.1" r="2.6"/><circle cx="923.7" cy="814.3" r="2.6"/><circle cx="922.9" cy="836.6" r="2.6"/><circle cx="924" cy="813.6" r="2.6"/><circle cx="923.1" cy="816.7" r="2.6"/><circle cx="922" cy="822.5" r="2.6"/><circle cx="925.4" cy="828.5" r="2.6"/><circle cx="924" cy="834.9" r="2.6"/><circle cx="924.8" cy="837.5" r="2.6"/><circle cx="923" cy="837.5" r="2.6"/><circle cx="924.5" cy="830.7" r="2.6"/><circle cx="924.6" cy="829.1" r="2.6"/><circle cx="832.2" cy="720.5" r="2.6"/><circle cx="1015" cy="720.5" r="2.6"/><circle cx="847.5" cy="742.7" r="2.6"/><circle cx="1001.3" cy="729.5" r="2.6"/><circle cx="876" cy="740.1" r="2.6"/><circle cx="935.2" cy="799.5" r="2.6"/><circle cx="900.9" cy="782.3" r="2.6"/></g>
<g fill="#6c1d92" fill-opacity="0.5" stroke="#3c0a5a" stroke-opacity="0.8" stroke-width="0.9"><circle cx="933.6" cy="752.5" r="2.6"/><circle cx="973.7" cy="701" r="2.6"/><circle cx="953.1" cy="723.2" r="2.6"/><circle cx="894.3" cy="716.4" r="2.6"/><circle cx="903.5" cy="734.4" r="2.6"/><circle cx="967.7" cy="703.2" r="2.6"/><circle cx="845.8" cy="678.4" r="2.6"/><circle cx="959.6" cy="714" r="2.6"/><circle cx="956.1" cy="718.9" r="2.6"/><circle cx="922.8" cy="769.8" r="2.6"/><circle cx="905.3" cy="734" r="2.6"/><circle cx="899.7" cy="730.3" r="2.6"/><circle cx="898.7" cy="723.2" r="2.6"/><circle cx="923.4" cy="764.3" r="2.6"/><circle cx="923.9" cy="775.3" r="2.6"/><circle cx="925.8" cy="766.1" r="2.6"/><circle cx="995.8" cy="689" r="2.6"/><circle cx="953.5" cy="718" r="2.6"/><circle cx="932.8" cy="752.8" r="2.6"/><circle cx="994.4" cy="689.9" r="2.6"/><circle cx="893.3" cy="713.7" r="2.6"/><circle cx="878.4" cy="707.6" r="2.6"/><circle cx="928.9" cy="753.4" r="2.6"/><circle cx="855.8" cy="683.5" r="2.6"/><circle cx="852.1" cy="685.3" r="2.6"/><circle cx="923.3" cy="773.4" r="2.6"/><circle cx="924.5" cy="769" r="2.6"/><circle cx="977.7" cy="697.9" r="2.6"/><circle cx="932.7" cy="751" r="2.6"/><circle cx="925.1" cy="773.8" r="2.6"/><circle cx="923.6" cy="775.5" r="2.6"/><circle cx="899.5" cy="719.9" r="2.6"/><circle cx="846.9" cy="680.6" r="2.6"/><circle cx="884.7" cy="713.5" r="2.6"/><circle cx="940.7" cy="738.8" r="2.6"/><circle cx="887.1" cy="714.2" r="2.6"/><circle cx="914.6" cy="748.2" r="2.6"/><circle cx="843.5" cy="682.5" r="2.6"/><circle cx="960.2" cy="711.4" r="2.6"/><circle cx="879.4" cy="704.1" r="2.6"/><circle cx="899.2" cy="727.1" r="2.6"/><circle cx="970.1" cy="703.4" r="2.6"/><circle cx="923.5" cy="774.4" r="2.6"/><circle cx="963.9" cy="709" r="2.6"/><circle cx="932.3" cy="748.1" r="2.6"/><circle cx="942.5" cy="725.4" r="2.6"/><circle cx="866" cy="692.8" r="2.6"/><circle cx="924.9" cy="768.4" r="2.6"/><circle cx="925.3" cy="774.9" r="2.6"/><circle cx="967.6" cy="704" r="2.6"/><circle cx="910.4" cy="748.1" r="2.6"/><circle cx="930.6" cy="757.7" r="2.6"/><circle cx="858.7" cy="687.2" r="2.6"/><circle cx="917.1" cy="751.9" r="2.6"/><circle cx="908" cy="738.5" r="2.6"/><circle cx="875" cy="707.4" r="2.6"/><circle cx="958.9" cy="715" r="2.6"/><circle cx="914.4" cy="751" r="2.6"/><circle cx="989.8" cy="687.2" r="2.6"/><circle cx="925.6" cy="757.5" r="2.6"/><circle cx="929.3" cy="755.4" r="2.6"/><circle cx="933.9" cy="749.4" r="2.6"/><circle cx="939.1" cy="742.2" r="2.6"/><circle cx="878" cy="704.2" r="2.6"/><circle cx="920.8" cy="764" r="2.6"/><circle cx="892.8" cy="723" r="2.6"/><circle cx="917.8" cy="755.6" r="2.6"/><circle cx="864.5" cy="697.5" r="2.6"/><circle cx="986.6" cy="687.5" r="2.6"/><circle cx="892.8" cy="714.1" r="2.6"/><circle cx="935" cy="741" r="2.6"/><circle cx="904.1" cy="734.1" r="2.6"/><circle cx="967.9" cy="703.2" r="2.6"/><circle cx="935.7" cy="744" r="2.6"/><circle cx="873.4" cy="701.5" r="2.6"/><circle cx="964" cy="709.9" r="2.6"/><circle cx="985.2" cy="696.2" r="2.6"/><circle cx="977.1" cy="702.6" r="2.6"/><circle cx="925.8" cy="762.4" r="2.6"/><circle cx="876.7" cy="703.5" r="2.6"/><circle cx="886.9" cy="711.3" r="2.6"/><circle cx="978" cy="693.6" r="2.6"/><circle cx="927.3" cy="766.8" r="2.6"/><circle cx="882.7" cy="711" r="2.6"/><circle cx="970.4" cy="702.3" r="2.6"/><circle cx="932.7" cy="747.8" r="2.6"/><circle cx="927.1" cy="762.9" r="2.6"/><circle cx="916.3" cy="749.2" r="2.6"/><circle cx="918.8" cy="757.4" r="2.6"/><circle cx="892.6" cy="723" r="2.6"/><circle cx="851.2" cy="688.5" r="2.6"/><circle cx="967.8" cy="702.3" r="2.6"/><circle cx="923.1" cy="769.7" r="2.6"/><circle cx="927.2" cy="767.7" r="2.6"/><circle cx="910.3" cy="736.7" r="2.6"/><circle cx="946.4" cy="725.4" r="2.6"/><circle cx="850.8" cy="681.4" r="2.6"/><circle cx="913.9" cy="749.3" r="2.6"/><circle cx="850.1" cy="686" r="2.6"/><circle cx="870.3" cy="701.6" r="2.6"/><circle cx="984.5" cy="684.4" r="2.6"/><circle cx="935.3" cy="744.9" r="2.6"/><circle cx="921.8" cy="760.6" r="2.6"/><circle cx="924.8" cy="771.9" r="2.6"/><circle cx="968.2" cy="704.2" r="2.6"/><circle cx="908.5" cy="744.4" r="2.6"/><circle cx="928.7" cy="758.7" r="2.6"/><circle cx="936.6" cy="738.6" r="2.6"/><circle cx="910.6" cy="746.4" r="2.6"/><circle cx="923" cy="772.5" r="2.6"/><circle cx="949" cy="723.1" r="2.6"/><circle cx="977.4" cy="700.9" r="2.6"/><circle cx="877.3" cy="705.1" r="2.6"/><circle cx="981.5" cy="696" r="2.6"/><circle cx="844" cy="682.3" r="2.6"/><circle cx="948.9" cy="726.9" r="2.6"/><circle cx="958.8" cy="716.9" r="2.6"/><circle cx="874.6" cy="702.2" r="2.6"/><circle cx="918" cy="759.7" r="2.6"/><circle cx="960.5" cy="716.9" r="2.6"/><circle cx="846.4" cy="683.3" r="2.6"/><circle cx="930.6" cy="750.2" r="2.6"/><circle cx="957.3" cy="721.3" r="2.6"/><circle cx="923.8" cy="773.8" r="2.6"/><circle cx="945" cy="732.1" r="2.6"/><circle cx="890.8" cy="720.1" r="2.6"/><circle cx="889.3" cy="711.2" r="2.6"/><circle cx="912.7" cy="747.4" r="2.6"/><circle cx="886.7" cy="706.3" r="2.6"/><circle cx="910.1" cy="744" r="2.6"/><circle cx="983.3" cy="692" r="2.6"/><circle cx="927.2" cy="762.1" r="2.6"/><circle cx="909.3" cy="742.7" r="2.6"/><circle cx="901.6" cy="726.5" r="2.6"/><circle cx="985" cy="692.6" r="2.6"/><circle cx="921.9" cy="764.6" r="2.6"/><circle cx="991.1" cy="688.5" r="2.6"/><circle cx="924.9" cy="773.5" r="2.6"/><circle cx="924.2" cy="772.3" r="2.6"/><circle cx="973.1" cy="700.5" r="2.6"/><circle cx="944.4" cy="726.5" r="2.6"/><circle cx="928.5" cy="760.9" r="2.6"/><circle cx="919.8" cy="761" r="2.6"/><circle cx="972.6" cy="707.2" r="2.6"/><circle cx="919.3" cy="757.3" r="2.6"/><circle cx="980.2" cy="698.9" r="2.6"/><circle cx="857.2" cy="694.7" r="2.6"/><circle cx="920.1" cy="761.7" r="2.6"/><circle cx="922.9" cy="772.4" r="2.6"/><circle cx="986.8" cy="695.9" r="2.6"/><circle cx="894.8" cy="725.1" r="2.6"/><circle cx="957.9" cy="717.5" r="2.6"/><circle cx="939" cy="742.1" r="2.6"/><circle cx="941.9" cy="732.5" r="2.6"/><circle cx="933" cy="751.1" r="2.6"/><circle cx="990" cy="691.3" r="2.6"/><circle cx="910.5" cy="739.8" r="2.6"/><circle cx="916.3" cy="755.1" r="2.6"/><circle cx="889.3" cy="712.9" r="2.6"/><circle cx="854.2" cy="690.3" r="2.6"/><circle cx="887.9" cy="717.9" r="2.6"/><circle cx="980" cy="701.7" r="2.6"/><circle cx="959" cy="706.4" r="2.6"/><circle cx="869.3" cy="698.1" r="2.6"/><circle cx="929.1" cy="755.7" r="2.6"/><circle cx="923.1" cy="772.2" r="2.6"/><circle cx="928.4" cy="757.6" r="2.6"/><circle cx="935.1" cy="744.4" r="2.6"/><circle cx="909.2" cy="732.5" r="2.6"/><circle cx="988.3" cy="693.4" r="2.6"/><circle cx="921" cy="769.8" r="2.6"/><circle cx="933.1" cy="751.5" r="2.6"/><circle cx="934.4" cy="750.3" r="2.6"/><circle cx="886.2" cy="708.6" r="2.6"/><circle cx="859.3" cy="687.7" r="2.6"/><circle cx="917.4" cy="758.1" r="2.6"/><circle cx="952.4" cy="726.3" r="2.6"/><circle cx="958.7" cy="715.1" r="2.6"/><circle cx="941.8" cy="728.5" r="2.6"/><circle cx="865.5" cy="703.7" r="2.6"/><circle cx="975.7" cy="696.9" r="2.6"/><circle cx="957.9" cy="718.8" r="2.6"/><circle cx="967.7" cy="701.6" r="2.6"/><circle cx="925.2" cy="772.1" r="2.6"/><circle cx="977.5" cy="698.3" r="2.6"/><circle cx="852.5" cy="691" r="2.6"/><circle cx="849.2" cy="687.6" r="2.6"/><circle cx="849.6" cy="680.6" r="2.6"/><circle cx="899.1" cy="722.2" r="2.6"/><circle cx="895.8" cy="723.4" r="2.6"/><circle cx="883.9" cy="712.5" r="2.6"/><circle cx="928.5" cy="764" r="2.6"/><circle cx="852.1" cy="687.3" r="2.6"/><circle cx="928.3" cy="758.5" r="2.6"/><circle cx="881.1" cy="707" r="2.6"/><circle cx="937.6" cy="740.8" r="2.6"/><circle cx="846.8" cy="686.8" r="2.6"/><circle cx="906.3" cy="735.7" r="2.6"/><circle cx="981.9" cy="694.3" r="2.6"/><circle cx="923.5" cy="768.7" r="2.6"/><circle cx="953.7" cy="711.6" r="2.6"/><circle cx="935.3" cy="744.9" r="2.6"/><circle cx="931" cy="754.8" r="2.6"/><circle cx="886.1" cy="711.6" r="2.6"/><circle cx="927.7" cy="762" r="2.6"/><circle cx="851.8" cy="688.3" r="2.6"/><circle cx="955.8" cy="717" r="2.6"/><circle cx="988" cy="693.5" r="2.6"/><circle cx="963.9" cy="706.5" r="2.6"/><circle cx="855.4" cy="688.3" r="2.6"/><circle cx="910.7" cy="741.4" r="2.6"/><circle cx="907.2" cy="737.4" r="2.6"/><circle cx="868.8" cy="699.1" r="2.6"/><circle cx="932.9" cy="751.8" r="2.6"/><circle cx="955.4" cy="718.1" r="2.6"/><circle cx="906" cy="736.9" r="2.6"/><circle cx="966.2" cy="705.7" r="2.6"/><circle cx="954.9" cy="717.8" r="2.6"/><circle cx="871.2" cy="703.1" r="2.6"/><circle cx="949.9" cy="723.3" r="2.6"/><circle cx="972.8" cy="705.7" r="2.6"/><circle cx="886.2" cy="713.8" r="2.6"/><circle cx="927.3" cy="762" r="2.6"/><circle cx="935.8" cy="750.2" r="2.6"/><circle cx="929.8" cy="754.6" r="2.6"/><circle cx="866.5" cy="694.5" r="2.6"/><circle cx="935.7" cy="744.2" r="2.6"/><circle cx="932.8" cy="750.3" r="2.6"/><circle cx="960.2" cy="713.6" r="2.6"/><circle cx="957.9" cy="718.4" r="2.6"/><circle cx="908.3" cy="739.5" r="2.6"/><circle cx="944.3" cy="732.7" r="2.6"/><circle cx="967.3" cy="705.2" r="2.6"/><circle cx="974.5" cy="703.8" r="2.6"/><circle cx="880.7" cy="705.5" r="2.6"/><circle cx="849.7" cy="684.4" r="2.6"/><circle cx="934.4" cy="746.3" r="2.6"/><circle cx="889.8" cy="716.8" r="2.6"/><circle cx="925.7" cy="763.7" r="2.6"/><circle cx="985.7" cy="697.1" r="2.6"/><circle cx="915.9" cy="750.2" r="2.6"/><circle cx="897.9" cy="723.2" r="2.6"/><circle cx="922.3" cy="767.4" r="2.6"/><circle cx="934.4" cy="744.6" r="2.6"/><circle cx="866.3" cy="697.1" r="2.6"/><circle cx="915.1" cy="751" r="2.6"/><circle cx="875.6" cy="699.7" r="2.6"/><circle cx="934.9" cy="743.5" r="2.6"/><circle cx="960.3" cy="711.3" r="2.6"/><circle cx="913" cy="751.1" r="2.6"/><circle cx="915.2" cy="748.5" r="2.6"/><circle cx="923.7" cy="768.5" r="2.6"/><circle cx="892.7" cy="714.2" r="2.6"/><circle cx="896.9" cy="722.1" r="2.6"/><circle cx="906.6" cy="741.4" r="2.6"/><circle cx="923" cy="767.4" r="2.6"/><circle cx="862.6" cy="692.9" r="2.6"/><circle cx="952.9" cy="730.1" r="2.6"/><circle cx="926.9" cy="760.7" r="2.6"/><circle cx="902.2" cy="735.2" r="2.6"/><circle cx="860" cy="694.9" r="2.6"/><circle cx="950.7" cy="725.2" r="2.6"/><circle cx="876.1" cy="697.9" r="2.6"/><circle cx="873.8" cy="701.7" r="2.6"/><circle cx="874.3" cy="700" r="2.6"/><circle cx="865.4" cy="688.6" r="2.6"/><circle cx="972.5" cy="695.7" r="2.6"/><circle cx="899.9" cy="727.1" r="2.6"/><circle cx="905.4" cy="735" r="2.6"/><circle cx="963.5" cy="713.8" r="2.6"/><circle cx="931.9" cy="752.9" r="2.6"/><circle cx="886.2" cy="709.9" r="2.6"/><circle cx="921" cy="762.6" r="2.6"/><circle cx="970.5" cy="702.5" r="2.6"/><circle cx="916.2" cy="749" r="2.6"/><circle cx="943.1" cy="735.1" r="2.6"/><circle cx="866.3" cy="695" r="2.6"/><circle cx="942.7" cy="730" r="2.6"/><circle cx="950.3" cy="720.6" r="2.6"/><circle cx="957.8" cy="710.5" r="2.6"/><circle cx="936.4" cy="741.1" r="2.6"/><circle cx="913.9" cy="748.9" r="2.6"/><circle cx="859.3" cy="689.1" r="2.6"/><circle cx="924.9" cy="772.9" r="2.6"/><circle cx="951.8" cy="727.8" r="2.6"/><circle cx="887.2" cy="710.3" r="2.6"/><circle cx="899.5" cy="726.4" r="2.6"/><circle cx="924.4" cy="769.4" r="2.6"/><circle cx="950.5" cy="729.5" r="2.6"/><circle cx="973.8" cy="701.4" r="2.6"/><circle cx="871.8" cy="701" r="2.6"/><circle cx="883.3" cy="711.8" r="2.6"/><circle cx="959.8" cy="721.4" r="2.6"/><circle cx="934" cy="747.7" r="2.6"/><circle cx="941.5" cy="731" r="2.6"/><circle cx="994.2" cy="685.4" r="2.6"/><circle cx="982.9" cy="695.5" r="2.6"/><circle cx="963" cy="709.6" r="2.6"/><circle cx="950.1" cy="720.1" r="2.6"/><circle cx="913.5" cy="755.6" r="2.6"/><circle cx="933.3" cy="748.2" r="2.6"/><circle cx="885.9" cy="709.1" r="2.6"/><circle cx="947.5" cy="723.6" r="2.6"/><circle cx="945.1" cy="722.3" r="2.6"/><circle cx="941.1" cy="730.7" r="2.6"/><circle cx="921.6" cy="764.8" r="2.6"/><circle cx="915.6" cy="750.1" r="2.6"/><circle cx="920.2" cy="759.1" r="2.6"/><circle cx="850.5" cy="686.9" r="2.6"/><circle cx="963.3" cy="709.4" r="2.6"/><circle cx="924.1" cy="768" r="2.6"/><circle cx="918.7" cy="751.1" r="2.6"/><circle cx="925.4" cy="767.1" r="2.6"/><circle cx="943.3" cy="732.1" r="2.6"/><circle cx="915.8" cy="750.9" r="2.6"/><circle cx="958.2" cy="709.1" r="2.6"/><circle cx="977.9" cy="697.1" r="2.6"/><circle cx="918.1" cy="751.4" r="2.6"/><circle cx="873.7" cy="703.8" r="2.6"/><circle cx="949.4" cy="724.9" r="2.6"/></g>
<g fill="#6c1d92" fill-opacity="0.5" stroke="#3c0a5a" stroke-opacity="0.8" stroke-width="0.9"><circle cx="923.6" cy="782.8" r="2.6"/></g>
</g>
<rect x="854.5" y="843.5" width="139.5" height="23" fill="#ffffff" fill-opacity="0.86" stroke="#111" stroke-width="1.8"/>
<text x="924.5" y="859.2" font-size="16" text-anchor="middle" textLength="130" lengthAdjust="spacingAndGlyphs"><tspan font-style="italic">s</tspan> = 1.81 ± 0.02</text>
<rect x="827.0" y="653.0" width="194.0" height="212.0" fill="none" stroke="#000" stroke-width="1.7"/>
<text x="811.2" y="866.2" font-size="16" text-anchor="end" textLength="24" lengthAdjust="spacingAndGlyphs">−2</text>
<text x="811.2" y="813.4" font-size="16" text-anchor="end" textLength="9.2" lengthAdjust="spacingAndGlyphs">0</text>
<text x="811.2" y="760.6" font-size="16" text-anchor="end" textLength="9.2" lengthAdjust="spacingAndGlyphs">2</text>
<text x="811.2" y="707.8" font-size="16" text-anchor="end" textLength="9.2" lengthAdjust="spacingAndGlyphs">4</text>
<text x="870.8" y="892.7" font-size="15.5" text-anchor="middle" textLength="34" lengthAdjust="spacingAndGlyphs">−10</text>
<text x="923.6" y="892.7" font-size="15.5" text-anchor="middle" textLength="9.6" lengthAdjust="spacingAndGlyphs">0</text>
<text x="976.5" y="892.7" font-size="15.5" text-anchor="middle" textLength="18.4" lengthAdjust="spacingAndGlyphs">10</text>
<path d="M819.5 860.2H827M819.5 807.4H827M819.5 754.6H827M819.5 701.8H827M870.8 865V872.5M923.6 865V872.5M976.5 865V872.5" stroke="#000" stroke-width="1.5" fill="none"/>
<text x="924" y="917.7" font-size="17" text-anchor="middle">x</text>
<text transform="translate(775.5 759) rotate(-90)" font-size="17.5" text-anchor="middle">y</text>
<text x="924" y="639.6" font-size="28.5" text-anchor="middle">VAMPNet</text>
<text x="770" y="632.5" font-size="24" font-weight="bold" textLength="24.5" lengthAdjust="spacingAndGlyphs">(i)</text>
<path fill="#817dc7" d="M1037 662.5L1041.8 651.5L1046.5 662.5Z"/>
<path fill="#a16a50" d="M1037 854.5L1041.8 865.7L1046.5 854.5Z"/>
<rect x="1037" y="662" width="9.5" height="14.2" fill="#817dc7"/>
<rect x="1037" y="675.8" width="9.5" height="14.2" fill="#a09cd5"/>
<rect x="1037" y="689.6" width="9.5" height="14.2" fill="#bdbadf"/>
<rect x="1037" y="703.4" width="9.5" height="14.2" fill="#cdcbe8"/>
<rect x="1037" y="717.1" width="9.5" height="14.2" fill="#dcdbee"/>
<rect x="1037" y="730.9" width="9.5" height="14.2" fill="#e8e7f2"/>
<rect x="1037" y="744.7" width="9.5" height="14.2" fill="#f0f0f5"/>
<rect x="1037" y="758.5" width="9.5" height="14.2" fill="#f3f1f0"/>
<rect x="1037" y="772.3" width="9.5" height="14.2" fill="#f0ecea"/>
<rect x="1037" y="786.1" width="9.5" height="14.2" fill="#ece5e3"/>
<rect x="1037" y="799.9" width="9.5" height="14.2" fill="#e6dbd7"/>
<rect x="1037" y="813.6" width="9.5" height="14.2" fill="#d6c1b8"/>
<rect x="1037" y="827.4" width="9.5" height="14.2" fill="#c09d89"/>
<rect x="1037" y="841.2" width="9.5" height="14.2" fill="#ad7b61"/>
<path fill="none" stroke="#000" stroke-width="1.7" stroke-linejoin="miter" d="M1037 662L1041.8 651.5L1046.5 662L1046.5 855L1041.8 865.7L1037 855Z"/>
<text x="1062.5" y="682.4" font-size="17" textLength="34.5" lengthAdjust="spacingAndGlyphs">1.00</text>
<text x="1062.5" y="723.7" font-size="17" textLength="34.5" lengthAdjust="spacingAndGlyphs">0.25</text>
<text x="1062.5" y="765.1" font-size="17" textLength="34.5" lengthAdjust="spacingAndGlyphs">0.00</text>
<text x="1062.5" y="806.5" font-size="17" textLength="41.5" lengthAdjust="spacingAndGlyphs">-0.25</text>
<text x="1062.5" y="847.8" font-size="17" textLength="41.5" lengthAdjust="spacingAndGlyphs">-1.00</text>
<path d="M1046.5 675.8H1054.5M1046.5 717.1H1054.5M1046.5 758.5H1054.5M1046.5 799.9H1054.5M1046.5 841.2H1054.5" stroke="#000" stroke-width="1.5" fill="none"/>
<g clip-path="url(#t00)">
<polyline fill="none" points="119.5,467.6 119.9,469.3 120.4,463.9 120.8,476 121.3,469.5 121.7,465.6 122.2,466.5 122.6,464.3 123,469 123.5,470.9 123.9,462.6 124.4,470.1 124.8,461.4 125.3,469.3 125.7,463.8 126.2,464.3 126.6,466.7 127,463.5 127.5,467.2 127.9,466 128.4,463.7 128.8,467.5 129.3,470.1 129.7,476.1 130.2,483.4 130.6,475.8 131,470.5 131.5,464.7 131.9,463.9 132.4,465.2 132.8,477.2 133.3,469.2 133.7,471.4 134.1,475.3 134.6,473.9 135,466.9 135.5,470.4 135.9,475 136.4,470.5 136.8,467.8 137.2,472.1 137.7,459.1 138.1,463.1 138.6,465.1 139,464.5 139.5,464.4 139.9,464 140.4,464.1 140.8,463 141.2,466.5 141.7,468.9 142.1,468.8 142.6,470.5 143,470.8 143.5,471 143.9,471.4 144.3,488.6 144.8,491.6 145.2,489.6 145.7,486.4 146.1,487.9 146.6,486 147,492.6 147.5,495.7 147.9,490.5 148.3,489.7 148.8,491.1 149.2,495.1 149.7,496.4 150.1,493.4 150.6,496 151,492.8 151.4,496.9 151.9,491.9 152.3,490 152.8,491.8 153.2,493.1 153.7,493.1 154.1,493.4 154.6,491.4 155,490.4 155.4,490.5 155.9,496.6 156.3,491.4 156.8,464.5 157.2,466.7 157.7,463.8 158.1,465.5 158.6,467.9 159,471.1 159.4,468 159.9,463.1 160.3,463.5 160.8,466 161.2,474.6 161.7,474.7 162.1,474.3 162.5,465.8 163,470.1 163.4,472.7 163.9,462.7 164.3,472.2 164.8,469.6 165.2,496.1 165.7,491.9 166.1,495.7 166.5,493.4 167,498.5 167.4,498.1 167.9,496.3 168.3,492 168.8,460.8 169.2,469.2 169.6,469.3 170.1,465.2 170.5,462.2 171,466.4 171.4,467 171.9,473 172.3,469.3 172.8,473.5 173.2,483.6 173.6,475.4 174.1,471.4 174.5,480.6 175,476.3 175.4,468.6 175.9,474.3 176.3,474.5 176.7,471.2 177.2,468.2 177.6,468.4 178.1,464.8 178.5,464.5 179,469.4 179.4,466.2 179.8,463.3 180.3,464.6 180.7,464.9 181.2,494.4 181.6,495.3 182.1,498.8 182.5,488.3 183,488.3 183.4,487 183.8,489 184.3,492.5 184.7,489.4 185.2,488.4 185.6,497.7 186.1,472.2 186.5,471.9 186.9,475.1 187.4,491.7 187.8,490.9 188.3,495.9 188.7,495.7 189.2,495.3 189.6,496.5 190.1,495.7 190.5,489 190.9,488.5 191.4,488.1 191.8,492.2 192.3,491.8 192.7,496.5 193.2,493.2 193.6,493.1 194.1,495.1 194.5,487.6 194.9,482.4 195.4,485.4 195.8,484.9 196.3,491.3 196.7,502.1 197.2,500.6 197.6,497.3 198,495.3 198.5,494.7 198.9,493.6 199.4,493.3 199.8,482.3 200.3,498.9 200.7,506.4 201.1,498 201.6,498.3 202,500.4 202.5,495.3 202.9,494.3 203.4,500.3 203.8,493 204.3,496.6 204.7,504.3 205.1,505.8 205.6,498.3 206,498.4 206.5,492.7 206.9,490.2 207.4,496.3 207.8,499.5 208.2,500.7 208.7,498 209.1,496.3 209.6,491.6 210,485.7 210.5,491.3 210.9,496.2 211.4,504.5 211.8,497.7 212.2,485.6 212.7,494.9 213.1,491.3 213.6,494.3 214,489.7 214.5,488.9 214.9,494.1 215.3,489.9 215.8,487.4 216.2,487.5 216.7,483.7 217.1,487.7 217.6,468.4 218,468 218.5,467.8 218.9,466 219.3,470.5 219.8,463.8 220.2,465.8 220.7,471.6 221.1,470.5 221.6,462.5 222,471.3 222.4,471.4 222.9,471.6 223.3,472.4 223.8,469.4 224.2,472.7 224.7,469.5 225.1,470 225.6,468.7 226,464.5 226.4,464 226.9,464.8 227.3,477 227.8,480.3 228.2,478.2 228.7,477.1 229.1,471.5 229.6,463.7 230,465.3 230.4,466.6 230.9,467 231.3,467 231.8,469.4 232.2,470.2 232.7,472.3 233.1,469.2 233.5,463.3 234,471.2 234.4,491.3 234.9,498.3 235.3,495.2 235.8,500.8 236.2,501.3 236.6,492.1 237.1,488.3 237.5,489.7 238,485.9 238.4,493.3 238.9,500.2 239.3,491.1 239.8,496.6 240.2,510.4 240.6,506.8 241.1,498.2 241.5,471.1 242,466.2 242.4,471.3 242.9,470.9 243.3,474.3 243.8,467.8 244.2,470.3 244.6,462.1 245.1,467 245.5,465.3 246,469.4 246.4,467.4 246.9,467.3 247.3,478.6 247.7,471.9 248.2,466.9 248.6,468.5 249.1,464.9 249.5,467.7 250,464.1 250.4,467.9 250.8,472.1 251.3,476.4 251.7,474.9 252.2,471.1 252.6,468.1 253.1,475.3 253.5,472.2 254,468.8 254.4,464.8 254.8,469.2 255.3,472.4 255.7,472.9 256.2,461 256.6,471.5 257.1,465.2 257.5,467.5 257.9,470.2 258.4,470.3 258.8,466.1 259.3,470.4 259.7,468.9 260.2,470 260.6,472.5 261.1,470.8 261.5,463.1 261.9,469 262.4,466.5 262.8,469.2 263.3,469.4 263.7,471.9 264.2,472.5 264.6,464.2 265,465.2 265.5,467.6 265.9,470.3 266.4,465.7 266.8,469.5 267.3,474.6 267.7,467.6 268.2,464.6 268.6,471.7 269,475.2 269.5,482.5 269.9,472.3 270.4,471.5 270.8,472.5 271.3,474.3 271.7,466 272.1,488.6 272.6,486.9 273,489.8 273.5,495.2 273.9,494.1 274.4,495.2 274.8,491.5 275.3,493.4 275.7,494.7 276.1,494.2 276.6,493.5 277,491.6 277.5,497.7 277.9,494.5 278.4,492.4 278.8,493.3 279.2,494.4 279.7,494.3 280.1,470.8 280.6,466.8 281,463.6 281.5,469.5 281.9,467.3 282.4,473.8 282.8,474.2 283.2,469.8 283.7,476 284.1,479 284.6,476.3 285,473.6 285.5,479.8 285.9,473.7 286.4,476.2 286.8,470.9 287.2,475.2 287.7,467.7 288.1,464 288.6,470.9 289,466.6 289.5,471.2 289.9,472.1 290.3,469.9 290.8,463.5 291.2,469.8 291.7,465.6 292.1,472.4 292.6,470.1 293,468 293.4,461.9 293.9,459.7 294.3,470 294.8,474.7 295.2,472.8 295.7,462.7 296.1,469.4 296.6,473.3 297,471.1" stroke="#1f77b4" stroke-opacity="0.28" stroke-width="3.6" stroke-linejoin="round"/>
<polyline fill="none" points="119.5,462.5 119.9,462.5 120.4,462.5 120.8,462.5 121.3,462.5 121.7,462.5 122.2,462.5 122.6,515.8 123,515.8 123.5,462.5 123.9,462.5 124.4,462.5 124.8,462.5 125.3,462.5 125.7,462.5 126.2,462.5 126.6,462.5 127,462.5 127.5,462.5 127.9,462.5 128.4,515.8 128.8,515.8 129.3,515.8 129.7,515.8 130.2,515.8 130.6,515.8 131,515.8 131.5,515.8 131.9,515.8 132.4,462.5 132.8,462.5 133.3,462.5 133.7,462.5 134.1,462.5 134.6,462.5 135,462.5 135.5,462.5 135.9,462.5 136.4,462.5 136.8,462.5 137.2,515.8 137.7,515.8 138.1,462.5 138.6,462.5 139,462.5 139.5,462.5 139.9,462.5 140.4,462.5 140.8,462.5 141.2,462.5 141.7,462.5 142.1,462.5 142.6,462.5 143,462.5 143.5,462.5 143.9,462.5 144.3,515.8 144.8,515.8 145.2,515.8 145.7,515.8 146.1,515.8 146.6,515.8 147,515.8 147.5,515.8 147.9,515.8 148.3,515.8 148.8,515.8 149.2,515.8 149.7,515.8 150.1,515.8 150.6,515.8 151,515.8 151.4,515.8 151.9,515.8 152.3,462.5 152.8,462.5 153.2,462.5 153.7,515.8 154.1,515.8 154.6,515.8 155,515.8 155.4,515.8 155.9,515.8 156.3,515.8 156.8,462.5 157.2,462.5 157.7,462.5 158.1,462.5 158.6,462.5 159,462.5 159.4,462.5 159.9,462.5 160.3,462.5 160.8,462.5 161.2,462.5 161.7,462.5 162.1,462.5 162.5,462.5 163,462.5 163.4,462.5 163.9,462.5 164.3,462.5 164.8,462.5 165.2,515.8 165.7,515.8 166.1,515.8 166.5,515.8 167,515.8 167.4,515.8 167.9,515.8 168.3,515.8 168.8,515.8 169.2,515.8 169.6,515.8 170.1,515.8 170.5,515.8 171,515.8 171.4,515.8 171.9,515.8 172.3,462.5 172.8,462.5 173.2,462.5 173.6,462.5 174.1,462.5 174.5,462.5 175,462.5 175.4,462.5 175.9,462.5 176.3,462.5 176.7,462.5 177.2,462.5 177.6,462.5 178.1,462.5 178.5,462.5 179,462.5 179.4,462.5 179.8,462.5 180.3,462.5 180.7,462.5 181.2,515.8 181.6,515.8 182.1,515.8 182.5,515.8 183,515.8 183.4,515.8 183.8,515.8 184.3,515.8 184.7,515.8 185.2,515.8 185.6,515.8 186.1,462.5 186.5,462.5 186.9,462.5 187.4,515.8 187.8,515.8 188.3,515.8 188.7,515.8 189.2,515.8 189.6,515.8 190.1,515.8 190.5,515.8 190.9,515.8 191.4,515.8 191.8,515.8 192.3,515.8 192.7,515.8 193.2,515.8 193.6,515.8 194.1,515.8 194.5,515.8 194.9,462.5 195.4,462.5 195.8,515.8 196.3,515.8 196.7,515.8 197.2,515.8 197.6,515.8 198,515.8 198.5,515.8 198.9,515.8 199.4,515.8 199.8,515.8 200.3,515.8 200.7,515.8 201.1,515.8 201.6,515.8 202,515.8 202.5,515.8 202.9,515.8 203.4,515.8 203.8,515.8 204.3,515.8 204.7,515.8 205.1,515.8 205.6,515.8 206,515.8 206.5,515.8 206.9,515.8 207.4,515.8 207.8,515.8 208.2,515.8 208.7,515.8 209.1,515.8 209.6,515.8 210,462.5 210.5,462.5 210.9,515.8 211.4,515.8 211.8,515.8 212.2,515.8 212.7,515.8 213.1,515.8 213.6,515.8 214,515.8 214.5,515.8 214.9,515.8 215.3,515.8 215.8,462.5 216.2,462.5 216.7,462.5 217.1,462.5 217.6,462.5 218,462.5 218.5,462.5 218.9,462.5 219.3,462.5 219.8,462.5 220.2,462.5 220.7,462.5 221.1,462.5 221.6,462.5 222,462.5 222.4,462.5 222.9,462.5 223.3,462.5 223.8,462.5 224.2,462.5 224.7,462.5 225.1,462.5 225.6,462.5 226,515.8 226.4,515.8 226.9,515.8 227.3,462.5 227.8,462.5 228.2,462.5 228.7,515.8 229.1,515.8 229.6,515.8 230,462.5 230.4,462.5 230.9,462.5 231.3,462.5 231.8,515.8 232.2,515.8 232.7,515.8 233.1,462.5 233.5,462.5 234,462.5 234.4,515.8 234.9,515.8 235.3,515.8 235.8,515.8 236.2,515.8 236.6,515.8 237.1,515.8 237.5,515.8 238,515.8 238.4,515.8 238.9,515.8 239.3,515.8 239.8,515.8 240.2,515.8 240.6,515.8 241.1,515.8 241.5,462.5 242,462.5 242.4,462.5 242.9,462.5 243.3,462.5 243.8,462.5 244.2,462.5 244.6,462.5 245.1,462.5 245.5,462.5 246,462.5 246.4,462.5 246.9,462.5 247.3,462.5 247.7,462.5 248.2,462.5 248.6,462.5 249.1,462.5 249.5,462.5 250,462.5 250.4,515.8 250.8,515.8 251.3,515.8 251.7,462.5 252.2,462.5 252.6,462.5 253.1,462.5 253.5,462.5 254,462.5 254.4,462.5 254.8,462.5 255.3,462.5 255.7,462.5 256.2,462.5 256.6,462.5 257.1,462.5 257.5,462.5 257.9,462.5 258.4,462.5 258.8,462.5 259.3,462.5 259.7,462.5 260.2,462.5 260.6,462.5 261.1,462.5 261.5,462.5 261.9,462.5 262.4,462.5 262.8,462.5 263.3,462.5 263.7,462.5 264.2,462.5 264.6,462.5 265,462.5 265.5,462.5 265.9,462.5 266.4,462.5 266.8,462.5 267.3,462.5 267.7,462.5 268.2,462.5 268.6,462.5 269,462.5 269.5,462.5 269.9,462.5 270.4,462.5 270.8,462.5 271.3,462.5 271.7,515.8 272.1,515.8 272.6,515.8 273,515.8 273.5,515.8 273.9,515.8 274.4,515.8 274.8,515.8 275.3,515.8 275.7,515.8 276.1,515.8 276.6,515.8 277,515.8 277.5,515.8 277.9,515.8 278.4,515.8 278.8,515.8 279.2,515.8 279.7,515.8 280.1,462.5 280.6,462.5 281,515.8 281.5,515.8 281.9,515.8 282.4,515.8 282.8,515.8 283.2,515.8 283.7,515.8 284.1,515.8 284.6,515.8 285,462.5 285.5,462.5 285.9,462.5 286.4,462.5 286.8,462.5 287.2,462.5 287.7,462.5 288.1,462.5 288.6,462.5 289,462.5 289.5,462.5 289.9,462.5 290.3,462.5 290.8,462.5 291.2,462.5 291.7,462.5 292.1,462.5 292.6,462.5 293,462.5 293.4,462.5 293.9,462.5 294.3,462.5 294.8,462.5 295.2,462.5 295.7,462.5 296.1,462.5 296.6,462.5 297,462.5" stroke="#1f77b4" stroke-width="3.7" stroke-linejoin="round" stroke-linecap="round"/>
<polyline fill="none" points="119.5,462.5 119.9,462.5 120.4,462.5 120.8,462.5 121.3,462.5 121.7,462.5 122.2,462.5 122.6,462.5 123,462.5 123.5,462.5 123.9,462.5 124.4,462.5 124.8,462.5 125.3,462.5 125.7,462.5 126.2,462.5 126.6,462.5 127,462.5 127.5,462.5 127.9,462.5 128.4,462.5 128.8,462.5 129.3,462.5 129.7,462.5 130.2,462.5 130.6,462.5 131,462.5 131.5,462.5 131.9,462.5 132.4,462.5 132.8,462.5 133.3,462.5 133.7,462.5 134.1,462.5 134.6,462.5 135,462.5 135.5,462.5 135.9,462.5 136.4,462.5 136.8,462.5 137.2,462.5 137.7,462.5 138.1,462.5 138.6,462.5 139,462.5 139.5,462.5 139.9,462.5 140.4,462.5 140.8,462.5 141.2,462.5 141.7,462.5 142.1,462.5 142.6,462.5 143,462.5 143.5,462.5 143.9,462.5 144.3,515.8 144.8,515.8 145.2,515.8 145.7,515.8 146.1,515.8 146.6,515.8 147,515.8 147.5,515.8 147.9,515.8 148.3,515.8 148.8,515.8 149.2,515.8 149.7,515.8 150.1,515.8 150.6,515.8 151,515.8 151.4,515.8 151.9,515.8 152.3,515.8 152.8,515.8 153.2,515.8 153.7,515.8 154.1,515.8 154.6,515.8 155,515.8 155.4,515.8 155.9,515.8 156.3,515.8 156.8,462.5 157.2,462.5 157.7,462.5 158.1,462.5 158.6,462.5 159,462.5 159.4,462.5 159.9,462.5 160.3,462.5 160.8,462.5 161.2,462.5 161.7,462.5 162.1,462.5 162.5,462.5 163,462.5 163.4,462.5 163.9,462.5 164.3,462.5 164.8,462.5 165.2,515.8 165.7,515.8 166.1,515.8 166.5,515.8 167,515.8 167.4,515.8 167.9,515.8 168.3,515.8 168.8,462.5 169.2,462.5 169.6,462.5 170.1,462.5 170.5,462.5 171,462.5 171.4,462.5 171.9,462.5 172.3,462.5 172.8,462.5 173.2,462.5 173.6,462.5 174.1,462.5 174.5,462.5 175,462.5 175.4,462.5 175.9,462.5 176.3,462.5 176.7,462.5 177.2,462.5 177.6,462.5 178.1,462.5 178.5,462.5 179,462.5 179.4,462.5 179.8,462.5 180.3,462.5 180.7,462.5 181.2,515.8 181.6,515.8 182.1,515.8 182.5,515.8 183,515.8 183.4,515.8 183.8,515.8 184.3,515.8 184.7,515.8 185.2,515.8 185.6,515.8 186.1,462.5 186.5,462.5 186.9,462.5 187.4,515.8 187.8,515.8 188.3,515.8 188.7,515.8 189.2,515.8 189.6,515.8 190.1,515.8 190.5,515.8 190.9,515.8 191.4,515.8 191.8,515.8 192.3,515.8 192.7,515.8 193.2,515.8 193.6,515.8 194.1,515.8 194.5,515.8 194.9,515.8 195.4,515.8 195.8,515.8 196.3,515.8 196.7,515.8 197.2,515.8 197.6,515.8 198,515.8 198.5,515.8 198.9,515.8 199.4,515.8 199.8,515.8 200.3,515.8 200.7,515.8 201.1,515.8 201.6,515.8 202,515.8 202.5,515.8 202.9,515.8 203.4,515.8 203.8,515.8 204.3,515.8 204.7,515.8 205.1,515.8 205.6,515.8 206,515.8 206.5,515.8 206.9,515.8 207.4,515.8 207.8,515.8 208.2,515.8 208.7,515.8 209.1,515.8 209.6,515.8 210,515.8 210.5,515.8 210.9,515.8 211.4,515.8 211.8,515.8 212.2,515.8 212.7,515.8 213.1,515.8 213.6,515.8 214,515.8 214.5,515.8 214.9,515.8 215.3,515.8 215.8,515.8 216.2,515.8 216.7,515.8 217.1,515.8 217.6,462.5 218,462.5 218.5,462.5 218.9,462.5 219.3,462.5 219.8,462.5 220.2,462.5 220.7,462.5 221.1,462.5 221.6,462.5 222,462.5 222.4,462.5 222.9,462.5 223.3,462.5 223.8,462.5 224.2,462.5 224.7,462.5 225.1,462.5 225.6,462.5 226,462.5 226.4,462.5 226.9,462.5 227.3,462.5 227.8,462.5 228.2,462.5 228.7,462.5 229.1,462.5 229.6,462.5 230,462.5 230.4,462.5 230.9,462.5 231.3,462.5 231.8,462.5 232.2,462.5 232.7,462.5 233.1,462.5 233.5,462.5 234,462.5 234.4,515.8 234.9,515.8 235.3,515.8 235.8,515.8 236.2,515.8 236.6,515.8 237.1,515.8 237.5,515.8 238,515.8 238.4,515.8 238.9,515.8 239.3,515.8 239.8,515.8 240.2,515.8 240.6,515.8 241.1,515.8 241.5,462.5 242,462.5 242.4,462.5 242.9,462.5 243.3,462.5 243.8,462.5 244.2,462.5 244.6,462.5 245.1,462.5 245.5,462.5 246,462.5 246.4,462.5 246.9,462.5 247.3,462.5 247.7,462.5 248.2,462.5 248.6,462.5 249.1,462.5 249.5,462.5 250,462.5 250.4,462.5 250.8,462.5 251.3,462.5 251.7,462.5 252.2,462.5 252.6,462.5 253.1,462.5 253.5,462.5 254,462.5 254.4,462.5 254.8,462.5 255.3,462.5 255.7,462.5 256.2,462.5 256.6,462.5 257.1,462.5 257.5,462.5 257.9,462.5 258.4,462.5 258.8,462.5 259.3,462.5 259.7,462.5 260.2,462.5 260.6,462.5 261.1,462.5 261.5,462.5 261.9,462.5 262.4,462.5 262.8,462.5 263.3,462.5 263.7,462.5 264.2,462.5 264.6,462.5 265,462.5 265.5,462.5 265.9,462.5 266.4,462.5 266.8,462.5 267.3,462.5 267.7,462.5 268.2,462.5 268.6,462.5 269,462.5 269.5,462.5 269.9,462.5 270.4,462.5 270.8,462.5 271.3,462.5 271.7,462.5 272.1,515.8 272.6,515.8 273,515.8 273.5,515.8 273.9,515.8 274.4,515.8 274.8,515.8 275.3,515.8 275.7,515.8 276.1,515.8 276.6,515.8 277,515.8 277.5,515.8 277.9,515.8 278.4,515.8 278.8,515.8 279.2,515.8 279.7,515.8 280.1,462.5 280.6,462.5 281,462.5 281.5,462.5 281.9,462.5 282.4,462.5 282.8,462.5 283.2,462.5 283.7,462.5 284.1,462.5 284.6,462.5 285,462.5 285.5,462.5 285.9,462.5 286.4,462.5 286.8,462.5 287.2,462.5 287.7,462.5 288.1,462.5 288.6,462.5 289,462.5 289.5,462.5 289.9,462.5 290.3,462.5 290.8,462.5 291.2,462.5 291.7,462.5 292.1,462.5 292.6,462.5 293,462.5 293.4,462.5 293.9,462.5 294.3,462.5 294.8,462.5 295.2,462.5 295.7,462.5 296.1,462.5 296.6,462.5 297,462.5" stroke="#ff7f0e" stroke-width="3.6" stroke-dasharray="3.6 5.0"/>
</g>
<rect x="111.0" y="436.0" width="194.0" height="106.0" fill="none" stroke="#000" stroke-width="1.7"/>
<text x="94.5" y="522" font-size="16" text-anchor="end" textLength="8.4" lengthAdjust="spacingAndGlyphs">0</text>
<text x="94.5" y="468.7" font-size="16" text-anchor="end" textLength="7.5" lengthAdjust="spacingAndGlyphs">1</text>
<text x="119.5" y="569.8" font-size="15.5" text-anchor="middle" textLength="9.4" lengthAdjust="spacingAndGlyphs">0</text>
<text x="208.2" y="569.8" font-size="15.5" text-anchor="middle" textLength="28.2" lengthAdjust="spacingAndGlyphs">100</text>
<text x="297" y="569.8" font-size="15.5" text-anchor="middle" textLength="28.2" lengthAdjust="spacingAndGlyphs">200</text>
<path d="M103.5 515.8H111M103.5 462.5H111M119.5 542V549.5M208.2 542V549.5M297 542V549.5" stroke="#000" stroke-width="1.5" fill="none"/>
<text x="208" y="595.5" font-size="17.5" text-anchor="middle" textLength="93" lengthAdjust="spacingAndGlyphs">time (a.u.)</text>
<g transform="translate(71.4 490.2) rotate(-90)"><path d="M-23 -6.2C-22.4 -8 -20.8 -8.4 -19.9 -7.1L-13.4 2.6C-12.8 3.5 -12 3.8 -11.4 3.4M-11.6 -8L-22.4 3.8" fill="none" stroke="#000" stroke-width="1.3" stroke-linecap="round"/><text x="-9.6" y="0" font-size="19">(</text><text x="-3.2" y="0" font-size="19" font-style="italic" textLength="10.2" lengthAdjust="spacingAndGlyphs">x</text><text x="9.6" y="2" font-size="13.5" font-style="italic">t</text><text x="16.6" y="0" font-size="19">)</text></g>
<text x="208" y="423.3" font-size="28.5" text-anchor="middle">87.6% acc.</text>
<text x="54" y="416.5" font-size="24" font-weight="bold" textLength="32.2" lengthAdjust="spacingAndGlyphs">(d)</text>
<g clip-path="url(#t10)">
<polyline fill="none" points="477.5,456.6 477.9,464.5 478.4,473.6 478.8,474.1 479.3,476.2 479.7,474 480.2,475.6 480.6,466.4 481.1,464.8 481.5,477.9 481.9,465.4 482.4,463.5 482.8,467.8 483.3,466.4 483.7,467.1 484.2,464.6 484.6,457.6 485,460.3 485.5,471.9 485.9,466.6 486.4,466.9 486.8,468.4 487.3,466.7 487.7,472.5 488.1,472.1 488.6,471.1 489,473.3 489.5,479.5 489.9,461.8 490.4,475.3 490.8,468.1 491.3,467.5 491.7,469.8 492.1,462.1 492.6,467.2 493,458.6 493.5,460.4 493.9,472.6 494.4,464.7 494.8,469.4 495.2,444.8 495.7,472.7 496.1,474.7 496.6,477.1 497,473.9 497.5,470.1 497.9,471.9 498.4,476.6 498.8,477 499.2,473 499.7,464.9 500.1,477.3 500.6,470.3 501,471.5 501.5,473.4 501.9,476.2 502.4,530.8 502.8,518.7 503.2,519.6 503.7,522.6 504.1,517.4 504.6,516.8 505,517.9 505.5,516 505.9,523.9 506.3,521.1 506.8,526 507.2,531.7 507.7,530.1 508.1,514.6 508.6,521.1 509,507 509.4,522.2 509.9,515.4 510.3,521.1 510.8,521.1 511.2,521.1 511.7,528.1 512.1,521.6 512.6,517.8 513,518.4 513.4,518 513.9,516.2 514.3,515.7 514.8,464.7 515.2,467.6 515.7,471.3 516.1,470.1 516.5,470.9 517,467.5 517.4,472.2 517.9,473.2 518.3,463.2 518.8,469.7 519.2,468.2 519.7,464.9 520.1,463.5 520.5,477.5 521,472.6 521.4,455.2 521.9,471.9 522.3,470.8 522.8,468.5 523.2,515.2 523.6,526.4 524.1,523.7 524.5,519 525,523.5 525.4,523.6 525.9,526.9 526.3,525.7 526.8,473.3 527.2,465.5 527.6,473.9 528.1,472.2 528.5,471.4 529,461.8 529.4,468.8 529.9,469.1 530.3,468.4 530.8,472 531.2,463.1 531.6,463.3 532.1,473 532.5,463.1 533,464.2 533.4,470.9 533.9,470.4 534.3,471.4 534.7,466.7 535.2,465.9 535.6,474.7 536.1,463.9 536.5,467.7 537,461.5 537.4,463.7 537.9,472 538.3,466 538.7,463.1 539.2,518.4 539.6,521.6 540.1,521.4 540.5,518.1 541,524.1 541.4,513.8 541.8,531.5 542.3,523.2 542.7,528.8 543.2,524.4 543.6,523.2 544.1,469.2 544.5,460.3 545,466.6 545.4,525.3 545.8,516.8 546.3,520 546.7,517 547.2,523.2 547.6,522.8 548.1,522 548.5,525.2 548.9,529.4 549.4,524.8 549.8,525.5 550.3,517.8 550.7,519.8 551.2,520.5 551.6,518.5 552,518.1 552.5,512.9 552.9,508.3 553.4,519.2 553.8,513.6 554.3,510.6 554.7,524.3 555.2,522.6 555.6,531.4 556,523.8 556.5,526.6 556.9,524.8 557.4,525 557.8,523.7 558.3,521.7 558.7,516.1 559.1,518.7 559.6,525.7 560,527.4 560.5,514 560.9,516.2 561.4,526.9 561.8,519.9 562.3,526.4 562.7,526 563.1,520.9 563.6,516.6 564,528.9 564.5,525.8 564.9,516.2 565.4,534.8 565.8,523.6 566.2,514 566.7,521.5 567.1,521.1 567.6,511.9 568,527.6 568.5,523.9 568.9,527.4 569.4,529.9 569.8,528.7 570.2,514.6 570.7,517.8 571.1,524.2 571.6,521.1 572,517.9 572.5,517.3 572.9,510.1 573.4,522.5 573.8,523.4 574.2,523.8 574.7,525.7 575.1,535.9 575.6,462.5 576,468.3 576.5,464 576.9,457.3 577.3,467.6 577.8,474.4 578.2,468.7 578.7,471.9 579.1,469.6 579.6,475.1 580,470.8 580.5,479.4 580.9,476.8 581.3,469.1 581.8,475 582.2,471.7 582.7,470.4 583.1,472.4 583.6,468 584,474.5 584.4,464.5 584.9,458.7 585.3,466.4 585.8,470.3 586.2,468.7 586.7,468.2 587.1,472.1 587.5,467.9 588,463.8 588.4,464.3 588.9,464.7 589.3,472 589.8,469.9 590.2,468.4 590.7,474.9 591.1,472.8 591.5,468.3 592,461.6 592.4,522.7 592.9,523.4 593.3,514.6 593.8,518.7 594.2,526.8 594.6,525 595.1,513.2 595.5,515.5 596,524 596.4,521 596.9,525.4 597.3,520.6 597.8,510.3 598.2,527.3 598.6,526.4 599.1,518.8 599.5,461.5 600,469.5 600.4,467.9 600.9,463.4 601.3,471.4 601.8,475.7 602.2,469.6 602.6,473.6 603.1,469.9 603.5,470.5 604,472.7 604.4,462.3 604.9,474 605.3,467 605.7,463.8 606.2,466.1 606.6,472.8 607.1,468.5 607.5,468 608,471.5 608.4,466.8 608.9,471.7 609.3,474 609.7,469.8 610.2,472.4 610.6,465.3 611.1,462 611.5,476.4 612,469.4 612.4,475.3 612.8,482.5 613.3,465.3 613.7,468.2 614.2,470.6 614.6,473.4 615.1,462.3 615.5,459.1 616,463.8 616.4,462.7 616.8,467.6 617.3,469.7 617.7,476 618.2,472.1 618.6,474.6 619.1,473.2 619.5,469.7 619.9,465.6 620.4,461.1 620.8,455.9 621.3,476.1 621.7,469.1 622.2,466.3 622.6,469.1 623,471 623.5,465.8 623.9,469.8 624.4,473.7 624.8,470.3 625.3,469 625.7,474.6 626.2,460.9 626.6,468.5 627,470.5 627.5,464.2 627.9,470.4 628.4,479.3 628.8,465 629.3,476.9 629.7,473.5 630.1,522.7 630.6,514.3 631,515.4 631.5,521.7 631.9,528.3 632.4,526 632.8,515.4 633.3,511.9 633.7,520.3 634.1,527.8 634.6,521.3 635,526.4 635.5,523.8 635.9,520.1 636.4,516.8 636.8,519.4 637.2,504.4 637.7,512.7 638.1,462.7 638.6,475 639,473.9 639.5,469.2 639.9,471.6 640.4,462.9 640.8,475.8 641.2,475.1 641.7,463 642.1,459 642.6,468.2 643,467.6 643.5,468.3 643.9,469.4 644.4,462.4 644.8,472.2 645.2,462.6 645.7,464.6 646.1,462.6 646.6,461.9 647,465.4 647.5,478.2 647.9,472.8 648.3,472.1 648.8,467.1 649.2,472.6 649.7,468 650.1,467.9 650.6,462.6 651,475.9 651.5,476.4 651.9,452.2 652.3,476.8 652.8,466.8 653.2,471.5 653.7,478.1 654.1,472.8 654.6,474.4 655,467.9" stroke="#1f77b4" stroke-opacity="0.28" stroke-width="3.6" stroke-linejoin="round"/>
<polyline fill="none" points="477.5,462.5 477.9,462.5 478.4,462.5 478.8,462.5 479.3,462.5 479.7,462.5 480.2,462.5 480.6,462.5 481.1,462.5 481.5,462.5 481.9,462.5 482.4,462.5 482.8,462.5 483.3,462.5 483.7,462.5 484.2,462.5 484.6,462.5 485,462.5 485.5,462.5 485.9,462.5 486.4,462.5 486.8,462.5 487.3,462.5 487.7,462.5 488.1,462.5 488.6,462.5 489,462.5 489.5,462.5 489.9,462.5 490.4,462.5 490.8,462.5 491.3,462.5 491.7,462.5 492.1,462.5 492.6,462.5 493,462.5 493.5,462.5 493.9,462.5 494.4,462.5 494.8,462.5 495.2,462.5 495.7,462.5 496.1,462.5 496.6,462.5 497,462.5 497.5,462.5 497.9,462.5 498.4,462.5 498.8,462.5 499.2,462.5 499.7,462.5 500.1,462.5 500.6,462.5 501,462.5 501.5,462.5 501.9,462.5 502.4,515.8 502.8,515.8 503.2,515.8 503.7,515.8 504.1,515.8 504.6,515.8 505,515.8 505.5,515.8 505.9,515.8 506.3,515.8 506.8,515.8 507.2,515.8 507.7,515.8 508.1,515.8 508.6,515.8 509,515.8 509.4,515.8 509.9,515.8 510.3,515.8 510.8,515.8 511.2,515.8 511.7,515.8 512.1,515.8 512.6,515.8 513,515.8 513.4,515.8 513.9,515.8 514.3,515.8 514.8,462.5 515.2,462.5 515.7,462.5 516.1,462.5 516.5,462.5 517,462.5 517.4,462.5 517.9,462.5 518.3,462.5 518.8,462.5 519.2,462.5 519.7,462.5 520.1,462.5 520.5,462.5 521,462.5 521.4,462.5 521.9,462.5 522.3,462.5 522.8,462.5 523.2,515.8 523.6,515.8 524.1,515.8 524.5,515.8 525,515.8 525.4,515.8 525.9,515.8 526.3,515.8 526.8,462.5 527.2,462.5 527.6,462.5 528.1,462.5 528.5,462.5 529,462.5 529.4,462.5 529.9,462.5 530.3,462.5 530.8,462.5 531.2,462.5 531.6,462.5 532.1,462.5 532.5,462.5 533,462.5 533.4,462.5 533.9,462.5 534.3,462.5 534.7,462.5 535.2,462.5 535.6,462.5 536.1,462.5 536.5,462.5 537,462.5 537.4,462.5 537.9,462.5 538.3,462.5 538.7,462.5 539.2,515.8 539.6,515.8 540.1,515.8 540.5,515.8 541,515.8 541.4,515.8 541.8,515.8 542.3,515.8 542.7,515.8 543.2,515.8 543.6,515.8 544.1,462.5 544.5,462.5 545,462.5 545.4,515.8 545.8,515.8 546.3,515.8 546.7,515.8 547.2,515.8 547.6,515.8 548.1,515.8 548.5,515.8 548.9,515.8 549.4,515.8 549.8,515.8 550.3,515.8 550.7,515.8 551.2,462.5 551.6,462.5 552,462.5 552.5,462.5 552.9,462.5 553.4,515.8 553.8,515.8 554.3,515.8 554.7,515.8 555.2,515.8 555.6,515.8 556,515.8 556.5,515.8 556.9,515.8 557.4,515.8 557.8,515.8 558.3,515.8 558.7,515.8 559.1,515.8 559.6,515.8 560,515.8 560.5,515.8 560.9,515.8 561.4,515.8 561.8,515.8 562.3,515.8 562.7,515.8 563.1,515.8 563.6,515.8 564,515.8 564.5,515.8 564.9,515.8 565.4,515.8 565.8,515.8 566.2,515.8 566.7,515.8 567.1,462.5 567.6,462.5 568,462.5 568.5,515.8 568.9,515.8 569.4,515.8 569.8,515.8 570.2,515.8 570.7,515.8 571.1,515.8 571.6,515.8 572,515.8 572.5,515.8 572.9,515.8 573.4,515.8 573.8,515.8 574.2,515.8 574.7,515.8 575.1,515.8 575.6,462.5 576,462.5 576.5,462.5 576.9,462.5 577.3,462.5 577.8,462.5 578.2,462.5 578.7,462.5 579.1,462.5 579.6,462.5 580,462.5 580.5,462.5 580.9,462.5 581.3,462.5 581.8,462.5 582.2,462.5 582.7,462.5 583.1,462.5 583.6,462.5 584,462.5 584.4,462.5 584.9,462.5 585.3,462.5 585.8,462.5 586.2,462.5 586.7,462.5 587.1,462.5 587.5,462.5 588,462.5 588.4,462.5 588.9,462.5 589.3,462.5 589.8,462.5 590.2,462.5 590.7,462.5 591.1,462.5 591.5,462.5 592,462.5 592.4,515.8 592.9,515.8 593.3,515.8 593.8,515.8 594.2,515.8 594.6,515.8 595.1,515.8 595.5,515.8 596,515.8 596.4,515.8 596.9,515.8 597.3,515.8 597.8,515.8 598.2,515.8 598.6,515.8 599.1,515.8 599.5,462.5 600,462.5 600.4,462.5 600.9,462.5 601.3,462.5 601.8,462.5 602.2,462.5 602.6,462.5 603.1,462.5 603.5,462.5 604,462.5 604.4,462.5 604.9,462.5 605.3,462.5 605.7,462.5 606.2,462.5 606.6,462.5 607.1,462.5 607.5,462.5 608,462.5 608.4,462.5 608.9,462.5 609.3,462.5 609.7,462.5 610.2,462.5 610.6,462.5 611.1,462.5 611.5,462.5 612,462.5 612.4,462.5 612.8,462.5 613.3,462.5 613.7,462.5 614.2,462.5 614.6,462.5 615.1,462.5 615.5,462.5 616,462.5 616.4,462.5 616.8,462.5 617.3,462.5 617.7,462.5 618.2,462.5 618.6,462.5 619.1,462.5 619.5,462.5 619.9,462.5 620.4,462.5 620.8,462.5 621.3,462.5 621.7,462.5 622.2,462.5 622.6,462.5 623,462.5 623.5,462.5 623.9,462.5 624.4,462.5 624.8,462.5 625.3,462.5 625.7,462.5 626.2,462.5 626.6,462.5 627,462.5 627.5,462.5 627.9,462.5 628.4,462.5 628.8,462.5 629.3,462.5 629.7,462.5 630.1,515.8 630.6,515.8 631,515.8 631.5,515.8 631.9,515.8 632.4,515.8 632.8,515.8 633.3,515.8 633.7,515.8 634.1,515.8 634.6,515.8 635,515.8 635.5,515.8 635.9,515.8 636.4,515.8 636.8,515.8 637.2,515.8 637.7,515.8 638.1,462.5 638.6,462.5 639,462.5 639.5,462.5 639.9,462.5 640.4,462.5 640.8,462.5 641.2,462.5 641.7,462.5 642.1,462.5 642.6,462.5 643,462.5 643.5,462.5 643.9,462.5 644.4,462.5 644.8,462.5 645.2,462.5 645.7,462.5 646.1,462.5 646.6,462.5 647,462.5 647.5,462.5 647.9,462.5 648.3,462.5 648.8,462.5 649.2,462.5 649.7,462.5 650.1,462.5 650.6,462.5 651,462.5 651.5,462.5 651.9,462.5 652.3,462.5 652.8,462.5 653.2,462.5 653.7,462.5 654.1,462.5 654.6,462.5 655,462.5" stroke="#1f77b4" stroke-width="3.7" stroke-linejoin="round" stroke-linecap="round"/>
<polyline fill="none" points="477.5,462.5 477.9,462.5 478.4,462.5 478.8,462.5 479.3,462.5 479.7,462.5 480.2,462.5 480.6,462.5 481.1,462.5 481.5,462.5 481.9,462.5 482.4,462.5 482.8,462.5 483.3,462.5 483.7,462.5 484.2,462.5 484.6,462.5 485,462.5 485.5,462.5 485.9,462.5 486.4,462.5 486.8,462.5 487.3,462.5 487.7,462.5 488.1,462.5 488.6,462.5 489,462.5 489.5,462.5 489.9,462.5 490.4,462.5 490.8,462.5 491.3,462.5 491.7,462.5 492.1,462.5 492.6,462.5 493,462.5 493.5,462.5 493.9,462.5 494.4,462.5 494.8,462.5 495.2,462.5 495.7,462.5 496.1,462.5 496.6,462.5 497,462.5 497.5,462.5 497.9,462.5 498.4,462.5 498.8,462.5 499.2,462.5 499.7,462.5 500.1,462.5 500.6,462.5 501,462.5 501.5,462.5 501.9,462.5 502.4,515.8 502.8,515.8 503.2,515.8 503.7,515.8 504.1,515.8 504.6,515.8 505,515.8 505.5,515.8 505.9,515.8 506.3,515.8 506.8,515.8 507.2,515.8 507.7,515.8 508.1,515.8 508.6,515.8 509,515.8 509.4,515.8 509.9,515.8 510.3,515.8 510.8,515.8 511.2,515.8 511.7,515.8 512.1,515.8 512.6,515.8 513,515.8 513.4,515.8 513.9,515.8 514.3,515.8 514.8,462.5 515.2,462.5 515.7,462.5 516.1,462.5 516.5,462.5 517,462.5 517.4,462.5 517.9,462.5 518.3,462.5 518.8,462.5 519.2,462.5 519.7,462.5 520.1,462.5 520.5,462.5 521,462.5 521.4,462.5 521.9,462.5 522.3,462.5 522.8,462.5 523.2,515.8 523.6,515.8 524.1,515.8 524.5,515.8 525,515.8 525.4,515.8 525.9,515.8 526.3,515.8 526.8,462.5 527.2,462.5 527.6,462.5 528.1,462.5 528.5,462.5 529,462.5 529.4,462.5 529.9,462.5 530.3,462.5 530.8,462.5 531.2,462.5 531.6,462.5 532.1,462.5 532.5,462.5 533,462.5 533.4,462.5 533.9,462.5 534.3,462.5 534.7,462.5 535.2,462.5 535.6,462.5 536.1,462.5 536.5,462.5 537,462.5 537.4,462.5 537.9,462.5 538.3,462.5 538.7,462.5 539.2,515.8 539.6,515.8 540.1,515.8 540.5,515.8 541,515.8 541.4,515.8 541.8,515.8 542.3,515.8 542.7,515.8 543.2,515.8 543.6,515.8 544.1,462.5 544.5,462.5 545,462.5 545.4,515.8 545.8,515.8 546.3,515.8 546.7,515.8 547.2,515.8 547.6,515.8 548.1,515.8 548.5,515.8 548.9,515.8 549.4,515.8 549.8,515.8 550.3,515.8 550.7,515.8 551.2,515.8 551.6,515.8 552,515.8 552.5,515.8 552.9,515.8 553.4,515.8 553.8,515.8 554.3,515.8 554.7,515.8 555.2,515.8 555.6,515.8 556,515.8 556.5,515.8 556.9,515.8 557.4,515.8 557.8,515.8 558.3,515.8 558.7,515.8 559.1,515.8 559.6,515.8 560,515.8 560.5,515.8 560.9,515.8 561.4,515.8 561.8,515.8 562.3,515.8 562.7,515.8 563.1,515.8 563.6,515.8 564,515.8 564.5,515.8 564.9,515.8 565.4,515.8 565.8,515.8 566.2,515.8 566.7,515.8 567.1,515.8 567.6,515.8 568,515.8 568.5,515.8 568.9,515.8 569.4,515.8 569.8,515.8 570.2,515.8 570.7,515.8 571.1,515.8 571.6,515.8 572,515.8 572.5,515.8 572.9,515.8 573.4,515.8 573.8,515.8 574.2,515.8 574.7,515.8 575.1,515.8 575.6,462.5 576,462.5 576.5,462.5 576.9,462.5 577.3,462.5 577.8,462.5 578.2,462.5 578.7,462.5 579.1,462.5 579.6,462.5 580,462.5 580.5,462.5 580.9,462.5 581.3,462.5 581.8,462.5 582.2,462.5 582.7,462.5 583.1,462.5 583.6,462.5 584,462.5 584.4,462.5 584.9,462.5 585.3,462.5 585.8,462.5 586.2,462.5 586.7,462.5 587.1,462.5 587.5,462.5 588,462.5 588.4,462.5 588.9,462.5 589.3,462.5 589.8,462.5 590.2,462.5 590.7,462.5 591.1,462.5 591.5,462.5 592,462.5 592.4,515.8 592.9,515.8 593.3,515.8 593.8,515.8 594.2,515.8 594.6,515.8 595.1,515.8 595.5,515.8 596,515.8 596.4,515.8 596.9,515.8 597.3,515.8 597.8,515.8 598.2,515.8 598.6,515.8 599.1,515.8 599.5,462.5 600,462.5 600.4,462.5 600.9,462.5 601.3,462.5 601.8,462.5 602.2,462.5 602.6,462.5 603.1,462.5 603.5,462.5 604,462.5 604.4,462.5 604.9,462.5 605.3,462.5 605.7,462.5 606.2,462.5 606.6,462.5 607.1,462.5 607.5,462.5 608,462.5 608.4,462.5 608.9,462.5 609.3,462.5 609.7,462.5 610.2,462.5 610.6,462.5 611.1,462.5 611.5,462.5 612,462.5 612.4,462.5 612.8,462.5 613.3,462.5 613.7,462.5 614.2,462.5 614.6,462.5 615.1,462.5 615.5,462.5 616,462.5 616.4,462.5 616.8,462.5 617.3,462.5 617.7,462.5 618.2,462.5 618.6,462.5 619.1,462.5 619.5,462.5 619.9,462.5 620.4,462.5 620.8,462.5 621.3,462.5 621.7,462.5 622.2,462.5 622.6,462.5 623,462.5 623.5,462.5 623.9,462.5 624.4,462.5 624.8,462.5 625.3,462.5 625.7,462.5 626.2,462.5 626.6,462.5 627,462.5 627.5,462.5 627.9,462.5 628.4,462.5 628.8,462.5 629.3,462.5 629.7,462.5 630.1,515.8 630.6,515.8 631,515.8 631.5,515.8 631.9,515.8 632.4,515.8 632.8,515.8 633.3,515.8 633.7,515.8 634.1,515.8 634.6,515.8 635,515.8 635.5,515.8 635.9,515.8 636.4,515.8 636.8,515.8 637.2,515.8 637.7,515.8 638.1,462.5 638.6,462.5 639,462.5 639.5,462.5 639.9,462.5 640.4,462.5 640.8,462.5 641.2,462.5 641.7,462.5 642.1,462.5 642.6,462.5 643,462.5 643.5,462.5 643.9,462.5 644.4,462.5 644.8,462.5 645.2,462.5 645.7,462.5 646.1,462.5 646.6,462.5 647,462.5 647.5,462.5 647.9,462.5 648.3,462.5 648.8,462.5 649.2,462.5 649.7,462.5 650.1,462.5 650.6,462.5 651,462.5 651.5,462.5 651.9,462.5 652.3,462.5 652.8,462.5 653.2,462.5 653.7,462.5 654.1,462.5 654.6,462.5 655,462.5" stroke="#ff7f0e" stroke-width="3.6" stroke-dasharray="3.6 5.0"/>
</g>
<rect x="469.0" y="436.0" width="194.0" height="106.0" fill="none" stroke="#000" stroke-width="1.7"/>
<text x="452.5" y="522" font-size="16" text-anchor="end" textLength="8.4" lengthAdjust="spacingAndGlyphs">0</text>
<text x="452.5" y="468.7" font-size="16" text-anchor="end" textLength="7.5" lengthAdjust="spacingAndGlyphs">1</text>
<text x="477.5" y="569.8" font-size="15.5" text-anchor="middle" textLength="9.4" lengthAdjust="spacingAndGlyphs">0</text>
<text x="566.2" y="569.8" font-size="15.5" text-anchor="middle" textLength="28.2" lengthAdjust="spacingAndGlyphs">100</text>
<text x="655" y="569.8" font-size="15.5" text-anchor="middle" textLength="28.2" lengthAdjust="spacingAndGlyphs">200</text>
<path d="M461.5 515.8H469M461.5 462.5H469M477.5 542V549.5M566.2 542V549.5M655 542V549.5" stroke="#000" stroke-width="1.5" fill="none"/>
<text x="566" y="595.5" font-size="17.5" text-anchor="middle" textLength="93" lengthAdjust="spacingAndGlyphs">time (a.u.)</text>
<g transform="translate(429.4 490.2) rotate(-90)"><path d="M-23 -6.2C-22.4 -8 -20.8 -8.4 -19.9 -7.1L-13.4 2.6C-12.8 3.5 -12 3.8 -11.4 3.4M-11.6 -8L-22.4 3.8" fill="none" stroke="#000" stroke-width="1.3" stroke-linecap="round"/><text x="-9.6" y="0" font-size="19">(</text><text x="-3.2" y="0" font-size="19" font-style="italic" textLength="10.2" lengthAdjust="spacingAndGlyphs">x</text><text x="9.6" y="2" font-size="13.5" font-style="italic">t</text><text x="16.6" y="0" font-size="19">)</text></g>
<text x="566" y="423.3" font-size="28.5" text-anchor="middle">97.6% acc.</text>
<text x="412" y="416.5" font-size="24" font-weight="bold" textLength="29.2" lengthAdjust="spacingAndGlyphs">(e)</text>
<g clip-path="url(#t20)">
<polyline fill="none" points="835.5,468.8 835.9,468 836.4,465.7 836.8,465.1 837.3,462.6 837.7,463.7 838.2,465.6 838.6,464.8 839,466.2 839.5,469.1 839.9,465.5 840.4,464.5 840.8,462.4 841.3,464.7 841.7,463.3 842.2,463.4 842.6,463.2 843,463.2 843.5,465.1 843.9,463.3 844.4,463.4 844.8,465.3 845.3,466 845.7,464.3 846.1,462.7 846.6,464.1 847,466.8 847.5,465 847.9,463.9 848.4,464.3 848.8,466.5 849.3,466.1 849.7,464.8 850.1,465.7 850.6,464.5 851,466.4 851.5,468.8 851.9,469.1 852.4,465.9 852.8,468.7 853.2,464.6 853.7,466.2 854.1,466.3 854.6,464.3 855,464 855.5,464.8 855.9,466.3 856.4,464.9 856.8,464.7 857.2,465 857.7,463.7 858.1,465.7 858.6,465.5 859,464.9 859.5,462.9 859.9,463.3 860.4,517.9 860.8,521.3 861.2,520 861.7,517.9 862.1,519.7 862.6,517.4 863,517.5 863.5,520.7 863.9,521.2 864.3,520.1 864.8,512.3 865.2,517.8 865.7,521.4 866.1,519 866.6,519.8 867,518.4 867.5,520.4 867.9,520.9 868.3,517.7 868.8,521 869.2,519.6 869.7,517.3 870.1,519.4 870.6,520 871,520.1 871.4,520.9 871.9,520.4 872.3,518.3 872.8,464.8 873.2,466.1 873.7,465.6 874.1,466.1 874.5,467.3 875,466.2 875.4,464.9 875.9,462 876.3,462.3 876.8,464.2 877.2,465.8 877.7,465.5 878.1,464.5 878.5,466.8 879,464.3 879.4,463.8 879.9,461.8 880.3,463.5 880.8,463.4 881.2,517.9 881.6,516.3 882.1,516.7 882.5,516.9 883,516.7 883.4,519.5 883.9,521.9 884.3,522.3 884.8,468.3 885.2,466 885.6,466 886.1,464.4 886.5,466.4 887,467.6 887.4,469.1 887.9,467.5 888.3,466.9 888.8,465.7 889.2,465 889.6,464.5 890.1,466.6 890.5,466.6 891,464 891.4,463.9 891.9,464.9 892.3,466.1 892.7,467.8 893.2,467.1 893.6,466.2 894.1,464.3 894.5,465.6 895,468 895.4,464.2 895.9,462.3 896.3,464.4 896.7,464.1 897.2,518.1 897.6,517.8 898.1,521.4 898.5,519.3 899,519.5 899.4,516.8 899.8,519.6 900.3,520.2 900.7,518.9 901.2,516.9 901.6,517.8 902.1,463.6 902.5,463.7 903,466.1 903.4,517.8 903.8,517.5 904.3,517.1 904.7,516.5 905.2,519.1 905.6,518.1 906.1,516.1 906.5,517 906.9,519.8 907.4,520.7 907.8,519.1 908.3,518.2 908.7,522 909.2,522.3 909.6,519.1 910,518.5 910.5,517 910.9,517.6 911.4,519 911.8,518.4 912.3,519.1 912.7,518.6 913.2,518.4 913.6,515.6 914,515.1 914.5,520.3 914.9,523.6 915.4,522.1 915.8,520.4 916.3,517.1 916.7,515.5 917.1,517.9 917.6,518.7 918,516.5 918.5,518.2 918.9,516.5 919.4,519.6 919.8,518.6 920.3,518.2 920.7,518 921.1,517.9 921.6,520.1 922,518.4 922.5,518.1 922.9,517.6 923.4,516.3 923.8,518.9 924.2,520.4 924.7,518.7 925.1,517 925.6,517.1 926,520.6 926.5,519.1 926.9,520 927.4,518.9 927.8,518.9 928.2,517.7 928.7,517 929.1,519.6 929.6,516.4 930,515.5 930.5,516.3 930.9,515.6 931.4,513.6 931.8,515.7 932.2,518.6 932.7,518.9 933.1,520.2 933.6,465 934,468.4 934.5,466.1 934.9,468.4 935.3,467.3 935.8,464.9 936.2,462.9 936.7,465.4 937.1,465.7 937.6,464.9 938,465 938.5,465.1 938.9,461.7 939.3,463.7 939.8,466 940.2,463.9 940.7,466.4 941.1,464.9 941.6,465.4 942,463.3 942.4,466.6 942.9,467.4 943.3,464.3 943.8,465.1 944.2,464.9 944.7,465.9 945.1,466.5 945.5,466.6 946,464.6 946.4,459.2 946.9,466.1 947.3,468 947.8,466.4 948.2,464.7 948.7,464.3 949.1,463.1 949.5,465.8 950,465.7 950.4,517.7 950.9,517.3 951.3,519.8 951.8,518.9 952.2,520.6 952.6,519.4 953.1,518.4 953.5,517.6 954,517.2 954.4,518.2 954.9,517.4 955.3,518.6 955.8,516.3 956.2,518.5 956.6,518.1 957.1,515 957.5,463.1 958,463.5 958.4,466.7 958.9,465.1 959.3,461.6 959.8,462.1 960.2,467.2 960.6,467.3 961.1,467.5 961.5,466 962,465.6 962.4,466.6 962.9,466 963.3,465.7 963.7,464.4 964.2,465.2 964.6,466.1 965.1,467 965.5,468.9 966,465 966.4,465.4 966.9,464.6 967.3,464.8 967.7,469.6 968.2,465.9 968.6,464.6 969.1,465.7 969.5,465 970,464.5 970.4,467.6 970.8,467.3 971.3,465.9 971.7,465 972.2,466.4 972.6,467.9 973.1,465.7 973.5,464.7 974,465.9 974.4,467.8 974.8,462.7 975.3,467.5 975.7,464.7 976.2,462 976.6,464.3 977.1,463.7 977.5,465.2 977.9,463.3 978.4,468.1 978.8,466.8 979.3,465.8 979.7,467 980.2,465 980.6,466.3 981,466.8 981.5,468.9 981.9,468 982.4,464.8 982.8,463.9 983.3,464.8 983.7,465.7 984.2,466.5 984.6,468.2 985,468.8 985.5,467.6 985.9,465.3 986.4,466.5 986.8,467.1 987.3,465.8 987.7,468.6 988.1,519.4 988.6,516.9 989,519.9 989.5,517.4 989.9,517.8 990.4,517.3 990.8,519.8 991.3,519 991.7,518.8 992.1,519.4 992.6,519.3 993,519.1 993.5,517.8 993.9,518.4 994.4,517.7 994.8,517.7 995.2,519.3 995.7,518.6 996.1,463.2 996.6,465.2 997,468.7 997.5,466.2 997.9,467.3 998.4,466.5 998.8,466.9 999.2,467 999.7,465.1 1000.1,462.3 1000.6,465.7 1001,466.2 1001.5,465 1001.9,465 1002.4,467.8 1002.8,466.6 1003.2,464.2 1003.7,463.2 1004.1,463.2 1004.6,465.6 1005,466.4 1005.5,463.4 1005.9,464.1 1006.3,467.5 1006.8,466.1 1007.2,465.3 1007.7,464.6 1008.1,466.2 1008.6,466.1 1009,464.2 1009.5,463.9 1009.9,464.2 1010.3,466.2 1010.8,467.7 1011.2,466.7 1011.7,467.8 1012.1,464.3 1012.6,464 1013,465.2" stroke="#1f77b4" stroke-opacity="0.28" stroke-width="3.6" stroke-linejoin="round"/>
<polyline fill="none" points="835.5,462.5 835.9,462.5 836.4,462.5 836.8,462.5 837.3,462.5 837.7,462.5 838.2,462.5 838.6,462.5 839,462.5 839.5,462.5 839.9,462.5 840.4,462.5 840.8,462.5 841.3,462.5 841.7,462.5 842.2,462.5 842.6,462.5 843,462.5 843.5,462.5 843.9,462.5 844.4,462.5 844.8,462.5 845.3,462.5 845.7,462.5 846.1,462.5 846.6,462.5 847,462.5 847.5,462.5 847.9,462.5 848.4,462.5 848.8,462.5 849.3,462.5 849.7,462.5 850.1,462.5 850.6,462.5 851,462.5 851.5,462.5 851.9,462.5 852.4,462.5 852.8,462.5 853.2,462.5 853.7,462.5 854.1,462.5 854.6,462.5 855,462.5 855.5,462.5 855.9,462.5 856.4,462.5 856.8,462.5 857.2,462.5 857.7,462.5 858.1,462.5 858.6,462.5 859,462.5 859.5,462.5 859.9,462.5 860.4,515.8 860.8,515.8 861.2,515.8 861.7,515.8 862.1,515.8 862.6,515.8 863,515.8 863.5,515.8 863.9,515.8 864.3,515.8 864.8,515.8 865.2,515.8 865.7,515.8 866.1,515.8 866.6,515.8 867,515.8 867.5,515.8 867.9,515.8 868.3,515.8 868.8,515.8 869.2,515.8 869.7,515.8 870.1,515.8 870.6,515.8 871,515.8 871.4,515.8 871.9,515.8 872.3,515.8 872.8,462.5 873.2,462.5 873.7,462.5 874.1,462.5 874.5,462.5 875,462.5 875.4,462.5 875.9,462.5 876.3,462.5 876.8,462.5 877.2,462.5 877.7,462.5 878.1,462.5 878.5,462.5 879,462.5 879.4,462.5 879.9,462.5 880.3,462.5 880.8,462.5 881.2,515.8 881.6,515.8 882.1,515.8 882.5,515.8 883,515.8 883.4,515.8 883.9,515.8 884.3,515.8 884.8,462.5 885.2,462.5 885.6,462.5 886.1,462.5 886.5,462.5 887,462.5 887.4,462.5 887.9,462.5 888.3,462.5 888.8,462.5 889.2,462.5 889.6,462.5 890.1,462.5 890.5,462.5 891,462.5 891.4,462.5 891.9,462.5 892.3,462.5 892.7,462.5 893.2,462.5 893.6,462.5 894.1,462.5 894.5,462.5 895,462.5 895.4,462.5 895.9,462.5 896.3,462.5 896.7,462.5 897.2,515.8 897.6,515.8 898.1,515.8 898.5,515.8 899,515.8 899.4,515.8 899.8,515.8 900.3,515.8 900.7,515.8 901.2,515.8 901.6,515.8 902.1,462.5 902.5,462.5 903,462.5 903.4,515.8 903.8,515.8 904.3,515.8 904.7,515.8 905.2,515.8 905.6,515.8 906.1,515.8 906.5,515.8 906.9,515.8 907.4,515.8 907.8,515.8 908.3,515.8 908.7,515.8 909.2,515.8 909.6,515.8 910,515.8 910.5,515.8 910.9,515.8 911.4,515.8 911.8,515.8 912.3,515.8 912.7,515.8 913.2,515.8 913.6,515.8 914,515.8 914.5,515.8 914.9,515.8 915.4,515.8 915.8,515.8 916.3,515.8 916.7,515.8 917.1,515.8 917.6,515.8 918,515.8 918.5,515.8 918.9,515.8 919.4,515.8 919.8,515.8 920.3,515.8 920.7,515.8 921.1,515.8 921.6,515.8 922,515.8 922.5,515.8 922.9,515.8 923.4,515.8 923.8,515.8 924.2,515.8 924.7,515.8 925.1,515.8 925.6,515.8 926,515.8 926.5,515.8 926.9,515.8 927.4,515.8 927.8,515.8 928.2,515.8 928.7,515.8 929.1,515.8 929.6,515.8 930,515.8 930.5,515.8 930.9,515.8 931.4,515.8 931.8,515.8 932.2,515.8 932.7,515.8 933.1,515.8 933.6,462.5 934,462.5 934.5,462.5 934.9,462.5 935.3,462.5 935.8,462.5 936.2,462.5 936.7,462.5 937.1,462.5 937.6,462.5 938,462.5 938.5,462.5 938.9,462.5 939.3,462.5 939.8,462.5 940.2,462.5 940.7,462.5 941.1,462.5 941.6,462.5 942,462.5 942.4,462.5 942.9,462.5 943.3,462.5 943.8,462.5 944.2,462.5 944.7,462.5 945.1,462.5 945.5,462.5 946,462.5 946.4,462.5 946.9,462.5 947.3,462.5 947.8,462.5 948.2,462.5 948.7,462.5 949.1,462.5 949.5,462.5 950,462.5 950.4,515.8 950.9,515.8 951.3,515.8 951.8,515.8 952.2,515.8 952.6,515.8 953.1,515.8 953.5,515.8 954,515.8 954.4,515.8 954.9,515.8 955.3,515.8 955.8,515.8 956.2,515.8 956.6,515.8 957.1,515.8 957.5,462.5 958,462.5 958.4,462.5 958.9,462.5 959.3,462.5 959.8,462.5 960.2,462.5 960.6,462.5 961.1,462.5 961.5,462.5 962,462.5 962.4,462.5 962.9,462.5 963.3,462.5 963.7,462.5 964.2,462.5 964.6,462.5 965.1,462.5 965.5,462.5 966,462.5 966.4,462.5 966.9,462.5 967.3,462.5 967.7,462.5 968.2,462.5 968.6,462.5 969.1,462.5 969.5,462.5 970,462.5 970.4,462.5 970.8,462.5 971.3,462.5 971.7,462.5 972.2,462.5 972.6,462.5 973.1,462.5 973.5,462.5 974,462.5 974.4,462.5 974.8,462.5 975.3,462.5 975.7,462.5 976.2,462.5 976.6,462.5 977.1,462.5 977.5,462.5 977.9,462.5 978.4,462.5 978.8,462.5 979.3,462.5 979.7,462.5 980.2,462.5 980.6,462.5 981,462.5 981.5,462.5 981.9,462.5 982.4,462.5 982.8,462.5 983.3,462.5 983.7,462.5 984.2,462.5 984.6,462.5 985,462.5 985.5,462.5 985.9,462.5 986.4,462.5 986.8,462.5 987.3,462.5 987.7,462.5 988.1,515.8 988.6,515.8 989,515.8 989.5,515.8 989.9,515.8 990.4,515.8 990.8,515.8 991.3,515.8 991.7,515.8 992.1,515.8 992.6,515.8 993,515.8 993.5,515.8 993.9,515.8 994.4,515.8 994.8,515.8 995.2,515.8 995.7,515.8 996.1,462.5 996.6,462.5 997,462.5 997.5,462.5 997.9,462.5 998.4,462.5 998.8,462.5 999.2,462.5 999.7,462.5 1000.1,462.5 1000.6,462.5 1001,462.5 1001.5,462.5 1001.9,462.5 1002.4,462.5 1002.8,462.5 1003.2,462.5 1003.7,462.5 1004.1,462.5 1004.6,462.5 1005,462.5 1005.5,462.5 1005.9,462.5 1006.3,462.5 1006.8,462.5 1007.2,462.5 1007.7,462.5 1008.1,462.5 1008.6,462.5 1009,462.5 1009.5,462.5 1009.9,462.5 1010.3,462.5 1010.8,462.5 1011.2,462.5 1011.7,462.5 1012.1,462.5 1012.6,462.5 1013,462.5" stroke="#1f77b4" stroke-width="3.7" stroke-linejoin="round" stroke-linecap="round"/>
<polyline fill="none" points="835.5,462.5 835.9,462.5 836.4,462.5 836.8,462.5 837.3,462.5 837.7,462.5 838.2,462.5 838.6,462.5 839,462.5 839.5,462.5 839.9,462.5 840.4,462.5 840.8,462.5 841.3,462.5 841.7,462.5 842.2,462.5 842.6,462.5 843,462.5 843.5,462.5 843.9,462.5 844.4,462.5 844.8,462.5 845.3,462.5 845.7,462.5 846.1,462.5 846.6,462.5 847,462.5 847.5,462.5 847.9,462.5 848.4,462.5 848.8,462.5 849.3,462.5 849.7,462.5 850.1,462.5 850.6,462.5 851,462.5 851.5,462.5 851.9,462.5 852.4,462.5 852.8,462.5 853.2,462.5 853.7,462.5 854.1,462.5 854.6,462.5 855,462.5 855.5,462.5 855.9,462.5 856.4,462.5 856.8,462.5 857.2,462.5 857.7,462.5 858.1,462.5 858.6,462.5 859,462.5 859.5,462.5 859.9,462.5 860.4,515.8 860.8,515.8 861.2,515.8 861.7,515.8 862.1,515.8 862.6,515.8 863,515.8 863.5,515.8 863.9,515.8 864.3,515.8 864.8,515.8 865.2,515.8 865.7,515.8 866.1,515.8 866.6,515.8 867,515.8 867.5,515.8 867.9,515.8 868.3,515.8 868.8,515.8 869.2,515.8 869.7,515.8 870.1,515.8 870.6,515.8 871,515.8 871.4,515.8 871.9,515.8 872.3,515.8 872.8,462.5 873.2,462.5 873.7,462.5 874.1,462.5 874.5,462.5 875,462.5 875.4,462.5 875.9,462.5 876.3,462.5 876.8,462.5 877.2,462.5 877.7,462.5 878.1,462.5 878.5,462.5 879,462.5 879.4,462.5 879.9,462.5 880.3,462.5 880.8,462.5 881.2,515.8 881.6,515.8 882.1,515.8 882.5,515.8 883,515.8 883.4,515.8 883.9,515.8 884.3,515.8 884.8,462.5 885.2,462.5 885.6,462.5 886.1,462.5 886.5,462.5 887,462.5 887.4,462.5 887.9,462.5 888.3,462.5 888.8,462.5 889.2,462.5 889.6,462.5 890.1,462.5 890.5,462.5 891,462.5 891.4,462.5 891.9,462.5 892.3,462.5 892.7,462.5 893.2,462.5 893.6,462.5 894.1,462.5 894.5,462.5 895,462.5 895.4,462.5 895.9,462.5 896.3,462.5 896.7,462.5 897.2,515.8 897.6,515.8 898.1,515.8 898.5,515.8 899,515.8 899.4,515.8 899.8,515.8 900.3,515.8 900.7,515.8 901.2,515.8 901.6,515.8 902.1,462.5 902.5,462.5 903,462.5 903.4,515.8 903.8,515.8 904.3,515.8 904.7,515.8 905.2,515.8 905.6,515.8 906.1,515.8 906.5,515.8 906.9,515.8 907.4,515.8 907.8,515.8 908.3,515.8 908.7,515.8 909.2,515.8 909.6,515.8 910,515.8 910.5,515.8 910.9,515.8 911.4,515.8 911.8,515.8 912.3,515.8 912.7,515.8 913.2,515.8 913.6,515.8 914,515.8 914.5,515.8 914.9,515.8 915.4,515.8 915.8,515.8 916.3,515.8 916.7,515.8 917.1,515.8 917.6,515.8 918,515.8 918.5,515.8 918.9,515.8 919.4,515.8 919.8,515.8 920.3,515.8 920.7,515.8 921.1,515.8 921.6,515.8 922,515.8 922.5,515.8 922.9,515.8 923.4,515.8 923.8,515.8 924.2,515.8 924.7,515.8 925.1,515.8 925.6,515.8 926,515.8 926.5,515.8 926.9,515.8 927.4,515.8 927.8,515.8 928.2,515.8 928.7,515.8 929.1,515.8 929.6,515.8 930,515.8 930.5,515.8 930.9,515.8 931.4,515.8 931.8,515.8 932.2,515.8 932.7,515.8 933.1,515.8 933.6,462.5 934,462.5 934.5,462.5 934.9,462.5 935.3,462.5 935.8,462.5 936.2,462.5 936.7,462.5 937.1,462.5 937.6,462.5 938,462.5 938.5,462.5 938.9,462.5 939.3,462.5 939.8,462.5 940.2,462.5 940.7,462.5 941.1,462.5 941.6,462.5 942,462.5 942.4,462.5 942.9,462.5 943.3,462.5 943.8,462.5 944.2,462.5 944.7,462.5 945.1,462.5 945.5,462.5 946,462.5 946.4,462.5 946.9,462.5 947.3,462.5 947.8,462.5 948.2,462.5 948.7,462.5 949.1,462.5 949.5,462.5 950,462.5 950.4,515.8 950.9,515.8 951.3,515.8 951.8,515.8 952.2,515.8 952.6,515.8 953.1,515.8 953.5,515.8 954,515.8 954.4,515.8 954.9,515.8 955.3,515.8 955.8,515.8 956.2,515.8 956.6,515.8 957.1,515.8 957.5,462.5 958,462.5 958.4,462.5 958.9,462.5 959.3,462.5 959.8,462.5 960.2,462.5 960.6,462.5 961.1,462.5 961.5,462.5 962,462.5 962.4,462.5 962.9,462.5 963.3,462.5 963.7,462.5 964.2,462.5 964.6,462.5 965.1,462.5 965.5,462.5 966,462.5 966.4,462.5 966.9,462.5 967.3,462.5 967.7,462.5 968.2,462.5 968.6,462.5 969.1,462.5 969.5,462.5 970,462.5 970.4,462.5 970.8,462.5 971.3,462.5 971.7,462.5 972.2,462.5 972.6,462.5 973.1,462.5 973.5,462.5 974,462.5 974.4,462.5 974.8,462.5 975.3,462.5 975.7,462.5 976.2,462.5 976.6,462.5 977.1,462.5 977.5,462.5 977.9,462.5 978.4,462.5 978.8,462.5 979.3,462.5 979.7,462.5 980.2,462.5 980.6,462.5 981,462.5 981.5,462.5 981.9,462.5 982.4,462.5 982.8,462.5 983.3,462.5 983.7,462.5 984.2,462.5 984.6,462.5 985,462.5 985.5,462.5 985.9,462.5 986.4,462.5 986.8,462.5 987.3,462.5 987.7,462.5 988.1,515.8 988.6,515.8 989,515.8 989.5,515.8 989.9,515.8 990.4,515.8 990.8,515.8 991.3,515.8 991.7,515.8 992.1,515.8 992.6,515.8 993,515.8 993.5,515.8 993.9,515.8 994.4,515.8 994.8,515.8 995.2,515.8 995.7,515.8 996.1,462.5 996.6,462.5 997,462.5 997.5,462.5 997.9,462.5 998.4,462.5 998.8,462.5 999.2,462.5 999.7,462.5 1000.1,462.5 1000.6,462.5 1001,462.5 1001.5,462.5 1001.9,462.5 1002.4,462.5 1002.8,462.5 1003.2,462.5 1003.7,462.5 1004.1,462.5 1004.6,462.5 1005,462.5 1005.5,462.5 1005.9,462.5 1006.3,462.5 1006.8,462.5 1007.2,462.5 1007.7,462.5 1008.1,462.5 1008.6,462.5 1009,462.5 1009.5,462.5 1009.9,462.5 1010.3,462.5 1010.8,462.5 1011.2,462.5 1011.7,462.5 1012.1,462.5 1012.6,462.5 1013,462.5" stroke="#ff7f0e" stroke-width="3.6" stroke-dasharray="3.6 5.0"/>
</g>
<rect x="827.0" y="436.0" width="194.0" height="106.0" fill="none" stroke="#000" stroke-width="1.7"/>
<text x="810.5" y="522" font-size="16" text-anchor="end" textLength="8.4" lengthAdjust="spacingAndGlyphs">0</text>
<text x="810.5" y="468.7" font-size="16" text-anchor="end" textLength="7.5" lengthAdjust="spacingAndGlyphs">1</text>
<text x="835.5" y="569.8" font-size="15.5" text-anchor="middle" textLength="9.4" lengthAdjust="spacingAndGlyphs">0</text>
<text x="924.2" y="569.8" font-size="15.5" text-anchor="middle" textLength="28.2" lengthAdjust="spacingAndGlyphs">100</text>
<text x="1013" y="569.8" font-size="15.5" text-anchor="middle" textLength="28.2" lengthAdjust="spacingAndGlyphs">200</text>
<path d="M819.5 515.8H827M819.5 462.5H827M835.5 542V549.5M924.2 542V549.5M1013 542V549.5" stroke="#000" stroke-width="1.5" fill="none"/>
<text x="924" y="595.5" font-size="17.5" text-anchor="middle" textLength="93" lengthAdjust="spacingAndGlyphs">time (a.u.)</text>
<g transform="translate(787.4 490.2) rotate(-90)"><path d="M-23 -6.2C-22.4 -8 -20.8 -8.4 -19.9 -7.1L-13.4 2.6C-12.8 3.5 -12 3.8 -11.4 3.4M-11.6 -8L-22.4 3.8" fill="none" stroke="#000" stroke-width="1.3" stroke-linecap="round"/><text x="-9.6" y="0" font-size="19">(</text><text x="-3.2" y="0" font-size="19" font-style="italic" textLength="10.2" lengthAdjust="spacingAndGlyphs">x</text><text x="9.6" y="2" font-size="13.5" font-style="italic">t</text><text x="16.6" y="0" font-size="19">)</text></g>
<text x="924" y="423.3" font-size="28.5" text-anchor="middle">100.0% acc.</text>
<text x="770" y="416.5" font-size="24" font-weight="bold" textLength="25.9" lengthAdjust="spacingAndGlyphs">(f)</text>
<g clip-path="url(#t01)">
<polyline fill="none" points="119.5,1003.1 119.9,1000.2 120.4,1003.5 120.8,1003.1 121.3,1005.4 121.7,1002.8 122.2,1002.8 122.6,1002.1 123,1003.9 123.5,1001.8 123.9,999.6 124.4,1005.5 124.8,1001.8 125.3,1005.3 125.7,1004.8 126.2,1009.9 126.6,1008.4 127,1004.8 127.5,1000.2 127.9,1003 128.4,1003.9 128.8,1004.4 129.3,1001.1 129.7,1003.6 130.2,1006.4 130.6,1005.9 131,1001.9 131.5,1003.9 131.9,1004.1 132.4,1003.3 132.8,1005.7 133.3,1000.2 133.7,1001.2 134.1,1005 134.6,1001.5 135,1005.7 135.5,1003.8 135.9,1004.7 136.4,1002.5 136.8,1003.5 137.2,1004.1 137.7,1004.2 138.1,1004.3 138.6,1004 139,1003.4 139.5,1004.1 139.9,1001.4 140.4,1002 140.8,1002.8 141.2,1003.4 141.7,1002.8 142.1,1004.1 142.6,1005.2 143,1003.1 143.5,1002.3 143.9,1002.7 144.3,1060.8 144.8,1056.6 145.2,1057 145.7,1053.8 146.1,1054.3 146.6,1058.8 147,1046.2 147.5,1051.2 147.9,1054.3 148.3,1054 148.8,1057.3 149.2,1057.8 149.7,1058 150.1,1060.1 150.6,1058.3 151,1055.6 151.4,1058 151.9,1056.7 152.3,1055.4 152.8,1055.6 153.2,1057.5 153.7,1053.4 154.1,1057.3 154.6,1064 155,1059.3 155.4,1055.9 155.9,1056.2 156.3,1058.8 156.8,1006.6 157.2,999.6 157.7,1001.2 158.1,1004.4 158.6,1004.1 159,1006.3 159.4,1004.3 159.9,1003.4 160.3,1003.7 160.8,1004.3 161.2,1003.5 161.7,1001.4 162.1,1001.9 162.5,1001.3 163,1002.7 163.4,1002.3 163.9,1000.5 164.3,1001.5 164.8,1003.4 165.2,1054.5 165.7,1054.7 166.1,1054.1 166.5,1054.6 167,1056.6 167.4,1056.7 167.9,1058.2 168.3,1054.4 168.8,1002.4 169.2,1001 169.6,1001.1 170.1,1000.9 170.5,999.9 171,998.5 171.4,1000.7 171.9,1003.7 172.3,1004.8 172.8,1005.3 173.2,1002.9 173.6,1002.6 174.1,1001.3 174.5,1008.5 175,1000.9 175.4,1003.3 175.9,1005.7 176.3,1003.9 176.7,1003.1 177.2,1003.3 177.6,1004.3 178.1,1001.7 178.5,1001.7 179,1002.7 179.4,999.5 179.8,1007.5 180.3,1005.7 180.7,1007.2 181.2,1057.9 181.6,1060.6 182.1,1058.9 182.5,1056.9 183,1052.1 183.4,1057.5 183.8,1050.6 184.3,1056.6 184.7,1054 185.2,1052.6 185.6,1056.4 186.1,1003.1 186.5,1002.4 186.9,1003.5 187.4,1056.9 187.8,1054.2 188.3,1053.6 188.7,1055.8 189.2,1041.2 189.6,1053.8 190.1,1059 190.5,1056.5 190.9,1052.4 191.4,1052.8 191.8,1055.9 192.3,1060.3 192.7,1059.4 193.2,1058.9 193.6,1058.7 194.1,1057.7 194.5,1056.4 194.9,1053.5 195.4,1057.2 195.8,1057.6 196.3,1056.7 196.7,1053.4 197.2,1055.9 197.6,1057.2 198,1060.7 198.5,1055.8 198.9,1054.8 199.4,1054.2 199.8,1057.7 200.3,1055.6 200.7,1057.1 201.1,1058.3 201.6,1060.2 202,1055.9 202.5,1053.4 202.9,1051.9 203.4,1057 203.8,1057.8 204.3,1057.1 204.7,1048.9 205.1,1055.5 205.6,1056 206,1058.4 206.5,1057.6 206.9,1059.2 207.4,1052.2 207.8,1055.3 208.2,1051.6 208.7,1054.8 209.1,1061.3 209.6,1058.4 210,1059.1 210.5,1056.9 210.9,1055.6 211.4,1055.8 211.8,1057.7 212.2,1059.6 212.7,1056.1 213.1,1054.9 213.6,1056.8 214,1058.4 214.5,1058.5 214.9,1059.6 215.3,1054.8 215.8,1058.2 216.2,1052.4 216.7,1056.3 217.1,1059.4 217.6,1006.2 218,1005.6 218.5,998.3 218.9,1005.2 219.3,1001.9 219.8,1000 220.2,997.7 220.7,999.7 221.1,1002.4 221.6,1001.8 222,1008.5 222.4,1005.2 222.9,1005.1 223.3,1001 223.8,1003.8 224.2,1004.7 224.7,1004.2 225.1,1004.4 225.6,1006.1 226,1002.7 226.4,1003.9 226.9,996.4 227.3,1004.9 227.8,1001 228.2,1001.2 228.7,1004.7 229.1,1002.4 229.6,999.9 230,999.6 230.4,1001.2 230.9,1005.2 231.3,1006.9 231.8,1006.1 232.2,1002.2 232.7,1001.1 233.1,1001.4 233.5,990.1 234,1005.4 234.4,1057.5 234.9,1052.7 235.3,1056.8 235.8,1053.8 236.2,1053.6 236.6,1054.5 237.1,1055.8 237.5,1062.2 238,1058.5 238.4,1060.1 238.9,1059.6 239.3,1057.5 239.8,1055 240.2,1054.5 240.6,1055.6 241.1,1057.8 241.5,1007.1 242,1004.8 242.4,1003.9 242.9,1005.8 243.3,1004.6 243.8,999.2 244.2,1001.5 244.6,1003.3 245.1,1002.4 245.5,1001.9 246,1004.5 246.4,1002.6 246.9,1002.2 247.3,1003 247.7,1002.9 248.2,1003.1 248.6,1003.9 249.1,1010 249.5,1003.7 250,1006.2 250.4,1002.4 250.8,999 251.3,1004.3 251.7,1007.9 252.2,1007 252.6,1009 253.1,1004 253.5,1004.4 254,1004.1 254.4,998.1 254.8,1001.4 255.3,998.7 255.7,999 256.2,1000.4 256.6,1001.3 257.1,1000 257.5,1006.1 257.9,1006 258.4,1002.5 258.8,1001.9 259.3,1005.5 259.7,1004.4 260.2,1001.5 260.6,1002.5 261.1,1001.8 261.5,1006.1 261.9,1006.3 262.4,1003.4 262.8,1002.7 263.3,1001.9 263.7,1002.2 264.2,998.9 264.6,1002.7 265,1001.2 265.5,1000.4 265.9,999.9 266.4,1006.1 266.8,999.6 267.3,1000.9 267.7,1001.8 268.2,1001.5 268.6,1003 269,1000.4 269.5,1005 269.9,1006.3 270.4,1001.2 270.8,1003.5 271.3,1001.4 271.7,1001.2 272.1,1054.9 272.6,1059 273,1055.5 273.5,1054.4 273.9,1059.4 274.4,1063.5 274.8,1054 275.3,1055.9 275.7,1056.2 276.1,1057.2 276.6,1056.6 277,1054 277.5,1056 277.9,1059.2 278.4,1056.4 278.8,1053.7 279.2,1056.1 279.7,1054 280.1,1001.3 280.6,1001.2 281,1007.9 281.5,1006.2 281.9,1007.3 282.4,1004.9 282.8,1000.7 283.2,1008.2 283.7,1006.2 284.1,1002.7 284.6,1001.5 285,1000.1 285.5,1003.4 285.9,1004.4 286.4,1005.1 286.8,1003.4 287.2,1005.4 287.7,1004.2 288.1,1004 288.6,998.6 289,999.1 289.5,999.8 289.9,1002.5 290.3,1005.8 290.8,1004.9 291.2,1006.7 291.7,1009.1 292.1,1008.5 292.6,1006.2 293,1006 293.4,1006.8 293.9,1008.3 294.3,1000.8 294.8,1002.9 295.2,1000.1 295.7,999.4 296.1,1002.5 296.6,1002.8 297,1006.7" stroke="#1f77b4" stroke-opacity="0.28" stroke-width="3.6" stroke-linejoin="round"/>
<polyline fill="none" points="119.5,999.5 119.9,999.5 120.4,999.5 120.8,999.5 121.3,999.5 121.7,999.5 122.2,999.5 122.6,999.5 123,999.5 123.5,999.5 123.9,999.5 124.4,999.5 124.8,999.5 125.3,999.5 125.7,999.5 126.2,999.5 126.6,999.5 127,999.5 127.5,999.5 127.9,999.5 128.4,999.5 128.8,999.5 129.3,999.5 129.7,999.5 130.2,999.5 130.6,999.5 131,999.5 131.5,999.5 131.9,999.5 132.4,999.5 132.8,999.5 133.3,999.5 133.7,999.5 134.1,999.5 134.6,999.5 135,999.5 135.5,999.5 135.9,999.5 136.4,999.5 136.8,999.5 137.2,999.5 137.7,999.5 138.1,999.5 138.6,999.5 139,999.5 139.5,999.5 139.9,999.5 140.4,999.5 140.8,999.5 141.2,999.5 141.7,999.5 142.1,999.5 142.6,999.5 143,999.5 143.5,999.5 143.9,999.5 144.3,1052.8 144.8,1052.8 145.2,1052.8 145.7,1052.8 146.1,1052.8 146.6,1052.8 147,1052.8 147.5,1052.8 147.9,1052.8 148.3,1052.8 148.8,1052.8 149.2,1052.8 149.7,1052.8 150.1,1052.8 150.6,1052.8 151,1052.8 151.4,1052.8 151.9,1052.8 152.3,1052.8 152.8,1052.8 153.2,1052.8 153.7,1052.8 154.1,1052.8 154.6,1052.8 155,1052.8 155.4,1052.8 155.9,1052.8 156.3,1052.8 156.8,999.5 157.2,999.5 157.7,999.5 158.1,999.5 158.6,999.5 159,999.5 159.4,999.5 159.9,999.5 160.3,999.5 160.8,999.5 161.2,999.5 161.7,999.5 162.1,999.5 162.5,999.5 163,999.5 163.4,999.5 163.9,999.5 164.3,999.5 164.8,999.5 165.2,1052.8 165.7,1052.8 166.1,1052.8 166.5,1052.8 167,1052.8 167.4,1052.8 167.9,1052.8 168.3,1052.8 168.8,999.5 169.2,999.5 169.6,999.5 170.1,999.5 170.5,999.5 171,999.5 171.4,999.5 171.9,999.5 172.3,999.5 172.8,999.5 173.2,999.5 173.6,999.5 174.1,999.5 174.5,999.5 175,999.5 175.4,999.5 175.9,999.5 176.3,999.5 176.7,999.5 177.2,999.5 177.6,999.5 178.1,999.5 178.5,999.5 179,999.5 179.4,999.5 179.8,999.5 180.3,999.5 180.7,999.5 181.2,1052.8 181.6,1052.8 182.1,1052.8 182.5,1052.8 183,1052.8 183.4,1052.8 183.8,1052.8 184.3,1052.8 184.7,1052.8 185.2,1052.8 185.6,1052.8 186.1,999.5 186.5,999.5 186.9,999.5 187.4,1052.8 187.8,1052.8 188.3,1052.8 188.7,1052.8 189.2,1052.8 189.6,1052.8 190.1,1052.8 190.5,1052.8 190.9,1052.8 191.4,1052.8 191.8,1052.8 192.3,1052.8 192.7,1052.8 193.2,1052.8 193.6,1052.8 194.1,1052.8 194.5,1052.8 194.9,1052.8 195.4,1052.8 195.8,1052.8 196.3,1052.8 196.7,1052.8 197.2,1052.8 197.6,1052.8 198,1052.8 198.5,1052.8 198.9,1052.8 199.4,1052.8 199.8,1052.8 200.3,1052.8 200.7,1052.8 201.1,1052.8 201.6,1052.8 202,1052.8 202.5,1052.8 202.9,1052.8 203.4,1052.8 203.8,1052.8 204.3,1052.8 204.7,1052.8 205.1,1052.8 205.6,1052.8 206,1052.8 206.5,1052.8 206.9,1052.8 207.4,1052.8 207.8,1052.8 208.2,1052.8 208.7,1052.8 209.1,1052.8 209.6,1052.8 210,1052.8 210.5,1052.8 210.9,1052.8 211.4,1052.8 211.8,1052.8 212.2,1052.8 212.7,1052.8 213.1,1052.8 213.6,1052.8 214,1052.8 214.5,1052.8 214.9,1052.8 215.3,1052.8 215.8,1052.8 216.2,1052.8 216.7,1052.8 217.1,1052.8 217.6,999.5 218,999.5 218.5,999.5 218.9,999.5 219.3,999.5 219.8,999.5 220.2,999.5 220.7,999.5 221.1,999.5 221.6,999.5 222,999.5 222.4,999.5 222.9,999.5 223.3,999.5 223.8,999.5 224.2,999.5 224.7,999.5 225.1,999.5 225.6,999.5 226,999.5 226.4,999.5 226.9,999.5 227.3,999.5 227.8,999.5 228.2,999.5 228.7,999.5 229.1,999.5 229.6,999.5 230,999.5 230.4,999.5 230.9,999.5 231.3,999.5 231.8,999.5 232.2,999.5 232.7,999.5 233.1,999.5 233.5,999.5 234,999.5 234.4,1052.8 234.9,1052.8 235.3,1052.8 235.8,1052.8 236.2,1052.8 236.6,1052.8 237.1,1052.8 237.5,1052.8 238,1052.8 238.4,1052.8 238.9,1052.8 239.3,1052.8 239.8,1052.8 240.2,1052.8 240.6,1052.8 241.1,1052.8 241.5,999.5 242,999.5 242.4,999.5 242.9,999.5 243.3,999.5 243.8,999.5 244.2,999.5 244.6,999.5 245.1,999.5 245.5,999.5 246,999.5 246.4,999.5 246.9,999.5 247.3,999.5 247.7,999.5 248.2,999.5 248.6,999.5 249.1,999.5 249.5,999.5 250,999.5 250.4,999.5 250.8,999.5 251.3,999.5 251.7,999.5 252.2,999.5 252.6,999.5 253.1,999.5 253.5,999.5 254,999.5 254.4,999.5 254.8,999.5 255.3,999.5 255.7,999.5 256.2,999.5 256.6,999.5 257.1,999.5 257.5,999.5 257.9,999.5 258.4,999.5 258.8,999.5 259.3,999.5 259.7,999.5 260.2,999.5 260.6,999.5 261.1,999.5 261.5,999.5 261.9,999.5 262.4,999.5 262.8,999.5 263.3,999.5 263.7,999.5 264.2,999.5 264.6,999.5 265,999.5 265.5,999.5 265.9,999.5 266.4,999.5 266.8,999.5 267.3,999.5 267.7,999.5 268.2,999.5 268.6,999.5 269,999.5 269.5,999.5 269.9,999.5 270.4,999.5 270.8,999.5 271.3,999.5 271.7,999.5 272.1,1052.8 272.6,1052.8 273,1052.8 273.5,1052.8 273.9,1052.8 274.4,1052.8 274.8,1052.8 275.3,1052.8 275.7,1052.8 276.1,1052.8 276.6,1052.8 277,1052.8 277.5,1052.8 277.9,1052.8 278.4,1052.8 278.8,1052.8 279.2,1052.8 279.7,1052.8 280.1,999.5 280.6,999.5 281,999.5 281.5,999.5 281.9,999.5 282.4,999.5 282.8,999.5 283.2,999.5 283.7,999.5 284.1,999.5 284.6,999.5 285,999.5 285.5,999.5 285.9,999.5 286.4,999.5 286.8,999.5 287.2,999.5 287.7,999.5 288.1,999.5 288.6,999.5 289,999.5 289.5,999.5 289.9,999.5 290.3,999.5 290.8,999.5 291.2,999.5 291.7,999.5 292.1,999.5 292.6,999.5 293,999.5 293.4,999.5 293.9,999.5 294.3,999.5 294.8,999.5 295.2,999.5 295.7,999.5 296.1,999.5 296.6,999.5 297,999.5" stroke="#1f77b4" stroke-width="3.7" stroke-linejoin="round" stroke-linecap="round"/>
<polyline fill="none" points="119.5,999.5 119.9,999.5 120.4,999.5 120.8,999.5 121.3,999.5 121.7,999.5 122.2,999.5 122.6,999.5 123,999.5 123.5,999.5 123.9,999.5 124.4,999.5 124.8,999.5 125.3,999.5 125.7,999.5 126.2,999.5 126.6,999.5 127,999.5 127.5,999.5 127.9,999.5 128.4,999.5 128.8,999.5 129.3,999.5 129.7,999.5 130.2,999.5 130.6,999.5 131,999.5 131.5,999.5 131.9,999.5 132.4,999.5 132.8,999.5 133.3,999.5 133.7,999.5 134.1,999.5 134.6,999.5 135,999.5 135.5,999.5 135.9,999.5 136.4,999.5 136.8,999.5 137.2,999.5 137.7,999.5 138.1,999.5 138.6,999.5 139,999.5 139.5,999.5 139.9,999.5 140.4,999.5 140.8,999.5 141.2,999.5 141.7,999.5 142.1,999.5 142.6,999.5 143,999.5 143.5,999.5 143.9,999.5 144.3,1052.8 144.8,1052.8 145.2,1052.8 145.7,1052.8 146.1,1052.8 146.6,1052.8 147,1052.8 147.5,1052.8 147.9,1052.8 148.3,1052.8 148.8,1052.8 149.2,1052.8 149.7,1052.8 150.1,1052.8 150.6,1052.8 151,1052.8 151.4,1052.8 151.9,1052.8 152.3,1052.8 152.8,1052.8 153.2,1052.8 153.7,1052.8 154.1,1052.8 154.6,1052.8 155,1052.8 155.4,1052.8 155.9,1052.8 156.3,1052.8 156.8,999.5 157.2,999.5 157.7,999.5 158.1,999.5 158.6,999.5 159,999.5 159.4,999.5 159.9,999.5 160.3,999.5 160.8,999.5 161.2,999.5 161.7,999.5 162.1,999.5 162.5,999.5 163,999.5 163.4,999.5 163.9,999.5 164.3,999.5 164.8,999.5 165.2,1052.8 165.7,1052.8 166.1,1052.8 166.5,1052.8 167,1052.8 167.4,1052.8 167.9,1052.8 168.3,1052.8 168.8,999.5 169.2,999.5 169.6,999.5 170.1,999.5 170.5,999.5 171,999.5 171.4,999.5 171.9,999.5 172.3,999.5 172.8,999.5 173.2,999.5 173.6,999.5 174.1,999.5 174.5,999.5 175,999.5 175.4,999.5 175.9,999.5 176.3,999.5 176.7,999.5 177.2,999.5 177.6,999.5 178.1,999.5 178.5,999.5 179,999.5 179.4,999.5 179.8,999.5 180.3,999.5 180.7,999.5 181.2,1052.8 181.6,1052.8 182.1,1052.8 182.5,1052.8 183,1052.8 183.4,1052.8 183.8,1052.8 184.3,1052.8 184.7,1052.8 185.2,1052.8 185.6,1052.8 186.1,999.5 186.5,999.5 186.9,999.5 187.4,1052.8 187.8,1052.8 188.3,1052.8 188.7,1052.8 189.2,1052.8 189.6,1052.8 190.1,1052.8 190.5,1052.8 190.9,1052.8 191.4,1052.8 191.8,1052.8 192.3,1052.8 192.7,1052.8 193.2,1052.8 193.6,1052.8 194.1,1052.8 194.5,1052.8 194.9,1052.8 195.4,1052.8 195.8,1052.8 196.3,1052.8 196.7,1052.8 197.2,1052.8 197.6,1052.8 198,1052.8 198.5,1052.8 198.9,1052.8 199.4,1052.8 199.8,1052.8 200.3,1052.8 200.7,1052.8 201.1,1052.8 201.6,1052.8 202,1052.8 202.5,1052.8 202.9,1052.8 203.4,1052.8 203.8,1052.8 204.3,1052.8 204.7,1052.8 205.1,1052.8 205.6,1052.8 206,1052.8 206.5,1052.8 206.9,1052.8 207.4,1052.8 207.8,1052.8 208.2,1052.8 208.7,1052.8 209.1,1052.8 209.6,1052.8 210,1052.8 210.5,1052.8 210.9,1052.8 211.4,1052.8 211.8,1052.8 212.2,1052.8 212.7,1052.8 213.1,1052.8 213.6,1052.8 214,1052.8 214.5,1052.8 214.9,1052.8 215.3,1052.8 215.8,1052.8 216.2,1052.8 216.7,1052.8 217.1,1052.8 217.6,999.5 218,999.5 218.5,999.5 218.9,999.5 219.3,999.5 219.8,999.5 220.2,999.5 220.7,999.5 221.1,999.5 221.6,999.5 222,999.5 222.4,999.5 222.9,999.5 223.3,999.5 223.8,999.5 224.2,999.5 224.7,999.5 225.1,999.5 225.6,999.5 226,999.5 226.4,999.5 226.9,999.5 227.3,999.5 227.8,999.5 228.2,999.5 228.7,999.5 229.1,999.5 229.6,999.5 230,999.5 230.4,999.5 230.9,999.5 231.3,999.5 231.8,999.5 232.2,999.5 232.7,999.5 233.1,999.5 233.5,999.5 234,999.5 234.4,1052.8 234.9,1052.8 235.3,1052.8 235.8,1052.8 236.2,1052.8 236.6,1052.8 237.1,1052.8 237.5,1052.8 238,1052.8 238.4,1052.8 238.9,1052.8 239.3,1052.8 239.8,1052.8 240.2,1052.8 240.6,1052.8 241.1,1052.8 241.5,999.5 242,999.5 242.4,999.5 242.9,999.5 243.3,999.5 243.8,999.5 244.2,999.5 244.6,999.5 245.1,999.5 245.5,999.5 246,999.5 246.4,999.5 246.9,999.5 247.3,999.5 247.7,999.5 248.2,999.5 248.6,999.5 249.1,999.5 249.5,999.5 250,999.5 250.4,999.5 250.8,999.5 251.3,999.5 251.7,999.5 252.2,999.5 252.6,999.5 253.1,999.5 253.5,999.5 254,999.5 254.4,999.5 254.8,999.5 255.3,999.5 255.7,999.5 256.2,999.5 256.6,999.5 257.1,999.5 257.5,999.5 257.9,999.5 258.4,999.5 258.8,999.5 259.3,999.5 259.7,999.5 260.2,999.5 260.6,999.5 261.1,999.5 261.5,999.5 261.9,999.5 262.4,999.5 262.8,999.5 263.3,999.5 263.7,999.5 264.2,999.5 264.6,999.5 265,999.5 265.5,999.5 265.9,999.5 266.4,999.5 266.8,999.5 267.3,999.5 267.7,999.5 268.2,999.5 268.6,999.5 269,999.5 269.5,999.5 269.9,999.5 270.4,999.5 270.8,999.5 271.3,999.5 271.7,999.5 272.1,1052.8 272.6,1052.8 273,1052.8 273.5,1052.8 273.9,1052.8 274.4,1052.8 274.8,1052.8 275.3,1052.8 275.7,1052.8 276.1,1052.8 276.6,1052.8 277,1052.8 277.5,1052.8 277.9,1052.8 278.4,1052.8 278.8,1052.8 279.2,1052.8 279.7,1052.8 280.1,999.5 280.6,999.5 281,999.5 281.5,999.5 281.9,999.5 282.4,999.5 282.8,999.5 283.2,999.5 283.7,999.5 284.1,999.5 284.6,999.5 285,999.5 285.5,999.5 285.9,999.5 286.4,999.5 286.8,999.5 287.2,999.5 287.7,999.5 288.1,999.5 288.6,999.5 289,999.5 289.5,999.5 289.9,999.5 290.3,999.5 290.8,999.5 291.2,999.5 291.7,999.5 292.1,999.5 292.6,999.5 293,999.5 293.4,999.5 293.9,999.5 294.3,999.5 294.8,999.5 295.2,999.5 295.7,999.5 296.1,999.5 296.6,999.5 297,999.5" stroke="#ff7f0e" stroke-width="3.6" stroke-dasharray="3.6 5.0"/>
</g>
<rect x="111.0" y="973.0" width="194.0" height="106.0" fill="none" stroke="#000" stroke-width="1.7"/>
<text x="94.5" y="1059" font-size="16" text-anchor="end" textLength="8.4" lengthAdjust="spacingAndGlyphs">0</text>
<text x="94.5" y="1005.7" font-size="16" text-anchor="end" textLength="7.5" lengthAdjust="spacingAndGlyphs">1</text>
<text x="119.5" y="1106.8" font-size="15.5" text-anchor="middle" textLength="9.4" lengthAdjust="spacingAndGlyphs">0</text>
<text x="208.2" y="1106.8" font-size="15.5" text-anchor="middle" textLength="28.2" lengthAdjust="spacingAndGlyphs">100</text>
<text x="297" y="1106.8" font-size="15.5" text-anchor="middle" textLength="28.2" lengthAdjust="spacingAndGlyphs">200</text>
<path d="M103.5 1052.8H111M103.5 999.5H111M119.5 1079V1086.5M208.2 1079V1086.5M297 1079V1086.5" stroke="#000" stroke-width="1.5" fill="none"/>
<text x="208" y="1132.5" font-size="17.5" text-anchor="middle" textLength="93" lengthAdjust="spacingAndGlyphs">time (a.u.)</text>
<g transform="translate(71.4 1027.2) rotate(-90)"><path d="M-23 -6.2C-22.4 -8 -20.8 -8.4 -19.9 -7.1L-13.4 2.6C-12.8 3.5 -12 3.8 -11.4 3.4M-11.6 -8L-22.4 3.8" fill="none" stroke="#000" stroke-width="1.3" stroke-linecap="round"/><text x="-9.6" y="0" font-size="19">(</text><text x="-3.2" y="0" font-size="19" font-style="italic" textLength="10.2" lengthAdjust="spacingAndGlyphs">x</text><text x="9.6" y="2" font-size="13.5" font-style="italic">t</text><text x="16.6" y="0" font-size="19">)</text></g>
<text x="208" y="960.3" font-size="28.5" text-anchor="middle">99.9% acc.</text>
<text x="54" y="953.5" font-size="24" font-weight="bold" textLength="25.9" lengthAdjust="spacingAndGlyphs">(j)</text>
<g clip-path="url(#t11)">
<polyline fill="none" points="477.5,1008.9 477.9,1013.6 478.4,1002.3 478.8,1004 479.3,1006.6 479.7,1004 480.2,1006.1 480.6,1008.4 481.1,1009.4 481.5,1010.1 481.9,1007.5 482.4,1009.9 482.8,1014.4 483.3,1012.7 483.7,1008.1 484.2,1002.6 484.6,1009.2 485,1009.4 485.5,1005.4 485.9,1004.7 486.4,1005.2 486.8,1007.8 487.3,1004 487.7,1005.4 488.1,1005.6 488.6,1014 489,1009.6 489.5,1008 489.9,1005.6 490.4,1009.7 490.8,1007.7 491.3,1000.7 491.7,1004 492.1,1003.8 492.6,1006.2 493,1009.6 493.5,1009.3 493.9,1012 494.4,1005.4 494.8,1009 495.2,1011.2 495.7,1008.7 496.1,1012.3 496.6,1007.4 497,1009.4 497.5,1004.4 497.9,1003.9 498.4,1010 498.8,1007.6 499.2,1002.8 499.7,1011.6 500.1,1010.9 500.6,1012.9 501,1008.3 501.5,1008.2 501.9,1011 502.4,1065.2 502.8,1063.6 503.2,1072.7 503.7,1067.4 504.1,1055.1 504.6,1062.8 505,1055.2 505.5,1058.4 505.9,1061.8 506.3,1058.8 506.8,1051.4 507.2,1053.8 507.7,1056.3 508.1,1056.6 508.6,1058.7 509,1056.8 509.4,1045.7 509.9,1059 510.3,1063.3 510.8,1065.1 511.2,1068.5 511.7,1065.9 512.1,1065.1 512.6,1059.7 513,1064.3 513.4,1063.9 513.9,1060.7 514.3,1064.6 514.8,1010.5 515.2,1009.4 515.7,1008.5 516.1,1002.1 516.5,1004.9 517,1005.7 517.4,1003.7 517.9,1007 518.3,1005.9 518.8,1012.2 519.2,1012.8 519.7,1009 520.1,1001.3 520.5,1002 521,1006.6 521.4,1007.7 521.9,1006.9 522.3,1004.5 522.8,1009.3 523.2,1055.6 523.6,1059.5 524.1,1066 524.5,1065.2 525,1067.5 525.4,1070.7 525.9,1061.7 526.3,1062.5 526.8,1009.6 527.2,1003.6 527.6,1001.8 528.1,1011 528.5,1010.8 529,1009.3 529.4,1002.6 529.9,1006.3 530.3,1008.5 530.8,1017 531.2,1014.9 531.6,1009.8 532.1,1004.8 532.5,1009.1 533,1012.9 533.4,1006.1 533.9,1005.2 534.3,1004.1 534.7,1003 535.2,1002.4 535.6,1003 536.1,1004.5 536.5,1003.3 537,1011.5 537.4,1014.6 537.9,1006.4 538.3,1003.5 538.7,1006.7 539.2,1065.4 539.6,1063.7 540.1,1058.7 540.5,1059.4 541,1064.3 541.4,1062.5 541.8,1070.7 542.3,1070.8 542.7,1065.8 543.2,1062.7 543.6,1059.8 544.1,1009.5 544.5,1013.8 545,1006.2 545.4,1058 545.8,1067.2 546.3,1062.2 546.7,1052.1 547.2,1057.4 547.6,1063.8 548.1,1060.6 548.5,1058.6 548.9,1064.6 549.4,1064.1 549.8,1070.4 550.3,1056 550.7,1057.8 551.2,1059 551.6,1064 552,1071.5 552.5,1071.9 552.9,1067.3 553.4,1064.3 553.8,1064.9 554.3,1070 554.7,1069 555.2,1067.2 555.6,1058 556,1059.4 556.5,1058.5 556.9,1059.7 557.4,1057.9 557.8,1072.2 558.3,1074 558.7,1063.9 559.1,1069.9 559.6,1074.1 560,1068.2 560.5,1049.4 560.9,1053.9 561.4,1060.6 561.8,1059.4 562.3,1060.8 562.7,1060.2 563.1,1059.5 563.6,1059.6 564,1067.1 564.5,1061.7 564.9,1061.2 565.4,1067.7 565.8,1061.6 566.2,1067.9 566.7,1067.9 567.1,1063.4 567.6,1059.3 568,1065.1 568.5,1065.3 568.9,1062.1 569.4,1063.1 569.8,1057.9 570.2,1057.9 570.7,1072 571.1,1068.8 571.6,1063.4 572,1060 572.5,1055.6 572.9,1054.6 573.4,1055.5 573.8,1057.7 574.2,1060.2 574.7,1059.7 575.1,1071.4 575.6,1012.1 576,1011.2 576.5,1009.5 576.9,1003.6 577.3,1011.2 577.8,1013.2 578.2,1009.4 578.7,1010.9 579.1,1017.8 579.6,1019.5 580,1005.5 580.5,1008.8 580.9,1010.5 581.3,1003 581.8,1001.4 582.2,1008.2 582.7,1006.4 583.1,997.8 583.6,1004.1 584,1009.9 584.4,1009.7 584.9,1003 585.3,1003.3 585.8,1004.4 586.2,1007 586.7,1007.9 587.1,1006.4 587.5,1008.1 588,1008.9 588.4,1014.3 588.9,1006 589.3,999.1 589.8,1002.4 590.2,998.4 590.7,1002.9 591.1,1003.3 591.5,1002.1 592,1014.5 592.4,1065.2 592.9,1058.7 593.3,1055.6 593.8,1057.1 594.2,1058.2 594.6,1062 595.1,1061.9 595.5,1060 596,1066.2 596.4,1070.8 596.9,1062 597.3,1058.7 597.8,1061.1 598.2,1068.5 598.6,1070.6 599.1,1061.2 599.5,1000.2 600,1003.5 600.4,1002.8 600.9,999.1 601.3,1008 601.8,1011.8 602.2,1011.1 602.6,1003.3 603.1,1000.9 603.5,1009.1 604,1014.5 604.4,1013 604.9,1007.5 605.3,1006.7 605.7,1002 606.2,1011.6 606.6,1008.4 607.1,1007.3 607.5,1007.6 608,1008 608.4,1006.3 608.9,1005.9 609.3,1010.9 609.7,1015.9 610.2,1010.6 610.6,1014.3 611.1,1006 611.5,1004.3 612,1006.6 612.4,1005.7 612.8,1004.1 613.3,1009.6 613.7,1008 614.2,1014 614.6,1014.8 615.1,1009.3 615.5,1009.9 616,1014.7 616.4,1013.7 616.8,1006.9 617.3,1007.1 617.7,1010.7 618.2,1016.9 618.6,1018.9 619.1,1020.2 619.5,1017.7 619.9,1009.3 620.4,1005.2 620.8,1011 621.3,1014.8 621.7,1005.1 622.2,1004.7 622.6,1005.3 623,1005.9 623.5,1008.1 623.9,1007.2 624.4,1002.4 624.8,1002 625.3,1006.4 625.7,1010 626.2,1011.2 626.6,1009.3 627,1008.7 627.5,1004.3 627.9,1009.3 628.4,1014.2 628.8,1012.3 629.3,1011.5 629.7,1011.2 630.1,1051.6 630.6,1060.1 631,1066.6 631.5,1062.3 631.9,1059.7 632.4,1067.9 632.8,1057.7 633.3,1054.5 633.7,1055.8 634.1,1060.7 634.6,1059.5 635,1059.3 635.5,1057.1 635.9,1053.5 636.4,1057.9 636.8,1056 637.2,1062.3 637.7,1057.7 638.1,1004.3 638.6,1005.4 639,1004.3 639.5,999.7 639.9,1009.3 640.4,1024.1 640.8,1023.2 641.2,1007.6 641.7,1005.4 642.1,1011 642.6,1003.7 643,1001.9 643.5,1006.9 643.9,1016.3 644.4,1012.6 644.8,1010.1 645.2,1005.9 645.7,1005.3 646.1,1006 646.6,1005.9 647,1005.7 647.5,1005.6 647.9,1003 648.3,1009.9 648.8,1012.1 649.2,1007.1 649.7,1012.1 650.1,1013.2 650.6,1000.1 651,1008.4 651.5,1007.4 651.9,1007.8 652.3,1009.8 652.8,1009.2 653.2,1003.8 653.7,1006.8 654.1,1006 654.6,1010.7 655,1012.8" stroke="#1f77b4" stroke-opacity="0.28" stroke-width="3.6" stroke-linejoin="round"/>
<polyline fill="none" points="477.5,999.5 477.9,999.5 478.4,999.5 478.8,999.5 479.3,999.5 479.7,999.5 480.2,999.5 480.6,999.5 481.1,999.5 481.5,999.5 481.9,999.5 482.4,999.5 482.8,999.5 483.3,999.5 483.7,999.5 484.2,999.5 484.6,999.5 485,999.5 485.5,999.5 485.9,999.5 486.4,999.5 486.8,999.5 487.3,999.5 487.7,999.5 488.1,999.5 488.6,999.5 489,999.5 489.5,999.5 489.9,999.5 490.4,999.5 490.8,999.5 491.3,999.5 491.7,999.5 492.1,999.5 492.6,999.5 493,999.5 493.5,999.5 493.9,999.5 494.4,999.5 494.8,999.5 495.2,999.5 495.7,999.5 496.1,999.5 496.6,999.5 497,999.5 497.5,999.5 497.9,999.5 498.4,999.5 498.8,999.5 499.2,999.5 499.7,999.5 500.1,999.5 500.6,999.5 501,999.5 501.5,999.5 501.9,999.5 502.4,1052.8 502.8,1052.8 503.2,1052.8 503.7,1052.8 504.1,1052.8 504.6,1052.8 505,1052.8 505.5,1052.8 505.9,1052.8 506.3,1052.8 506.8,1052.8 507.2,1052.8 507.7,1052.8 508.1,1052.8 508.6,1052.8 509,1052.8 509.4,1052.8 509.9,1052.8 510.3,1052.8 510.8,1052.8 511.2,1052.8 511.7,1052.8 512.1,1052.8 512.6,1052.8 513,1052.8 513.4,1052.8 513.9,1052.8 514.3,1052.8 514.8,999.5 515.2,999.5 515.7,999.5 516.1,999.5 516.5,999.5 517,999.5 517.4,999.5 517.9,999.5 518.3,999.5 518.8,999.5 519.2,999.5 519.7,999.5 520.1,999.5 520.5,999.5 521,999.5 521.4,999.5 521.9,999.5 522.3,999.5 522.8,999.5 523.2,1052.8 523.6,1052.8 524.1,1052.8 524.5,1052.8 525,1052.8 525.4,1052.8 525.9,1052.8 526.3,1052.8 526.8,999.5 527.2,999.5 527.6,999.5 528.1,999.5 528.5,999.5 529,999.5 529.4,999.5 529.9,999.5 530.3,999.5 530.8,999.5 531.2,999.5 531.6,999.5 532.1,999.5 532.5,999.5 533,999.5 533.4,999.5 533.9,999.5 534.3,999.5 534.7,999.5 535.2,999.5 535.6,999.5 536.1,999.5 536.5,999.5 537,999.5 537.4,999.5 537.9,999.5 538.3,999.5 538.7,999.5 539.2,1052.8 539.6,1052.8 540.1,1052.8 540.5,1052.8 541,1052.8 541.4,1052.8 541.8,1052.8 542.3,1052.8 542.7,1052.8 543.2,1052.8 543.6,1052.8 544.1,999.5 544.5,999.5 545,999.5 545.4,1052.8 545.8,1052.8 546.3,1052.8 546.7,1052.8 547.2,1052.8 547.6,1052.8 548.1,1052.8 548.5,1052.8 548.9,1052.8 549.4,1052.8 549.8,1052.8 550.3,1052.8 550.7,1052.8 551.2,1052.8 551.6,1052.8 552,1052.8 552.5,1052.8 552.9,1052.8 553.4,1052.8 553.8,1052.8 554.3,1052.8 554.7,1052.8 555.2,1052.8 555.6,1052.8 556,1052.8 556.5,1052.8 556.9,1052.8 557.4,1052.8 557.8,1052.8 558.3,1052.8 558.7,1052.8 559.1,1052.8 559.6,1052.8 560,1052.8 560.5,1052.8 560.9,1052.8 561.4,1052.8 561.8,1052.8 562.3,1052.8 562.7,1052.8 563.1,1052.8 563.6,1052.8 564,1052.8 564.5,1052.8 564.9,1052.8 565.4,1052.8 565.8,1052.8 566.2,1052.8 566.7,1052.8 567.1,1052.8 567.6,1052.8 568,1052.8 568.5,1052.8 568.9,1052.8 569.4,1052.8 569.8,1052.8 570.2,1052.8 570.7,1052.8 571.1,1052.8 571.6,1052.8 572,1052.8 572.5,1052.8 572.9,1052.8 573.4,1052.8 573.8,1052.8 574.2,1052.8 574.7,1052.8 575.1,1052.8 575.6,999.5 576,999.5 576.5,999.5 576.9,999.5 577.3,999.5 577.8,999.5 578.2,999.5 578.7,999.5 579.1,999.5 579.6,999.5 580,999.5 580.5,999.5 580.9,999.5 581.3,999.5 581.8,999.5 582.2,999.5 582.7,999.5 583.1,999.5 583.6,999.5 584,999.5 584.4,999.5 584.9,999.5 585.3,999.5 585.8,999.5 586.2,999.5 586.7,999.5 587.1,999.5 587.5,999.5 588,999.5 588.4,999.5 588.9,999.5 589.3,999.5 589.8,999.5 590.2,999.5 590.7,999.5 591.1,999.5 591.5,999.5 592,999.5 592.4,1052.8 592.9,1052.8 593.3,1052.8 593.8,1052.8 594.2,1052.8 594.6,1052.8 595.1,1052.8 595.5,1052.8 596,1052.8 596.4,1052.8 596.9,1052.8 597.3,1052.8 597.8,1052.8 598.2,1052.8 598.6,1052.8 599.1,1052.8 599.5,999.5 600,999.5 600.4,999.5 600.9,999.5 601.3,999.5 601.8,999.5 602.2,999.5 602.6,999.5 603.1,999.5 603.5,999.5 604,999.5 604.4,999.5 604.9,999.5 605.3,999.5 605.7,999.5 606.2,999.5 606.6,999.5 607.1,999.5 607.5,999.5 608,999.5 608.4,999.5 608.9,999.5 609.3,999.5 609.7,999.5 610.2,999.5 610.6,999.5 611.1,999.5 611.5,999.5 612,999.5 612.4,999.5 612.8,999.5 613.3,999.5 613.7,999.5 614.2,999.5 614.6,999.5 615.1,999.5 615.5,999.5 616,999.5 616.4,999.5 616.8,999.5 617.3,999.5 617.7,999.5 618.2,999.5 618.6,999.5 619.1,999.5 619.5,999.5 619.9,999.5 620.4,999.5 620.8,999.5 621.3,999.5 621.7,999.5 622.2,999.5 622.6,999.5 623,999.5 623.5,999.5 623.9,999.5 624.4,999.5 624.8,999.5 625.3,999.5 625.7,999.5 626.2,999.5 626.6,999.5 627,999.5 627.5,999.5 627.9,999.5 628.4,999.5 628.8,999.5 629.3,999.5 629.7,999.5 630.1,1052.8 630.6,1052.8 631,1052.8 631.5,1052.8 631.9,1052.8 632.4,1052.8 632.8,1052.8 633.3,1052.8 633.7,1052.8 634.1,1052.8 634.6,1052.8 635,1052.8 635.5,1052.8 635.9,1052.8 636.4,1052.8 636.8,1052.8 637.2,1052.8 637.7,1052.8 638.1,999.5 638.6,999.5 639,999.5 639.5,999.5 639.9,999.5 640.4,999.5 640.8,999.5 641.2,999.5 641.7,999.5 642.1,999.5 642.6,999.5 643,999.5 643.5,999.5 643.9,999.5 644.4,999.5 644.8,999.5 645.2,999.5 645.7,999.5 646.1,999.5 646.6,999.5 647,999.5 647.5,999.5 647.9,999.5 648.3,999.5 648.8,999.5 649.2,999.5 649.7,999.5 650.1,999.5 650.6,999.5 651,999.5 651.5,999.5 651.9,999.5 652.3,999.5 652.8,999.5 653.2,999.5 653.7,999.5 654.1,999.5 654.6,999.5 655,999.5" stroke="#1f77b4" stroke-width="3.7" stroke-linejoin="round" stroke-linecap="round"/>
<polyline fill="none" points="477.5,999.5 477.9,999.5 478.4,999.5 478.8,999.5 479.3,999.5 479.7,999.5 480.2,999.5 480.6,999.5 481.1,999.5 481.5,999.5 481.9,999.5 482.4,999.5 482.8,999.5 483.3,999.5 483.7,999.5 484.2,999.5 484.6,999.5 485,999.5 485.5,999.5 485.9,999.5 486.4,999.5 486.8,999.5 487.3,999.5 487.7,999.5 488.1,999.5 488.6,999.5 489,999.5 489.5,999.5 489.9,999.5 490.4,999.5 490.8,999.5 491.3,999.5 491.7,999.5 492.1,999.5 492.6,999.5 493,999.5 493.5,999.5 493.9,999.5 494.4,999.5 494.8,999.5 495.2,999.5 495.7,999.5 496.1,999.5 496.6,999.5 497,999.5 497.5,999.5 497.9,999.5 498.4,999.5 498.8,999.5 499.2,999.5 499.7,999.5 500.1,999.5 500.6,999.5 501,999.5 501.5,999.5 501.9,999.5 502.4,1052.8 502.8,1052.8 503.2,1052.8 503.7,1052.8 504.1,1052.8 504.6,1052.8 505,1052.8 505.5,1052.8 505.9,1052.8 506.3,1052.8 506.8,1052.8 507.2,1052.8 507.7,1052.8 508.1,1052.8 508.6,1052.8 509,1052.8 509.4,1052.8 509.9,1052.8 510.3,1052.8 510.8,1052.8 511.2,1052.8 511.7,1052.8 512.1,1052.8 512.6,1052.8 513,1052.8 513.4,1052.8 513.9,1052.8 514.3,1052.8 514.8,999.5 515.2,999.5 515.7,999.5 516.1,999.5 516.5,999.5 517,999.5 517.4,999.5 517.9,999.5 518.3,999.5 518.8,999.5 519.2,999.5 519.7,999.5 520.1,999.5 520.5,999.5 521,999.5 521.4,999.5 521.9,999.5 522.3,999.5 522.8,999.5 523.2,1052.8 523.6,1052.8 524.1,1052.8 524.5,1052.8 525,1052.8 525.4,1052.8 525.9,1052.8 526.3,1052.8 526.8,999.5 527.2,999.5 527.6,999.5 528.1,999.5 528.5,999.5 529,999.5 529.4,999.5 529.9,999.5 530.3,999.5 530.8,999.5 531.2,999.5 531.6,999.5 532.1,999.5 532.5,999.5 533,999.5 533.4,999.5 533.9,999.5 534.3,999.5 534.7,999.5 535.2,999.5 535.6,999.5 536.1,999.5 536.5,999.5 537,999.5 537.4,999.5 537.9,999.5 538.3,999.5 538.7,999.5 539.2,1052.8 539.6,1052.8 540.1,1052.8 540.5,1052.8 541,1052.8 541.4,1052.8 541.8,1052.8 542.3,1052.8 542.7,1052.8 543.2,1052.8 543.6,1052.8 544.1,999.5 544.5,999.5 545,999.5 545.4,1052.8 545.8,1052.8 546.3,1052.8 546.7,1052.8 547.2,1052.8 547.6,1052.8 548.1,1052.8 548.5,1052.8 548.9,1052.8 549.4,1052.8 549.8,1052.8 550.3,1052.8 550.7,1052.8 551.2,1052.8 551.6,1052.8 552,1052.8 552.5,1052.8 552.9,1052.8 553.4,1052.8 553.8,1052.8 554.3,1052.8 554.7,1052.8 555.2,1052.8 555.6,1052.8 556,1052.8 556.5,1052.8 556.9,1052.8 557.4,1052.8 557.8,1052.8 558.3,1052.8 558.7,1052.8 559.1,1052.8 559.6,1052.8 560,1052.8 560.5,1052.8 560.9,1052.8 561.4,1052.8 561.8,1052.8 562.3,1052.8 562.7,1052.8 563.1,1052.8 563.6,1052.8 564,1052.8 564.5,1052.8 564.9,1052.8 565.4,1052.8 565.8,1052.8 566.2,1052.8 566.7,1052.8 567.1,1052.8 567.6,1052.8 568,1052.8 568.5,1052.8 568.9,1052.8 569.4,1052.8 569.8,1052.8 570.2,1052.8 570.7,1052.8 571.1,1052.8 571.6,1052.8 572,1052.8 572.5,1052.8 572.9,1052.8 573.4,1052.8 573.8,1052.8 574.2,1052.8 574.7,1052.8 575.1,1052.8 575.6,999.5 576,999.5 576.5,999.5 576.9,999.5 577.3,999.5 577.8,999.5 578.2,999.5 578.7,999.5 579.1,999.5 579.6,999.5 580,999.5 580.5,999.5 580.9,999.5 581.3,999.5 581.8,999.5 582.2,999.5 582.7,999.5 583.1,999.5 583.6,999.5 584,999.5 584.4,999.5 584.9,999.5 585.3,999.5 585.8,999.5 586.2,999.5 586.7,999.5 587.1,999.5 587.5,999.5 588,999.5 588.4,999.5 588.9,999.5 589.3,999.5 589.8,999.5 590.2,999.5 590.7,999.5 591.1,999.5 591.5,999.5 592,999.5 592.4,1052.8 592.9,1052.8 593.3,1052.8 593.8,1052.8 594.2,1052.8 594.6,1052.8 595.1,1052.8 595.5,1052.8 596,1052.8 596.4,1052.8 596.9,1052.8 597.3,1052.8 597.8,1052.8 598.2,1052.8 598.6,1052.8 599.1,1052.8 599.5,999.5 600,999.5 600.4,999.5 600.9,999.5 601.3,999.5 601.8,999.5 602.2,999.5 602.6,999.5 603.1,999.5 603.5,999.5 604,999.5 604.4,999.5 604.9,999.5 605.3,999.5 605.7,999.5 606.2,999.5 606.6,999.5 607.1,999.5 607.5,999.5 608,999.5 608.4,999.5 608.9,999.5 609.3,999.5 609.7,999.5 610.2,999.5 610.6,999.5 611.1,999.5 611.5,999.5 612,999.5 612.4,999.5 612.8,999.5 613.3,999.5 613.7,999.5 614.2,999.5 614.6,999.5 615.1,999.5 615.5,999.5 616,999.5 616.4,999.5 616.8,999.5 617.3,999.5 617.7,999.5 618.2,999.5 618.6,999.5 619.1,999.5 619.5,999.5 619.9,999.5 620.4,999.5 620.8,999.5 621.3,999.5 621.7,999.5 622.2,999.5 622.6,999.5 623,999.5 623.5,999.5 623.9,999.5 624.4,999.5 624.8,999.5 625.3,999.5 625.7,999.5 626.2,999.5 626.6,999.5 627,999.5 627.5,999.5 627.9,999.5 628.4,999.5 628.8,999.5 629.3,999.5 629.7,999.5 630.1,1052.8 630.6,1052.8 631,1052.8 631.5,1052.8 631.9,1052.8 632.4,1052.8 632.8,1052.8 633.3,1052.8 633.7,1052.8 634.1,1052.8 634.6,1052.8 635,1052.8 635.5,1052.8 635.9,1052.8 636.4,1052.8 636.8,1052.8 637.2,1052.8 637.7,1052.8 638.1,999.5 638.6,999.5 639,999.5 639.5,999.5 639.9,999.5 640.4,999.5 640.8,999.5 641.2,999.5 641.7,999.5 642.1,999.5 642.6,999.5 643,999.5 643.5,999.5 643.9,999.5 644.4,999.5 644.8,999.5 645.2,999.5 645.7,999.5 646.1,999.5 646.6,999.5 647,999.5 647.5,999.5 647.9,999.5 648.3,999.5 648.8,999.5 649.2,999.5 649.7,999.5 650.1,999.5 650.6,999.5 651,999.5 651.5,999.5 651.9,999.5 652.3,999.5 652.8,999.5 653.2,999.5 653.7,999.5 654.1,999.5 654.6,999.5 655,999.5" stroke="#ff7f0e" stroke-width="3.6" stroke-dasharray="3.6 5.0"/>
</g>
<rect x="469.0" y="973.0" width="194.0" height="106.0" fill="none" stroke="#000" stroke-width="1.7"/>
<text x="452.5" y="1059" font-size="16" text-anchor="end" textLength="8.4" lengthAdjust="spacingAndGlyphs">0</text>
<text x="452.5" y="1005.7" font-size="16" text-anchor="end" textLength="7.5" lengthAdjust="spacingAndGlyphs">1</text>
<text x="477.5" y="1106.8" font-size="15.5" text-anchor="middle" textLength="9.4" lengthAdjust="spacingAndGlyphs">0</text>
<text x="566.2" y="1106.8" font-size="15.5" text-anchor="middle" textLength="28.2" lengthAdjust="spacingAndGlyphs">100</text>
<text x="655" y="1106.8" font-size="15.5" text-anchor="middle" textLength="28.2" lengthAdjust="spacingAndGlyphs">200</text>
<path d="M461.5 1052.8H469M461.5 999.5H469M477.5 1079V1086.5M566.2 1079V1086.5M655 1079V1086.5" stroke="#000" stroke-width="1.5" fill="none"/>
<text x="566" y="1132.5" font-size="17.5" text-anchor="middle" textLength="93" lengthAdjust="spacingAndGlyphs">time (a.u.)</text>
<g transform="translate(429.4 1027.2) rotate(-90)"><path d="M-23 -6.2C-22.4 -8 -20.8 -8.4 -19.9 -7.1L-13.4 2.6C-12.8 3.5 -12 3.8 -11.4 3.4M-11.6 -8L-22.4 3.8" fill="none" stroke="#000" stroke-width="1.3" stroke-linecap="round"/><text x="-9.6" y="0" font-size="19">(</text><text x="-3.2" y="0" font-size="19" font-style="italic" textLength="10.2" lengthAdjust="spacingAndGlyphs">x</text><text x="9.6" y="2" font-size="13.5" font-style="italic">t</text><text x="16.6" y="0" font-size="19">)</text></g>
<text x="566" y="960.3" font-size="28.5" text-anchor="middle">100.0% acc.</text>
<text x="412" y="953.5" font-size="24" font-weight="bold" textLength="32.2" lengthAdjust="spacingAndGlyphs">(k)</text>
<g clip-path="url(#t21)">
<polyline fill="none" points="835.5,1002.3 835.9,1002.5 836.4,1001.7 836.8,1001.1 837.3,1000.9 837.7,1002.2 838.2,1001.9 838.6,1000.5 839,1000 839.5,999.9 839.9,1000.7 840.4,1001.6 840.8,1001.5 841.3,1001.1 841.7,1000.5 842.2,1002 842.6,1002.4 843,1001.4 843.5,1000.6 843.9,1001.2 844.4,1001.1 844.8,1000.7 845.3,1001.1 845.7,1000.6 846.1,1002.2 846.6,1002.2 847,1000.9 847.5,1001.3 847.9,1000.6 848.4,1000.7 848.8,1000 849.3,1000.1 849.7,1000.6 850.1,1000.2 850.6,1000.4 851,1000.3 851.5,1000.7 851.9,1001 852.4,1000.7 852.8,1000.2 853.2,1002.3 853.7,1002.4 854.1,1001.5 854.6,1000.3 855,1001.2 855.5,1001 855.9,1000.6 856.4,999.8 856.8,1001.1 857.2,1001.7 857.7,1001.6 858.1,1000.1 858.6,999.3 859,1000.7 859.5,1001.3 859.9,1000.7 860.4,1054.7 860.8,1053.8 861.2,1052.9 861.7,1053.3 862.1,1054.4 862.6,1052.8 863,1053.5 863.5,1054.6 863.9,1055.6 864.3,1055 864.8,1054.4 865.2,1053.9 865.7,1053 866.1,1054 866.6,1053.2 867,1053.6 867.5,1052.7 867.9,1053.3 868.3,1054.4 868.8,1053.4 869.2,1054.8 869.7,1054.1 870.1,1053.8 870.6,1055.6 871,1055.9 871.4,1054.4 871.9,1054.6 872.3,1054.6 872.8,1000.8 873.2,999.3 873.7,1000.5 874.1,999.5 874.5,1000.7 875,1000.5 875.4,1002.1 875.9,1002.1 876.3,1001.5 876.8,1001.5 877.2,1002.2 877.7,1001.6 878.1,1000.7 878.5,1000.6 879,1001 879.4,1000.8 879.9,1000.5 880.3,1000 880.8,1000.3 881.2,1056.1 881.6,1056.5 882.1,1055.8 882.5,1054.6 883,1054.8 883.4,1055.4 883.9,1055.3 884.3,1055.3 884.8,1002.9 885.2,1002.3 885.6,1001.9 886.1,1001.6 886.5,1000.9 887,1001 887.4,1001.4 887.9,1000.5 888.3,999.1 888.8,1000.1 889.2,1000.2 889.6,1000.8 890.1,1001.4 890.5,1000.7 891,1002.6 891.4,1002.7 891.9,1001.7 892.3,1000.3 892.7,1000.8 893.2,1000.5 893.6,1000.7 894.1,1001.4 894.5,1000.6 895,1001.5 895.4,1000.2 895.9,1003.1 896.3,1001.7 896.7,1000.7 897.2,1054 897.6,1054.4 898.1,1053.4 898.5,1053 899,1053.3 899.4,1053.4 899.8,1053.6 900.3,1053.3 900.7,1053.5 901.2,1054.3 901.6,1056 902.1,1001.4 902.5,1000.5 903,1002 903.4,1054.2 903.8,1054.3 904.3,1053.7 904.7,1053.6 905.2,1054.8 905.6,1054.6 906.1,1052.9 906.5,1054.3 906.9,1055.4 907.4,1054 907.8,1054.6 908.3,1054 908.7,1053.1 909.2,1053.8 909.6,1053.2 910,1053.4 910.5,1054.8 910.9,1056.1 911.4,1054.5 911.8,1055.1 912.3,1053.8 912.7,1053.1 913.2,1053.7 913.6,1054 914,1052.9 914.5,1054 914.9,1054 915.4,1053.5 915.8,1054.4 916.3,1054.7 916.7,1054.5 917.1,1054.8 917.6,1055.3 918,1055.4 918.5,1055.7 918.9,1054.7 919.4,1053.8 919.8,1053.7 920.3,1055.2 920.7,1055.1 921.1,1053.5 921.6,1054 922,1053.7 922.5,1053.9 922.9,1054.3 923.4,1053.9 923.8,1053.3 924.2,1055.3 924.7,1053.9 925.1,1054.6 925.6,1054.1 926,1055 926.5,1054.8 926.9,1054.5 927.4,1055.9 927.8,1055.4 928.2,1055.8 928.7,1055.2 929.1,1054.6 929.6,1054.8 930,1054.8 930.5,1054.3 930.9,1053.1 931.4,1053.8 931.8,1054.5 932.2,1054.7 932.7,1055.1 933.1,1055.1 933.6,1000.6 934,1000.3 934.5,999.9 934.9,1001.8 935.3,1001.2 935.8,1002 936.2,1002.1 936.7,1000.5 937.1,1000.2 937.6,1000.5 938,1000.5 938.5,1001.3 938.9,1001.4 939.3,1000.3 939.8,1001.1 940.2,1001.4 940.7,1001 941.1,1000 941.6,1000.5 942,1000.4 942.4,1001 942.9,1002.4 943.3,1001.4 943.8,1000.8 944.2,1002.1 944.7,1001.8 945.1,1002.5 945.5,1001.3 946,1001 946.4,1003 946.9,1002.6 947.3,1000.5 947.8,1000.3 948.2,999.9 948.7,999.5 949.1,1000.9 949.5,1000.1 950,1000.3 950.4,1053.4 950.9,1052.9 951.3,1053.5 951.8,1054 952.2,1055 952.6,1054.3 953.1,1053.7 953.5,1054.7 954,1054.4 954.4,1054.6 954.9,1053.8 955.3,1054.6 955.8,1054 956.2,1054.2 956.6,1054.9 957.1,1054.1 957.5,1000.5 958,1001.5 958.4,1001.3 958.9,1000.9 959.3,1000.1 959.8,1001 960.2,1001.3 960.6,1000.2 961.1,1000.3 961.5,1002 962,1001.6 962.4,1000.5 962.9,999.7 963.3,1000.5 963.7,1002.8 964.2,1002.2 964.6,1002.5 965.1,1001.1 965.5,1000.8 966,999.5 966.4,999.7 966.9,1000.1 967.3,1000.9 967.7,1000.2 968.2,1001.6 968.6,1001.4 969.1,1001.3 969.5,1002.1 970,1001.7 970.4,1003 970.8,1000.7 971.3,1001.6 971.7,1001.1 972.2,1001.1 972.6,1000.9 973.1,1000 973.5,1002 974,1000.1 974.4,1000.6 974.8,999.6 975.3,999.9 975.7,1000.6 976.2,1002.1 976.6,1002.6 977.1,1000.8 977.5,1001.4 977.9,1000.4 978.4,1000.9 978.8,999.8 979.3,1001.2 979.7,1001.6 980.2,1002.1 980.6,1001.1 981,1000.4 981.5,1001.6 981.9,1002.1 982.4,1001.5 982.8,1000.6 983.3,1003.2 983.7,1002.5 984.2,1001.3 984.6,1001.2 985,1000.7 985.5,1001.2 985.9,1000.9 986.4,1001.4 986.8,999.7 987.3,1000.7 987.7,1000.1 988.1,1054.6 988.6,1054.5 989,1054.3 989.5,1054.4 989.9,1054.2 990.4,1053.4 990.8,1053.5 991.3,1054.2 991.7,1054.2 992.1,1053.6 992.6,1053.9 993,1053.6 993.5,1054.1 993.9,1055.8 994.4,1054.6 994.8,1054.6 995.2,1055 995.7,1054.6 996.1,1000.3 996.6,999.5 997,1000.3 997.5,1002.1 997.9,1000.3 998.4,1001.4 998.8,1000.7 999.2,1001.2 999.7,1001.3 1000.1,1001.9 1000.6,999.8 1001,1000 1001.5,1001.2 1001.9,1002 1002.4,1000.3 1002.8,1000.6 1003.2,1001.1 1003.7,1000.3 1004.1,998.4 1004.6,1000.4 1005,1000.2 1005.5,1000.8 1005.9,1001.2 1006.3,1003.5 1006.8,1004.2 1007.2,1002.3 1007.7,1001.4 1008.1,1000.2 1008.6,1002 1009,1001.8 1009.5,1000.3 1009.9,1000.4 1010.3,1001.4 1010.8,1001.1 1011.2,1002.1 1011.7,1000.9 1012.1,1000.3 1012.6,1001.1 1013,1000.9" stroke="#1f77b4" stroke-opacity="0.28" stroke-width="3.6" stroke-linejoin="round"/>
<polyline fill="none" points="835.5,999.5 835.9,999.5 836.4,999.5 836.8,999.5 837.3,999.5 837.7,999.5 838.2,999.5 838.6,999.5 839,999.5 839.5,999.5 839.9,999.5 840.4,999.5 840.8,999.5 841.3,999.5 841.7,999.5 842.2,999.5 842.6,999.5 843,999.5 843.5,999.5 843.9,999.5 844.4,999.5 844.8,999.5 845.3,999.5 845.7,999.5 846.1,999.5 846.6,999.5 847,999.5 847.5,999.5 847.9,999.5 848.4,999.5 848.8,999.5 849.3,999.5 849.7,999.5 850.1,999.5 850.6,999.5 851,999.5 851.5,999.5 851.9,999.5 852.4,999.5 852.8,999.5 853.2,999.5 853.7,999.5 854.1,999.5 854.6,999.5 855,999.5 855.5,999.5 855.9,999.5 856.4,999.5 856.8,999.5 857.2,999.5 857.7,999.5 858.1,999.5 858.6,999.5 859,999.5 859.5,999.5 859.9,999.5 860.4,1052.8 860.8,1052.8 861.2,1052.8 861.7,1052.8 862.1,1052.8 862.6,1052.8 863,1052.8 863.5,1052.8 863.9,1052.8 864.3,1052.8 864.8,1052.8 865.2,1052.8 865.7,1052.8 866.1,1052.8 866.6,1052.8 867,1052.8 867.5,1052.8 867.9,1052.8 868.3,1052.8 868.8,1052.8 869.2,1052.8 869.7,1052.8 870.1,1052.8 870.6,1052.8 871,1052.8 871.4,1052.8 871.9,1052.8 872.3,1052.8 872.8,999.5 873.2,999.5 873.7,999.5 874.1,999.5 874.5,999.5 875,999.5 875.4,999.5 875.9,999.5 876.3,999.5 876.8,999.5 877.2,999.5 877.7,999.5 878.1,999.5 878.5,999.5 879,999.5 879.4,999.5 879.9,999.5 880.3,999.5 880.8,999.5 881.2,1052.8 881.6,1052.8 882.1,1052.8 882.5,1052.8 883,1052.8 883.4,1052.8 883.9,1052.8 884.3,1052.8 884.8,999.5 885.2,999.5 885.6,999.5 886.1,999.5 886.5,999.5 887,999.5 887.4,999.5 887.9,999.5 888.3,999.5 888.8,999.5 889.2,999.5 889.6,999.5 890.1,999.5 890.5,999.5 891,999.5 891.4,999.5 891.9,999.5 892.3,999.5 892.7,999.5 893.2,999.5 893.6,999.5 894.1,999.5 894.5,999.5 895,999.5 895.4,999.5 895.9,999.5 896.3,999.5 896.7,999.5 897.2,1052.8 897.6,1052.8 898.1,1052.8 898.5,1052.8 899,1052.8 899.4,1052.8 899.8,1052.8 900.3,1052.8 900.7,1052.8 901.2,1052.8 901.6,1052.8 902.1,999.5 902.5,999.5 903,999.5 903.4,1052.8 903.8,1052.8 904.3,1052.8 904.7,1052.8 905.2,1052.8 905.6,1052.8 906.1,1052.8 906.5,1052.8 906.9,1052.8 907.4,1052.8 907.8,1052.8 908.3,1052.8 908.7,1052.8 909.2,1052.8 909.6,1052.8 910,1052.8 910.5,1052.8 910.9,1052.8 911.4,1052.8 911.8,1052.8 912.3,1052.8 912.7,1052.8 913.2,1052.8 913.6,1052.8 914,1052.8 914.5,1052.8 914.9,1052.8 915.4,1052.8 915.8,1052.8 916.3,1052.8 916.7,1052.8 917.1,1052.8 917.6,1052.8 918,1052.8 918.5,1052.8 918.9,1052.8 919.4,1052.8 919.8,1052.8 920.3,1052.8 920.7,1052.8 921.1,1052.8 921.6,1052.8 922,1052.8 922.5,1052.8 922.9,1052.8 923.4,1052.8 923.8,1052.8 924.2,1052.8 924.7,1052.8 925.1,1052.8 925.6,1052.8 926,1052.8 926.5,1052.8 926.9,1052.8 927.4,1052.8 927.8,1052.8 928.2,1052.8 928.7,1052.8 929.1,1052.8 929.6,1052.8 930,1052.8 930.5,1052.8 930.9,1052.8 931.4,1052.8 931.8,1052.8 932.2,1052.8 932.7,1052.8 933.1,1052.8 933.6,999.5 934,999.5 934.5,999.5 934.9,999.5 935.3,999.5 935.8,999.5 936.2,999.5 936.7,999.5 937.1,999.5 937.6,999.5 938,999.5 938.5,999.5 938.9,999.5 939.3,999.5 939.8,999.5 940.2,999.5 940.7,999.5 941.1,999.5 941.6,999.5 942,999.5 942.4,999.5 942.9,999.5 943.3,999.5 943.8,999.5 944.2,999.5 944.7,999.5 945.1,999.5 945.5,999.5 946,999.5 946.4,999.5 946.9,999.5 947.3,999.5 947.8,999.5 948.2,999.5 948.7,999.5 949.1,999.5 949.5,999.5 950,999.5 950.4,1052.8 950.9,1052.8 951.3,1052.8 951.8,1052.8 952.2,1052.8 952.6,1052.8 953.1,1052.8 953.5,1052.8 954,1052.8 954.4,1052.8 954.9,1052.8 955.3,1052.8 955.8,1052.8 956.2,1052.8 956.6,1052.8 957.1,1052.8 957.5,999.5 958,999.5 958.4,999.5 958.9,999.5 959.3,999.5 959.8,999.5 960.2,999.5 960.6,999.5 961.1,999.5 961.5,999.5 962,999.5 962.4,999.5 962.9,999.5 963.3,999.5 963.7,999.5 964.2,999.5 964.6,999.5 965.1,999.5 965.5,999.5 966,999.5 966.4,999.5 966.9,999.5 967.3,999.5 967.7,999.5 968.2,999.5 968.6,999.5 969.1,999.5 969.5,999.5 970,999.5 970.4,999.5 970.8,999.5 971.3,999.5 971.7,999.5 972.2,999.5 972.6,999.5 973.1,999.5 973.5,999.5 974,999.5 974.4,999.5 974.8,999.5 975.3,999.5 975.7,999.5 976.2,999.5 976.6,999.5 977.1,999.5 977.5,999.5 977.9,999.5 978.4,999.5 978.8,999.5 979.3,999.5 979.7,999.5 980.2,999.5 980.6,999.5 981,999.5 981.5,999.5 981.9,999.5 982.4,999.5 982.8,999.5 983.3,999.5 983.7,999.5 984.2,999.5 984.6,999.5 985,999.5 985.5,999.5 985.9,999.5 986.4,999.5 986.8,999.5 987.3,999.5 987.7,999.5 988.1,1052.8 988.6,1052.8 989,1052.8 989.5,1052.8 989.9,1052.8 990.4,1052.8 990.8,1052.8 991.3,1052.8 991.7,1052.8 992.1,1052.8 992.6,1052.8 993,1052.8 993.5,1052.8 993.9,1052.8 994.4,1052.8 994.8,1052.8 995.2,1052.8 995.7,1052.8 996.1,999.5 996.6,999.5 997,999.5 997.5,999.5 997.9,999.5 998.4,999.5 998.8,999.5 999.2,999.5 999.7,999.5 1000.1,999.5 1000.6,999.5 1001,999.5 1001.5,999.5 1001.9,999.5 1002.4,999.5 1002.8,999.5 1003.2,999.5 1003.7,999.5 1004.1,999.5 1004.6,999.5 1005,999.5 1005.5,999.5 1005.9,999.5 1006.3,999.5 1006.8,999.5 1007.2,999.5 1007.7,999.5 1008.1,999.5 1008.6,999.5 1009,999.5 1009.5,999.5 1009.9,999.5 1010.3,999.5 1010.8,999.5 1011.2,999.5 1011.7,999.5 1012.1,999.5 1012.6,999.5 1013,999.5" stroke="#1f77b4" stroke-width="3.7" stroke-linejoin="round" stroke-linecap="round"/>
<polyline fill="none" points="835.5,999.5 835.9,999.5 836.4,999.5 836.8,999.5 837.3,999.5 837.7,999.5 838.2,999.5 838.6,999.5 839,999.5 839.5,999.5 839.9,999.5 840.4,999.5 840.8,999.5 841.3,999.5 841.7,999.5 842.2,999.5 842.6,999.5 843,999.5 843.5,999.5 843.9,999.5 844.4,999.5 844.8,999.5 845.3,999.5 845.7,999.5 846.1,999.5 846.6,999.5 847,999.5 847.5,999.5 847.9,999.5 848.4,999.5 848.8,999.5 849.3,999.5 849.7,999.5 850.1,999.5 850.6,999.5 851,999.5 851.5,999.5 851.9,999.5 852.4,999.5 852.8,999.5 853.2,999.5 853.7,999.5 854.1,999.5 854.6,999.5 855,999.5 855.5,999.5 855.9,999.5 856.4,999.5 856.8,999.5 857.2,999.5 857.7,999.5 858.1,999.5 858.6,999.5 859,999.5 859.5,999.5 859.9,999.5 860.4,1052.8 860.8,1052.8 861.2,1052.8 861.7,1052.8 862.1,1052.8 862.6,1052.8 863,1052.8 863.5,1052.8 863.9,1052.8 864.3,1052.8 864.8,1052.8 865.2,1052.8 865.7,1052.8 866.1,1052.8 866.6,1052.8 867,1052.8 867.5,1052.8 867.9,1052.8 868.3,1052.8 868.8,1052.8 869.2,1052.8 869.7,1052.8 870.1,1052.8 870.6,1052.8 871,1052.8 871.4,1052.8 871.9,1052.8 872.3,1052.8 872.8,999.5 873.2,999.5 873.7,999.5 874.1,999.5 874.5,999.5 875,999.5 875.4,999.5 875.9,999.5 876.3,999.5 876.8,999.5 877.2,999.5 877.7,999.5 878.1,999.5 878.5,999.5 879,999.5 879.4,999.5 879.9,999.5 880.3,999.5 880.8,999.5 881.2,1052.8 881.6,1052.8 882.1,1052.8 882.5,1052.8 883,1052.8 883.4,1052.8 883.9,1052.8 884.3,1052.8 884.8,999.5 885.2,999.5 885.6,999.5 886.1,999.5 886.5,999.5 887,999.5 887.4,999.5 887.9,999.5 888.3,999.5 888.8,999.5 889.2,999.5 889.6,999.5 890.1,999.5 890.5,999.5 891,999.5 891.4,999.5 891.9,999.5 892.3,999.5 892.7,999.5 893.2,999.5 893.6,999.5 894.1,999.5 894.5,999.5 895,999.5 895.4,999.5 895.9,999.5 896.3,999.5 896.7,999.5 897.2,1052.8 897.6,1052.8 898.1,1052.8 898.5,1052.8 899,1052.8 899.4,1052.8 899.8,1052.8 900.3,1052.8 900.7,1052.8 901.2,1052.8 901.6,1052.8 902.1,999.5 902.5,999.5 903,999.5 903.4,1052.8 903.8,1052.8 904.3,1052.8 904.7,1052.8 905.2,1052.8 905.6,1052.8 906.1,1052.8 906.5,1052.8 906.9,1052.8 907.4,1052.8 907.8,1052.8 908.3,1052.8 908.7,1052.8 909.2,1052.8 909.6,1052.8 910,1052.8 910.5,1052.8 910.9,1052.8 911.4,1052.8 911.8,1052.8 912.3,1052.8 912.7,1052.8 913.2,1052.8 913.6,1052.8 914,1052.8 914.5,1052.8 914.9,1052.8 915.4,1052.8 915.8,1052.8 916.3,1052.8 916.7,1052.8 917.1,1052.8 917.6,1052.8 918,1052.8 918.5,1052.8 918.9,1052.8 919.4,1052.8 919.8,1052.8 920.3,1052.8 920.7,1052.8 921.1,1052.8 921.6,1052.8 922,1052.8 922.5,1052.8 922.9,1052.8 923.4,1052.8 923.8,1052.8 924.2,1052.8 924.7,1052.8 925.1,1052.8 925.6,1052.8 926,1052.8 926.5,1052.8 926.9,1052.8 927.4,1052.8 927.8,1052.8 928.2,1052.8 928.7,1052.8 929.1,1052.8 929.6,1052.8 930,1052.8 930.5,1052.8 930.9,1052.8 931.4,1052.8 931.8,1052.8 932.2,1052.8 932.7,1052.8 933.1,1052.8 933.6,999.5 934,999.5 934.5,999.5 934.9,999.5 935.3,999.5 935.8,999.5 936.2,999.5 936.7,999.5 937.1,999.5 937.6,999.5 938,999.5 938.5,999.5 938.9,999.5 939.3,999.5 939.8,999.5 940.2,999.5 940.7,999.5 941.1,999.5 941.6,999.5 942,999.5 942.4,999.5 942.9,999.5 943.3,999.5 943.8,999.5 944.2,999.5 944.7,999.5 945.1,999.5 945.5,999.5 946,999.5 946.4,999.5 946.9,999.5 947.3,999.5 947.8,999.5 948.2,999.5 948.7,999.5 949.1,999.5 949.5,999.5 950,999.5 950.4,1052.8 950.9,1052.8 951.3,1052.8 951.8,1052.8 952.2,1052.8 952.6,1052.8 953.1,1052.8 953.5,1052.8 954,1052.8 954.4,1052.8 954.9,1052.8 955.3,1052.8 955.8,1052.8 956.2,1052.8 956.6,1052.8 957.1,1052.8 957.5,999.5 958,999.5 958.4,999.5 958.9,999.5 959.3,999.5 959.8,999.5 960.2,999.5 960.6,999.5 961.1,999.5 961.5,999.5 962,999.5 962.4,999.5 962.9,999.5 963.3,999.5 963.7,999.5 964.2,999.5 964.6,999.5 965.1,999.5 965.5,999.5 966,999.5 966.4,999.5 966.9,999.5 967.3,999.5 967.7,999.5 968.2,999.5 968.6,999.5 969.1,999.5 969.5,999.5 970,999.5 970.4,999.5 970.8,999.5 971.3,999.5 971.7,999.5 972.2,999.5 972.6,999.5 973.1,999.5 973.5,999.5 974,999.5 974.4,999.5 974.8,999.5 975.3,999.5 975.7,999.5 976.2,999.5 976.6,999.5 977.1,999.5 977.5,999.5 977.9,999.5 978.4,999.5 978.8,999.5 979.3,999.5 979.7,999.5 980.2,999.5 980.6,999.5 981,999.5 981.5,999.5 981.9,999.5 982.4,999.5 982.8,999.5 983.3,999.5 983.7,999.5 984.2,999.5 984.6,999.5 985,999.5 985.5,999.5 985.9,999.5 986.4,999.5 986.8,999.5 987.3,999.5 987.7,999.5 988.1,1052.8 988.6,1052.8 989,1052.8 989.5,1052.8 989.9,1052.8 990.4,1052.8 990.8,1052.8 991.3,1052.8 991.7,1052.8 992.1,1052.8 992.6,1052.8 993,1052.8 993.5,1052.8 993.9,1052.8 994.4,1052.8 994.8,1052.8 995.2,1052.8 995.7,1052.8 996.1,999.5 996.6,999.5 997,999.5 997.5,999.5 997.9,999.5 998.4,999.5 998.8,999.5 999.2,999.5 999.7,999.5 1000.1,999.5 1000.6,999.5 1001,999.5 1001.5,999.5 1001.9,999.5 1002.4,999.5 1002.8,999.5 1003.2,999.5 1003.7,999.5 1004.1,999.5 1004.6,999.5 1005,999.5 1005.5,999.5 1005.9,999.5 1006.3,999.5 1006.8,999.5 1007.2,999.5 1007.7,999.5 1008.1,999.5 1008.6,999.5 1009,999.5 1009.5,999.5 1009.9,999.5 1010.3,999.5 1010.8,999.5 1011.2,999.5 1011.7,999.5 1012.1,999.5 1012.6,999.5 1013,999.5" stroke="#ff7f0e" stroke-width="3.6" stroke-dasharray="3.6 5.0"/>
</g>
<rect x="827.0" y="973.0" width="194.0" height="106.0" fill="none" stroke="#000" stroke-width="1.7"/>
<text x="810.5" y="1059" font-size="16" text-anchor="end" textLength="8.4" lengthAdjust="spacingAndGlyphs">0</text>
<text x="810.5" y="1005.7" font-size="16" text-anchor="end" textLength="7.5" lengthAdjust="spacingAndGlyphs">1</text>
<text x="835.5" y="1106.8" font-size="15.5" text-anchor="middle" textLength="9.4" lengthAdjust="spacingAndGlyphs">0</text>
<text x="924.2" y="1106.8" font-size="15.5" text-anchor="middle" textLength="28.2" lengthAdjust="spacingAndGlyphs">100</text>
<text x="1013" y="1106.8" font-size="15.5" text-anchor="middle" textLength="28.2" lengthAdjust="spacingAndGlyphs">200</text>
<path d="M819.5 1052.8H827M819.5 999.5H827M835.5 1079V1086.5M924.2 1079V1086.5M1013 1079V1086.5" stroke="#000" stroke-width="1.5" fill="none"/>
<text x="924" y="1132.5" font-size="17.5" text-anchor="middle" textLength="93" lengthAdjust="spacingAndGlyphs">time (a.u.)</text>
<g transform="translate(787.4 1027.2) rotate(-90)"><path d="M-23 -6.2C-22.4 -8 -20.8 -8.4 -19.9 -7.1L-13.4 2.6C-12.8 3.5 -12 3.8 -11.4 3.4M-11.6 -8L-22.4 3.8" fill="none" stroke="#000" stroke-width="1.3" stroke-linecap="round"/><text x="-9.6" y="0" font-size="19">(</text><text x="-3.2" y="0" font-size="19" font-style="italic" textLength="10.2" lengthAdjust="spacingAndGlyphs">x</text><text x="9.6" y="2" font-size="13.5" font-style="italic">t</text><text x="16.6" y="0" font-size="19">)</text></g>
<text x="924" y="960.3" font-size="28.5" text-anchor="middle">100.0% acc.</text>
<text x="770" y="953.5" font-size="24" font-weight="bold" textLength="24.5" lengthAdjust="spacingAndGlyphs">(l)</text>
</svg>
</body></html>
